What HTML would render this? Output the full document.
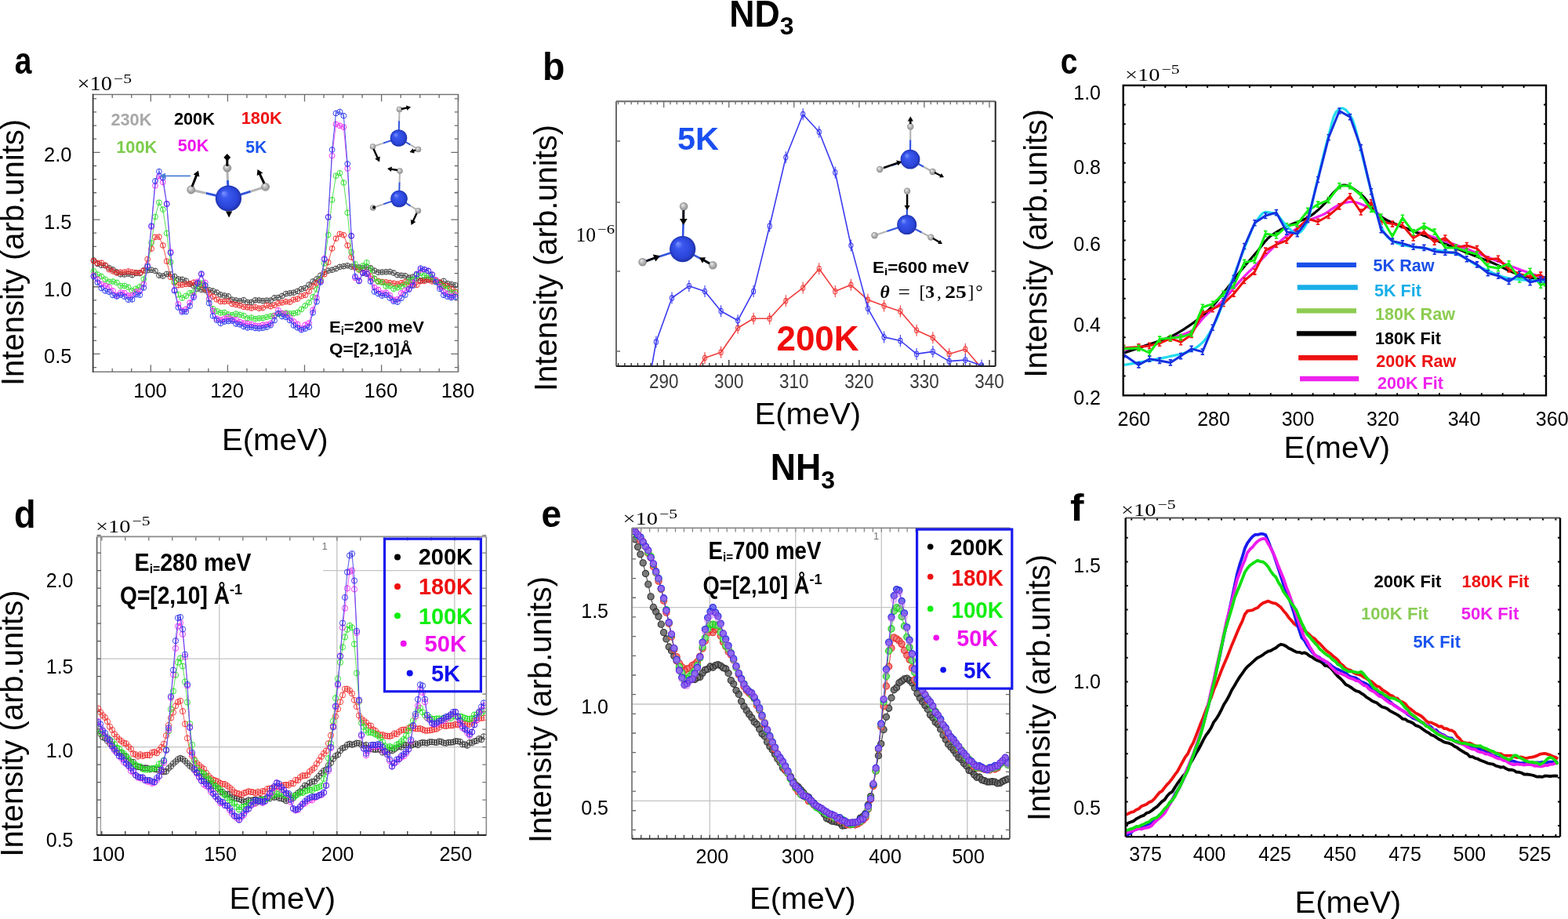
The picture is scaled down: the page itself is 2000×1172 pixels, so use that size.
<!DOCTYPE html>
<html><head><meta charset="utf-8"><title>ND3 / NH3 spectra</title>
<style>html,body{margin:0;padding:0;background:#fff;overflow:hidden;}svg{display:block;}</style></head>
<body><svg width="2000" height="1172" viewBox="0 0 2000 1172">
<rect width="2000" height="1172" fill="#fff"/>
<defs>
<radialGradient id="gN" cx="0.5" cy="0.5" r="0.5" fx="0.3" fy="0.28"><stop offset="0" stop-color="#7f98ff"/><stop offset="0.3" stop-color="#3a58ee"/><stop offset="0.8" stop-color="#2a44d8"/><stop offset="1" stop-color="#1d30a6"/></radialGradient>
<radialGradient id="gH" cx="0.5" cy="0.5" r="0.5" fx="0.35" fy="0.3"><stop offset="0" stop-color="#f0f0f0"/><stop offset="0.5" stop-color="#b8b8b8"/><stop offset="1" stop-color="#8a8a8a"/></radialGradient>
</defs><text x="930.3" y="33.6" font-family='"Liberation Sans", Arial, sans-serif' font-size="47.5" font-weight="bold" fill="#000"><tspan textLength="64.5" lengthAdjust="spacingAndGlyphs">ND</tspan><tspan font-size="32" dy="10.2">3</tspan></text>
<text x="982.8" y="611.8" font-family='"Liberation Sans", Arial, sans-serif' font-size="47.5" font-weight="bold" fill="#000"><tspan textLength="64.5" lengthAdjust="spacingAndGlyphs">NH</tspan><tspan font-size="32" dy="11">3</tspan></text>
<path d="M143.25,474.2v-4.5M167.78,474.2v-4.5M216.83,474.2v-4.5M241.35,474.2v-4.5M265.88,474.2v-4.5M314.93,474.2v-4.5M339.45,474.2v-4.5M363.98,474.2v-4.5M413.03,474.2v-4.5M437.55,474.2v-4.5M462.08,474.2v-4.5M511.12,474.2v-4.5M535.65,474.2v-4.5M560.17,474.2v-4.5" stroke="#6b6b6b" stroke-width="1.3" fill="none"/>
<path d="M192.3,474.2v-9M290.4,474.2v-9M388.5,474.2v-9M486.6,474.2v-9M584.7,474.2v-9" stroke="#6b6b6b" stroke-width="1.3" fill="none"/>
<path d="M143.25,120.5v4.5M167.78,120.5v4.5M216.83,120.5v4.5M241.35,120.5v4.5M265.88,120.5v4.5M314.93,120.5v4.5M339.45,120.5v4.5M363.98,120.5v4.5M413.03,120.5v4.5M437.55,120.5v4.5M462.08,120.5v4.5M511.12,120.5v4.5M535.65,120.5v4.5M560.17,120.5v4.5" stroke="#6b6b6b" stroke-width="1.3" fill="none"/>
<path d="M192.3,120.5v9M290.4,120.5v9M388.5,120.5v9M486.6,120.5v9M584.7,120.5v9" stroke="#6b6b6b" stroke-width="1.3" fill="none"/>
<path d="M118.6,468.59h4.5M118.6,434.31h4.5M118.6,417.17h4.5M118.6,400.03h4.5M118.6,382.89h4.5M118.6,348.61h4.5M118.6,331.47h4.5M118.6,314.33h4.5M118.6,297.19h4.5M118.6,262.91h4.5M118.6,245.77h4.5M118.6,228.63h4.5M118.6,211.49h4.5M118.6,177.21h4.5M118.6,160.07h4.5M118.6,142.93h4.5M118.6,125.79h4.5" stroke="#6b6b6b" stroke-width="1.3" fill="none"/>
<path d="M118.6,451.45h9M118.6,365.75h9M118.6,280.05h9M118.6,194.35h9" stroke="#6b6b6b" stroke-width="1.3" fill="none"/>
<path d="M584.3,468.59h-4.5M584.3,434.31h-4.5M584.3,417.17h-4.5M584.3,400.03h-4.5M584.3,382.89h-4.5M584.3,348.61h-4.5M584.3,331.47h-4.5M584.3,314.33h-4.5M584.3,297.19h-4.5M584.3,262.91h-4.5M584.3,245.77h-4.5M584.3,228.63h-4.5M584.3,211.49h-4.5M584.3,177.21h-4.5M584.3,160.07h-4.5M584.3,142.93h-4.5M584.3,125.79h-4.5" stroke="#6b6b6b" stroke-width="1.3" fill="none"/>
<path d="M584.3,451.45h-9M584.3,365.75h-9M584.3,280.05h-9M584.3,194.35h-9" stroke="#6b6b6b" stroke-width="1.3" fill="none"/>
<rect x="118.6" y="120.5" width="465.7" height="353.7" stroke="#707070" stroke-width="1.4" fill="none"/>
<line x1="118.6" y1="119.8" x2="118.6" y2="474.9" stroke="#383838" stroke-width="1.6"/>
<text x="191.5" y="507" font-size="25.5" font-weight="normal" fill="#000" text-anchor="middle" font-family='"Liberation Sans", Arial, sans-serif'>100</text>
<text x="289.6" y="507" font-size="25.5" font-weight="normal" fill="#000" text-anchor="middle" font-family='"Liberation Sans", Arial, sans-serif'>120</text>
<text x="387.7" y="507" font-size="25.5" font-weight="normal" fill="#000" text-anchor="middle" font-family='"Liberation Sans", Arial, sans-serif'>140</text>
<text x="485.8" y="507" font-size="25.5" font-weight="normal" fill="#000" text-anchor="middle" font-family='"Liberation Sans", Arial, sans-serif'>160</text>
<text x="583.9" y="507" font-size="25.5" font-weight="normal" fill="#000" text-anchor="middle" font-family='"Liberation Sans", Arial, sans-serif'>180</text>
<text x="91.5" y="463.45" font-size="25.5" font-weight="normal" fill="#000" text-anchor="end" font-family='"Liberation Sans", Arial, sans-serif'>0.5</text>
<text x="91.5" y="377.75" font-size="25.5" font-weight="normal" fill="#000" text-anchor="end" font-family='"Liberation Sans", Arial, sans-serif'>1.0</text>
<text x="91.5" y="292.05" font-size="25.5" font-weight="normal" fill="#000" text-anchor="end" font-family='"Liberation Sans", Arial, sans-serif'>1.5</text>
<text x="91.5" y="206.35" font-size="25.5" font-weight="normal" fill="#000" text-anchor="end" font-family='"Liberation Sans", Arial, sans-serif'>2.0</text>
<text x="98.5" y="115" font-family='"Liberation Serif", "Times New Roman", serif' font-size="25" fill="#000" textLength="44.5" lengthAdjust="spacingAndGlyphs">×10</text>
<text x="145" y="106.2" font-family='"Liberation Serif", "Times New Roman", serif' font-size="17.5" fill="#000" textLength="23" lengthAdjust="spacingAndGlyphs">−5</text>
<text transform="translate(18.67,94) scale(0.83,1.04)" x="0" y="0" font-family='"Liberation Sans", Arial, sans-serif' font-size="47" font-weight="bold" fill="#000">a</text>
<text x="283" y="573.8" font-size="38.3" font-weight="normal" fill="#000" text-anchor="start" font-family='"Liberation Sans", Arial, sans-serif' textLength="135.7" lengthAdjust="spacingAndGlyphs">E(meV)</text>
<text x="0" y="0" transform="translate(29.5,322) rotate(-90)" text-anchor="middle" font-family='"Liberation Sans", Arial, sans-serif' font-size="40" fill="#000">Intensity (arb.units)</text>
<g>
<polyline points="119.5,332.04 124.41,336.41 129.31,338.23 134.22,338.69 139.12,341.59 144.03,343.89 148.93,346.97 153.84,349.85 158.74,350.07 163.65,349.08 168.55,350.7 173.46,348.45 178.36,348.54 183.27,344.81 188.17,344.83 193.08,344.32 197.98,345.44 202.89,351.15 207.79,352.02 212.7,349.53 217.6,349.81 222.51,352.56 227.41,355.98 232.32,356.35 237.22,358.1 242.13,362.29 247.03,364.56 251.94,368.2 256.84,369.43 261.75,370.14 266.65,369.84 271.56,370.99 276.46,372.99 281.37,375.79 286.27,377 291.18,377.86 296.08,382.2 300.99,383.02 305.89,383.93 310.8,382.71 315.7,385.53 320.61,385.34 325.51,382.81 330.42,382.97 335.32,383.71 340.23,383.17 345.13,383.12 350.04,379.86 354.94,379.55 359.85,377.43 364.75,374.61 369.66,373.88 374.56,373.18 379.47,371.41 384.37,368.66 389.28,367.28 394.18,363.14 399.09,358.95 403.99,355.86 408.9,351.18 413.8,346.98 418.71,345.16 423.61,344.18 428.52,342.62 433.42,340.38 438.33,339.58 443.23,338.79 448.14,340.1 453.04,340.53 457.95,341.05 462.85,341.83 467.76,340.82 472.66,341.8 477.57,345.14 482.47,347.26 487.38,347.02 492.28,346.8 497.19,346.5 502.09,347.98 507,350.7 511.9,351.26 516.81,351.75 521.71,354.01 526.62,353.22 531.52,355.35 536.43,357.75 541.33,356.94 546.24,356.95 551.14,356.73 556.05,358.43 560.95,360.58 565.86,358.37 570.76,361.69 575.67,362.63 580.57,363.66" fill="none" stroke="#555" stroke-width="1" stroke-linejoin="round"/>
<path d="M116.1,332.04a3.4,3.4 0 1,0 6.8,0a3.4,3.4 0 1,0 -6.8,0M119.5,328.84v6.4M121,336.41a3.4,3.4 0 1,0 6.8,0a3.4,3.4 0 1,0 -6.8,0M124.41,333.21v6.4M125.91,338.23a3.4,3.4 0 1,0 6.8,0a3.4,3.4 0 1,0 -6.8,0M129.31,335.03v6.4M130.81,338.69a3.4,3.4 0 1,0 6.8,0a3.4,3.4 0 1,0 -6.8,0M134.22,335.49v6.4M135.72,341.59a3.4,3.4 0 1,0 6.8,0a3.4,3.4 0 1,0 -6.8,0M139.12,338.39v6.4M140.62,343.89a3.4,3.4 0 1,0 6.8,0a3.4,3.4 0 1,0 -6.8,0M144.03,340.69v6.4M145.53,346.97a3.4,3.4 0 1,0 6.8,0a3.4,3.4 0 1,0 -6.8,0M148.93,343.77v6.4M150.44,349.85a3.4,3.4 0 1,0 6.8,0a3.4,3.4 0 1,0 -6.8,0M153.84,346.65v6.4M155.34,350.07a3.4,3.4 0 1,0 6.8,0a3.4,3.4 0 1,0 -6.8,0M158.74,346.87v6.4M160.25,349.08a3.4,3.4 0 1,0 6.8,0a3.4,3.4 0 1,0 -6.8,0M163.65,345.88v6.4M165.15,350.7a3.4,3.4 0 1,0 6.8,0a3.4,3.4 0 1,0 -6.8,0M168.55,347.5v6.4M170.06,348.45a3.4,3.4 0 1,0 6.8,0a3.4,3.4 0 1,0 -6.8,0M173.46,345.25v6.4M174.96,348.54a3.4,3.4 0 1,0 6.8,0a3.4,3.4 0 1,0 -6.8,0M178.36,345.34v6.4M179.87,344.81a3.4,3.4 0 1,0 6.8,0a3.4,3.4 0 1,0 -6.8,0M183.27,341.61v6.4M184.77,344.83a3.4,3.4 0 1,0 6.8,0a3.4,3.4 0 1,0 -6.8,0M188.17,341.63v6.4M189.68,344.32a3.4,3.4 0 1,0 6.8,0a3.4,3.4 0 1,0 -6.8,0M193.08,341.12v6.4M194.58,345.44a3.4,3.4 0 1,0 6.8,0a3.4,3.4 0 1,0 -6.8,0M197.98,342.24v6.4M199.49,351.15a3.4,3.4 0 1,0 6.8,0a3.4,3.4 0 1,0 -6.8,0M202.89,347.95v6.4M204.39,352.02a3.4,3.4 0 1,0 6.8,0a3.4,3.4 0 1,0 -6.8,0M207.79,348.82v6.4M209.3,349.53a3.4,3.4 0 1,0 6.8,0a3.4,3.4 0 1,0 -6.8,0M212.7,346.33v6.4M214.2,349.81a3.4,3.4 0 1,0 6.8,0a3.4,3.4 0 1,0 -6.8,0M217.6,346.61v6.4M219.11,352.56a3.4,3.4 0 1,0 6.8,0a3.4,3.4 0 1,0 -6.8,0M222.51,349.36v6.4M224.01,355.98a3.4,3.4 0 1,0 6.8,0a3.4,3.4 0 1,0 -6.8,0M227.41,352.78v6.4M228.92,356.35a3.4,3.4 0 1,0 6.8,0a3.4,3.4 0 1,0 -6.8,0M232.32,353.15v6.4M233.82,358.1a3.4,3.4 0 1,0 6.8,0a3.4,3.4 0 1,0 -6.8,0M237.22,354.9v6.4M238.73,362.29a3.4,3.4 0 1,0 6.8,0a3.4,3.4 0 1,0 -6.8,0M242.13,359.09v6.4M243.63,364.56a3.4,3.4 0 1,0 6.8,0a3.4,3.4 0 1,0 -6.8,0M247.03,361.36v6.4M248.54,368.2a3.4,3.4 0 1,0 6.8,0a3.4,3.4 0 1,0 -6.8,0M251.94,365v6.4M253.44,369.43a3.4,3.4 0 1,0 6.8,0a3.4,3.4 0 1,0 -6.8,0M256.84,366.23v6.4M258.35,370.14a3.4,3.4 0 1,0 6.8,0a3.4,3.4 0 1,0 -6.8,0M261.75,366.94v6.4M263.25,369.84a3.4,3.4 0 1,0 6.8,0a3.4,3.4 0 1,0 -6.8,0M266.65,366.64v6.4M268.16,370.99a3.4,3.4 0 1,0 6.8,0a3.4,3.4 0 1,0 -6.8,0M271.56,367.79v6.4M273.06,372.99a3.4,3.4 0 1,0 6.8,0a3.4,3.4 0 1,0 -6.8,0M276.46,369.79v6.4M277.97,375.79a3.4,3.4 0 1,0 6.8,0a3.4,3.4 0 1,0 -6.8,0M281.37,372.59v6.4M282.87,377a3.4,3.4 0 1,0 6.8,0a3.4,3.4 0 1,0 -6.8,0M286.27,373.8v6.4M287.78,377.86a3.4,3.4 0 1,0 6.8,0a3.4,3.4 0 1,0 -6.8,0M291.18,374.66v6.4M292.68,382.2a3.4,3.4 0 1,0 6.8,0a3.4,3.4 0 1,0 -6.8,0M296.08,379v6.4M297.59,383.02a3.4,3.4 0 1,0 6.8,0a3.4,3.4 0 1,0 -6.8,0M300.99,379.82v6.4M302.49,383.93a3.4,3.4 0 1,0 6.8,0a3.4,3.4 0 1,0 -6.8,0M305.89,380.73v6.4M307.4,382.71a3.4,3.4 0 1,0 6.8,0a3.4,3.4 0 1,0 -6.8,0M310.8,379.51v6.4M312.3,385.53a3.4,3.4 0 1,0 6.8,0a3.4,3.4 0 1,0 -6.8,0M315.7,382.33v6.4M317.21,385.34a3.4,3.4 0 1,0 6.8,0a3.4,3.4 0 1,0 -6.8,0M320.61,382.14v6.4M322.11,382.81a3.4,3.4 0 1,0 6.8,0a3.4,3.4 0 1,0 -6.8,0M325.51,379.61v6.4M327.02,382.97a3.4,3.4 0 1,0 6.8,0a3.4,3.4 0 1,0 -6.8,0M330.42,379.77v6.4M331.92,383.71a3.4,3.4 0 1,0 6.8,0a3.4,3.4 0 1,0 -6.8,0M335.32,380.51v6.4M336.83,383.17a3.4,3.4 0 1,0 6.8,0a3.4,3.4 0 1,0 -6.8,0M340.23,379.97v6.4M341.73,383.12a3.4,3.4 0 1,0 6.8,0a3.4,3.4 0 1,0 -6.8,0M345.13,379.92v6.4M346.64,379.86a3.4,3.4 0 1,0 6.8,0a3.4,3.4 0 1,0 -6.8,0M350.04,376.66v6.4M351.54,379.55a3.4,3.4 0 1,0 6.8,0a3.4,3.4 0 1,0 -6.8,0M354.94,376.35v6.4M356.45,377.43a3.4,3.4 0 1,0 6.8,0a3.4,3.4 0 1,0 -6.8,0M359.85,374.23v6.4M361.35,374.61a3.4,3.4 0 1,0 6.8,0a3.4,3.4 0 1,0 -6.8,0M364.75,371.41v6.4M366.26,373.88a3.4,3.4 0 1,0 6.8,0a3.4,3.4 0 1,0 -6.8,0M369.66,370.68v6.4M371.16,373.18a3.4,3.4 0 1,0 6.8,0a3.4,3.4 0 1,0 -6.8,0M374.56,369.98v6.4M376.07,371.41a3.4,3.4 0 1,0 6.8,0a3.4,3.4 0 1,0 -6.8,0M379.47,368.21v6.4M380.97,368.66a3.4,3.4 0 1,0 6.8,0a3.4,3.4 0 1,0 -6.8,0M384.37,365.46v6.4M385.88,367.28a3.4,3.4 0 1,0 6.8,0a3.4,3.4 0 1,0 -6.8,0M389.28,364.08v6.4M390.78,363.14a3.4,3.4 0 1,0 6.8,0a3.4,3.4 0 1,0 -6.8,0M394.18,359.94v6.4M395.69,358.95a3.4,3.4 0 1,0 6.8,0a3.4,3.4 0 1,0 -6.8,0M399.09,355.75v6.4M400.59,355.86a3.4,3.4 0 1,0 6.8,0a3.4,3.4 0 1,0 -6.8,0M403.99,352.66v6.4M405.5,351.18a3.4,3.4 0 1,0 6.8,0a3.4,3.4 0 1,0 -6.8,0M408.9,347.98v6.4M410.4,346.98a3.4,3.4 0 1,0 6.8,0a3.4,3.4 0 1,0 -6.8,0M413.8,343.78v6.4M415.31,345.16a3.4,3.4 0 1,0 6.8,0a3.4,3.4 0 1,0 -6.8,0M418.71,341.96v6.4M420.21,344.18a3.4,3.4 0 1,0 6.8,0a3.4,3.4 0 1,0 -6.8,0M423.61,340.98v6.4M425.12,342.62a3.4,3.4 0 1,0 6.8,0a3.4,3.4 0 1,0 -6.8,0M428.52,339.42v6.4M430.02,340.38a3.4,3.4 0 1,0 6.8,0a3.4,3.4 0 1,0 -6.8,0M433.42,337.18v6.4M434.93,339.58a3.4,3.4 0 1,0 6.8,0a3.4,3.4 0 1,0 -6.8,0M438.33,336.38v6.4M439.83,338.79a3.4,3.4 0 1,0 6.8,0a3.4,3.4 0 1,0 -6.8,0M443.23,335.59v6.4M444.74,340.1a3.4,3.4 0 1,0 6.8,0a3.4,3.4 0 1,0 -6.8,0M448.14,336.9v6.4M449.64,340.53a3.4,3.4 0 1,0 6.8,0a3.4,3.4 0 1,0 -6.8,0M453.04,337.33v6.4M454.55,341.05a3.4,3.4 0 1,0 6.8,0a3.4,3.4 0 1,0 -6.8,0M457.95,337.85v6.4M459.45,341.83a3.4,3.4 0 1,0 6.8,0a3.4,3.4 0 1,0 -6.8,0M462.85,338.63v6.4M464.36,340.82a3.4,3.4 0 1,0 6.8,0a3.4,3.4 0 1,0 -6.8,0M467.76,337.62v6.4M469.26,341.8a3.4,3.4 0 1,0 6.8,0a3.4,3.4 0 1,0 -6.8,0M472.66,338.6v6.4M474.17,345.14a3.4,3.4 0 1,0 6.8,0a3.4,3.4 0 1,0 -6.8,0M477.57,341.94v6.4M479.07,347.26a3.4,3.4 0 1,0 6.8,0a3.4,3.4 0 1,0 -6.8,0M482.47,344.06v6.4M483.98,347.02a3.4,3.4 0 1,0 6.8,0a3.4,3.4 0 1,0 -6.8,0M487.38,343.82v6.4M488.88,346.8a3.4,3.4 0 1,0 6.8,0a3.4,3.4 0 1,0 -6.8,0M492.28,343.6v6.4M493.79,346.5a3.4,3.4 0 1,0 6.8,0a3.4,3.4 0 1,0 -6.8,0M497.19,343.3v6.4M498.69,347.98a3.4,3.4 0 1,0 6.8,0a3.4,3.4 0 1,0 -6.8,0M502.09,344.78v6.4M503.6,350.7a3.4,3.4 0 1,0 6.8,0a3.4,3.4 0 1,0 -6.8,0M507,347.5v6.4M508.5,351.26a3.4,3.4 0 1,0 6.8,0a3.4,3.4 0 1,0 -6.8,0M511.9,348.06v6.4M513.41,351.75a3.4,3.4 0 1,0 6.8,0a3.4,3.4 0 1,0 -6.8,0M516.81,348.55v6.4M518.31,354.01a3.4,3.4 0 1,0 6.8,0a3.4,3.4 0 1,0 -6.8,0M521.71,350.81v6.4M523.22,353.22a3.4,3.4 0 1,0 6.8,0a3.4,3.4 0 1,0 -6.8,0M526.62,350.02v6.4M528.12,355.35a3.4,3.4 0 1,0 6.8,0a3.4,3.4 0 1,0 -6.8,0M531.52,352.15v6.4M533.03,357.75a3.4,3.4 0 1,0 6.8,0a3.4,3.4 0 1,0 -6.8,0M536.43,354.55v6.4M537.93,356.94a3.4,3.4 0 1,0 6.8,0a3.4,3.4 0 1,0 -6.8,0M541.33,353.74v6.4M542.84,356.95a3.4,3.4 0 1,0 6.8,0a3.4,3.4 0 1,0 -6.8,0M546.24,353.75v6.4M547.74,356.73a3.4,3.4 0 1,0 6.8,0a3.4,3.4 0 1,0 -6.8,0M551.14,353.53v6.4M552.65,358.43a3.4,3.4 0 1,0 6.8,0a3.4,3.4 0 1,0 -6.8,0M556.05,355.23v6.4M557.55,360.58a3.4,3.4 0 1,0 6.8,0a3.4,3.4 0 1,0 -6.8,0M560.95,357.38v6.4M562.46,358.37a3.4,3.4 0 1,0 6.8,0a3.4,3.4 0 1,0 -6.8,0M565.86,355.17v6.4M567.36,361.69a3.4,3.4 0 1,0 6.8,0a3.4,3.4 0 1,0 -6.8,0M570.76,358.49v6.4M572.27,362.63a3.4,3.4 0 1,0 6.8,0a3.4,3.4 0 1,0 -6.8,0M575.67,359.43v6.4M577.17,363.66a3.4,3.4 0 1,0 6.8,0a3.4,3.4 0 1,0 -6.8,0M580.57,360.46v6.4" fill="none" stroke="#333" stroke-width="0.9"/>
<polyline points="119.5,332.73 124.41,335.4 129.31,335.24 134.22,338.25 139.12,343.63 144.03,345.9 148.93,348.12 153.84,347.23 158.74,347.12 163.65,346.06 168.55,347.05 173.46,347.67 178.36,347.75 183.27,345.18 188.17,330.49 193.08,317.1 197.98,302.36 202.89,302.1 207.79,312.94 212.7,333.24 217.6,353.35 222.51,360.33 227.41,363.69 232.32,363.22 237.22,362.41 242.13,362.1 247.03,360.2 251.94,361.32 256.84,363 261.75,368.42 266.65,374.37 271.56,378.19 276.46,381.87 281.37,384.52 286.27,384.57 291.18,384.08 296.08,387.57 300.99,388.51 305.89,389.57 310.8,391.37 315.7,391.96 320.61,393 325.51,391.75 330.42,393.25 335.32,392.68 340.23,389.61 345.13,390.77 350.04,389.18 354.94,386.9 359.85,385.87 364.75,384.77 369.66,385.19 374.56,382.15 379.47,381.18 384.37,377.61 389.28,376.34 394.18,371.45 399.09,365.11 403.99,360.92 408.9,357.86 413.8,349.77 418.71,334.51 423.61,316.92 428.52,304.2 433.42,298.36 438.33,299.75 443.23,312.96 448.14,328.08 453.04,341.31 457.95,344.05 462.85,347.95 467.76,349.26 472.66,352.04 477.57,355.51 482.47,358.48 487.38,359.5 492.28,359.84 497.19,360.64 502.09,361.23 507,362.19 511.9,360.81 516.81,359.52 521.71,362.71 526.62,363.22 531.52,363.39 536.43,358.62 541.33,358.35 546.24,356.57 551.14,358.89 556.05,358.09 560.95,360 565.86,364.53 570.76,364.52 575.67,368.35 580.57,371.95" fill="none" stroke="#f05050" stroke-width="1" stroke-linejoin="round"/>
<path d="M116.1,332.73a3.4,3.4 0 1,0 6.8,0a3.4,3.4 0 1,0 -6.8,0M119.5,329.53v6.4M121,335.4a3.4,3.4 0 1,0 6.8,0a3.4,3.4 0 1,0 -6.8,0M124.41,332.2v6.4M125.91,335.24a3.4,3.4 0 1,0 6.8,0a3.4,3.4 0 1,0 -6.8,0M129.31,332.04v6.4M130.81,338.25a3.4,3.4 0 1,0 6.8,0a3.4,3.4 0 1,0 -6.8,0M134.22,335.05v6.4M135.72,343.63a3.4,3.4 0 1,0 6.8,0a3.4,3.4 0 1,0 -6.8,0M139.12,340.43v6.4M140.62,345.9a3.4,3.4 0 1,0 6.8,0a3.4,3.4 0 1,0 -6.8,0M144.03,342.7v6.4M145.53,348.12a3.4,3.4 0 1,0 6.8,0a3.4,3.4 0 1,0 -6.8,0M148.93,344.92v6.4M150.44,347.23a3.4,3.4 0 1,0 6.8,0a3.4,3.4 0 1,0 -6.8,0M153.84,344.03v6.4M155.34,347.12a3.4,3.4 0 1,0 6.8,0a3.4,3.4 0 1,0 -6.8,0M158.74,343.92v6.4M160.25,346.06a3.4,3.4 0 1,0 6.8,0a3.4,3.4 0 1,0 -6.8,0M163.65,342.86v6.4M165.15,347.05a3.4,3.4 0 1,0 6.8,0a3.4,3.4 0 1,0 -6.8,0M168.55,343.85v6.4M170.06,347.67a3.4,3.4 0 1,0 6.8,0a3.4,3.4 0 1,0 -6.8,0M173.46,344.47v6.4M174.96,347.75a3.4,3.4 0 1,0 6.8,0a3.4,3.4 0 1,0 -6.8,0M178.36,344.55v6.4M179.87,345.18a3.4,3.4 0 1,0 6.8,0a3.4,3.4 0 1,0 -6.8,0M183.27,341.98v6.4M184.77,330.49a3.4,3.4 0 1,0 6.8,0a3.4,3.4 0 1,0 -6.8,0M188.17,327.29v6.4M189.68,317.1a3.4,3.4 0 1,0 6.8,0a3.4,3.4 0 1,0 -6.8,0M193.08,313.9v6.4M194.58,302.36a3.4,3.4 0 1,0 6.8,0a3.4,3.4 0 1,0 -6.8,0M197.98,299.16v6.4M199.49,302.1a3.4,3.4 0 1,0 6.8,0a3.4,3.4 0 1,0 -6.8,0M202.89,298.9v6.4M204.39,312.94a3.4,3.4 0 1,0 6.8,0a3.4,3.4 0 1,0 -6.8,0M207.79,309.74v6.4M209.3,333.24a3.4,3.4 0 1,0 6.8,0a3.4,3.4 0 1,0 -6.8,0M212.7,330.04v6.4M214.2,353.35a3.4,3.4 0 1,0 6.8,0a3.4,3.4 0 1,0 -6.8,0M217.6,350.15v6.4M219.11,360.33a3.4,3.4 0 1,0 6.8,0a3.4,3.4 0 1,0 -6.8,0M222.51,357.13v6.4M224.01,363.69a3.4,3.4 0 1,0 6.8,0a3.4,3.4 0 1,0 -6.8,0M227.41,360.49v6.4M228.92,363.22a3.4,3.4 0 1,0 6.8,0a3.4,3.4 0 1,0 -6.8,0M232.32,360.02v6.4M233.82,362.41a3.4,3.4 0 1,0 6.8,0a3.4,3.4 0 1,0 -6.8,0M237.22,359.21v6.4M238.73,362.1a3.4,3.4 0 1,0 6.8,0a3.4,3.4 0 1,0 -6.8,0M242.13,358.9v6.4M243.63,360.2a3.4,3.4 0 1,0 6.8,0a3.4,3.4 0 1,0 -6.8,0M247.03,357v6.4M248.54,361.32a3.4,3.4 0 1,0 6.8,0a3.4,3.4 0 1,0 -6.8,0M251.94,358.12v6.4M253.44,363a3.4,3.4 0 1,0 6.8,0a3.4,3.4 0 1,0 -6.8,0M256.84,359.8v6.4M258.35,368.42a3.4,3.4 0 1,0 6.8,0a3.4,3.4 0 1,0 -6.8,0M261.75,365.22v6.4M263.25,374.37a3.4,3.4 0 1,0 6.8,0a3.4,3.4 0 1,0 -6.8,0M266.65,371.17v6.4M268.16,378.19a3.4,3.4 0 1,0 6.8,0a3.4,3.4 0 1,0 -6.8,0M271.56,374.99v6.4M273.06,381.87a3.4,3.4 0 1,0 6.8,0a3.4,3.4 0 1,0 -6.8,0M276.46,378.67v6.4M277.97,384.52a3.4,3.4 0 1,0 6.8,0a3.4,3.4 0 1,0 -6.8,0M281.37,381.32v6.4M282.87,384.57a3.4,3.4 0 1,0 6.8,0a3.4,3.4 0 1,0 -6.8,0M286.27,381.37v6.4M287.78,384.08a3.4,3.4 0 1,0 6.8,0a3.4,3.4 0 1,0 -6.8,0M291.18,380.88v6.4M292.68,387.57a3.4,3.4 0 1,0 6.8,0a3.4,3.4 0 1,0 -6.8,0M296.08,384.37v6.4M297.59,388.51a3.4,3.4 0 1,0 6.8,0a3.4,3.4 0 1,0 -6.8,0M300.99,385.31v6.4M302.49,389.57a3.4,3.4 0 1,0 6.8,0a3.4,3.4 0 1,0 -6.8,0M305.89,386.37v6.4M307.4,391.37a3.4,3.4 0 1,0 6.8,0a3.4,3.4 0 1,0 -6.8,0M310.8,388.17v6.4M312.3,391.96a3.4,3.4 0 1,0 6.8,0a3.4,3.4 0 1,0 -6.8,0M315.7,388.76v6.4M317.21,393a3.4,3.4 0 1,0 6.8,0a3.4,3.4 0 1,0 -6.8,0M320.61,389.8v6.4M322.11,391.75a3.4,3.4 0 1,0 6.8,0a3.4,3.4 0 1,0 -6.8,0M325.51,388.55v6.4M327.02,393.25a3.4,3.4 0 1,0 6.8,0a3.4,3.4 0 1,0 -6.8,0M330.42,390.05v6.4M331.92,392.68a3.4,3.4 0 1,0 6.8,0a3.4,3.4 0 1,0 -6.8,0M335.32,389.48v6.4M336.83,389.61a3.4,3.4 0 1,0 6.8,0a3.4,3.4 0 1,0 -6.8,0M340.23,386.41v6.4M341.73,390.77a3.4,3.4 0 1,0 6.8,0a3.4,3.4 0 1,0 -6.8,0M345.13,387.57v6.4M346.64,389.18a3.4,3.4 0 1,0 6.8,0a3.4,3.4 0 1,0 -6.8,0M350.04,385.98v6.4M351.54,386.9a3.4,3.4 0 1,0 6.8,0a3.4,3.4 0 1,0 -6.8,0M354.94,383.7v6.4M356.45,385.87a3.4,3.4 0 1,0 6.8,0a3.4,3.4 0 1,0 -6.8,0M359.85,382.67v6.4M361.35,384.77a3.4,3.4 0 1,0 6.8,0a3.4,3.4 0 1,0 -6.8,0M364.75,381.57v6.4M366.26,385.19a3.4,3.4 0 1,0 6.8,0a3.4,3.4 0 1,0 -6.8,0M369.66,381.99v6.4M371.16,382.15a3.4,3.4 0 1,0 6.8,0a3.4,3.4 0 1,0 -6.8,0M374.56,378.95v6.4M376.07,381.18a3.4,3.4 0 1,0 6.8,0a3.4,3.4 0 1,0 -6.8,0M379.47,377.98v6.4M380.97,377.61a3.4,3.4 0 1,0 6.8,0a3.4,3.4 0 1,0 -6.8,0M384.37,374.41v6.4M385.88,376.34a3.4,3.4 0 1,0 6.8,0a3.4,3.4 0 1,0 -6.8,0M389.28,373.14v6.4M390.78,371.45a3.4,3.4 0 1,0 6.8,0a3.4,3.4 0 1,0 -6.8,0M394.18,368.25v6.4M395.69,365.11a3.4,3.4 0 1,0 6.8,0a3.4,3.4 0 1,0 -6.8,0M399.09,361.91v6.4M400.59,360.92a3.4,3.4 0 1,0 6.8,0a3.4,3.4 0 1,0 -6.8,0M403.99,357.72v6.4M405.5,357.86a3.4,3.4 0 1,0 6.8,0a3.4,3.4 0 1,0 -6.8,0M408.9,354.66v6.4M410.4,349.77a3.4,3.4 0 1,0 6.8,0a3.4,3.4 0 1,0 -6.8,0M413.8,346.57v6.4M415.31,334.51a3.4,3.4 0 1,0 6.8,0a3.4,3.4 0 1,0 -6.8,0M418.71,331.31v6.4M420.21,316.92a3.4,3.4 0 1,0 6.8,0a3.4,3.4 0 1,0 -6.8,0M423.61,313.72v6.4M425.12,304.2a3.4,3.4 0 1,0 6.8,0a3.4,3.4 0 1,0 -6.8,0M428.52,301v6.4M430.02,298.36a3.4,3.4 0 1,0 6.8,0a3.4,3.4 0 1,0 -6.8,0M433.42,295.16v6.4M434.93,299.75a3.4,3.4 0 1,0 6.8,0a3.4,3.4 0 1,0 -6.8,0M438.33,296.55v6.4M439.83,312.96a3.4,3.4 0 1,0 6.8,0a3.4,3.4 0 1,0 -6.8,0M443.23,309.76v6.4M444.74,328.08a3.4,3.4 0 1,0 6.8,0a3.4,3.4 0 1,0 -6.8,0M448.14,324.88v6.4M449.64,341.31a3.4,3.4 0 1,0 6.8,0a3.4,3.4 0 1,0 -6.8,0M453.04,338.11v6.4M454.55,344.05a3.4,3.4 0 1,0 6.8,0a3.4,3.4 0 1,0 -6.8,0M457.95,340.85v6.4M459.45,347.95a3.4,3.4 0 1,0 6.8,0a3.4,3.4 0 1,0 -6.8,0M462.85,344.75v6.4M464.36,349.26a3.4,3.4 0 1,0 6.8,0a3.4,3.4 0 1,0 -6.8,0M467.76,346.06v6.4M469.26,352.04a3.4,3.4 0 1,0 6.8,0a3.4,3.4 0 1,0 -6.8,0M472.66,348.84v6.4M474.17,355.51a3.4,3.4 0 1,0 6.8,0a3.4,3.4 0 1,0 -6.8,0M477.57,352.31v6.4M479.07,358.48a3.4,3.4 0 1,0 6.8,0a3.4,3.4 0 1,0 -6.8,0M482.47,355.28v6.4M483.98,359.5a3.4,3.4 0 1,0 6.8,0a3.4,3.4 0 1,0 -6.8,0M487.38,356.3v6.4M488.88,359.84a3.4,3.4 0 1,0 6.8,0a3.4,3.4 0 1,0 -6.8,0M492.28,356.64v6.4M493.79,360.64a3.4,3.4 0 1,0 6.8,0a3.4,3.4 0 1,0 -6.8,0M497.19,357.44v6.4M498.69,361.23a3.4,3.4 0 1,0 6.8,0a3.4,3.4 0 1,0 -6.8,0M502.09,358.03v6.4M503.6,362.19a3.4,3.4 0 1,0 6.8,0a3.4,3.4 0 1,0 -6.8,0M507,358.99v6.4M508.5,360.81a3.4,3.4 0 1,0 6.8,0a3.4,3.4 0 1,0 -6.8,0M511.9,357.61v6.4M513.41,359.52a3.4,3.4 0 1,0 6.8,0a3.4,3.4 0 1,0 -6.8,0M516.81,356.32v6.4M518.31,362.71a3.4,3.4 0 1,0 6.8,0a3.4,3.4 0 1,0 -6.8,0M521.71,359.51v6.4M523.22,363.22a3.4,3.4 0 1,0 6.8,0a3.4,3.4 0 1,0 -6.8,0M526.62,360.02v6.4M528.12,363.39a3.4,3.4 0 1,0 6.8,0a3.4,3.4 0 1,0 -6.8,0M531.52,360.19v6.4M533.03,358.62a3.4,3.4 0 1,0 6.8,0a3.4,3.4 0 1,0 -6.8,0M536.43,355.42v6.4M537.93,358.35a3.4,3.4 0 1,0 6.8,0a3.4,3.4 0 1,0 -6.8,0M541.33,355.15v6.4M542.84,356.57a3.4,3.4 0 1,0 6.8,0a3.4,3.4 0 1,0 -6.8,0M546.24,353.37v6.4M547.74,358.89a3.4,3.4 0 1,0 6.8,0a3.4,3.4 0 1,0 -6.8,0M551.14,355.69v6.4M552.65,358.09a3.4,3.4 0 1,0 6.8,0a3.4,3.4 0 1,0 -6.8,0M556.05,354.89v6.4M557.55,360a3.4,3.4 0 1,0 6.8,0a3.4,3.4 0 1,0 -6.8,0M560.95,356.8v6.4M562.46,364.53a3.4,3.4 0 1,0 6.8,0a3.4,3.4 0 1,0 -6.8,0M565.86,361.33v6.4M567.36,364.52a3.4,3.4 0 1,0 6.8,0a3.4,3.4 0 1,0 -6.8,0M570.76,361.32v6.4M572.27,368.35a3.4,3.4 0 1,0 6.8,0a3.4,3.4 0 1,0 -6.8,0M575.67,365.15v6.4M577.17,371.95a3.4,3.4 0 1,0 6.8,0a3.4,3.4 0 1,0 -6.8,0M580.57,368.75v6.4" fill="none" stroke="#ee2020" stroke-width="0.9"/>
<polyline points="119.5,345.88 124.41,349.95 129.31,352.49 134.22,356.33 139.12,359.3 144.03,359.03 148.93,360.39 153.84,364.55 158.74,364.49 163.65,366.28 168.55,370.58 173.46,368.2 178.36,365.66 183.27,356.06 188.17,339.1 193.08,309.57 197.98,276.48 202.89,258.27 207.79,267.09 212.7,297.48 217.6,334.19 222.51,359.08 227.41,375.74 232.32,380.11 237.22,377.3 242.13,373.69 247.03,372.71 251.94,365.13 256.84,360.96 261.75,364.28 266.65,381.85 271.56,393.82 276.46,396.74 281.37,398.86 286.27,398.55 291.18,400.94 296.08,401.71 300.99,400.2 305.89,401.31 310.8,402.55 315.7,405.87 320.61,405.08 325.51,406.59 330.42,405.88 335.32,405.63 340.23,404.33 345.13,403.14 350.04,402.25 354.94,400.6 359.85,399.98 364.75,399.08 369.66,399.87 374.56,399.64 379.47,398.46 384.37,394.48 389.28,389.9 394.18,385.77 399.09,378.72 403.99,368.93 408.9,356.43 413.8,335.92 418.71,299.46 423.61,254.89 428.52,224.21 433.42,220.78 438.33,233.02 443.23,271.27 448.14,321.47 453.04,336.82 457.95,343.5 462.85,338.98 467.76,334.88 472.66,343.91 477.57,355.19 482.47,359.29 487.38,360.1 492.28,365.03 497.19,364.68 502.09,368.3 507,366.82 511.9,365.62 516.81,362.98 521.71,358.32 526.62,356.63 531.52,351.17 536.43,348.48 541.33,351.77 546.24,351.57 551.14,353.71 556.05,358.3 560.95,363.05 565.86,365.69 570.76,368.24 575.67,372.96 580.57,373.26" fill="none" stroke="#55dd55" stroke-width="1" stroke-linejoin="round"/>
<path d="M116.1,345.88a3.4,3.4 0 1,0 6.8,0a3.4,3.4 0 1,0 -6.8,0M119.5,342.68v6.4M121,349.95a3.4,3.4 0 1,0 6.8,0a3.4,3.4 0 1,0 -6.8,0M124.41,346.75v6.4M125.91,352.49a3.4,3.4 0 1,0 6.8,0a3.4,3.4 0 1,0 -6.8,0M129.31,349.29v6.4M130.81,356.33a3.4,3.4 0 1,0 6.8,0a3.4,3.4 0 1,0 -6.8,0M134.22,353.13v6.4M135.72,359.3a3.4,3.4 0 1,0 6.8,0a3.4,3.4 0 1,0 -6.8,0M139.12,356.1v6.4M140.62,359.03a3.4,3.4 0 1,0 6.8,0a3.4,3.4 0 1,0 -6.8,0M144.03,355.83v6.4M145.53,360.39a3.4,3.4 0 1,0 6.8,0a3.4,3.4 0 1,0 -6.8,0M148.93,357.19v6.4M150.44,364.55a3.4,3.4 0 1,0 6.8,0a3.4,3.4 0 1,0 -6.8,0M153.84,361.35v6.4M155.34,364.49a3.4,3.4 0 1,0 6.8,0a3.4,3.4 0 1,0 -6.8,0M158.74,361.29v6.4M160.25,366.28a3.4,3.4 0 1,0 6.8,0a3.4,3.4 0 1,0 -6.8,0M163.65,363.08v6.4M165.15,370.58a3.4,3.4 0 1,0 6.8,0a3.4,3.4 0 1,0 -6.8,0M168.55,367.38v6.4M170.06,368.2a3.4,3.4 0 1,0 6.8,0a3.4,3.4 0 1,0 -6.8,0M173.46,365v6.4M174.96,365.66a3.4,3.4 0 1,0 6.8,0a3.4,3.4 0 1,0 -6.8,0M178.36,362.46v6.4M179.87,356.06a3.4,3.4 0 1,0 6.8,0a3.4,3.4 0 1,0 -6.8,0M183.27,352.86v6.4M184.77,339.1a3.4,3.4 0 1,0 6.8,0a3.4,3.4 0 1,0 -6.8,0M188.17,335.9v6.4M189.68,309.57a3.4,3.4 0 1,0 6.8,0a3.4,3.4 0 1,0 -6.8,0M193.08,306.37v6.4M194.58,276.48a3.4,3.4 0 1,0 6.8,0a3.4,3.4 0 1,0 -6.8,0M197.98,273.28v6.4M199.49,258.27a3.4,3.4 0 1,0 6.8,0a3.4,3.4 0 1,0 -6.8,0M202.89,255.07v6.4M204.39,267.09a3.4,3.4 0 1,0 6.8,0a3.4,3.4 0 1,0 -6.8,0M207.79,263.89v6.4M209.3,297.48a3.4,3.4 0 1,0 6.8,0a3.4,3.4 0 1,0 -6.8,0M212.7,294.28v6.4M214.2,334.19a3.4,3.4 0 1,0 6.8,0a3.4,3.4 0 1,0 -6.8,0M217.6,330.99v6.4M219.11,359.08a3.4,3.4 0 1,0 6.8,0a3.4,3.4 0 1,0 -6.8,0M222.51,355.88v6.4M224.01,375.74a3.4,3.4 0 1,0 6.8,0a3.4,3.4 0 1,0 -6.8,0M227.41,372.54v6.4M228.92,380.11a3.4,3.4 0 1,0 6.8,0a3.4,3.4 0 1,0 -6.8,0M232.32,376.91v6.4M233.82,377.3a3.4,3.4 0 1,0 6.8,0a3.4,3.4 0 1,0 -6.8,0M237.22,374.1v6.4M238.73,373.69a3.4,3.4 0 1,0 6.8,0a3.4,3.4 0 1,0 -6.8,0M242.13,370.49v6.4M243.63,372.71a3.4,3.4 0 1,0 6.8,0a3.4,3.4 0 1,0 -6.8,0M247.03,369.51v6.4M248.54,365.13a3.4,3.4 0 1,0 6.8,0a3.4,3.4 0 1,0 -6.8,0M251.94,361.93v6.4M253.44,360.96a3.4,3.4 0 1,0 6.8,0a3.4,3.4 0 1,0 -6.8,0M256.84,357.76v6.4M258.35,364.28a3.4,3.4 0 1,0 6.8,0a3.4,3.4 0 1,0 -6.8,0M261.75,361.08v6.4M263.25,381.85a3.4,3.4 0 1,0 6.8,0a3.4,3.4 0 1,0 -6.8,0M266.65,378.65v6.4M268.16,393.82a3.4,3.4 0 1,0 6.8,0a3.4,3.4 0 1,0 -6.8,0M271.56,390.62v6.4M273.06,396.74a3.4,3.4 0 1,0 6.8,0a3.4,3.4 0 1,0 -6.8,0M276.46,393.54v6.4M277.97,398.86a3.4,3.4 0 1,0 6.8,0a3.4,3.4 0 1,0 -6.8,0M281.37,395.66v6.4M282.87,398.55a3.4,3.4 0 1,0 6.8,0a3.4,3.4 0 1,0 -6.8,0M286.27,395.35v6.4M287.78,400.94a3.4,3.4 0 1,0 6.8,0a3.4,3.4 0 1,0 -6.8,0M291.18,397.74v6.4M292.68,401.71a3.4,3.4 0 1,0 6.8,0a3.4,3.4 0 1,0 -6.8,0M296.08,398.51v6.4M297.59,400.2a3.4,3.4 0 1,0 6.8,0a3.4,3.4 0 1,0 -6.8,0M300.99,397v6.4M302.49,401.31a3.4,3.4 0 1,0 6.8,0a3.4,3.4 0 1,0 -6.8,0M305.89,398.11v6.4M307.4,402.55a3.4,3.4 0 1,0 6.8,0a3.4,3.4 0 1,0 -6.8,0M310.8,399.35v6.4M312.3,405.87a3.4,3.4 0 1,0 6.8,0a3.4,3.4 0 1,0 -6.8,0M315.7,402.67v6.4M317.21,405.08a3.4,3.4 0 1,0 6.8,0a3.4,3.4 0 1,0 -6.8,0M320.61,401.88v6.4M322.11,406.59a3.4,3.4 0 1,0 6.8,0a3.4,3.4 0 1,0 -6.8,0M325.51,403.39v6.4M327.02,405.88a3.4,3.4 0 1,0 6.8,0a3.4,3.4 0 1,0 -6.8,0M330.42,402.68v6.4M331.92,405.63a3.4,3.4 0 1,0 6.8,0a3.4,3.4 0 1,0 -6.8,0M335.32,402.43v6.4M336.83,404.33a3.4,3.4 0 1,0 6.8,0a3.4,3.4 0 1,0 -6.8,0M340.23,401.13v6.4M341.73,403.14a3.4,3.4 0 1,0 6.8,0a3.4,3.4 0 1,0 -6.8,0M345.13,399.94v6.4M346.64,402.25a3.4,3.4 0 1,0 6.8,0a3.4,3.4 0 1,0 -6.8,0M350.04,399.05v6.4M351.54,400.6a3.4,3.4 0 1,0 6.8,0a3.4,3.4 0 1,0 -6.8,0M354.94,397.4v6.4M356.45,399.98a3.4,3.4 0 1,0 6.8,0a3.4,3.4 0 1,0 -6.8,0M359.85,396.78v6.4M361.35,399.08a3.4,3.4 0 1,0 6.8,0a3.4,3.4 0 1,0 -6.8,0M364.75,395.88v6.4M366.26,399.87a3.4,3.4 0 1,0 6.8,0a3.4,3.4 0 1,0 -6.8,0M369.66,396.67v6.4M371.16,399.64a3.4,3.4 0 1,0 6.8,0a3.4,3.4 0 1,0 -6.8,0M374.56,396.44v6.4M376.07,398.46a3.4,3.4 0 1,0 6.8,0a3.4,3.4 0 1,0 -6.8,0M379.47,395.26v6.4M380.97,394.48a3.4,3.4 0 1,0 6.8,0a3.4,3.4 0 1,0 -6.8,0M384.37,391.28v6.4M385.88,389.9a3.4,3.4 0 1,0 6.8,0a3.4,3.4 0 1,0 -6.8,0M389.28,386.7v6.4M390.78,385.77a3.4,3.4 0 1,0 6.8,0a3.4,3.4 0 1,0 -6.8,0M394.18,382.57v6.4M395.69,378.72a3.4,3.4 0 1,0 6.8,0a3.4,3.4 0 1,0 -6.8,0M399.09,375.52v6.4M400.59,368.93a3.4,3.4 0 1,0 6.8,0a3.4,3.4 0 1,0 -6.8,0M403.99,365.73v6.4M405.5,356.43a3.4,3.4 0 1,0 6.8,0a3.4,3.4 0 1,0 -6.8,0M408.9,353.23v6.4M410.4,335.92a3.4,3.4 0 1,0 6.8,0a3.4,3.4 0 1,0 -6.8,0M413.8,332.72v6.4M415.31,299.46a3.4,3.4 0 1,0 6.8,0a3.4,3.4 0 1,0 -6.8,0M418.71,296.26v6.4M420.21,254.89a3.4,3.4 0 1,0 6.8,0a3.4,3.4 0 1,0 -6.8,0M423.61,251.69v6.4M425.12,224.21a3.4,3.4 0 1,0 6.8,0a3.4,3.4 0 1,0 -6.8,0M428.52,221.01v6.4M430.02,220.78a3.4,3.4 0 1,0 6.8,0a3.4,3.4 0 1,0 -6.8,0M433.42,217.58v6.4M434.93,233.02a3.4,3.4 0 1,0 6.8,0a3.4,3.4 0 1,0 -6.8,0M438.33,229.82v6.4M439.83,271.27a3.4,3.4 0 1,0 6.8,0a3.4,3.4 0 1,0 -6.8,0M443.23,268.07v6.4M444.74,321.47a3.4,3.4 0 1,0 6.8,0a3.4,3.4 0 1,0 -6.8,0M448.14,318.27v6.4M449.64,336.82a3.4,3.4 0 1,0 6.8,0a3.4,3.4 0 1,0 -6.8,0M453.04,333.62v6.4M454.55,343.5a3.4,3.4 0 1,0 6.8,0a3.4,3.4 0 1,0 -6.8,0M457.95,340.3v6.4M459.45,338.98a3.4,3.4 0 1,0 6.8,0a3.4,3.4 0 1,0 -6.8,0M462.85,335.78v6.4M464.36,334.88a3.4,3.4 0 1,0 6.8,0a3.4,3.4 0 1,0 -6.8,0M467.76,331.68v6.4M469.26,343.91a3.4,3.4 0 1,0 6.8,0a3.4,3.4 0 1,0 -6.8,0M472.66,340.71v6.4M474.17,355.19a3.4,3.4 0 1,0 6.8,0a3.4,3.4 0 1,0 -6.8,0M477.57,351.99v6.4M479.07,359.29a3.4,3.4 0 1,0 6.8,0a3.4,3.4 0 1,0 -6.8,0M482.47,356.09v6.4M483.98,360.1a3.4,3.4 0 1,0 6.8,0a3.4,3.4 0 1,0 -6.8,0M487.38,356.9v6.4M488.88,365.03a3.4,3.4 0 1,0 6.8,0a3.4,3.4 0 1,0 -6.8,0M492.28,361.83v6.4M493.79,364.68a3.4,3.4 0 1,0 6.8,0a3.4,3.4 0 1,0 -6.8,0M497.19,361.48v6.4M498.69,368.3a3.4,3.4 0 1,0 6.8,0a3.4,3.4 0 1,0 -6.8,0M502.09,365.1v6.4M503.6,366.82a3.4,3.4 0 1,0 6.8,0a3.4,3.4 0 1,0 -6.8,0M507,363.62v6.4M508.5,365.62a3.4,3.4 0 1,0 6.8,0a3.4,3.4 0 1,0 -6.8,0M511.9,362.42v6.4M513.41,362.98a3.4,3.4 0 1,0 6.8,0a3.4,3.4 0 1,0 -6.8,0M516.81,359.78v6.4M518.31,358.32a3.4,3.4 0 1,0 6.8,0a3.4,3.4 0 1,0 -6.8,0M521.71,355.12v6.4M523.22,356.63a3.4,3.4 0 1,0 6.8,0a3.4,3.4 0 1,0 -6.8,0M526.62,353.43v6.4M528.12,351.17a3.4,3.4 0 1,0 6.8,0a3.4,3.4 0 1,0 -6.8,0M531.52,347.97v6.4M533.03,348.48a3.4,3.4 0 1,0 6.8,0a3.4,3.4 0 1,0 -6.8,0M536.43,345.28v6.4M537.93,351.77a3.4,3.4 0 1,0 6.8,0a3.4,3.4 0 1,0 -6.8,0M541.33,348.57v6.4M542.84,351.57a3.4,3.4 0 1,0 6.8,0a3.4,3.4 0 1,0 -6.8,0M546.24,348.37v6.4M547.74,353.71a3.4,3.4 0 1,0 6.8,0a3.4,3.4 0 1,0 -6.8,0M551.14,350.51v6.4M552.65,358.3a3.4,3.4 0 1,0 6.8,0a3.4,3.4 0 1,0 -6.8,0M556.05,355.1v6.4M557.55,363.05a3.4,3.4 0 1,0 6.8,0a3.4,3.4 0 1,0 -6.8,0M560.95,359.85v6.4M562.46,365.69a3.4,3.4 0 1,0 6.8,0a3.4,3.4 0 1,0 -6.8,0M565.86,362.49v6.4M567.36,368.24a3.4,3.4 0 1,0 6.8,0a3.4,3.4 0 1,0 -6.8,0M570.76,365.04v6.4M572.27,372.96a3.4,3.4 0 1,0 6.8,0a3.4,3.4 0 1,0 -6.8,0M575.67,369.76v6.4M577.17,373.26a3.4,3.4 0 1,0 6.8,0a3.4,3.4 0 1,0 -6.8,0M580.57,370.06v6.4" fill="none" stroke="#22dd22" stroke-width="0.9"/>
<polyline points="119.5,351.21 124.41,356.21 129.31,362.57 134.22,364.43 139.12,366.07 144.03,370.83 148.93,376.85 153.84,373.03 158.74,373.72 163.65,376.94 168.55,376.77 173.46,372.26 178.36,371.25 183.27,362.51 188.17,338.03 193.08,289.14 197.98,236.79 202.89,224.59 207.79,232.32 212.7,259.72 217.6,321 222.51,369.58 227.41,387.84 232.32,396.11 237.22,394.4 242.13,386.08 247.03,377.1 251.94,359.21 256.84,349.98 261.75,360.41 266.65,380.95 271.56,396.41 276.46,406.37 281.37,408.01 286.27,406.24 291.18,404.45 296.08,407.42 300.99,407.83 305.89,410.48 310.8,412.08 315.7,412.71 320.61,413.59 325.51,415.23 330.42,415.75 335.32,414.31 340.23,413.98 345.13,412.43 350.04,402.83 354.94,395.76 359.85,399.46 364.75,400.2 369.66,405.23 374.56,409.89 379.47,413.48 384.37,418.87 389.28,414.25 394.18,412.11 399.09,395.33 403.99,379.72 408.9,358.96 413.8,329.62 418.71,276.74 423.61,198.62 428.52,158.36 433.42,160.3 438.33,162.1 443.23,214.97 448.14,301.16 453.04,354.52 457.95,357.5 462.85,348.28 467.76,347.92 472.66,355.01 477.57,366.56 482.47,369.61 487.38,374.18 492.28,373.2 497.19,376.62 502.09,382.27 507,381.78 511.9,373.86 516.81,370.27 521.71,368.16 526.62,360.51 531.52,349.44 536.43,344.09 541.33,343.69 546.24,345.23 551.14,350.07 556.05,356.81 560.95,365.61 565.86,371.78 570.76,374.41 575.67,378.11 580.57,375.47" fill="none" stroke="#ee55ee" stroke-width="1" stroke-linejoin="round"/>
<path d="M116.1,351.21a3.4,3.4 0 1,0 6.8,0a3.4,3.4 0 1,0 -6.8,0M119.5,348.01v6.4M121,356.21a3.4,3.4 0 1,0 6.8,0a3.4,3.4 0 1,0 -6.8,0M124.41,353.01v6.4M125.91,362.57a3.4,3.4 0 1,0 6.8,0a3.4,3.4 0 1,0 -6.8,0M129.31,359.37v6.4M130.81,364.43a3.4,3.4 0 1,0 6.8,0a3.4,3.4 0 1,0 -6.8,0M134.22,361.23v6.4M135.72,366.07a3.4,3.4 0 1,0 6.8,0a3.4,3.4 0 1,0 -6.8,0M139.12,362.87v6.4M140.62,370.83a3.4,3.4 0 1,0 6.8,0a3.4,3.4 0 1,0 -6.8,0M144.03,367.63v6.4M145.53,376.85a3.4,3.4 0 1,0 6.8,0a3.4,3.4 0 1,0 -6.8,0M148.93,373.65v6.4M150.44,373.03a3.4,3.4 0 1,0 6.8,0a3.4,3.4 0 1,0 -6.8,0M153.84,369.83v6.4M155.34,373.72a3.4,3.4 0 1,0 6.8,0a3.4,3.4 0 1,0 -6.8,0M158.74,370.52v6.4M160.25,376.94a3.4,3.4 0 1,0 6.8,0a3.4,3.4 0 1,0 -6.8,0M163.65,373.74v6.4M165.15,376.77a3.4,3.4 0 1,0 6.8,0a3.4,3.4 0 1,0 -6.8,0M168.55,373.57v6.4M170.06,372.26a3.4,3.4 0 1,0 6.8,0a3.4,3.4 0 1,0 -6.8,0M173.46,369.06v6.4M174.96,371.25a3.4,3.4 0 1,0 6.8,0a3.4,3.4 0 1,0 -6.8,0M178.36,368.05v6.4M179.87,362.51a3.4,3.4 0 1,0 6.8,0a3.4,3.4 0 1,0 -6.8,0M183.27,359.31v6.4M184.77,338.03a3.4,3.4 0 1,0 6.8,0a3.4,3.4 0 1,0 -6.8,0M188.17,334.83v6.4M189.68,289.14a3.4,3.4 0 1,0 6.8,0a3.4,3.4 0 1,0 -6.8,0M193.08,285.94v6.4M194.58,236.79a3.4,3.4 0 1,0 6.8,0a3.4,3.4 0 1,0 -6.8,0M197.98,233.59v6.4M199.49,224.59a3.4,3.4 0 1,0 6.8,0a3.4,3.4 0 1,0 -6.8,0M202.89,221.39v6.4M204.39,232.32a3.4,3.4 0 1,0 6.8,0a3.4,3.4 0 1,0 -6.8,0M207.79,229.12v6.4M209.3,259.72a3.4,3.4 0 1,0 6.8,0a3.4,3.4 0 1,0 -6.8,0M212.7,256.52v6.4M214.2,321a3.4,3.4 0 1,0 6.8,0a3.4,3.4 0 1,0 -6.8,0M217.6,317.8v6.4M219.11,369.58a3.4,3.4 0 1,0 6.8,0a3.4,3.4 0 1,0 -6.8,0M222.51,366.38v6.4M224.01,387.84a3.4,3.4 0 1,0 6.8,0a3.4,3.4 0 1,0 -6.8,0M227.41,384.64v6.4M228.92,396.11a3.4,3.4 0 1,0 6.8,0a3.4,3.4 0 1,0 -6.8,0M232.32,392.91v6.4M233.82,394.4a3.4,3.4 0 1,0 6.8,0a3.4,3.4 0 1,0 -6.8,0M237.22,391.2v6.4M238.73,386.08a3.4,3.4 0 1,0 6.8,0a3.4,3.4 0 1,0 -6.8,0M242.13,382.88v6.4M243.63,377.1a3.4,3.4 0 1,0 6.8,0a3.4,3.4 0 1,0 -6.8,0M247.03,373.9v6.4M248.54,359.21a3.4,3.4 0 1,0 6.8,0a3.4,3.4 0 1,0 -6.8,0M251.94,356.01v6.4M253.44,349.98a3.4,3.4 0 1,0 6.8,0a3.4,3.4 0 1,0 -6.8,0M256.84,346.78v6.4M258.35,360.41a3.4,3.4 0 1,0 6.8,0a3.4,3.4 0 1,0 -6.8,0M261.75,357.21v6.4M263.25,380.95a3.4,3.4 0 1,0 6.8,0a3.4,3.4 0 1,0 -6.8,0M266.65,377.75v6.4M268.16,396.41a3.4,3.4 0 1,0 6.8,0a3.4,3.4 0 1,0 -6.8,0M271.56,393.21v6.4M273.06,406.37a3.4,3.4 0 1,0 6.8,0a3.4,3.4 0 1,0 -6.8,0M276.46,403.17v6.4M277.97,408.01a3.4,3.4 0 1,0 6.8,0a3.4,3.4 0 1,0 -6.8,0M281.37,404.81v6.4M282.87,406.24a3.4,3.4 0 1,0 6.8,0a3.4,3.4 0 1,0 -6.8,0M286.27,403.04v6.4M287.78,404.45a3.4,3.4 0 1,0 6.8,0a3.4,3.4 0 1,0 -6.8,0M291.18,401.25v6.4M292.68,407.42a3.4,3.4 0 1,0 6.8,0a3.4,3.4 0 1,0 -6.8,0M296.08,404.22v6.4M297.59,407.83a3.4,3.4 0 1,0 6.8,0a3.4,3.4 0 1,0 -6.8,0M300.99,404.63v6.4M302.49,410.48a3.4,3.4 0 1,0 6.8,0a3.4,3.4 0 1,0 -6.8,0M305.89,407.28v6.4M307.4,412.08a3.4,3.4 0 1,0 6.8,0a3.4,3.4 0 1,0 -6.8,0M310.8,408.88v6.4M312.3,412.71a3.4,3.4 0 1,0 6.8,0a3.4,3.4 0 1,0 -6.8,0M315.7,409.51v6.4M317.21,413.59a3.4,3.4 0 1,0 6.8,0a3.4,3.4 0 1,0 -6.8,0M320.61,410.39v6.4M322.11,415.23a3.4,3.4 0 1,0 6.8,0a3.4,3.4 0 1,0 -6.8,0M325.51,412.03v6.4M327.02,415.75a3.4,3.4 0 1,0 6.8,0a3.4,3.4 0 1,0 -6.8,0M330.42,412.55v6.4M331.92,414.31a3.4,3.4 0 1,0 6.8,0a3.4,3.4 0 1,0 -6.8,0M335.32,411.11v6.4M336.83,413.98a3.4,3.4 0 1,0 6.8,0a3.4,3.4 0 1,0 -6.8,0M340.23,410.78v6.4M341.73,412.43a3.4,3.4 0 1,0 6.8,0a3.4,3.4 0 1,0 -6.8,0M345.13,409.23v6.4M346.64,402.83a3.4,3.4 0 1,0 6.8,0a3.4,3.4 0 1,0 -6.8,0M350.04,399.63v6.4M351.54,395.76a3.4,3.4 0 1,0 6.8,0a3.4,3.4 0 1,0 -6.8,0M354.94,392.56v6.4M356.45,399.46a3.4,3.4 0 1,0 6.8,0a3.4,3.4 0 1,0 -6.8,0M359.85,396.26v6.4M361.35,400.2a3.4,3.4 0 1,0 6.8,0a3.4,3.4 0 1,0 -6.8,0M364.75,397v6.4M366.26,405.23a3.4,3.4 0 1,0 6.8,0a3.4,3.4 0 1,0 -6.8,0M369.66,402.03v6.4M371.16,409.89a3.4,3.4 0 1,0 6.8,0a3.4,3.4 0 1,0 -6.8,0M374.56,406.69v6.4M376.07,413.48a3.4,3.4 0 1,0 6.8,0a3.4,3.4 0 1,0 -6.8,0M379.47,410.28v6.4M380.97,418.87a3.4,3.4 0 1,0 6.8,0a3.4,3.4 0 1,0 -6.8,0M384.37,415.67v6.4M385.88,414.25a3.4,3.4 0 1,0 6.8,0a3.4,3.4 0 1,0 -6.8,0M389.28,411.05v6.4M390.78,412.11a3.4,3.4 0 1,0 6.8,0a3.4,3.4 0 1,0 -6.8,0M394.18,408.91v6.4M395.69,395.33a3.4,3.4 0 1,0 6.8,0a3.4,3.4 0 1,0 -6.8,0M399.09,392.13v6.4M400.59,379.72a3.4,3.4 0 1,0 6.8,0a3.4,3.4 0 1,0 -6.8,0M403.99,376.52v6.4M405.5,358.96a3.4,3.4 0 1,0 6.8,0a3.4,3.4 0 1,0 -6.8,0M408.9,355.76v6.4M410.4,329.62a3.4,3.4 0 1,0 6.8,0a3.4,3.4 0 1,0 -6.8,0M413.8,326.42v6.4M415.31,276.74a3.4,3.4 0 1,0 6.8,0a3.4,3.4 0 1,0 -6.8,0M418.71,273.54v6.4M420.21,198.62a3.4,3.4 0 1,0 6.8,0a3.4,3.4 0 1,0 -6.8,0M423.61,195.42v6.4M425.12,158.36a3.4,3.4 0 1,0 6.8,0a3.4,3.4 0 1,0 -6.8,0M428.52,155.16v6.4M430.02,160.3a3.4,3.4 0 1,0 6.8,0a3.4,3.4 0 1,0 -6.8,0M433.42,157.1v6.4M434.93,162.1a3.4,3.4 0 1,0 6.8,0a3.4,3.4 0 1,0 -6.8,0M438.33,158.9v6.4M439.83,214.97a3.4,3.4 0 1,0 6.8,0a3.4,3.4 0 1,0 -6.8,0M443.23,211.77v6.4M444.74,301.16a3.4,3.4 0 1,0 6.8,0a3.4,3.4 0 1,0 -6.8,0M448.14,297.96v6.4M449.64,354.52a3.4,3.4 0 1,0 6.8,0a3.4,3.4 0 1,0 -6.8,0M453.04,351.32v6.4M454.55,357.5a3.4,3.4 0 1,0 6.8,0a3.4,3.4 0 1,0 -6.8,0M457.95,354.3v6.4M459.45,348.28a3.4,3.4 0 1,0 6.8,0a3.4,3.4 0 1,0 -6.8,0M462.85,345.08v6.4M464.36,347.92a3.4,3.4 0 1,0 6.8,0a3.4,3.4 0 1,0 -6.8,0M467.76,344.72v6.4M469.26,355.01a3.4,3.4 0 1,0 6.8,0a3.4,3.4 0 1,0 -6.8,0M472.66,351.81v6.4M474.17,366.56a3.4,3.4 0 1,0 6.8,0a3.4,3.4 0 1,0 -6.8,0M477.57,363.36v6.4M479.07,369.61a3.4,3.4 0 1,0 6.8,0a3.4,3.4 0 1,0 -6.8,0M482.47,366.41v6.4M483.98,374.18a3.4,3.4 0 1,0 6.8,0a3.4,3.4 0 1,0 -6.8,0M487.38,370.98v6.4M488.88,373.2a3.4,3.4 0 1,0 6.8,0a3.4,3.4 0 1,0 -6.8,0M492.28,370v6.4M493.79,376.62a3.4,3.4 0 1,0 6.8,0a3.4,3.4 0 1,0 -6.8,0M497.19,373.42v6.4M498.69,382.27a3.4,3.4 0 1,0 6.8,0a3.4,3.4 0 1,0 -6.8,0M502.09,379.07v6.4M503.6,381.78a3.4,3.4 0 1,0 6.8,0a3.4,3.4 0 1,0 -6.8,0M507,378.58v6.4M508.5,373.86a3.4,3.4 0 1,0 6.8,0a3.4,3.4 0 1,0 -6.8,0M511.9,370.66v6.4M513.41,370.27a3.4,3.4 0 1,0 6.8,0a3.4,3.4 0 1,0 -6.8,0M516.81,367.07v6.4M518.31,368.16a3.4,3.4 0 1,0 6.8,0a3.4,3.4 0 1,0 -6.8,0M521.71,364.96v6.4M523.22,360.51a3.4,3.4 0 1,0 6.8,0a3.4,3.4 0 1,0 -6.8,0M526.62,357.31v6.4M528.12,349.44a3.4,3.4 0 1,0 6.8,0a3.4,3.4 0 1,0 -6.8,0M531.52,346.24v6.4M533.03,344.09a3.4,3.4 0 1,0 6.8,0a3.4,3.4 0 1,0 -6.8,0M536.43,340.89v6.4M537.93,343.69a3.4,3.4 0 1,0 6.8,0a3.4,3.4 0 1,0 -6.8,0M541.33,340.49v6.4M542.84,345.23a3.4,3.4 0 1,0 6.8,0a3.4,3.4 0 1,0 -6.8,0M546.24,342.03v6.4M547.74,350.07a3.4,3.4 0 1,0 6.8,0a3.4,3.4 0 1,0 -6.8,0M551.14,346.87v6.4M552.65,356.81a3.4,3.4 0 1,0 6.8,0a3.4,3.4 0 1,0 -6.8,0M556.05,353.61v6.4M557.55,365.61a3.4,3.4 0 1,0 6.8,0a3.4,3.4 0 1,0 -6.8,0M560.95,362.41v6.4M562.46,371.78a3.4,3.4 0 1,0 6.8,0a3.4,3.4 0 1,0 -6.8,0M565.86,368.58v6.4M567.36,374.41a3.4,3.4 0 1,0 6.8,0a3.4,3.4 0 1,0 -6.8,0M570.76,371.21v6.4M572.27,378.11a3.4,3.4 0 1,0 6.8,0a3.4,3.4 0 1,0 -6.8,0M575.67,374.91v6.4M577.17,375.47a3.4,3.4 0 1,0 6.8,0a3.4,3.4 0 1,0 -6.8,0M580.57,372.27v6.4" fill="none" stroke="#ee22ee" stroke-width="0.9"/>
<polyline points="119.5,352.62 124.41,360.17 129.31,367.5 134.22,370.95 139.12,372.23 144.03,376.49 148.93,378.01 153.84,375.95 158.74,378.29 163.65,382.31 168.55,381.93 173.46,375.74 178.36,376.2 183.27,366.96 188.17,340.28 193.08,288.01 197.98,230.96 202.89,218.7 207.79,226.65 212.7,260.25 217.6,322.46 222.51,370.72 227.41,392.05 232.32,397.82 237.22,397.56 242.13,390.21 247.03,379.17 251.94,361.08 256.84,349.03 261.75,363.89 266.65,386.58 271.56,402.92 276.46,408.31 281.37,412.31 286.27,410.21 291.18,409.66 296.08,409.16 300.99,413.01 305.89,413.87 310.8,416.46 315.7,417.95 320.61,417.22 325.51,418.47 330.42,418.91 335.32,418.26 340.23,417.21 345.13,414.8 350.04,408.62 354.94,399.63 359.85,403.63 364.75,404.39 369.66,408.51 374.56,415 379.47,417.93 384.37,420.69 389.28,419.16 394.18,417.04 399.09,398.86 403.99,384.81 408.9,359.9 413.8,330.88 418.71,277.05 423.61,190.89 428.52,144.44 433.42,142.58 438.33,147.63 443.23,209.03 448.14,300.58 453.04,352.65 457.95,358.59 462.85,348.15 467.76,349.28 472.66,358.91 477.57,371.99 482.47,374.57 487.38,377.08 492.28,376.01 497.19,380.05 502.09,384.26 507,385.1 511.9,380.35 516.81,376.1 521.71,369.19 526.62,364.17 531.52,349.73 536.43,342.16 541.33,343.65 546.24,345.55 551.14,350.22 556.05,359.83 560.95,368.38 565.86,376.35 570.76,378.21 575.67,379.6 580.57,378.66" fill="none" stroke="#4050f0" stroke-width="1" stroke-linejoin="round"/>
<path d="M116.1,352.62a3.4,3.4 0 1,0 6.8,0a3.4,3.4 0 1,0 -6.8,0M119.5,349.42v6.4M121,360.17a3.4,3.4 0 1,0 6.8,0a3.4,3.4 0 1,0 -6.8,0M124.41,356.97v6.4M125.91,367.5a3.4,3.4 0 1,0 6.8,0a3.4,3.4 0 1,0 -6.8,0M129.31,364.3v6.4M130.81,370.95a3.4,3.4 0 1,0 6.8,0a3.4,3.4 0 1,0 -6.8,0M134.22,367.75v6.4M135.72,372.23a3.4,3.4 0 1,0 6.8,0a3.4,3.4 0 1,0 -6.8,0M139.12,369.03v6.4M140.62,376.49a3.4,3.4 0 1,0 6.8,0a3.4,3.4 0 1,0 -6.8,0M144.03,373.29v6.4M145.53,378.01a3.4,3.4 0 1,0 6.8,0a3.4,3.4 0 1,0 -6.8,0M148.93,374.81v6.4M150.44,375.95a3.4,3.4 0 1,0 6.8,0a3.4,3.4 0 1,0 -6.8,0M153.84,372.75v6.4M155.34,378.29a3.4,3.4 0 1,0 6.8,0a3.4,3.4 0 1,0 -6.8,0M158.74,375.09v6.4M160.25,382.31a3.4,3.4 0 1,0 6.8,0a3.4,3.4 0 1,0 -6.8,0M163.65,379.11v6.4M165.15,381.93a3.4,3.4 0 1,0 6.8,0a3.4,3.4 0 1,0 -6.8,0M168.55,378.73v6.4M170.06,375.74a3.4,3.4 0 1,0 6.8,0a3.4,3.4 0 1,0 -6.8,0M173.46,372.54v6.4M174.96,376.2a3.4,3.4 0 1,0 6.8,0a3.4,3.4 0 1,0 -6.8,0M178.36,373v6.4M179.87,366.96a3.4,3.4 0 1,0 6.8,0a3.4,3.4 0 1,0 -6.8,0M183.27,363.76v6.4M184.77,340.28a3.4,3.4 0 1,0 6.8,0a3.4,3.4 0 1,0 -6.8,0M188.17,337.08v6.4M189.68,288.01a3.4,3.4 0 1,0 6.8,0a3.4,3.4 0 1,0 -6.8,0M193.08,284.81v6.4M194.58,230.96a3.4,3.4 0 1,0 6.8,0a3.4,3.4 0 1,0 -6.8,0M197.98,227.76v6.4M199.49,218.7a3.4,3.4 0 1,0 6.8,0a3.4,3.4 0 1,0 -6.8,0M202.89,215.5v6.4M204.39,226.65a3.4,3.4 0 1,0 6.8,0a3.4,3.4 0 1,0 -6.8,0M207.79,223.45v6.4M209.3,260.25a3.4,3.4 0 1,0 6.8,0a3.4,3.4 0 1,0 -6.8,0M212.7,257.05v6.4M214.2,322.46a3.4,3.4 0 1,0 6.8,0a3.4,3.4 0 1,0 -6.8,0M217.6,319.26v6.4M219.11,370.72a3.4,3.4 0 1,0 6.8,0a3.4,3.4 0 1,0 -6.8,0M222.51,367.52v6.4M224.01,392.05a3.4,3.4 0 1,0 6.8,0a3.4,3.4 0 1,0 -6.8,0M227.41,388.85v6.4M228.92,397.82a3.4,3.4 0 1,0 6.8,0a3.4,3.4 0 1,0 -6.8,0M232.32,394.62v6.4M233.82,397.56a3.4,3.4 0 1,0 6.8,0a3.4,3.4 0 1,0 -6.8,0M237.22,394.36v6.4M238.73,390.21a3.4,3.4 0 1,0 6.8,0a3.4,3.4 0 1,0 -6.8,0M242.13,387.01v6.4M243.63,379.17a3.4,3.4 0 1,0 6.8,0a3.4,3.4 0 1,0 -6.8,0M247.03,375.97v6.4M248.54,361.08a3.4,3.4 0 1,0 6.8,0a3.4,3.4 0 1,0 -6.8,0M251.94,357.88v6.4M253.44,349.03a3.4,3.4 0 1,0 6.8,0a3.4,3.4 0 1,0 -6.8,0M256.84,345.83v6.4M258.35,363.89a3.4,3.4 0 1,0 6.8,0a3.4,3.4 0 1,0 -6.8,0M261.75,360.69v6.4M263.25,386.58a3.4,3.4 0 1,0 6.8,0a3.4,3.4 0 1,0 -6.8,0M266.65,383.38v6.4M268.16,402.92a3.4,3.4 0 1,0 6.8,0a3.4,3.4 0 1,0 -6.8,0M271.56,399.72v6.4M273.06,408.31a3.4,3.4 0 1,0 6.8,0a3.4,3.4 0 1,0 -6.8,0M276.46,405.11v6.4M277.97,412.31a3.4,3.4 0 1,0 6.8,0a3.4,3.4 0 1,0 -6.8,0M281.37,409.11v6.4M282.87,410.21a3.4,3.4 0 1,0 6.8,0a3.4,3.4 0 1,0 -6.8,0M286.27,407.01v6.4M287.78,409.66a3.4,3.4 0 1,0 6.8,0a3.4,3.4 0 1,0 -6.8,0M291.18,406.46v6.4M292.68,409.16a3.4,3.4 0 1,0 6.8,0a3.4,3.4 0 1,0 -6.8,0M296.08,405.96v6.4M297.59,413.01a3.4,3.4 0 1,0 6.8,0a3.4,3.4 0 1,0 -6.8,0M300.99,409.81v6.4M302.49,413.87a3.4,3.4 0 1,0 6.8,0a3.4,3.4 0 1,0 -6.8,0M305.89,410.67v6.4M307.4,416.46a3.4,3.4 0 1,0 6.8,0a3.4,3.4 0 1,0 -6.8,0M310.8,413.26v6.4M312.3,417.95a3.4,3.4 0 1,0 6.8,0a3.4,3.4 0 1,0 -6.8,0M315.7,414.75v6.4M317.21,417.22a3.4,3.4 0 1,0 6.8,0a3.4,3.4 0 1,0 -6.8,0M320.61,414.02v6.4M322.11,418.47a3.4,3.4 0 1,0 6.8,0a3.4,3.4 0 1,0 -6.8,0M325.51,415.27v6.4M327.02,418.91a3.4,3.4 0 1,0 6.8,0a3.4,3.4 0 1,0 -6.8,0M330.42,415.71v6.4M331.92,418.26a3.4,3.4 0 1,0 6.8,0a3.4,3.4 0 1,0 -6.8,0M335.32,415.06v6.4M336.83,417.21a3.4,3.4 0 1,0 6.8,0a3.4,3.4 0 1,0 -6.8,0M340.23,414.01v6.4M341.73,414.8a3.4,3.4 0 1,0 6.8,0a3.4,3.4 0 1,0 -6.8,0M345.13,411.6v6.4M346.64,408.62a3.4,3.4 0 1,0 6.8,0a3.4,3.4 0 1,0 -6.8,0M350.04,405.42v6.4M351.54,399.63a3.4,3.4 0 1,0 6.8,0a3.4,3.4 0 1,0 -6.8,0M354.94,396.43v6.4M356.45,403.63a3.4,3.4 0 1,0 6.8,0a3.4,3.4 0 1,0 -6.8,0M359.85,400.43v6.4M361.35,404.39a3.4,3.4 0 1,0 6.8,0a3.4,3.4 0 1,0 -6.8,0M364.75,401.19v6.4M366.26,408.51a3.4,3.4 0 1,0 6.8,0a3.4,3.4 0 1,0 -6.8,0M369.66,405.31v6.4M371.16,415a3.4,3.4 0 1,0 6.8,0a3.4,3.4 0 1,0 -6.8,0M374.56,411.8v6.4M376.07,417.93a3.4,3.4 0 1,0 6.8,0a3.4,3.4 0 1,0 -6.8,0M379.47,414.73v6.4M380.97,420.69a3.4,3.4 0 1,0 6.8,0a3.4,3.4 0 1,0 -6.8,0M384.37,417.49v6.4M385.88,419.16a3.4,3.4 0 1,0 6.8,0a3.4,3.4 0 1,0 -6.8,0M389.28,415.96v6.4M390.78,417.04a3.4,3.4 0 1,0 6.8,0a3.4,3.4 0 1,0 -6.8,0M394.18,413.84v6.4M395.69,398.86a3.4,3.4 0 1,0 6.8,0a3.4,3.4 0 1,0 -6.8,0M399.09,395.66v6.4M400.59,384.81a3.4,3.4 0 1,0 6.8,0a3.4,3.4 0 1,0 -6.8,0M403.99,381.61v6.4M405.5,359.9a3.4,3.4 0 1,0 6.8,0a3.4,3.4 0 1,0 -6.8,0M408.9,356.7v6.4M410.4,330.88a3.4,3.4 0 1,0 6.8,0a3.4,3.4 0 1,0 -6.8,0M413.8,327.68v6.4M415.31,277.05a3.4,3.4 0 1,0 6.8,0a3.4,3.4 0 1,0 -6.8,0M418.71,273.85v6.4M420.21,190.89a3.4,3.4 0 1,0 6.8,0a3.4,3.4 0 1,0 -6.8,0M423.61,187.69v6.4M425.12,144.44a3.4,3.4 0 1,0 6.8,0a3.4,3.4 0 1,0 -6.8,0M428.52,141.24v6.4M430.02,142.58a3.4,3.4 0 1,0 6.8,0a3.4,3.4 0 1,0 -6.8,0M433.42,139.38v6.4M434.93,147.63a3.4,3.4 0 1,0 6.8,0a3.4,3.4 0 1,0 -6.8,0M438.33,144.43v6.4M439.83,209.03a3.4,3.4 0 1,0 6.8,0a3.4,3.4 0 1,0 -6.8,0M443.23,205.83v6.4M444.74,300.58a3.4,3.4 0 1,0 6.8,0a3.4,3.4 0 1,0 -6.8,0M448.14,297.38v6.4M449.64,352.65a3.4,3.4 0 1,0 6.8,0a3.4,3.4 0 1,0 -6.8,0M453.04,349.45v6.4M454.55,358.59a3.4,3.4 0 1,0 6.8,0a3.4,3.4 0 1,0 -6.8,0M457.95,355.39v6.4M459.45,348.15a3.4,3.4 0 1,0 6.8,0a3.4,3.4 0 1,0 -6.8,0M462.85,344.95v6.4M464.36,349.28a3.4,3.4 0 1,0 6.8,0a3.4,3.4 0 1,0 -6.8,0M467.76,346.08v6.4M469.26,358.91a3.4,3.4 0 1,0 6.8,0a3.4,3.4 0 1,0 -6.8,0M472.66,355.71v6.4M474.17,371.99a3.4,3.4 0 1,0 6.8,0a3.4,3.4 0 1,0 -6.8,0M477.57,368.79v6.4M479.07,374.57a3.4,3.4 0 1,0 6.8,0a3.4,3.4 0 1,0 -6.8,0M482.47,371.37v6.4M483.98,377.08a3.4,3.4 0 1,0 6.8,0a3.4,3.4 0 1,0 -6.8,0M487.38,373.88v6.4M488.88,376.01a3.4,3.4 0 1,0 6.8,0a3.4,3.4 0 1,0 -6.8,0M492.28,372.81v6.4M493.79,380.05a3.4,3.4 0 1,0 6.8,0a3.4,3.4 0 1,0 -6.8,0M497.19,376.85v6.4M498.69,384.26a3.4,3.4 0 1,0 6.8,0a3.4,3.4 0 1,0 -6.8,0M502.09,381.06v6.4M503.6,385.1a3.4,3.4 0 1,0 6.8,0a3.4,3.4 0 1,0 -6.8,0M507,381.9v6.4M508.5,380.35a3.4,3.4 0 1,0 6.8,0a3.4,3.4 0 1,0 -6.8,0M511.9,377.15v6.4M513.41,376.1a3.4,3.4 0 1,0 6.8,0a3.4,3.4 0 1,0 -6.8,0M516.81,372.9v6.4M518.31,369.19a3.4,3.4 0 1,0 6.8,0a3.4,3.4 0 1,0 -6.8,0M521.71,365.99v6.4M523.22,364.17a3.4,3.4 0 1,0 6.8,0a3.4,3.4 0 1,0 -6.8,0M526.62,360.97v6.4M528.12,349.73a3.4,3.4 0 1,0 6.8,0a3.4,3.4 0 1,0 -6.8,0M531.52,346.53v6.4M533.03,342.16a3.4,3.4 0 1,0 6.8,0a3.4,3.4 0 1,0 -6.8,0M536.43,338.96v6.4M537.93,343.65a3.4,3.4 0 1,0 6.8,0a3.4,3.4 0 1,0 -6.8,0M541.33,340.45v6.4M542.84,345.55a3.4,3.4 0 1,0 6.8,0a3.4,3.4 0 1,0 -6.8,0M546.24,342.35v6.4M547.74,350.22a3.4,3.4 0 1,0 6.8,0a3.4,3.4 0 1,0 -6.8,0M551.14,347.02v6.4M552.65,359.83a3.4,3.4 0 1,0 6.8,0a3.4,3.4 0 1,0 -6.8,0M556.05,356.63v6.4M557.55,368.38a3.4,3.4 0 1,0 6.8,0a3.4,3.4 0 1,0 -6.8,0M560.95,365.18v6.4M562.46,376.35a3.4,3.4 0 1,0 6.8,0a3.4,3.4 0 1,0 -6.8,0M565.86,373.15v6.4M567.36,378.21a3.4,3.4 0 1,0 6.8,0a3.4,3.4 0 1,0 -6.8,0M570.76,375.01v6.4M572.27,379.6a3.4,3.4 0 1,0 6.8,0a3.4,3.4 0 1,0 -6.8,0M575.67,376.4v6.4M577.17,378.66a3.4,3.4 0 1,0 6.8,0a3.4,3.4 0 1,0 -6.8,0M580.57,375.46v6.4" fill="none" stroke="#2030ee" stroke-width="0.9"/>
</g>
<text x="141.4" y="160.3" font-size="21.5" font-weight="bold" fill="#a8a8a8" text-anchor="start" font-family='"Liberation Sans", Arial, sans-serif' textLength="52" lengthAdjust="spacingAndGlyphs">230K</text>
<text x="221.9" y="158.9" font-size="21.5" font-weight="bold" fill="#000" text-anchor="start" font-family='"Liberation Sans", Arial, sans-serif' textLength="52" lengthAdjust="spacingAndGlyphs">200K</text>
<text x="307.7" y="158.3" font-size="21.5" font-weight="bold" fill="#ee1111" text-anchor="start" font-family='"Liberation Sans", Arial, sans-serif' textLength="52" lengthAdjust="spacingAndGlyphs">180K</text>
<text x="148.2" y="194.8" font-size="21.5" font-weight="bold" fill="#7ccc4c" text-anchor="start" font-family='"Liberation Sans", Arial, sans-serif' textLength="52" lengthAdjust="spacingAndGlyphs">100K</text>
<text x="226.8" y="193.1" font-size="21.5" font-weight="bold" fill="#ee11ee" text-anchor="start" font-family='"Liberation Sans", Arial, sans-serif' textLength="39.5" lengthAdjust="spacingAndGlyphs">50K</text>
<text x="313.2" y="194.8" font-size="21.5" font-weight="bold" fill="#1a55ee" text-anchor="start" font-family='"Liberation Sans", Arial, sans-serif' textLength="27" lengthAdjust="spacingAndGlyphs">5K</text>
<text x="420" y="423.6" font-family='"Liberation Sans", Arial, sans-serif' font-size="20.5" font-weight="bold" fill="#000" textLength="121" lengthAdjust="spacingAndGlyphs">E<tspan font-size="14" dy="3">i</tspan><tspan dy="-3">=200 meV</tspan></text>
<text x="420" y="452.2" font-size="20.5" font-weight="bold" fill="#000" text-anchor="start" font-family='"Liberation Sans", Arial, sans-serif' textLength="106" lengthAdjust="spacingAndGlyphs">Q=[2,10]Å</text>
<line x1="243" y1="224.4" x2="209" y2="224.4" stroke="#4a7fd4" stroke-width="1.6"/>
<polygon points="203,224.4 211,220.5 211,228.3" fill="#4a7fd4"/>
<line x1="291.4" y1="253" x2="290.44" y2="229.72" stroke="#3355dd" stroke-width="3"/>
<line x1="290.44" y1="229.72" x2="289.8" y2="214.2" stroke="#b4b4b4" stroke-width="3"/>
<line x1="291.4" y1="253" x2="262.78" y2="246.4" stroke="#3355dd" stroke-width="3"/>
<line x1="262.78" y1="246.4" x2="243.7" y2="242" stroke="#b4b4b4" stroke-width="3"/>
<line x1="291.4" y1="253" x2="319.72" y2="244.18" stroke="#3355dd" stroke-width="3"/>
<line x1="319.72" y1="244.18" x2="338.6" y2="238.3" stroke="#b4b4b4" stroke-width="3"/>
<circle cx="289.8" cy="214.2" r="5.4" fill="url(#gH)"/>
<circle cx="243.7" cy="242" r="5.4" fill="url(#gH)"/>
<circle cx="338.6" cy="238.3" r="5.4" fill="url(#gH)"/>
<circle cx="291.4" cy="253" r="16.6" fill="url(#gN)"/>
<line x1="289.8" y1="212" x2="289.8" y2="202" stroke="#000" stroke-width="3"/>
<polygon points="289.8,196 294.2,200.8 289.8,205.6 285.4,200.8" fill="#000"/>
<line x1="245" y1="238" x2="250.82" y2="223.09" stroke="#000" stroke-width="3"/>
<polygon points="253,217.5 254.37,225.55 246.54,222.49" fill="#000"/>
<line x1="337" y1="234" x2="331.06" y2="221.43" stroke="#000" stroke-width="3"/>
<polygon points="328.5,216 335.29,220.54 327.69,224.12" fill="#000"/>
<polygon points="288,269.5 296.2,269.5 292.1,277.6" fill="#000"/>
<line x1="508.5" y1="176" x2="509.1" y2="154.1" stroke="#3355dd" stroke-width="2"/>
<line x1="509.1" y1="154.1" x2="509.5" y2="139.5" stroke="#b4b4b4" stroke-width="2"/>
<line x1="508.5" y1="176" x2="488.7" y2="182.6" stroke="#3355dd" stroke-width="2"/>
<line x1="488.7" y1="182.6" x2="475.5" y2="187" stroke="#b4b4b4" stroke-width="2"/>
<line x1="508.5" y1="176" x2="523.5" y2="184.7" stroke="#3355dd" stroke-width="2"/>
<line x1="523.5" y1="184.7" x2="533.5" y2="190.5" stroke="#b4b4b4" stroke-width="2"/>
<circle cx="509.5" cy="139.5" r="3.8" fill="url(#gH)"/>
<circle cx="475.5" cy="187" r="3.8" fill="url(#gH)"/>
<circle cx="533.5" cy="190.5" r="3.8" fill="url(#gH)"/>
<circle cx="508.5" cy="176" r="10.8" fill="url(#gN)"/>
<line x1="512" y1="139" x2="519.59" y2="137.42" stroke="#000" stroke-width="2.4"/>
<polygon points="524,136.5 519.29,140.85 517.94,134.39" fill="#000"/>
<line x1="530" y1="191.5" x2="526.77" y2="192.58" stroke="#000" stroke-width="2.4"/>
<polygon points="522.5,194 526.67,189.13 528.76,195.39" fill="#000"/>
<line x1="476.5" y1="190" x2="481.93" y2="201.95" stroke="#000" stroke-width="2.4"/>
<polygon points="484,206.5 478.24,202.53 484.79,199.55" fill="#000"/>
<line x1="509" y1="253.5" x2="509.6" y2="232.2" stroke="#3355dd" stroke-width="2"/>
<line x1="509.6" y1="232.2" x2="510" y2="218" stroke="#b4b4b4" stroke-width="2"/>
<line x1="509" y1="253.5" x2="489.08" y2="260.4" stroke="#3355dd" stroke-width="2"/>
<line x1="489.08" y1="260.4" x2="475.8" y2="265" stroke="#b4b4b4" stroke-width="2"/>
<line x1="509" y1="253.5" x2="523.64" y2="262.62" stroke="#3355dd" stroke-width="2"/>
<line x1="523.64" y1="262.62" x2="533.4" y2="268.7" stroke="#b4b4b4" stroke-width="2"/>
<circle cx="510" cy="218" r="3.8" fill="url(#gH)"/>
<circle cx="475.8" cy="265" r="3.8" fill="url(#gH)"/>
<circle cx="533.4" cy="268.7" r="3.8" fill="url(#gH)"/>
<circle cx="509" cy="253.5" r="10.8" fill="url(#gN)"/>
<line x1="507" y1="217" x2="498.45" y2="215.68" stroke="#000" stroke-width="2.4"/>
<polygon points="494,215 499.94,212.57 498.93,219.1" fill="#000"/>
<circle cx="477" cy="264.5" r="2" fill="#000"/>
<line x1="531.5" y1="272" x2="526.61" y2="282.47" stroke="#000" stroke-width="2.4"/>
<polygon points="524.5,287 523.78,280.04 530.3,283.09" fill="#000"/>
<path d="M788.56,467.1v-4M796.86,467.1v-4M805.17,467.1v-4M813.48,467.1v-4M821.78,467.1v-4M830.09,467.1v-4M838.39,467.1v-4M855.01,467.1v-4M863.31,467.1v-4M871.62,467.1v-4M879.92,467.1v-4M888.23,467.1v-4M896.54,467.1v-4M904.84,467.1v-4M913.15,467.1v-4M921.45,467.1v-4M938.07,467.1v-4M946.37,467.1v-4M954.68,467.1v-4M962.98,467.1v-4M971.29,467.1v-4M979.6,467.1v-4M987.9,467.1v-4M996.21,467.1v-4M1004.51,467.1v-4M1021.13,467.1v-4M1029.43,467.1v-4M1037.74,467.1v-4M1046.04,467.1v-4M1054.35,467.1v-4M1062.66,467.1v-4M1070.96,467.1v-4M1079.27,467.1v-4M1087.57,467.1v-4M1104.19,467.1v-4M1112.49,467.1v-4M1120.8,467.1v-4M1129.1,467.1v-4M1137.41,467.1v-4M1145.72,467.1v-4M1154.02,467.1v-4M1162.33,467.1v-4M1170.63,467.1v-4M1187.25,467.1v-4M1195.55,467.1v-4M1203.86,467.1v-4M1212.16,467.1v-4M1220.47,467.1v-4M1228.78,467.1v-4M1237.08,467.1v-4M1245.39,467.1v-4M1253.69,467.1v-4" stroke="#222" stroke-width="1.3" fill="none"/>
<path d="M846.7,467.1v-8M929.76,467.1v-8M1012.82,467.1v-8M1095.88,467.1v-8M1178.94,467.1v-8M1262,467.1v-8" stroke="#222" stroke-width="1.3" fill="none"/>
<path d="M788.56,129.3v4M796.86,129.3v4M805.17,129.3v4M813.48,129.3v4M821.78,129.3v4M830.09,129.3v4M838.39,129.3v4M855.01,129.3v4M863.31,129.3v4M871.62,129.3v4M879.92,129.3v4M888.23,129.3v4M896.54,129.3v4M904.84,129.3v4M913.15,129.3v4M921.45,129.3v4M938.07,129.3v4M946.37,129.3v4M954.68,129.3v4M962.98,129.3v4M971.29,129.3v4M979.6,129.3v4M987.9,129.3v4M996.21,129.3v4M1004.51,129.3v4M1021.13,129.3v4M1029.43,129.3v4M1037.74,129.3v4M1046.04,129.3v4M1054.35,129.3v4M1062.66,129.3v4M1070.96,129.3v4M1079.27,129.3v4M1087.57,129.3v4M1104.19,129.3v4M1112.49,129.3v4M1120.8,129.3v4M1129.1,129.3v4M1137.41,129.3v4M1145.72,129.3v4M1154.02,129.3v4M1162.33,129.3v4M1170.63,129.3v4M1187.25,129.3v4M1195.55,129.3v4M1203.86,129.3v4M1212.16,129.3v4M1220.47,129.3v4M1228.78,129.3v4M1237.08,129.3v4M1245.39,129.3v4M1253.69,129.3v4" stroke="#6a6a6a" stroke-width="1.3" fill="none"/>
<path d="M846.7,129.3v8M929.76,129.3v8M1012.82,129.3v8M1095.88,129.3v8M1178.94,129.3v8M1262,129.3v8" stroke="#6a6a6a" stroke-width="1.3" fill="none"/>
<path d="M786,180h5M786,258h5M786,346h5M786,448h5" stroke="#6a6a6a" stroke-width="1.3" fill="none"/>
<path d="M1269.7,180h-5M1269.7,258h-5M1269.7,346h-5M1269.7,448h-5" stroke="#222" stroke-width="1.3" fill="none"/>
<line x1="786" y1="129.3" x2="1269.7" y2="129.3" stroke="#6a6a6a" stroke-width="2"/>
<line x1="786" y1="129.3" x2="786" y2="467.1" stroke="#6a6a6a" stroke-width="2"/>
<line x1="786" y1="467.1" x2="1269.7" y2="467.1" stroke="#222" stroke-width="2"/>
<line x1="1269.7" y1="129.3" x2="1269.7" y2="467.1" stroke="#222" stroke-width="2"/>
<text x="846.7" y="494.5" font-size="25" font-weight="normal" fill="#3c3c3c" text-anchor="middle" font-family='"Liberation Sans", Arial, sans-serif' textLength="37.5" lengthAdjust="spacingAndGlyphs">290</text>
<text x="929.76" y="494.5" font-size="25" font-weight="normal" fill="#3c3c3c" text-anchor="middle" font-family='"Liberation Sans", Arial, sans-serif' textLength="37.5" lengthAdjust="spacingAndGlyphs">300</text>
<text x="1012.82" y="494.5" font-size="25" font-weight="normal" fill="#3c3c3c" text-anchor="middle" font-family='"Liberation Sans", Arial, sans-serif' textLength="37.5" lengthAdjust="spacingAndGlyphs">310</text>
<text x="1095.88" y="494.5" font-size="25" font-weight="normal" fill="#3c3c3c" text-anchor="middle" font-family='"Liberation Sans", Arial, sans-serif' textLength="37.5" lengthAdjust="spacingAndGlyphs">320</text>
<text x="1178.94" y="494.5" font-size="25" font-weight="normal" fill="#3c3c3c" text-anchor="middle" font-family='"Liberation Sans", Arial, sans-serif' textLength="37.5" lengthAdjust="spacingAndGlyphs">330</text>
<text x="1262" y="494.5" font-size="25" font-weight="normal" fill="#3c3c3c" text-anchor="middle" font-family='"Liberation Sans", Arial, sans-serif' textLength="37.5" lengthAdjust="spacingAndGlyphs">340</text>
<text x="734.5" y="307.5" font-family='"Liberation Serif", "Times New Roman", serif' font-size="24.5" fill="#000" textLength="25.5" lengthAdjust="spacingAndGlyphs">10</text>
<text x="762" y="298.3" font-family='"Liberation Serif", "Times New Roman", serif' font-size="16" fill="#000" textLength="22" lengthAdjust="spacingAndGlyphs">−6</text>
<text transform="translate(692,102) scale(0.99,1.06)" x="0" y="0" font-family='"Liberation Sans", Arial, sans-serif' font-size="47" font-weight="bold" fill="#000">b</text>
<text x="962.5" y="540.5" font-size="38" font-weight="normal" fill="#000" text-anchor="start" font-family='"Liberation Sans", Arial, sans-serif' textLength="135.7" lengthAdjust="spacingAndGlyphs">E(meV)</text>
<text x="0" y="0" transform="translate(710.3,329) rotate(-90)" text-anchor="middle" font-family='"Liberation Sans", Arial, sans-serif' font-size="40" fill="#000">Intensity (arb.units)</text>
<clipPath id="cb"><rect x="787" y="130" width="482" height="336"/></clipPath>
<g clip-path="url(#cb)">
<polyline points="892.8,466 899,456.5 919.6,449.3 941.1,418.3 961.1,406.3 981.7,406.3 1002.3,383.8 1024.2,367.1 1044.8,342.7 1065.3,371.4 1085.4,363.3 1106.9,382.3 1127.6,390 1148.4,396.9 1169.1,421.2 1189.9,430.7 1210.6,451.4 1231.3,445.3 1249.8,466.8 1270,470" fill="none" stroke="#f03c3c" stroke-width="1.6" stroke-linejoin="round"/>
<path d="M896.45,456.5a2.55,3.4 0 1,0 5.1,0a2.55,3.4 0 1,0 -5.1,0M899,449v15M917.05,449.3a2.55,3.4 0 1,0 5.1,0a2.55,3.4 0 1,0 -5.1,0M919.6,441.8v15M938.55,418.3a2.55,3.4 0 1,0 5.1,0a2.55,3.4 0 1,0 -5.1,0M941.1,410.8v15M958.55,406.3a2.55,3.4 0 1,0 5.1,0a2.55,3.4 0 1,0 -5.1,0M961.1,398.8v15M979.15,406.3a2.55,3.4 0 1,0 5.1,0a2.55,3.4 0 1,0 -5.1,0M981.7,398.8v15M999.75,383.8a2.55,3.4 0 1,0 5.1,0a2.55,3.4 0 1,0 -5.1,0M1002.3,376.3v15M1021.65,367.1a2.55,3.4 0 1,0 5.1,0a2.55,3.4 0 1,0 -5.1,0M1024.2,359.6v15M1042.25,342.7a2.55,3.4 0 1,0 5.1,0a2.55,3.4 0 1,0 -5.1,0M1044.8,335.2v15M1062.75,371.4a2.55,3.4 0 1,0 5.1,0a2.55,3.4 0 1,0 -5.1,0M1065.3,363.9v15M1082.85,363.3a2.55,3.4 0 1,0 5.1,0a2.55,3.4 0 1,0 -5.1,0M1085.4,355.8v15M1104.35,382.3a2.55,3.4 0 1,0 5.1,0a2.55,3.4 0 1,0 -5.1,0M1106.9,374.8v15M1125.05,390a2.55,3.4 0 1,0 5.1,0a2.55,3.4 0 1,0 -5.1,0M1127.6,382.5v15M1145.85,396.9a2.55,3.4 0 1,0 5.1,0a2.55,3.4 0 1,0 -5.1,0M1148.4,389.4v15M1166.55,421.2a2.55,3.4 0 1,0 5.1,0a2.55,3.4 0 1,0 -5.1,0M1169.1,413.7v15M1187.35,430.7a2.55,3.4 0 1,0 5.1,0a2.55,3.4 0 1,0 -5.1,0M1189.9,423.2v15M1208.05,451.4a2.55,3.4 0 1,0 5.1,0a2.55,3.4 0 1,0 -5.1,0M1210.6,443.9v15M1228.75,445.3a2.55,3.4 0 1,0 5.1,0a2.55,3.4 0 1,0 -5.1,0M1231.3,437.8v15" fill="none" stroke="#f03c3c" stroke-width="1.1"/>
<polyline points="831.1,468.5 836.9,436 857,380 878.9,364.7 899,371.4 919.6,396.7 941.1,408.7 961.1,371.4 981.7,288.2 1002.3,200.8 1024.2,145.8 1044.8,168.3 1065.3,219.9 1085.4,313.1 1107,393.4 1127.6,429.9 1148.4,434.5 1169.1,451.4 1189.9,448.4 1210.6,460.6 1231.3,459.1 1252,466 1262,470" fill="none" stroke="#3a3af0" stroke-width="1.6" stroke-linejoin="round"/>
<path d="M834.35,436a2.55,3.4 0 1,0 5.1,0a2.55,3.4 0 1,0 -5.1,0M836.9,428.5v15M854.45,380a2.55,3.4 0 1,0 5.1,0a2.55,3.4 0 1,0 -5.1,0M857,372.5v15M876.35,364.7a2.55,3.4 0 1,0 5.1,0a2.55,3.4 0 1,0 -5.1,0M878.9,357.2v15M896.45,371.4a2.55,3.4 0 1,0 5.1,0a2.55,3.4 0 1,0 -5.1,0M899,363.9v15M917.05,396.7a2.55,3.4 0 1,0 5.1,0a2.55,3.4 0 1,0 -5.1,0M919.6,389.2v15M938.55,408.7a2.55,3.4 0 1,0 5.1,0a2.55,3.4 0 1,0 -5.1,0M941.1,401.2v15M958.55,371.4a2.55,3.4 0 1,0 5.1,0a2.55,3.4 0 1,0 -5.1,0M961.1,363.9v15M979.15,288.2a2.55,3.4 0 1,0 5.1,0a2.55,3.4 0 1,0 -5.1,0M981.7,280.7v15M999.75,200.8a2.55,3.4 0 1,0 5.1,0a2.55,3.4 0 1,0 -5.1,0M1002.3,193.3v15M1021.65,145.8a2.55,3.4 0 1,0 5.1,0a2.55,3.4 0 1,0 -5.1,0M1024.2,138.3v15M1042.25,168.3a2.55,3.4 0 1,0 5.1,0a2.55,3.4 0 1,0 -5.1,0M1044.8,160.8v15M1062.75,219.9a2.55,3.4 0 1,0 5.1,0a2.55,3.4 0 1,0 -5.1,0M1065.3,212.4v15M1082.85,313.1a2.55,3.4 0 1,0 5.1,0a2.55,3.4 0 1,0 -5.1,0M1085.4,305.6v15M1104.45,393.4a2.55,3.4 0 1,0 5.1,0a2.55,3.4 0 1,0 -5.1,0M1107,385.9v15M1125.05,429.9a2.55,3.4 0 1,0 5.1,0a2.55,3.4 0 1,0 -5.1,0M1127.6,422.4v15M1145.85,434.5a2.55,3.4 0 1,0 5.1,0a2.55,3.4 0 1,0 -5.1,0M1148.4,427v15M1166.55,451.4a2.55,3.4 0 1,0 5.1,0a2.55,3.4 0 1,0 -5.1,0M1169.1,443.9v15M1187.35,448.4a2.55,3.4 0 1,0 5.1,0a2.55,3.4 0 1,0 -5.1,0M1189.9,440.9v15M1208.05,460.6a2.55,3.4 0 1,0 5.1,0a2.55,3.4 0 1,0 -5.1,0M1210.6,453.1v15M1228.75,459.1a2.55,3.4 0 1,0 5.1,0a2.55,3.4 0 1,0 -5.1,0M1231.3,451.6v15M1249.45,466a2.55,3.4 0 1,0 5.1,0a2.55,3.4 0 1,0 -5.1,0M1252,458.5v15" fill="none" stroke="#3a3af0" stroke-width="1.1"/>
</g>
<text x="864" y="191.2" font-size="41.5" font-weight="bold" fill="#1a4ff0" text-anchor="start" font-family='"Liberation Sans", Arial, sans-serif' textLength="53" lengthAdjust="spacingAndGlyphs">5K</text>
<text x="990.5" y="446.5" font-size="44.5" font-weight="bold" fill="#f00c0c" text-anchor="start" font-family='"Liberation Sans", Arial, sans-serif' textLength="105" lengthAdjust="spacingAndGlyphs">200K</text>
<text x="1113" y="348" font-family='"Liberation Sans", Arial, sans-serif' font-size="19.5" font-weight="bold" fill="#000" textLength="123" lengthAdjust="spacingAndGlyphs">E<tspan font-size="13.5" dy="3">i</tspan><tspan dy="-3">=600 meV</tspan></text>
<text y="380" font-family='"Liberation Serif", "Times New Roman", serif' font-size="23.5" fill="#000"><tspan x="1122.6" font-weight="bold" font-style="italic">θ</tspan><tspan x="1145.6" textLength="15.5" lengthAdjust="spacingAndGlyphs">=</tspan><tspan x="1172.6">[</tspan><tspan x="1180.2" font-weight="bold">3</tspan><tspan x="1195">,</tspan><tspan x="1205.2" font-weight="bold" textLength="27.5" lengthAdjust="spacingAndGlyphs">25</tspan><tspan x="1234.6">]</tspan><tspan x="1244.2">°</tspan></text>
<line x1="870.7" y1="317.6" x2="872.1" y2="263.3" stroke="#3355dd" stroke-width="2.6"/>
<line x1="870.7" y1="317.6" x2="819.6" y2="334.3" stroke="#3355dd" stroke-width="2.6"/>
<line x1="870.7" y1="317.6" x2="909.2" y2="338.2" stroke="#3355dd" stroke-width="2.6"/>
<circle cx="872.1" cy="263.3" r="5.3" fill="url(#gH)"/>
<circle cx="819.6" cy="334.3" r="5.3" fill="url(#gH)"/>
<circle cx="909.2" cy="338.2" r="5.3" fill="url(#gH)"/>
<circle cx="870.7" cy="317.6" r="16.6" fill="url(#gN)"/>
<line x1="871.8" y1="268" x2="871.8" y2="280" stroke="#000" stroke-width="2.8"/>
<polygon points="871.8,287 867,279 876.6,279" fill="#000"/>
<line x1="824.5" y1="333" x2="835.48" y2="328.74" stroke="#000" stroke-width="2.8"/>
<polygon points="842,326.2 836.28,333.57 832.8,324.62" fill="#000"/>
<line x1="905" y1="336" x2="897.2" y2="331.5" stroke="#000" stroke-width="2.6"/>
<polygon points="892,328.5 900.16,328.36 895.96,335.64" fill="#000"/>
<line x1="1161" y1="203.2" x2="1161.18" y2="178.18" stroke="#3355dd" stroke-width="2.2"/>
<line x1="1161.18" y1="178.18" x2="1161.3" y2="161.5" stroke="#b4b4b4" stroke-width="2.2"/>
<line x1="1161" y1="203.2" x2="1137.72" y2="210.88" stroke="#3355dd" stroke-width="2.2"/>
<line x1="1137.72" y1="210.88" x2="1122.2" y2="216" stroke="#b4b4b4" stroke-width="2.2"/>
<line x1="1161" y1="203.2" x2="1178.16" y2="212.68" stroke="#3355dd" stroke-width="2.2"/>
<line x1="1178.16" y1="212.68" x2="1189.6" y2="219" stroke="#b4b4b4" stroke-width="2.2"/>
<circle cx="1161.3" cy="161.5" r="4.2" fill="url(#gH)"/>
<circle cx="1122.2" cy="216" r="4.2" fill="url(#gH)"/>
<circle cx="1189.6" cy="219" r="4.2" fill="url(#gH)"/>
<circle cx="1161" cy="203.2" r="12.4" fill="url(#gN)"/>
<line x1="1161.3" y1="158" x2="1161.3" y2="153.5" stroke="#000" stroke-width="2.6"/>
<polygon points="1161.3,148.5 1164.9,154.5 1157.7,154.5" fill="#000"/>
<line x1="1127" y1="214" x2="1145.28" y2="207.64" stroke="#000" stroke-width="2.4"/>
<polygon points="1150,206 1145.52,211.37 1143.15,204.57" fill="#000"/>
<line x1="1192" y1="220" x2="1200.42" y2="224.21" stroke="#000" stroke-width="2.4"/>
<polygon points="1204,226 1198.19,226.45 1200.87,221.08" fill="#000"/>
<line x1="1156.7" y1="286.6" x2="1156.95" y2="260.06" stroke="#3355dd" stroke-width="2.2"/>
<line x1="1156.95" y1="260.06" x2="1157.1" y2="243.8" stroke="#b4b4b4" stroke-width="2.2"/>
<line x1="1156.7" y1="286.6" x2="1131.16" y2="295.03" stroke="#3355dd" stroke-width="2.2"/>
<line x1="1131.16" y1="295.03" x2="1115.5" y2="300.2" stroke="#b4b4b4" stroke-width="2.2"/>
<line x1="1156.7" y1="286.6" x2="1175.67" y2="296.52" stroke="#3355dd" stroke-width="2.2"/>
<line x1="1175.67" y1="296.52" x2="1187.3" y2="302.6" stroke="#b4b4b4" stroke-width="2.2"/>
<circle cx="1157.1" cy="243.8" r="4.2" fill="url(#gH)"/>
<circle cx="1115.5" cy="300.2" r="4.2" fill="url(#gH)"/>
<circle cx="1187.3" cy="302.6" r="4.2" fill="url(#gH)"/>
<circle cx="1156.7" cy="286.6" r="12.5" fill="url(#gN)"/>
<line x1="1157.1" y1="248" x2="1157.1" y2="263" stroke="#000" stroke-width="2.4"/>
<polygon points="1157.1,268 1153.5,262 1160.7,262" fill="#000"/>
<line x1="1190" y1="304" x2="1198.54" y2="308.98" stroke="#000" stroke-width="2.4"/>
<polygon points="1202,311 1196.17,311.07 1199.19,305.89" fill="#000"/>
<path d="M1459.4,504.3v-3M1486.3,504.3v-3M1513.2,504.3v-3M1540.1,504.3v-3M1567,504.3v-3M1593.9,504.3v-3M1620.8,504.3v-3M1647.7,504.3v-3M1674.6,504.3v-3M1701.5,504.3v-3M1728.4,504.3v-3M1755.3,504.3v-3M1782.2,504.3v-3M1809.1,504.3v-3M1836,504.3v-3M1862.9,504.3v-3M1889.8,504.3v-3M1916.7,504.3v-3M1943.6,504.3v-3" stroke="#000" stroke-width="2" fill="none"/>
<path d="M1459.4,108.9v3M1486.3,108.9v3M1513.2,108.9v3M1540.1,108.9v3M1567,108.9v3M1593.9,108.9v3M1620.8,108.9v3M1647.7,108.9v3M1674.6,108.9v3M1701.5,108.9v3M1728.4,108.9v3M1755.3,108.9v3M1782.2,108.9v3M1809.1,108.9v3M1836,108.9v3M1862.9,108.9v3M1889.8,108.9v3M1916.7,108.9v3M1943.6,108.9v3" stroke="#000" stroke-width="2" fill="none"/>
<path d="M1432.7,479.59h3M1432.7,454.88h3M1432.7,430.16h3M1432.7,405.45h3M1432.7,380.74h3M1432.7,356.02h3M1432.7,331.31h3M1432.7,306.6h3M1432.7,281.89h3M1432.7,257.18h3M1432.7,232.46h3M1432.7,207.75h3M1432.7,183.04h3M1432.7,158.33h3M1432.7,133.61h3" stroke="#000" stroke-width="2" fill="none"/>
<path d="M1972,479.59h-3M1972,454.88h-3M1972,430.16h-3M1972,405.45h-3M1972,380.74h-3M1972,356.02h-3M1972,331.31h-3M1972,306.6h-3M1972,281.89h-3M1972,257.18h-3M1972,232.46h-3M1972,207.75h-3M1972,183.04h-3M1972,158.33h-3M1972,133.61h-3" stroke="#000" stroke-width="2" fill="none"/>
<rect x="1432.7" y="108.9" width="539.3" height="395.4" stroke="#000" stroke-width="2.4" fill="none"/>
<text x="1446.4" y="543.4" font-size="25" font-weight="normal" fill="#000" text-anchor="middle" font-family='"Liberation Sans", Arial, sans-serif'>260</text>
<text x="1548" y="543.4" font-size="25" font-weight="normal" fill="#000" text-anchor="middle" font-family='"Liberation Sans", Arial, sans-serif'>280</text>
<text x="1655.5" y="543.4" font-size="25" font-weight="normal" fill="#000" text-anchor="middle" font-family='"Liberation Sans", Arial, sans-serif'>300</text>
<text x="1763.8" y="543.4" font-size="25" font-weight="normal" fill="#000" text-anchor="middle" font-family='"Liberation Sans", Arial, sans-serif'>320</text>
<text x="1867.5" y="543.4" font-size="25" font-weight="normal" fill="#000" text-anchor="middle" font-family='"Liberation Sans", Arial, sans-serif'>340</text>
<text x="1979.7" y="543.4" font-size="25" font-weight="normal" fill="#000" text-anchor="middle" font-family='"Liberation Sans", Arial, sans-serif'>360</text>
<text x="1404" y="127.1" font-size="25" font-weight="normal" fill="#000" text-anchor="end" font-family='"Liberation Sans", Arial, sans-serif'>1.0</text>
<text x="1404" y="221.9" font-size="25" font-weight="normal" fill="#000" text-anchor="end" font-family='"Liberation Sans", Arial, sans-serif'>0.8</text>
<text x="1404" y="319.6" font-size="25" font-weight="normal" fill="#000" text-anchor="end" font-family='"Liberation Sans", Arial, sans-serif'>0.6</text>
<text x="1404" y="422.6" font-size="25" font-weight="normal" fill="#000" text-anchor="end" font-family='"Liberation Sans", Arial, sans-serif'>0.4</text>
<text x="1404" y="516.1" font-size="25" font-weight="normal" fill="#000" text-anchor="end" font-family='"Liberation Sans", Arial, sans-serif'>0.2</text>
<text x="1435" y="103" font-family='"Liberation Serif", "Times New Roman", serif' font-size="24" fill="#000" textLength="44.5" lengthAdjust="spacingAndGlyphs">×10</text>
<text x="1481.5" y="94.2" font-family='"Liberation Serif", "Times New Roman", serif' font-size="16.8" fill="#000" textLength="23" lengthAdjust="spacingAndGlyphs">−5</text>
<text transform="translate(1352.75,94) scale(0.83,1)" x="0" y="0" font-family='"Liberation Sans", Arial, sans-serif' font-size="47" font-weight="bold" fill="#000">c</text>
<text x="1637.5" y="584" font-size="38" font-weight="normal" fill="#000" text-anchor="start" font-family='"Liberation Sans", Arial, sans-serif' textLength="135.7" lengthAdjust="spacingAndGlyphs">E(meV)</text>
<text x="0" y="0" transform="translate(1335.2,310.3) rotate(-90)" text-anchor="middle" font-family='"Liberation Sans", Arial, sans-serif' font-size="40.3" fill="#000">Intensity (arb.units)</text>
<clipPath id="cc"><rect x="1434" y="110" width="537" height="393"/></clipPath>
<g clip-path="url(#cc)">
<polyline points="1434,448.5 1437,447.65 1440,446.8 1443,445.96 1446,445.11 1449,444.26 1452,443.41 1455,442.55 1458,441.69 1461,440.81 1464,439.93 1467,439.05 1470,438.16 1473,437.26 1476,436.36 1479,435.45 1482,434.53 1485,433.61 1488,432.67 1491,431.73 1494,430.81 1497,429.96 1500,429.15 1503,428.34 1506,427.49 1509,426.56 1512,425.51 1515,424.31 1518,422.91 1521,421.1 1524,418.37 1527,414.98 1530,411.25 1533,407.49 1536,404.03 1539,401.09 1542,398.44 1545,395.93 1548,393.49 1551,391.05 1554,388.55 1557,385.89 1560,383.01 1563,379.89 1566,376.56 1569,373.11 1572,369.57 1575,366.02 1578,362.51 1581,359.11 1584,355.87 1587,352.76 1590,349.72 1593,346.73 1596,343.78 1599,340.85 1602,337.92 1605,334.98 1608,332 1611,328.96 1614,325.86 1617,322.75 1620,319.68 1623,316.7 1626,313.86 1629,311.15 1632,308.53 1635,305.98 1638,303.51 1641,301.11 1644,298.78 1647,296.51 1650,294.24 1653,292 1656,289.8 1659,287.68 1662,285.66 1665,283.76 1668,282.01 1671,280.44 1674,279.08 1677,277.87 1680,276.73 1683,275.59 1686,274.37 1689,272.99 1692,271.35 1695,269.24 1698,267.02 1701,265.1 1704,263.27 1707,261.56 1710,260.16 1713,259.24 1716,258.48 1719,257.86 1722,257.48 1725,257.43 1728,257.78 1731,258.47 1734,259.45 1737,260.64 1740,261.98 1743,263.4 1746,264.85 1749,266.3 1752,268.1 1755,270.24 1758,272.6 1761,275.04 1764,277.43 1767,279.66 1770,281.59 1773,283.13 1776,284.5 1779,285.77 1782,286.96 1785,288.08 1788,289.14 1791,290.16 1794,291.15 1797,292.12 1800,293.09 1803,294.07 1806,295.08 1809,296.12 1812,297.15 1815,298.16 1818,299.16 1821,300.14 1824,301.13 1827,302.11 1830,303.09 1833,304.08 1836,305.07 1839,306.09 1842,307.11 1845,308.16 1848,309.22 1851,310.28 1854,311.36 1857,312.44 1860,313.53 1863,314.63 1866,315.73 1869,316.85 1872,317.97 1875,319.1 1878,320.24 1881,321.39 1884,322.56 1887,323.75 1890,324.96 1893,326.18 1896,327.4 1899,328.62 1902,329.84 1905,331.06 1908,332.26 1911,333.45 1914,334.62 1917,335.76 1920,336.9 1923,338.03 1926,339.14 1929,340.25 1932,341.36 1935,342.45 1938,343.54 1941,344.63 1944,345.72 1947,346.8 1950,347.88 1953,348.95 1956,350.02 1959,351.08 1962,352.14 1965,353.19 1968,354.24 1971,355.3" fill="none" stroke="#ee22ee" stroke-width="3.2" stroke-linejoin="round"/>
<polyline points="1434,450.1 1437,449.07 1440,448.04 1443,447.01 1446,445.98 1449,444.94 1452,443.91 1455,442.88 1458,441.84 1461,440.8 1464,439.78 1467,438.79 1470,437.83 1473,436.86 1476,435.88 1479,434.88 1482,433.83 1485,432.72 1488,431.54 1491,430.28 1494,428.9 1497,427.42 1500,425.84 1503,424.17 1506,422.4 1509,420.55 1512,418.63 1515,416.64 1518,414.59 1521,412.48 1524,410.32 1527,408.03 1530,405.63 1533,403.11 1536,400.48 1539,397.74 1542,394.89 1545,391.93 1548,388.83 1551,385.46 1554,381.85 1557,378.1 1560,374.3 1563,370.55 1566,366.73 1569,362.83 1572,358.88 1575,354.94 1578,351.03 1581,347.2 1584,343.49 1587,339.9 1590,336.39 1593,332.93 1596,329.5 1599,326.06 1602,322.6 1605,318.95 1608,315.11 1611,311.26 1614,307.59 1617,304.28 1620,301.52 1623,299.27 1626,297.26 1629,295.42 1632,293.73 1635,292.16 1638,290.66 1641,289.2 1644,287.74 1647,286.31 1650,285.02 1653,283.83 1656,282.68 1659,281.53 1662,280.3 1665,278.96 1668,277.44 1671,275.69 1674,273.66 1677,271.36 1680,268.84 1683,266.12 1686,263.22 1689,260.18 1692,256.95 1695,252.93 1698,248.84 1701,245.62 1704,242.56 1707,239.66 1710,237.35 1713,236.05 1716,236.02 1719,236.76 1722,238.07 1725,239.82 1728,241.89 1731,244.13 1734,246.44 1737,248.77 1740,251.75 1743,255.36 1746,259.34 1749,263.44 1752,267.41 1755,271.01 1758,273.99 1761,276.17 1764,278.04 1767,279.74 1770,281.3 1773,282.73 1776,284.07 1779,285.33 1782,286.54 1785,287.72 1788,288.9 1791,290.09 1794,291.32 1797,292.6 1800,293.87 1803,295.11 1806,296.34 1809,297.55 1812,298.74 1815,299.93 1818,301.11 1821,302.29 1824,303.47 1827,304.65 1830,305.84 1833,307.04 1836,308.24 1839,309.44 1842,310.64 1845,311.84 1848,313.04 1851,314.24 1854,315.43 1857,316.63 1860,317.83 1863,319.02 1866,320.22 1869,321.42 1872,322.6 1875,323.79 1878,324.96 1881,326.14 1884,327.32 1887,328.5 1890,329.69 1893,330.88 1896,332.09 1899,333.31 1902,334.54 1905,335.81 1908,337.15 1911,338.54 1914,339.98 1917,341.43 1920,342.88 1923,344.3 1926,345.68 1929,346.99 1932,348.22 1935,349.34 1938,350.33 1941,351.19 1944,351.98 1947,352.71 1950,353.39 1953,354.03 1956,354.65 1959,355.24 1962,355.84 1965,356.44 1968,357.05 1971,357.7" fill="none" stroke="#000" stroke-width="3.2" stroke-linejoin="round"/>
<polyline points="1433.1,443.9 1452.4,442.4 1466.2,440.9 1479.1,437.8 1492.9,431.6 1506.1,436.2 1519.7,427 1533.8,399.4 1546.7,394.2 1560.5,387.1 1573.7,374.8 1587.2,358 1600.4,346.6 1614.2,319.6 1628,311.9 1641.2,306.7 1654.7,291.9 1668,279 1681.1,282.7 1694.7,275 1708.4,263.4 1722,250.2 1735.8,270.5 1749,258.1 1761.6,282.5 1776,285.6 1788.9,287.2 1802.7,303.5 1816.4,295.6 1829.7,308.7 1843.4,303.5 1857,315.9 1870.8,313 1884,317.1 1897.8,330.7 1911,329.8 1924.6,343.4 1938.2,349.4 1951.6,352.9 1965.2,350.6 1971,356.5" fill="none" stroke="#ee1111" stroke-width="3" stroke-linejoin="round"/>
<path d="M1433.1,440.4v7M1430.9,440.4h4.4M1430.9,447.4h4.4M1452.4,438.9v7M1450.2,438.9h4.4M1450.2,445.9h4.4M1466.2,437.4v7M1464,437.4h4.4M1464,444.4h4.4M1479.1,434.3v7M1476.9,434.3h4.4M1476.9,441.3h4.4M1492.9,428.1v7M1490.7,428.1h4.4M1490.7,435.1h4.4M1506.1,432.7v7M1503.9,432.7h4.4M1503.9,439.7h4.4M1519.7,423.5v7M1517.5,423.5h4.4M1517.5,430.5h4.4M1533.8,395.9v7M1531.6,395.9h4.4M1531.6,402.9h4.4M1546.7,390.7v7M1544.5,390.7h4.4M1544.5,397.7h4.4M1560.5,383.6v7M1558.3,383.6h4.4M1558.3,390.6h4.4M1573.7,371.3v7M1571.5,371.3h4.4M1571.5,378.3h4.4M1587.2,354.5v7M1585,354.5h4.4M1585,361.5h4.4M1600.4,343.1v7M1598.2,343.1h4.4M1598.2,350.1h4.4M1614.2,316.1v7M1612,316.1h4.4M1612,323.1h4.4M1628,308.4v7M1625.8,308.4h4.4M1625.8,315.4h4.4M1641.2,303.2v7M1639,303.2h4.4M1639,310.2h4.4M1654.7,288.4v7M1652.5,288.4h4.4M1652.5,295.4h4.4M1668,275.5v7M1665.8,275.5h4.4M1665.8,282.5h4.4M1681.1,279.2v7M1678.9,279.2h4.4M1678.9,286.2h4.4M1694.7,271.5v7M1692.5,271.5h4.4M1692.5,278.5h4.4M1708.4,259.9v7M1706.2,259.9h4.4M1706.2,266.9h4.4M1722,246.7v7M1719.8,246.7h4.4M1719.8,253.7h4.4M1735.8,267v7M1733.6,267h4.4M1733.6,274h4.4M1749,254.6v7M1746.8,254.6h4.4M1746.8,261.6h4.4M1761.6,279v7M1759.4,279h4.4M1759.4,286h4.4M1776,282.1v7M1773.8,282.1h4.4M1773.8,289.1h4.4M1788.9,283.7v7M1786.7,283.7h4.4M1786.7,290.7h4.4M1802.7,300v7M1800.5,300h4.4M1800.5,307h4.4M1816.4,292.1v7M1814.2,292.1h4.4M1814.2,299.1h4.4M1829.7,305.2v7M1827.5,305.2h4.4M1827.5,312.2h4.4M1843.4,300v7M1841.2,300h4.4M1841.2,307h4.4M1857,312.4v7M1854.8,312.4h4.4M1854.8,319.4h4.4M1870.8,309.5v7M1868.6,309.5h4.4M1868.6,316.5h4.4M1884,313.6v7M1881.8,313.6h4.4M1881.8,320.6h4.4M1897.8,327.2v7M1895.6,327.2h4.4M1895.6,334.2h4.4M1911,326.3v7M1908.8,326.3h4.4M1908.8,333.3h4.4M1924.6,339.9v7M1922.4,339.9h4.4M1922.4,346.9h4.4M1938.2,345.9v7M1936,345.9h4.4M1936,352.9h4.4M1951.6,349.4v7M1949.4,349.4h4.4M1949.4,356.4h4.4M1965.2,347.1v7M1963,347.1h4.4M1963,354.1h4.4M1971,353v7M1968.8,353h4.4M1968.8,360h4.4" fill="none" stroke="#ee1111" stroke-width="1.6"/>
<polyline points="1433.1,444.8 1452.4,443.9 1466.2,450 1479.1,432.6 1492.9,431 1506.1,430.1 1519.7,425.5 1533.8,391.7 1546.7,387.7 1560.5,374.8 1573.7,364.1 1587.2,334.9 1600.4,331.9 1614.2,298.1 1628,300.5 1641.2,288.3 1654.7,285.8 1668,268.9 1681.1,260.6 1694.7,255.1 1708.4,237.1 1722,237.1 1735.8,249 1749,266.9 1761.6,276.5 1776,301.6 1788.9,277.7 1802.7,296.3 1816.4,288.4 1829.7,295.6 1843.4,315.9 1857,315.9 1870.8,320.7 1884,324.3 1897.8,339.8 1911,342.2 1924.6,336.2 1938.2,356.5 1951.6,345.8 1965.2,363.7 1971,361.3" fill="none" stroke="#11ee11" stroke-width="3" stroke-linejoin="round"/>
<path d="M1433.1,441.3v7M1430.9,441.3h4.4M1430.9,448.3h4.4M1452.4,440.4v7M1450.2,440.4h4.4M1450.2,447.4h4.4M1466.2,446.5v7M1464,446.5h4.4M1464,453.5h4.4M1479.1,429.1v7M1476.9,429.1h4.4M1476.9,436.1h4.4M1492.9,427.5v7M1490.7,427.5h4.4M1490.7,434.5h4.4M1506.1,426.6v7M1503.9,426.6h4.4M1503.9,433.6h4.4M1519.7,422v7M1517.5,422h4.4M1517.5,429h4.4M1533.8,388.2v7M1531.6,388.2h4.4M1531.6,395.2h4.4M1546.7,384.2v7M1544.5,384.2h4.4M1544.5,391.2h4.4M1560.5,371.3v7M1558.3,371.3h4.4M1558.3,378.3h4.4M1573.7,360.6v7M1571.5,360.6h4.4M1571.5,367.6h4.4M1587.2,331.4v7M1585,331.4h4.4M1585,338.4h4.4M1600.4,328.4v7M1598.2,328.4h4.4M1598.2,335.4h4.4M1614.2,294.6v7M1612,294.6h4.4M1612,301.6h4.4M1628,297v7M1625.8,297h4.4M1625.8,304h4.4M1641.2,284.8v7M1639,284.8h4.4M1639,291.8h4.4M1654.7,282.3v7M1652.5,282.3h4.4M1652.5,289.3h4.4M1668,265.4v7M1665.8,265.4h4.4M1665.8,272.4h4.4M1681.1,257.1v7M1678.9,257.1h4.4M1678.9,264.1h4.4M1694.7,251.6v7M1692.5,251.6h4.4M1692.5,258.6h4.4M1708.4,233.6v7M1706.2,233.6h4.4M1706.2,240.6h4.4M1722,233.6v7M1719.8,233.6h4.4M1719.8,240.6h4.4M1735.8,245.5v7M1733.6,245.5h4.4M1733.6,252.5h4.4M1749,263.4v7M1746.8,263.4h4.4M1746.8,270.4h4.4M1761.6,273v7M1759.4,273h4.4M1759.4,280h4.4M1776,298.1v7M1773.8,298.1h4.4M1773.8,305.1h4.4M1788.9,274.2v7M1786.7,274.2h4.4M1786.7,281.2h4.4M1802.7,292.8v7M1800.5,292.8h4.4M1800.5,299.8h4.4M1816.4,284.9v7M1814.2,284.9h4.4M1814.2,291.9h4.4M1829.7,292.1v7M1827.5,292.1h4.4M1827.5,299.1h4.4M1843.4,312.4v7M1841.2,312.4h4.4M1841.2,319.4h4.4M1857,312.4v7M1854.8,312.4h4.4M1854.8,319.4h4.4M1870.8,317.2v7M1868.6,317.2h4.4M1868.6,324.2h4.4M1884,320.8v7M1881.8,320.8h4.4M1881.8,327.8h4.4M1897.8,336.3v7M1895.6,336.3h4.4M1895.6,343.3h4.4M1911,338.7v7M1908.8,338.7h4.4M1908.8,345.7h4.4M1924.6,332.7v7M1922.4,332.7h4.4M1922.4,339.7h4.4M1938.2,353v7M1936,353h4.4M1936,360h4.4M1951.6,342.3v7M1949.4,342.3h4.4M1949.4,349.3h4.4M1965.2,360.2v7M1963,360.2h4.4M1963,367.2h4.4M1971,357.8v7M1968.8,357.8h4.4M1968.8,364.8h4.4" fill="none" stroke="#11ee11" stroke-width="1.6"/>
<polyline points="1434,465.4 1437,464.89 1440,464.38 1443,463.87 1446,463.37 1449,462.86 1452,462.35 1455,461.82 1458,461.29 1461,460.74 1464,460.19 1467,459.63 1470,459.07 1473,458.49 1476,457.91 1479,457.31 1482,456.71 1485,456.09 1488,455.45 1491,454.79 1494,454.13 1497,453.51 1500,452.88 1503,452.22 1506,451.52 1509,450.74 1512,449.87 1515,448.87 1518,447.69 1521,446.22 1524,444.47 1527,442.43 1530,440.11 1533,437.51 1536,434.52 1539,430.64 1542,425.97 1545,420.7 1548,415.02 1551,409.01 1554,401.93 1557,394.12 1560,386.14 1563,378.51 1566,371.06 1569,363.61 1572,356.11 1575,348.51 1578,340.69 1581,332.74 1584,324.81 1587,317.07 1590,309.68 1593,302.14 1596,294.63 1599,287.9 1602,282.7 1605,278.46 1608,274.54 1611,271.63 1614,270.41 1617,270.54 1620,270.98 1623,271.63 1626,272.45 1629,273.97 1632,276.92 1635,280.68 1638,284.61 1641,288.06 1644,290.88 1647,293.89 1650,296.48 1653,297.97 1656,297.71 1659,295.68 1662,292.3 1665,288 1668,282.31 1671,271.76 1674,258.14 1677,243.98 1680,231.45 1683,219.07 1686,206.59 1689,194.33 1692,182.63 1695,171.61 1698,159.82 1701,149.28 1704,143 1707,140.14 1710,138.28 1713,138.04 1716,139.71 1719,142.86 1722,147 1725,151.97 1728,160.65 1731,172.21 1734,184.64 1737,196.26 1740,208.15 1743,220.4 1746,232.5 1749,244.18 1752,256.48 1755,268.61 1758,279.34 1761,287.41 1764,293.45 1767,298.54 1770,302.42 1773,304.98 1776,307.02 1779,308.73 1782,310.16 1785,311.3 1788,312.2 1791,312.91 1794,313.51 1797,314.04 1800,314.5 1803,314.92 1806,315.3 1809,315.67 1812,316.05 1815,316.44 1818,316.87 1821,317.34 1824,317.79 1827,318.22 1830,318.63 1833,319.05 1836,319.47 1839,319.92 1842,320.39 1845,320.9 1848,321.46 1851,322.08 1854,322.78 1857,323.59 1860,324.67 1863,326.02 1866,327.57 1869,329.28 1872,331.1 1875,332.99 1878,334.89 1881,336.76 1884,338.55 1887,340.22 1890,341.71 1893,343.03 1896,344.37 1899,345.72 1902,347.07 1905,348.38 1908,349.65 1911,350.85 1914,351.97 1917,352.98 1920,353.86 1923,354.59 1926,355.15 1929,355.56 1932,355.92 1935,356.25 1938,356.54 1941,356.8 1944,357.04 1947,357.26 1950,357.47 1953,357.67 1956,357.86 1959,358.05 1962,358.24 1965,358.45 1968,358.66 1971,358.9" fill="none" stroke="#22ddee" stroke-width="3.2" stroke-linejoin="round"/>
<polyline points="1433.1,452.2 1452.4,465.4 1466.2,457.7 1479.1,459.9 1492.9,462.4 1506.1,454.1 1519.7,444.9 1533.8,448.6 1546.7,417.8 1560.5,384.1 1573.7,354.9 1587.2,314 1600.4,284.3 1614.2,275 1628,271.1 1641.2,295.6 1654.7,298.1 1668,280.3 1681.1,229 1694.7,175.3 1708.4,141.5 1722,149.1 1735.8,188.1 1749,244.2 1761.6,293.2 1776,307.6 1788.9,310.4 1802.7,314.7 1816.4,315.9 1829.7,320.7 1843.4,321.9 1857,321.9 1870.8,330.2 1884,337.4 1897.8,348.2 1911,351.8 1924.6,358.9 1938.2,349.8 1951.6,360.1 1965.2,356.5 1971,356.5" fill="none" stroke="#1530e0" stroke-width="3" stroke-linejoin="round"/>
<path d="M1433.1,448.7v7M1430.9,448.7h4.4M1430.9,455.7h4.4M1452.4,461.9v7M1450.2,461.9h4.4M1450.2,468.9h4.4M1466.2,454.2v7M1464,454.2h4.4M1464,461.2h4.4M1479.1,456.4v7M1476.9,456.4h4.4M1476.9,463.4h4.4M1492.9,458.9v7M1490.7,458.9h4.4M1490.7,465.9h4.4M1506.1,450.6v7M1503.9,450.6h4.4M1503.9,457.6h4.4M1519.7,441.4v7M1517.5,441.4h4.4M1517.5,448.4h4.4M1533.8,445.1v7M1531.6,445.1h4.4M1531.6,452.1h4.4M1546.7,414.3v7M1544.5,414.3h4.4M1544.5,421.3h4.4M1560.5,380.6v7M1558.3,380.6h4.4M1558.3,387.6h4.4M1573.7,351.4v7M1571.5,351.4h4.4M1571.5,358.4h4.4M1587.2,310.5v7M1585,310.5h4.4M1585,317.5h4.4M1600.4,280.8v7M1598.2,280.8h4.4M1598.2,287.8h4.4M1614.2,271.5v7M1612,271.5h4.4M1612,278.5h4.4M1628,267.6v7M1625.8,267.6h4.4M1625.8,274.6h4.4M1641.2,292.1v7M1639,292.1h4.4M1639,299.1h4.4M1654.7,294.6v7M1652.5,294.6h4.4M1652.5,301.6h4.4M1668,276.8v7M1665.8,276.8h4.4M1665.8,283.8h4.4M1681.1,225.5v7M1678.9,225.5h4.4M1678.9,232.5h4.4M1694.7,171.8v7M1692.5,171.8h4.4M1692.5,178.8h4.4M1708.4,138v7M1706.2,138h4.4M1706.2,145h4.4M1722,145.6v7M1719.8,145.6h4.4M1719.8,152.6h4.4M1735.8,184.6v7M1733.6,184.6h4.4M1733.6,191.6h4.4M1749,240.7v7M1746.8,240.7h4.4M1746.8,247.7h4.4M1761.6,289.7v7M1759.4,289.7h4.4M1759.4,296.7h4.4M1776,304.1v7M1773.8,304.1h4.4M1773.8,311.1h4.4M1788.9,306.9v7M1786.7,306.9h4.4M1786.7,313.9h4.4M1802.7,311.2v7M1800.5,311.2h4.4M1800.5,318.2h4.4M1816.4,312.4v7M1814.2,312.4h4.4M1814.2,319.4h4.4M1829.7,317.2v7M1827.5,317.2h4.4M1827.5,324.2h4.4M1843.4,318.4v7M1841.2,318.4h4.4M1841.2,325.4h4.4M1857,318.4v7M1854.8,318.4h4.4M1854.8,325.4h4.4M1870.8,326.7v7M1868.6,326.7h4.4M1868.6,333.7h4.4M1884,333.9v7M1881.8,333.9h4.4M1881.8,340.9h4.4M1897.8,344.7v7M1895.6,344.7h4.4M1895.6,351.7h4.4M1911,348.3v7M1908.8,348.3h4.4M1908.8,355.3h4.4M1924.6,355.4v7M1922.4,355.4h4.4M1922.4,362.4h4.4M1938.2,346.3v7M1936,346.3h4.4M1936,353.3h4.4M1951.6,356.6v7M1949.4,356.6h4.4M1949.4,363.6h4.4M1965.2,353v7M1963,353h4.4M1963,360h4.4M1971,353v7M1968.8,353h4.4M1968.8,360h4.4" fill="none" stroke="#1530e0" stroke-width="1.6"/>
</g>
<line x1="1653.9" y1="337.9" x2="1730" y2="337.9" stroke="#1a4fe8" stroke-width="6.4"/>
<text x="1751.6" y="345.7" font-size="21.6" font-weight="bold" fill="#1a4fe8" text-anchor="start" font-family='"Liberation Sans", Arial, sans-serif'>5K Raw</text>
<line x1="1654.8" y1="366.5" x2="1731.8" y2="366.5" stroke="#18aee8" stroke-width="6.4"/>
<text x="1753" y="378" font-size="21.6" font-weight="bold" fill="#18aee8" text-anchor="start" font-family='"Liberation Sans", Arial, sans-serif'>5K Fit</text>
<line x1="1653.9" y1="396.4" x2="1730" y2="396.4" stroke="#8ccc50" stroke-width="6.4"/>
<text x="1754" y="407.9" font-size="21.6" font-weight="bold" fill="#8ccc50" text-anchor="start" font-family='"Liberation Sans", Arial, sans-serif'>180K Raw</text>
<line x1="1653.9" y1="425.4" x2="1730" y2="425.4" stroke="#000" stroke-width="6.4"/>
<text x="1754" y="438.8" font-size="21.6" font-weight="bold" fill="#000" text-anchor="start" font-family='"Liberation Sans", Arial, sans-serif'>180K Fit</text>
<line x1="1656.2" y1="456.3" x2="1731.8" y2="456.3" stroke="#ee1111" stroke-width="6.4"/>
<text x="1755.3" y="467.8" font-size="21.6" font-weight="bold" fill="#ee1111" text-anchor="start" font-family='"Liberation Sans", Arial, sans-serif'>200K Raw</text>
<line x1="1658" y1="483" x2="1733.2" y2="483" stroke="#ee22ee" stroke-width="6.4"/>
<text x="1757" y="495.5" font-size="21.6" font-weight="bold" fill="#ee22ee" text-anchor="start" font-family='"Liberation Sans", Arial, sans-serif'>200K Fit</text>
<line x1="279.8" y1="771" x2="279.8" y2="1065" stroke="#c4c4c4" stroke-width="1.3"/>
<line x1="429.8" y1="684.4" x2="429.8" y2="1065" stroke="#c4c4c4" stroke-width="1.3"/>
<line x1="579.8" y1="684.4" x2="579.8" y2="1065" stroke="#c4c4c4" stroke-width="1.3"/>
<line x1="128.4" y1="684.4" x2="128.4" y2="1065" stroke="#9a9a9a" stroke-width="1.3"/>
<line x1="123.6" y1="952.6" x2="620.3" y2="952.6" stroke="#c4c4c4" stroke-width="1.3"/>
<line x1="123.6" y1="840.1" x2="620.3" y2="840.1" stroke="#c4c4c4" stroke-width="1.3"/>
<line x1="412" y1="727.6" x2="620.3" y2="727.6" stroke="#c4c4c4" stroke-width="1.3"/>
<path d="M129.8,1065v-5M159.8,1065v-5M189.8,1065v-5M219.8,1065v-5M249.8,1065v-5M279.8,1065v-5M309.8,1065v-5M339.8,1065v-5M369.8,1065v-5M399.8,1065v-5M429.8,1065v-5M459.8,1065v-5M489.8,1065v-5M519.8,1065v-5M549.8,1065v-5M579.8,1065v-5M609.8,1065v-5" stroke="#333" stroke-width="1.3" fill="none"/>
<path d="M129.8,684.4v5M159.8,684.4v5M189.8,684.4v5M219.8,684.4v5M249.8,684.4v5M279.8,684.4v5M309.8,684.4v5M339.8,684.4v5M369.8,684.4v5M399.8,684.4v5M429.8,684.4v5M459.8,684.4v5M489.8,684.4v5M519.8,684.4v5M549.8,684.4v5M579.8,684.4v5M609.8,684.4v5" stroke="#777" stroke-width="1.3" fill="none"/>
<path d="M123.6,1042.6h5M123.6,1020.1h5M123.6,997.6h5M123.6,975.1h5M123.6,952.6h5M123.6,930.1h5M123.6,907.6h5M123.6,885.1h5M123.6,862.6h5M123.6,840.1h5M123.6,817.6h5M123.6,795.1h5M123.6,772.6h5M123.6,750.1h5M123.6,727.6h5M123.6,705.1h5M123.6,682.6h5" stroke="#555" stroke-width="1.3" fill="none"/>
<path d="M620.3,1042.6h-5M620.3,1020.1h-5M620.3,997.6h-5M620.3,975.1h-5M620.3,952.6h-5M620.3,930.1h-5M620.3,907.6h-5M620.3,885.1h-5M620.3,862.6h-5M620.3,840.1h-5M620.3,817.6h-5M620.3,795.1h-5M620.3,772.6h-5M620.3,750.1h-5M620.3,727.6h-5M620.3,705.1h-5M620.3,682.6h-5" stroke="#777" stroke-width="1.3" fill="none"/>
<line x1="123.6" y1="684.4" x2="620.3" y2="684.4" stroke="#8a8a8a" stroke-width="1.6"/>
<line x1="123.6" y1="684.4" x2="123.6" y2="1065" stroke="#6a6a6a" stroke-width="1.8"/>
<line x1="620.3" y1="684.4" x2="620.3" y2="1065" stroke="#8a8a8a" stroke-width="1.6"/>
<line x1="123.6" y1="1065" x2="620.3" y2="1065" stroke="#222" stroke-width="2"/>
<text x="138.2" y="1098.4" font-size="25" font-weight="normal" fill="#000" text-anchor="middle" font-family='"Liberation Sans", Arial, sans-serif'>100</text>
<text x="281" y="1098.4" font-size="25" font-weight="normal" fill="#000" text-anchor="middle" font-family='"Liberation Sans", Arial, sans-serif'>150</text>
<text x="430.6" y="1098.4" font-size="25" font-weight="normal" fill="#000" text-anchor="middle" font-family='"Liberation Sans", Arial, sans-serif'>200</text>
<text x="581.3" y="1098.4" font-size="25" font-weight="normal" fill="#000" text-anchor="middle" font-family='"Liberation Sans", Arial, sans-serif'>250</text>
<text x="93.5" y="748.6" font-size="25" font-weight="normal" fill="#000" text-anchor="end" font-family='"Liberation Sans", Arial, sans-serif'>2.0</text>
<text x="93.5" y="859.4" font-size="25" font-weight="normal" fill="#000" text-anchor="end" font-family='"Liberation Sans", Arial, sans-serif'>1.5</text>
<text x="93.5" y="965.6" font-size="25" font-weight="normal" fill="#000" text-anchor="end" font-family='"Liberation Sans", Arial, sans-serif'>1.0</text>
<text x="93.5" y="1080.1" font-size="25" font-weight="normal" fill="#000" text-anchor="end" font-family='"Liberation Sans", Arial, sans-serif'>0.5</text>
<text x="122" y="678.5" font-family='"Liberation Serif", "Times New Roman", serif' font-size="24" fill="#000" textLength="44.5" lengthAdjust="spacingAndGlyphs">×10</text>
<text x="168.5" y="669.7" font-family='"Liberation Serif", "Times New Roman", serif' font-size="16.8" fill="#000" textLength="23" lengthAdjust="spacingAndGlyphs">−5</text>
<text transform="translate(18.08,673) scale(0.96,1.05)" x="0" y="0" font-family='"Liberation Sans", Arial, sans-serif' font-size="47" font-weight="bold" fill="#000">d</text>
<text x="292.5" y="1159" font-size="38" font-weight="normal" fill="#000" text-anchor="start" font-family='"Liberation Sans", Arial, sans-serif' textLength="135.7" lengthAdjust="spacingAndGlyphs">E(meV)</text>
<text x="0" y="0" transform="translate(29,922.6) rotate(-90)" text-anchor="middle" font-family='"Liberation Sans", Arial, sans-serif' font-size="40" fill="#000">Intensity (arb.units)</text>
<clipPath id="cd"><rect x="124.5" y="685" width="495" height="379"/></clipPath>
<g clip-path="url(#cd)">
<polyline points="125,932.36 128,935.76 131,939.98 134,941.58 137,944.77 140,948.08 143,949.85 146,953.96 149,957.4 152,960.47 155,960.52 158,963.48 161,965.1 164,969.69 167,971.61 170,971.82 173,977.08 176,978.23 179,978.44 182,979.52 185,979.26 188,979.45 191,981.41 194,980.23 197,980.96 200,981.55 203,981.6 206,983.73 209,984.39 212,983.82 215,979.82 218,977.25 221,973.76 224,971.24 227,968.37 230,966.81 233,968.12 236,970.53 239,973.48 242,976.52 245,978.79 248,982.05 251,984.96 254,986.06 257,990.08 260,990.71 263,993.99 266,995.28 269,999.86 272,1002.26 275,1002.3 278,1005.73 281,1009.76 284,1009.84 287,1012.96 290,1012.59 293,1013.04 296,1016.32 299,1018.31 302,1018.2 305,1019.13 308,1020.2 311,1022.47 314,1022.05 317,1020.25 320,1020.91 323,1020.2 326,1019.57 329,1021.44 332,1018.97 335,1019.7 338,1018.81 341,1017.37 344,1018.49 347,1015.95 350,1016.98 353,1016.15 356,1018.03 359,1018.28 362,1019.37 365,1021.4 368,1019.81 371,1017.14 374,1017.94 377,1013.96 380,1011.19 383,1009.31 386,1005.28 389,1001.64 392,1002.69 395,998.41 398,996.76 401,996.61 404,992.75 407,989.65 410,985.93 413,982.99 416,981.31 419,975.96 422,972.85 425,967.85 428,964.17 431,962.34 434,957.36 437,954.2 440,953.16 443,949.84 446,948.62 449,949.9 452,948.93 455,947.51 458,947.71 461,949.86 464,950.9 467,949.97 470,953.87 473,955.14 476,955.74 479,956.06 482,955.65 485,956.05 488,959.62 491,957.91 494,959.54 497,956.91 500,957.52 503,955.6 506,953.43 509,951.86 512,952.91 515,950.23 518,950.15 521,950.62 524,950.96 527,949.75 530,948.42 533,950.2 536,947.65 539,946.79 542,947.33 545,947.64 548,946.16 551,946.28 554,946.65 557,947.05 560,945.4 563,945.89 566,947.45 569,947.74 572,946.7 575,946.81 578,946.47 581,945.09 584,945.36 587,945.92 590,949.39 593,949.33 596,950.78 599,946.97 602,947.44 605,945.44 608,944.74 611,942.09 614,943.28 617,939.33" fill="none" stroke="#555" stroke-width="1" stroke-linejoin="round"/>
<path d="M121.4,932.36a3.6,3.6 0 1,0 7.2,0a3.6,3.6 0 1,0 -7.2,0M125,928.86v7M124.4,935.76a3.6,3.6 0 1,0 7.2,0a3.6,3.6 0 1,0 -7.2,0M128,932.26v7M127.4,939.98a3.6,3.6 0 1,0 7.2,0a3.6,3.6 0 1,0 -7.2,0M131,936.48v7M130.4,941.58a3.6,3.6 0 1,0 7.2,0a3.6,3.6 0 1,0 -7.2,0M134,938.08v7M133.4,944.77a3.6,3.6 0 1,0 7.2,0a3.6,3.6 0 1,0 -7.2,0M137,941.27v7M136.4,948.08a3.6,3.6 0 1,0 7.2,0a3.6,3.6 0 1,0 -7.2,0M140,944.58v7M139.4,949.85a3.6,3.6 0 1,0 7.2,0a3.6,3.6 0 1,0 -7.2,0M143,946.35v7M142.4,953.96a3.6,3.6 0 1,0 7.2,0a3.6,3.6 0 1,0 -7.2,0M146,950.46v7M145.4,957.4a3.6,3.6 0 1,0 7.2,0a3.6,3.6 0 1,0 -7.2,0M149,953.9v7M148.4,960.47a3.6,3.6 0 1,0 7.2,0a3.6,3.6 0 1,0 -7.2,0M152,956.97v7M151.4,960.52a3.6,3.6 0 1,0 7.2,0a3.6,3.6 0 1,0 -7.2,0M155,957.02v7M154.4,963.48a3.6,3.6 0 1,0 7.2,0a3.6,3.6 0 1,0 -7.2,0M158,959.98v7M157.4,965.1a3.6,3.6 0 1,0 7.2,0a3.6,3.6 0 1,0 -7.2,0M161,961.6v7M160.4,969.69a3.6,3.6 0 1,0 7.2,0a3.6,3.6 0 1,0 -7.2,0M164,966.19v7M163.4,971.61a3.6,3.6 0 1,0 7.2,0a3.6,3.6 0 1,0 -7.2,0M167,968.11v7M166.4,971.82a3.6,3.6 0 1,0 7.2,0a3.6,3.6 0 1,0 -7.2,0M170,968.32v7M169.4,977.08a3.6,3.6 0 1,0 7.2,0a3.6,3.6 0 1,0 -7.2,0M173,973.58v7M172.4,978.23a3.6,3.6 0 1,0 7.2,0a3.6,3.6 0 1,0 -7.2,0M176,974.73v7M175.4,978.44a3.6,3.6 0 1,0 7.2,0a3.6,3.6 0 1,0 -7.2,0M179,974.94v7M178.4,979.52a3.6,3.6 0 1,0 7.2,0a3.6,3.6 0 1,0 -7.2,0M182,976.02v7M181.4,979.26a3.6,3.6 0 1,0 7.2,0a3.6,3.6 0 1,0 -7.2,0M185,975.76v7M184.4,979.45a3.6,3.6 0 1,0 7.2,0a3.6,3.6 0 1,0 -7.2,0M188,975.95v7M187.4,981.41a3.6,3.6 0 1,0 7.2,0a3.6,3.6 0 1,0 -7.2,0M191,977.91v7M190.4,980.23a3.6,3.6 0 1,0 7.2,0a3.6,3.6 0 1,0 -7.2,0M194,976.73v7M193.4,980.96a3.6,3.6 0 1,0 7.2,0a3.6,3.6 0 1,0 -7.2,0M197,977.46v7M196.4,981.55a3.6,3.6 0 1,0 7.2,0a3.6,3.6 0 1,0 -7.2,0M200,978.05v7M199.4,981.6a3.6,3.6 0 1,0 7.2,0a3.6,3.6 0 1,0 -7.2,0M203,978.1v7M202.4,983.73a3.6,3.6 0 1,0 7.2,0a3.6,3.6 0 1,0 -7.2,0M206,980.23v7M205.4,984.39a3.6,3.6 0 1,0 7.2,0a3.6,3.6 0 1,0 -7.2,0M209,980.89v7M208.4,983.82a3.6,3.6 0 1,0 7.2,0a3.6,3.6 0 1,0 -7.2,0M212,980.32v7M211.4,979.82a3.6,3.6 0 1,0 7.2,0a3.6,3.6 0 1,0 -7.2,0M215,976.32v7M214.4,977.25a3.6,3.6 0 1,0 7.2,0a3.6,3.6 0 1,0 -7.2,0M218,973.75v7M217.4,973.76a3.6,3.6 0 1,0 7.2,0a3.6,3.6 0 1,0 -7.2,0M221,970.26v7M220.4,971.24a3.6,3.6 0 1,0 7.2,0a3.6,3.6 0 1,0 -7.2,0M224,967.74v7M223.4,968.37a3.6,3.6 0 1,0 7.2,0a3.6,3.6 0 1,0 -7.2,0M227,964.87v7M226.4,966.81a3.6,3.6 0 1,0 7.2,0a3.6,3.6 0 1,0 -7.2,0M230,963.31v7M229.4,968.12a3.6,3.6 0 1,0 7.2,0a3.6,3.6 0 1,0 -7.2,0M233,964.62v7M232.4,970.53a3.6,3.6 0 1,0 7.2,0a3.6,3.6 0 1,0 -7.2,0M236,967.03v7M235.4,973.48a3.6,3.6 0 1,0 7.2,0a3.6,3.6 0 1,0 -7.2,0M239,969.98v7M238.4,976.52a3.6,3.6 0 1,0 7.2,0a3.6,3.6 0 1,0 -7.2,0M242,973.02v7M241.4,978.79a3.6,3.6 0 1,0 7.2,0a3.6,3.6 0 1,0 -7.2,0M245,975.29v7M244.4,982.05a3.6,3.6 0 1,0 7.2,0a3.6,3.6 0 1,0 -7.2,0M248,978.55v7M247.4,984.96a3.6,3.6 0 1,0 7.2,0a3.6,3.6 0 1,0 -7.2,0M251,981.46v7M250.4,986.06a3.6,3.6 0 1,0 7.2,0a3.6,3.6 0 1,0 -7.2,0M254,982.56v7M253.4,990.08a3.6,3.6 0 1,0 7.2,0a3.6,3.6 0 1,0 -7.2,0M257,986.58v7M256.4,990.71a3.6,3.6 0 1,0 7.2,0a3.6,3.6 0 1,0 -7.2,0M260,987.21v7M259.4,993.99a3.6,3.6 0 1,0 7.2,0a3.6,3.6 0 1,0 -7.2,0M263,990.49v7M262.4,995.28a3.6,3.6 0 1,0 7.2,0a3.6,3.6 0 1,0 -7.2,0M266,991.78v7M265.4,999.86a3.6,3.6 0 1,0 7.2,0a3.6,3.6 0 1,0 -7.2,0M269,996.36v7M268.4,1002.26a3.6,3.6 0 1,0 7.2,0a3.6,3.6 0 1,0 -7.2,0M272,998.76v7M271.4,1002.3a3.6,3.6 0 1,0 7.2,0a3.6,3.6 0 1,0 -7.2,0M275,998.8v7M274.4,1005.73a3.6,3.6 0 1,0 7.2,0a3.6,3.6 0 1,0 -7.2,0M278,1002.23v7M277.4,1009.76a3.6,3.6 0 1,0 7.2,0a3.6,3.6 0 1,0 -7.2,0M281,1006.26v7M280.4,1009.84a3.6,3.6 0 1,0 7.2,0a3.6,3.6 0 1,0 -7.2,0M284,1006.34v7M283.4,1012.96a3.6,3.6 0 1,0 7.2,0a3.6,3.6 0 1,0 -7.2,0M287,1009.46v7M286.4,1012.59a3.6,3.6 0 1,0 7.2,0a3.6,3.6 0 1,0 -7.2,0M290,1009.09v7M289.4,1013.04a3.6,3.6 0 1,0 7.2,0a3.6,3.6 0 1,0 -7.2,0M293,1009.54v7M292.4,1016.32a3.6,3.6 0 1,0 7.2,0a3.6,3.6 0 1,0 -7.2,0M296,1012.82v7M295.4,1018.31a3.6,3.6 0 1,0 7.2,0a3.6,3.6 0 1,0 -7.2,0M299,1014.81v7M298.4,1018.2a3.6,3.6 0 1,0 7.2,0a3.6,3.6 0 1,0 -7.2,0M302,1014.7v7M301.4,1019.13a3.6,3.6 0 1,0 7.2,0a3.6,3.6 0 1,0 -7.2,0M305,1015.63v7M304.4,1020.2a3.6,3.6 0 1,0 7.2,0a3.6,3.6 0 1,0 -7.2,0M308,1016.7v7M307.4,1022.47a3.6,3.6 0 1,0 7.2,0a3.6,3.6 0 1,0 -7.2,0M311,1018.97v7M310.4,1022.05a3.6,3.6 0 1,0 7.2,0a3.6,3.6 0 1,0 -7.2,0M314,1018.55v7M313.4,1020.25a3.6,3.6 0 1,0 7.2,0a3.6,3.6 0 1,0 -7.2,0M317,1016.75v7M316.4,1020.91a3.6,3.6 0 1,0 7.2,0a3.6,3.6 0 1,0 -7.2,0M320,1017.41v7M319.4,1020.2a3.6,3.6 0 1,0 7.2,0a3.6,3.6 0 1,0 -7.2,0M323,1016.7v7M322.4,1019.57a3.6,3.6 0 1,0 7.2,0a3.6,3.6 0 1,0 -7.2,0M326,1016.07v7M325.4,1021.44a3.6,3.6 0 1,0 7.2,0a3.6,3.6 0 1,0 -7.2,0M329,1017.94v7M328.4,1018.97a3.6,3.6 0 1,0 7.2,0a3.6,3.6 0 1,0 -7.2,0M332,1015.47v7M331.4,1019.7a3.6,3.6 0 1,0 7.2,0a3.6,3.6 0 1,0 -7.2,0M335,1016.2v7M334.4,1018.81a3.6,3.6 0 1,0 7.2,0a3.6,3.6 0 1,0 -7.2,0M338,1015.31v7M337.4,1017.37a3.6,3.6 0 1,0 7.2,0a3.6,3.6 0 1,0 -7.2,0M341,1013.87v7M340.4,1018.49a3.6,3.6 0 1,0 7.2,0a3.6,3.6 0 1,0 -7.2,0M344,1014.99v7M343.4,1015.95a3.6,3.6 0 1,0 7.2,0a3.6,3.6 0 1,0 -7.2,0M347,1012.45v7M346.4,1016.98a3.6,3.6 0 1,0 7.2,0a3.6,3.6 0 1,0 -7.2,0M350,1013.48v7M349.4,1016.15a3.6,3.6 0 1,0 7.2,0a3.6,3.6 0 1,0 -7.2,0M353,1012.65v7M352.4,1018.03a3.6,3.6 0 1,0 7.2,0a3.6,3.6 0 1,0 -7.2,0M356,1014.53v7M355.4,1018.28a3.6,3.6 0 1,0 7.2,0a3.6,3.6 0 1,0 -7.2,0M359,1014.78v7M358.4,1019.37a3.6,3.6 0 1,0 7.2,0a3.6,3.6 0 1,0 -7.2,0M362,1015.87v7M361.4,1021.4a3.6,3.6 0 1,0 7.2,0a3.6,3.6 0 1,0 -7.2,0M365,1017.9v7M364.4,1019.81a3.6,3.6 0 1,0 7.2,0a3.6,3.6 0 1,0 -7.2,0M368,1016.31v7M367.4,1017.14a3.6,3.6 0 1,0 7.2,0a3.6,3.6 0 1,0 -7.2,0M371,1013.64v7M370.4,1017.94a3.6,3.6 0 1,0 7.2,0a3.6,3.6 0 1,0 -7.2,0M374,1014.44v7M373.4,1013.96a3.6,3.6 0 1,0 7.2,0a3.6,3.6 0 1,0 -7.2,0M377,1010.46v7M376.4,1011.19a3.6,3.6 0 1,0 7.2,0a3.6,3.6 0 1,0 -7.2,0M380,1007.69v7M379.4,1009.31a3.6,3.6 0 1,0 7.2,0a3.6,3.6 0 1,0 -7.2,0M383,1005.81v7M382.4,1005.28a3.6,3.6 0 1,0 7.2,0a3.6,3.6 0 1,0 -7.2,0M386,1001.78v7M385.4,1001.64a3.6,3.6 0 1,0 7.2,0a3.6,3.6 0 1,0 -7.2,0M389,998.14v7M388.4,1002.69a3.6,3.6 0 1,0 7.2,0a3.6,3.6 0 1,0 -7.2,0M392,999.19v7M391.4,998.41a3.6,3.6 0 1,0 7.2,0a3.6,3.6 0 1,0 -7.2,0M395,994.91v7M394.4,996.76a3.6,3.6 0 1,0 7.2,0a3.6,3.6 0 1,0 -7.2,0M398,993.26v7M397.4,996.61a3.6,3.6 0 1,0 7.2,0a3.6,3.6 0 1,0 -7.2,0M401,993.11v7M400.4,992.75a3.6,3.6 0 1,0 7.2,0a3.6,3.6 0 1,0 -7.2,0M404,989.25v7M403.4,989.65a3.6,3.6 0 1,0 7.2,0a3.6,3.6 0 1,0 -7.2,0M407,986.15v7M406.4,985.93a3.6,3.6 0 1,0 7.2,0a3.6,3.6 0 1,0 -7.2,0M410,982.43v7M409.4,982.99a3.6,3.6 0 1,0 7.2,0a3.6,3.6 0 1,0 -7.2,0M413,979.49v7M412.4,981.31a3.6,3.6 0 1,0 7.2,0a3.6,3.6 0 1,0 -7.2,0M416,977.81v7M415.4,975.96a3.6,3.6 0 1,0 7.2,0a3.6,3.6 0 1,0 -7.2,0M419,972.46v7M418.4,972.85a3.6,3.6 0 1,0 7.2,0a3.6,3.6 0 1,0 -7.2,0M422,969.35v7M421.4,967.85a3.6,3.6 0 1,0 7.2,0a3.6,3.6 0 1,0 -7.2,0M425,964.35v7M424.4,964.17a3.6,3.6 0 1,0 7.2,0a3.6,3.6 0 1,0 -7.2,0M428,960.67v7M427.4,962.34a3.6,3.6 0 1,0 7.2,0a3.6,3.6 0 1,0 -7.2,0M431,958.84v7M430.4,957.36a3.6,3.6 0 1,0 7.2,0a3.6,3.6 0 1,0 -7.2,0M434,953.86v7M433.4,954.2a3.6,3.6 0 1,0 7.2,0a3.6,3.6 0 1,0 -7.2,0M437,950.7v7M436.4,953.16a3.6,3.6 0 1,0 7.2,0a3.6,3.6 0 1,0 -7.2,0M440,949.66v7M439.4,949.84a3.6,3.6 0 1,0 7.2,0a3.6,3.6 0 1,0 -7.2,0M443,946.34v7M442.4,948.62a3.6,3.6 0 1,0 7.2,0a3.6,3.6 0 1,0 -7.2,0M446,945.12v7M445.4,949.9a3.6,3.6 0 1,0 7.2,0a3.6,3.6 0 1,0 -7.2,0M449,946.4v7M448.4,948.93a3.6,3.6 0 1,0 7.2,0a3.6,3.6 0 1,0 -7.2,0M452,945.43v7M451.4,947.51a3.6,3.6 0 1,0 7.2,0a3.6,3.6 0 1,0 -7.2,0M455,944.01v7M454.4,947.71a3.6,3.6 0 1,0 7.2,0a3.6,3.6 0 1,0 -7.2,0M458,944.21v7M457.4,949.86a3.6,3.6 0 1,0 7.2,0a3.6,3.6 0 1,0 -7.2,0M461,946.36v7M460.4,950.9a3.6,3.6 0 1,0 7.2,0a3.6,3.6 0 1,0 -7.2,0M464,947.4v7M463.4,949.97a3.6,3.6 0 1,0 7.2,0a3.6,3.6 0 1,0 -7.2,0M467,946.47v7M466.4,953.87a3.6,3.6 0 1,0 7.2,0a3.6,3.6 0 1,0 -7.2,0M470,950.37v7M469.4,955.14a3.6,3.6 0 1,0 7.2,0a3.6,3.6 0 1,0 -7.2,0M473,951.64v7M472.4,955.74a3.6,3.6 0 1,0 7.2,0a3.6,3.6 0 1,0 -7.2,0M476,952.24v7M475.4,956.06a3.6,3.6 0 1,0 7.2,0a3.6,3.6 0 1,0 -7.2,0M479,952.56v7M478.4,955.65a3.6,3.6 0 1,0 7.2,0a3.6,3.6 0 1,0 -7.2,0M482,952.15v7M481.4,956.05a3.6,3.6 0 1,0 7.2,0a3.6,3.6 0 1,0 -7.2,0M485,952.55v7M484.4,959.62a3.6,3.6 0 1,0 7.2,0a3.6,3.6 0 1,0 -7.2,0M488,956.12v7M487.4,957.91a3.6,3.6 0 1,0 7.2,0a3.6,3.6 0 1,0 -7.2,0M491,954.41v7M490.4,959.54a3.6,3.6 0 1,0 7.2,0a3.6,3.6 0 1,0 -7.2,0M494,956.04v7M493.4,956.91a3.6,3.6 0 1,0 7.2,0a3.6,3.6 0 1,0 -7.2,0M497,953.41v7M496.4,957.52a3.6,3.6 0 1,0 7.2,0a3.6,3.6 0 1,0 -7.2,0M500,954.02v7M499.4,955.6a3.6,3.6 0 1,0 7.2,0a3.6,3.6 0 1,0 -7.2,0M503,952.1v7M502.4,953.43a3.6,3.6 0 1,0 7.2,0a3.6,3.6 0 1,0 -7.2,0M506,949.93v7M505.4,951.86a3.6,3.6 0 1,0 7.2,0a3.6,3.6 0 1,0 -7.2,0M509,948.36v7M508.4,952.91a3.6,3.6 0 1,0 7.2,0a3.6,3.6 0 1,0 -7.2,0M512,949.41v7M511.4,950.23a3.6,3.6 0 1,0 7.2,0a3.6,3.6 0 1,0 -7.2,0M515,946.73v7M514.4,950.15a3.6,3.6 0 1,0 7.2,0a3.6,3.6 0 1,0 -7.2,0M518,946.65v7M517.4,950.62a3.6,3.6 0 1,0 7.2,0a3.6,3.6 0 1,0 -7.2,0M521,947.12v7M520.4,950.96a3.6,3.6 0 1,0 7.2,0a3.6,3.6 0 1,0 -7.2,0M524,947.46v7M523.4,949.75a3.6,3.6 0 1,0 7.2,0a3.6,3.6 0 1,0 -7.2,0M527,946.25v7M526.4,948.42a3.6,3.6 0 1,0 7.2,0a3.6,3.6 0 1,0 -7.2,0M530,944.92v7M529.4,950.2a3.6,3.6 0 1,0 7.2,0a3.6,3.6 0 1,0 -7.2,0M533,946.7v7M532.4,947.65a3.6,3.6 0 1,0 7.2,0a3.6,3.6 0 1,0 -7.2,0M536,944.15v7M535.4,946.79a3.6,3.6 0 1,0 7.2,0a3.6,3.6 0 1,0 -7.2,0M539,943.29v7M538.4,947.33a3.6,3.6 0 1,0 7.2,0a3.6,3.6 0 1,0 -7.2,0M542,943.83v7M541.4,947.64a3.6,3.6 0 1,0 7.2,0a3.6,3.6 0 1,0 -7.2,0M545,944.14v7M544.4,946.16a3.6,3.6 0 1,0 7.2,0a3.6,3.6 0 1,0 -7.2,0M548,942.66v7M547.4,946.28a3.6,3.6 0 1,0 7.2,0a3.6,3.6 0 1,0 -7.2,0M551,942.78v7M550.4,946.65a3.6,3.6 0 1,0 7.2,0a3.6,3.6 0 1,0 -7.2,0M554,943.15v7M553.4,947.05a3.6,3.6 0 1,0 7.2,0a3.6,3.6 0 1,0 -7.2,0M557,943.55v7M556.4,945.4a3.6,3.6 0 1,0 7.2,0a3.6,3.6 0 1,0 -7.2,0M560,941.9v7M559.4,945.89a3.6,3.6 0 1,0 7.2,0a3.6,3.6 0 1,0 -7.2,0M563,942.39v7M562.4,947.45a3.6,3.6 0 1,0 7.2,0a3.6,3.6 0 1,0 -7.2,0M566,943.95v7M565.4,947.74a3.6,3.6 0 1,0 7.2,0a3.6,3.6 0 1,0 -7.2,0M569,944.24v7M568.4,946.7a3.6,3.6 0 1,0 7.2,0a3.6,3.6 0 1,0 -7.2,0M572,943.2v7M571.4,946.81a3.6,3.6 0 1,0 7.2,0a3.6,3.6 0 1,0 -7.2,0M575,943.31v7M574.4,946.47a3.6,3.6 0 1,0 7.2,0a3.6,3.6 0 1,0 -7.2,0M578,942.97v7M577.4,945.09a3.6,3.6 0 1,0 7.2,0a3.6,3.6 0 1,0 -7.2,0M581,941.59v7M580.4,945.36a3.6,3.6 0 1,0 7.2,0a3.6,3.6 0 1,0 -7.2,0M584,941.86v7M583.4,945.92a3.6,3.6 0 1,0 7.2,0a3.6,3.6 0 1,0 -7.2,0M587,942.42v7M586.4,949.39a3.6,3.6 0 1,0 7.2,0a3.6,3.6 0 1,0 -7.2,0M590,945.89v7M589.4,949.33a3.6,3.6 0 1,0 7.2,0a3.6,3.6 0 1,0 -7.2,0M593,945.83v7M592.4,950.78a3.6,3.6 0 1,0 7.2,0a3.6,3.6 0 1,0 -7.2,0M596,947.28v7M595.4,946.97a3.6,3.6 0 1,0 7.2,0a3.6,3.6 0 1,0 -7.2,0M599,943.47v7M598.4,947.44a3.6,3.6 0 1,0 7.2,0a3.6,3.6 0 1,0 -7.2,0M602,943.94v7M601.4,945.44a3.6,3.6 0 1,0 7.2,0a3.6,3.6 0 1,0 -7.2,0M605,941.94v7M604.4,944.74a3.6,3.6 0 1,0 7.2,0a3.6,3.6 0 1,0 -7.2,0M608,941.24v7M607.4,942.09a3.6,3.6 0 1,0 7.2,0a3.6,3.6 0 1,0 -7.2,0M611,938.59v7M610.4,943.28a3.6,3.6 0 1,0 7.2,0a3.6,3.6 0 1,0 -7.2,0M614,939.78v7M613.4,939.33a3.6,3.6 0 1,0 7.2,0a3.6,3.6 0 1,0 -7.2,0M617,935.83v7" fill="none" stroke="#333" stroke-width="0.9"/>
<polyline points="125,903.4 128,908.09 131,912.22 134,915.02 137,920.07 140,926.71 143,930.84 146,936.33 149,939.72 152,943.05 155,945.15 158,947.71 161,948.3 164,952.33 167,955.17 170,961.29 173,962.19 176,964.62 179,962.24 182,964.2 185,963.08 188,962.73 191,963.25 194,959.73 197,958.97 200,960.45 203,956.68 206,952.86 209,948.72 212,938.12 215,924.94 218,915.55 221,908.55 224,900.24 227,895.29 230,893.82 233,907.12 236,923.21 239,941.45 242,957.39 245,963.89 248,968.77 251,973.31 254,975.93 257,978.63 260,980.5 263,985.72 266,989.5 269,992.52 272,994.52 275,995.54 278,996.7 281,998.88 284,999.96 287,1000.03 290,1002.29 293,1004.57 296,1007.09 299,1010.3 302,1011.57 305,1012.31 308,1013.84 311,1011.45 314,1010.6 317,1009.13 320,1010.05 323,1010.19 326,1011.68 329,1009.8 332,1011.3 335,1008.9 338,1009.36 341,1006.04 344,1005.61 347,1005.05 350,1005.37 353,1002.89 356,1003.58 359,1002.03 362,1001.27 365,1000.89 368,1001.43 371,998.91 374,999.39 377,994.76 380,995.07 383,991.17 386,989.09 389,989.37 392,988.38 395,983.97 398,981.59 401,979.25 404,973.93 407,969.63 410,964.86 413,960.94 416,957.49 419,948.18 422,937.75 425,925.69 428,913.67 431,904.15 434,895.16 437,886.47 440,878.67 443,878.58 446,880.75 449,884.49 452,892.86 455,901.14 458,912.53 461,916.89 464,919.07 467,921.58 470,925.45 473,925.55 476,930.42 479,932.05 482,935.63 485,937.65 488,937.07 491,938.29 494,938.65 497,939.05 500,938.1 503,935.32 506,936.22 509,933.21 512,931.13 515,930.54 518,931.18 521,928.73 524,927.83 527,928.47 530,929.35 533,929.44 536,929.09 539,930.33 542,931.7 545,931.71 548,931.41 551,931.04 554,929.98 557,929.65 560,927.6 563,924.35 566,925.63 569,925.96 572,925.32 575,925.34 578,925.09 581,923.61 584,924.43 587,923.11 590,922.21 593,923.03 596,922.9 599,923.89 602,921.61 605,919.63 608,918.39 611,915.48 614,915.83 617,915.4" fill="none" stroke="#f06060" stroke-width="1" stroke-linejoin="round"/>
<path d="M121.4,903.4a3.6,3.6 0 1,0 7.2,0a3.6,3.6 0 1,0 -7.2,0M125,899.9v7M124.4,908.09a3.6,3.6 0 1,0 7.2,0a3.6,3.6 0 1,0 -7.2,0M128,904.59v7M127.4,912.22a3.6,3.6 0 1,0 7.2,0a3.6,3.6 0 1,0 -7.2,0M131,908.72v7M130.4,915.02a3.6,3.6 0 1,0 7.2,0a3.6,3.6 0 1,0 -7.2,0M134,911.52v7M133.4,920.07a3.6,3.6 0 1,0 7.2,0a3.6,3.6 0 1,0 -7.2,0M137,916.57v7M136.4,926.71a3.6,3.6 0 1,0 7.2,0a3.6,3.6 0 1,0 -7.2,0M140,923.21v7M139.4,930.84a3.6,3.6 0 1,0 7.2,0a3.6,3.6 0 1,0 -7.2,0M143,927.34v7M142.4,936.33a3.6,3.6 0 1,0 7.2,0a3.6,3.6 0 1,0 -7.2,0M146,932.83v7M145.4,939.72a3.6,3.6 0 1,0 7.2,0a3.6,3.6 0 1,0 -7.2,0M149,936.22v7M148.4,943.05a3.6,3.6 0 1,0 7.2,0a3.6,3.6 0 1,0 -7.2,0M152,939.55v7M151.4,945.15a3.6,3.6 0 1,0 7.2,0a3.6,3.6 0 1,0 -7.2,0M155,941.65v7M154.4,947.71a3.6,3.6 0 1,0 7.2,0a3.6,3.6 0 1,0 -7.2,0M158,944.21v7M157.4,948.3a3.6,3.6 0 1,0 7.2,0a3.6,3.6 0 1,0 -7.2,0M161,944.8v7M160.4,952.33a3.6,3.6 0 1,0 7.2,0a3.6,3.6 0 1,0 -7.2,0M164,948.83v7M163.4,955.17a3.6,3.6 0 1,0 7.2,0a3.6,3.6 0 1,0 -7.2,0M167,951.67v7M166.4,961.29a3.6,3.6 0 1,0 7.2,0a3.6,3.6 0 1,0 -7.2,0M170,957.79v7M169.4,962.19a3.6,3.6 0 1,0 7.2,0a3.6,3.6 0 1,0 -7.2,0M173,958.69v7M172.4,964.62a3.6,3.6 0 1,0 7.2,0a3.6,3.6 0 1,0 -7.2,0M176,961.12v7M175.4,962.24a3.6,3.6 0 1,0 7.2,0a3.6,3.6 0 1,0 -7.2,0M179,958.74v7M178.4,964.2a3.6,3.6 0 1,0 7.2,0a3.6,3.6 0 1,0 -7.2,0M182,960.7v7M181.4,963.08a3.6,3.6 0 1,0 7.2,0a3.6,3.6 0 1,0 -7.2,0M185,959.58v7M184.4,962.73a3.6,3.6 0 1,0 7.2,0a3.6,3.6 0 1,0 -7.2,0M188,959.23v7M187.4,963.25a3.6,3.6 0 1,0 7.2,0a3.6,3.6 0 1,0 -7.2,0M191,959.75v7M190.4,959.73a3.6,3.6 0 1,0 7.2,0a3.6,3.6 0 1,0 -7.2,0M194,956.23v7M193.4,958.97a3.6,3.6 0 1,0 7.2,0a3.6,3.6 0 1,0 -7.2,0M197,955.47v7M196.4,960.45a3.6,3.6 0 1,0 7.2,0a3.6,3.6 0 1,0 -7.2,0M200,956.95v7M199.4,956.68a3.6,3.6 0 1,0 7.2,0a3.6,3.6 0 1,0 -7.2,0M203,953.18v7M202.4,952.86a3.6,3.6 0 1,0 7.2,0a3.6,3.6 0 1,0 -7.2,0M206,949.36v7M205.4,948.72a3.6,3.6 0 1,0 7.2,0a3.6,3.6 0 1,0 -7.2,0M209,945.22v7M208.4,938.12a3.6,3.6 0 1,0 7.2,0a3.6,3.6 0 1,0 -7.2,0M212,934.62v7M211.4,924.94a3.6,3.6 0 1,0 7.2,0a3.6,3.6 0 1,0 -7.2,0M215,921.44v7M214.4,915.55a3.6,3.6 0 1,0 7.2,0a3.6,3.6 0 1,0 -7.2,0M218,912.05v7M217.4,908.55a3.6,3.6 0 1,0 7.2,0a3.6,3.6 0 1,0 -7.2,0M221,905.05v7M220.4,900.24a3.6,3.6 0 1,0 7.2,0a3.6,3.6 0 1,0 -7.2,0M224,896.74v7M223.4,895.29a3.6,3.6 0 1,0 7.2,0a3.6,3.6 0 1,0 -7.2,0M227,891.79v7M226.4,893.82a3.6,3.6 0 1,0 7.2,0a3.6,3.6 0 1,0 -7.2,0M230,890.32v7M229.4,907.12a3.6,3.6 0 1,0 7.2,0a3.6,3.6 0 1,0 -7.2,0M233,903.62v7M232.4,923.21a3.6,3.6 0 1,0 7.2,0a3.6,3.6 0 1,0 -7.2,0M236,919.71v7M235.4,941.45a3.6,3.6 0 1,0 7.2,0a3.6,3.6 0 1,0 -7.2,0M239,937.95v7M238.4,957.39a3.6,3.6 0 1,0 7.2,0a3.6,3.6 0 1,0 -7.2,0M242,953.89v7M241.4,963.89a3.6,3.6 0 1,0 7.2,0a3.6,3.6 0 1,0 -7.2,0M245,960.39v7M244.4,968.77a3.6,3.6 0 1,0 7.2,0a3.6,3.6 0 1,0 -7.2,0M248,965.27v7M247.4,973.31a3.6,3.6 0 1,0 7.2,0a3.6,3.6 0 1,0 -7.2,0M251,969.81v7M250.4,975.93a3.6,3.6 0 1,0 7.2,0a3.6,3.6 0 1,0 -7.2,0M254,972.43v7M253.4,978.63a3.6,3.6 0 1,0 7.2,0a3.6,3.6 0 1,0 -7.2,0M257,975.13v7M256.4,980.5a3.6,3.6 0 1,0 7.2,0a3.6,3.6 0 1,0 -7.2,0M260,977v7M259.4,985.72a3.6,3.6 0 1,0 7.2,0a3.6,3.6 0 1,0 -7.2,0M263,982.22v7M262.4,989.5a3.6,3.6 0 1,0 7.2,0a3.6,3.6 0 1,0 -7.2,0M266,986v7M265.4,992.52a3.6,3.6 0 1,0 7.2,0a3.6,3.6 0 1,0 -7.2,0M269,989.02v7M268.4,994.52a3.6,3.6 0 1,0 7.2,0a3.6,3.6 0 1,0 -7.2,0M272,991.02v7M271.4,995.54a3.6,3.6 0 1,0 7.2,0a3.6,3.6 0 1,0 -7.2,0M275,992.04v7M274.4,996.7a3.6,3.6 0 1,0 7.2,0a3.6,3.6 0 1,0 -7.2,0M278,993.2v7M277.4,998.88a3.6,3.6 0 1,0 7.2,0a3.6,3.6 0 1,0 -7.2,0M281,995.38v7M280.4,999.96a3.6,3.6 0 1,0 7.2,0a3.6,3.6 0 1,0 -7.2,0M284,996.46v7M283.4,1000.03a3.6,3.6 0 1,0 7.2,0a3.6,3.6 0 1,0 -7.2,0M287,996.53v7M286.4,1002.29a3.6,3.6 0 1,0 7.2,0a3.6,3.6 0 1,0 -7.2,0M290,998.79v7M289.4,1004.57a3.6,3.6 0 1,0 7.2,0a3.6,3.6 0 1,0 -7.2,0M293,1001.07v7M292.4,1007.09a3.6,3.6 0 1,0 7.2,0a3.6,3.6 0 1,0 -7.2,0M296,1003.59v7M295.4,1010.3a3.6,3.6 0 1,0 7.2,0a3.6,3.6 0 1,0 -7.2,0M299,1006.8v7M298.4,1011.57a3.6,3.6 0 1,0 7.2,0a3.6,3.6 0 1,0 -7.2,0M302,1008.07v7M301.4,1012.31a3.6,3.6 0 1,0 7.2,0a3.6,3.6 0 1,0 -7.2,0M305,1008.81v7M304.4,1013.84a3.6,3.6 0 1,0 7.2,0a3.6,3.6 0 1,0 -7.2,0M308,1010.34v7M307.4,1011.45a3.6,3.6 0 1,0 7.2,0a3.6,3.6 0 1,0 -7.2,0M311,1007.95v7M310.4,1010.6a3.6,3.6 0 1,0 7.2,0a3.6,3.6 0 1,0 -7.2,0M314,1007.1v7M313.4,1009.13a3.6,3.6 0 1,0 7.2,0a3.6,3.6 0 1,0 -7.2,0M317,1005.63v7M316.4,1010.05a3.6,3.6 0 1,0 7.2,0a3.6,3.6 0 1,0 -7.2,0M320,1006.55v7M319.4,1010.19a3.6,3.6 0 1,0 7.2,0a3.6,3.6 0 1,0 -7.2,0M323,1006.69v7M322.4,1011.68a3.6,3.6 0 1,0 7.2,0a3.6,3.6 0 1,0 -7.2,0M326,1008.18v7M325.4,1009.8a3.6,3.6 0 1,0 7.2,0a3.6,3.6 0 1,0 -7.2,0M329,1006.3v7M328.4,1011.3a3.6,3.6 0 1,0 7.2,0a3.6,3.6 0 1,0 -7.2,0M332,1007.8v7M331.4,1008.9a3.6,3.6 0 1,0 7.2,0a3.6,3.6 0 1,0 -7.2,0M335,1005.4v7M334.4,1009.36a3.6,3.6 0 1,0 7.2,0a3.6,3.6 0 1,0 -7.2,0M338,1005.86v7M337.4,1006.04a3.6,3.6 0 1,0 7.2,0a3.6,3.6 0 1,0 -7.2,0M341,1002.54v7M340.4,1005.61a3.6,3.6 0 1,0 7.2,0a3.6,3.6 0 1,0 -7.2,0M344,1002.11v7M343.4,1005.05a3.6,3.6 0 1,0 7.2,0a3.6,3.6 0 1,0 -7.2,0M347,1001.55v7M346.4,1005.37a3.6,3.6 0 1,0 7.2,0a3.6,3.6 0 1,0 -7.2,0M350,1001.87v7M349.4,1002.89a3.6,3.6 0 1,0 7.2,0a3.6,3.6 0 1,0 -7.2,0M353,999.39v7M352.4,1003.58a3.6,3.6 0 1,0 7.2,0a3.6,3.6 0 1,0 -7.2,0M356,1000.08v7M355.4,1002.03a3.6,3.6 0 1,0 7.2,0a3.6,3.6 0 1,0 -7.2,0M359,998.53v7M358.4,1001.27a3.6,3.6 0 1,0 7.2,0a3.6,3.6 0 1,0 -7.2,0M362,997.77v7M361.4,1000.89a3.6,3.6 0 1,0 7.2,0a3.6,3.6 0 1,0 -7.2,0M365,997.39v7M364.4,1001.43a3.6,3.6 0 1,0 7.2,0a3.6,3.6 0 1,0 -7.2,0M368,997.93v7M367.4,998.91a3.6,3.6 0 1,0 7.2,0a3.6,3.6 0 1,0 -7.2,0M371,995.41v7M370.4,999.39a3.6,3.6 0 1,0 7.2,0a3.6,3.6 0 1,0 -7.2,0M374,995.89v7M373.4,994.76a3.6,3.6 0 1,0 7.2,0a3.6,3.6 0 1,0 -7.2,0M377,991.26v7M376.4,995.07a3.6,3.6 0 1,0 7.2,0a3.6,3.6 0 1,0 -7.2,0M380,991.57v7M379.4,991.17a3.6,3.6 0 1,0 7.2,0a3.6,3.6 0 1,0 -7.2,0M383,987.67v7M382.4,989.09a3.6,3.6 0 1,0 7.2,0a3.6,3.6 0 1,0 -7.2,0M386,985.59v7M385.4,989.37a3.6,3.6 0 1,0 7.2,0a3.6,3.6 0 1,0 -7.2,0M389,985.87v7M388.4,988.38a3.6,3.6 0 1,0 7.2,0a3.6,3.6 0 1,0 -7.2,0M392,984.88v7M391.4,983.97a3.6,3.6 0 1,0 7.2,0a3.6,3.6 0 1,0 -7.2,0M395,980.47v7M394.4,981.59a3.6,3.6 0 1,0 7.2,0a3.6,3.6 0 1,0 -7.2,0M398,978.09v7M397.4,979.25a3.6,3.6 0 1,0 7.2,0a3.6,3.6 0 1,0 -7.2,0M401,975.75v7M400.4,973.93a3.6,3.6 0 1,0 7.2,0a3.6,3.6 0 1,0 -7.2,0M404,970.43v7M403.4,969.63a3.6,3.6 0 1,0 7.2,0a3.6,3.6 0 1,0 -7.2,0M407,966.13v7M406.4,964.86a3.6,3.6 0 1,0 7.2,0a3.6,3.6 0 1,0 -7.2,0M410,961.36v7M409.4,960.94a3.6,3.6 0 1,0 7.2,0a3.6,3.6 0 1,0 -7.2,0M413,957.44v7M412.4,957.49a3.6,3.6 0 1,0 7.2,0a3.6,3.6 0 1,0 -7.2,0M416,953.99v7M415.4,948.18a3.6,3.6 0 1,0 7.2,0a3.6,3.6 0 1,0 -7.2,0M419,944.68v7M418.4,937.75a3.6,3.6 0 1,0 7.2,0a3.6,3.6 0 1,0 -7.2,0M422,934.25v7M421.4,925.69a3.6,3.6 0 1,0 7.2,0a3.6,3.6 0 1,0 -7.2,0M425,922.19v7M424.4,913.67a3.6,3.6 0 1,0 7.2,0a3.6,3.6 0 1,0 -7.2,0M428,910.17v7M427.4,904.15a3.6,3.6 0 1,0 7.2,0a3.6,3.6 0 1,0 -7.2,0M431,900.65v7M430.4,895.16a3.6,3.6 0 1,0 7.2,0a3.6,3.6 0 1,0 -7.2,0M434,891.66v7M433.4,886.47a3.6,3.6 0 1,0 7.2,0a3.6,3.6 0 1,0 -7.2,0M437,882.97v7M436.4,878.67a3.6,3.6 0 1,0 7.2,0a3.6,3.6 0 1,0 -7.2,0M440,875.17v7M439.4,878.58a3.6,3.6 0 1,0 7.2,0a3.6,3.6 0 1,0 -7.2,0M443,875.08v7M442.4,880.75a3.6,3.6 0 1,0 7.2,0a3.6,3.6 0 1,0 -7.2,0M446,877.25v7M445.4,884.49a3.6,3.6 0 1,0 7.2,0a3.6,3.6 0 1,0 -7.2,0M449,880.99v7M448.4,892.86a3.6,3.6 0 1,0 7.2,0a3.6,3.6 0 1,0 -7.2,0M452,889.36v7M451.4,901.14a3.6,3.6 0 1,0 7.2,0a3.6,3.6 0 1,0 -7.2,0M455,897.64v7M454.4,912.53a3.6,3.6 0 1,0 7.2,0a3.6,3.6 0 1,0 -7.2,0M458,909.03v7M457.4,916.89a3.6,3.6 0 1,0 7.2,0a3.6,3.6 0 1,0 -7.2,0M461,913.39v7M460.4,919.07a3.6,3.6 0 1,0 7.2,0a3.6,3.6 0 1,0 -7.2,0M464,915.57v7M463.4,921.58a3.6,3.6 0 1,0 7.2,0a3.6,3.6 0 1,0 -7.2,0M467,918.08v7M466.4,925.45a3.6,3.6 0 1,0 7.2,0a3.6,3.6 0 1,0 -7.2,0M470,921.95v7M469.4,925.55a3.6,3.6 0 1,0 7.2,0a3.6,3.6 0 1,0 -7.2,0M473,922.05v7M472.4,930.42a3.6,3.6 0 1,0 7.2,0a3.6,3.6 0 1,0 -7.2,0M476,926.92v7M475.4,932.05a3.6,3.6 0 1,0 7.2,0a3.6,3.6 0 1,0 -7.2,0M479,928.55v7M478.4,935.63a3.6,3.6 0 1,0 7.2,0a3.6,3.6 0 1,0 -7.2,0M482,932.13v7M481.4,937.65a3.6,3.6 0 1,0 7.2,0a3.6,3.6 0 1,0 -7.2,0M485,934.15v7M484.4,937.07a3.6,3.6 0 1,0 7.2,0a3.6,3.6 0 1,0 -7.2,0M488,933.57v7M487.4,938.29a3.6,3.6 0 1,0 7.2,0a3.6,3.6 0 1,0 -7.2,0M491,934.79v7M490.4,938.65a3.6,3.6 0 1,0 7.2,0a3.6,3.6 0 1,0 -7.2,0M494,935.15v7M493.4,939.05a3.6,3.6 0 1,0 7.2,0a3.6,3.6 0 1,0 -7.2,0M497,935.55v7M496.4,938.1a3.6,3.6 0 1,0 7.2,0a3.6,3.6 0 1,0 -7.2,0M500,934.6v7M499.4,935.32a3.6,3.6 0 1,0 7.2,0a3.6,3.6 0 1,0 -7.2,0M503,931.82v7M502.4,936.22a3.6,3.6 0 1,0 7.2,0a3.6,3.6 0 1,0 -7.2,0M506,932.72v7M505.4,933.21a3.6,3.6 0 1,0 7.2,0a3.6,3.6 0 1,0 -7.2,0M509,929.71v7M508.4,931.13a3.6,3.6 0 1,0 7.2,0a3.6,3.6 0 1,0 -7.2,0M512,927.63v7M511.4,930.54a3.6,3.6 0 1,0 7.2,0a3.6,3.6 0 1,0 -7.2,0M515,927.04v7M514.4,931.18a3.6,3.6 0 1,0 7.2,0a3.6,3.6 0 1,0 -7.2,0M518,927.68v7M517.4,928.73a3.6,3.6 0 1,0 7.2,0a3.6,3.6 0 1,0 -7.2,0M521,925.23v7M520.4,927.83a3.6,3.6 0 1,0 7.2,0a3.6,3.6 0 1,0 -7.2,0M524,924.33v7M523.4,928.47a3.6,3.6 0 1,0 7.2,0a3.6,3.6 0 1,0 -7.2,0M527,924.97v7M526.4,929.35a3.6,3.6 0 1,0 7.2,0a3.6,3.6 0 1,0 -7.2,0M530,925.85v7M529.4,929.44a3.6,3.6 0 1,0 7.2,0a3.6,3.6 0 1,0 -7.2,0M533,925.94v7M532.4,929.09a3.6,3.6 0 1,0 7.2,0a3.6,3.6 0 1,0 -7.2,0M536,925.59v7M535.4,930.33a3.6,3.6 0 1,0 7.2,0a3.6,3.6 0 1,0 -7.2,0M539,926.83v7M538.4,931.7a3.6,3.6 0 1,0 7.2,0a3.6,3.6 0 1,0 -7.2,0M542,928.2v7M541.4,931.71a3.6,3.6 0 1,0 7.2,0a3.6,3.6 0 1,0 -7.2,0M545,928.21v7M544.4,931.41a3.6,3.6 0 1,0 7.2,0a3.6,3.6 0 1,0 -7.2,0M548,927.91v7M547.4,931.04a3.6,3.6 0 1,0 7.2,0a3.6,3.6 0 1,0 -7.2,0M551,927.54v7M550.4,929.98a3.6,3.6 0 1,0 7.2,0a3.6,3.6 0 1,0 -7.2,0M554,926.48v7M553.4,929.65a3.6,3.6 0 1,0 7.2,0a3.6,3.6 0 1,0 -7.2,0M557,926.15v7M556.4,927.6a3.6,3.6 0 1,0 7.2,0a3.6,3.6 0 1,0 -7.2,0M560,924.1v7M559.4,924.35a3.6,3.6 0 1,0 7.2,0a3.6,3.6 0 1,0 -7.2,0M563,920.85v7M562.4,925.63a3.6,3.6 0 1,0 7.2,0a3.6,3.6 0 1,0 -7.2,0M566,922.13v7M565.4,925.96a3.6,3.6 0 1,0 7.2,0a3.6,3.6 0 1,0 -7.2,0M569,922.46v7M568.4,925.32a3.6,3.6 0 1,0 7.2,0a3.6,3.6 0 1,0 -7.2,0M572,921.82v7M571.4,925.34a3.6,3.6 0 1,0 7.2,0a3.6,3.6 0 1,0 -7.2,0M575,921.84v7M574.4,925.09a3.6,3.6 0 1,0 7.2,0a3.6,3.6 0 1,0 -7.2,0M578,921.59v7M577.4,923.61a3.6,3.6 0 1,0 7.2,0a3.6,3.6 0 1,0 -7.2,0M581,920.11v7M580.4,924.43a3.6,3.6 0 1,0 7.2,0a3.6,3.6 0 1,0 -7.2,0M584,920.93v7M583.4,923.11a3.6,3.6 0 1,0 7.2,0a3.6,3.6 0 1,0 -7.2,0M587,919.61v7M586.4,922.21a3.6,3.6 0 1,0 7.2,0a3.6,3.6 0 1,0 -7.2,0M590,918.71v7M589.4,923.03a3.6,3.6 0 1,0 7.2,0a3.6,3.6 0 1,0 -7.2,0M593,919.53v7M592.4,922.9a3.6,3.6 0 1,0 7.2,0a3.6,3.6 0 1,0 -7.2,0M596,919.4v7M595.4,923.89a3.6,3.6 0 1,0 7.2,0a3.6,3.6 0 1,0 -7.2,0M599,920.39v7M598.4,921.61a3.6,3.6 0 1,0 7.2,0a3.6,3.6 0 1,0 -7.2,0M602,918.11v7M601.4,919.63a3.6,3.6 0 1,0 7.2,0a3.6,3.6 0 1,0 -7.2,0M605,916.13v7M604.4,918.39a3.6,3.6 0 1,0 7.2,0a3.6,3.6 0 1,0 -7.2,0M608,914.89v7M607.4,915.48a3.6,3.6 0 1,0 7.2,0a3.6,3.6 0 1,0 -7.2,0M611,911.98v7M610.4,915.83a3.6,3.6 0 1,0 7.2,0a3.6,3.6 0 1,0 -7.2,0M614,912.33v7M613.4,915.4a3.6,3.6 0 1,0 7.2,0a3.6,3.6 0 1,0 -7.2,0M617,911.9v7" fill="none" stroke="#ee3030" stroke-width="0.9"/>
<polyline points="125,929 128,933.2 131,936.04 134,939.41 137,940.12 140,943.1 143,945.77 146,949.02 149,953.65 152,954.72 155,959 158,960.98 161,964.25 164,967.71 167,972.04 170,974.32 173,975.38 176,977.1 179,977.57 182,980.78 185,981.47 188,981.41 191,980.88 194,980.03 197,980.09 200,978.53 203,974.18 206,973.44 209,969.65 212,955.86 215,932.53 218,904.51 221,881.4 224,860.85 227,844.75 230,839.42 233,849.6 236,869.4 239,895.59 242,922.94 245,949.82 248,969.91 251,979.46 254,983.6 257,985.26 260,986.82 263,989.35 266,993.37 269,995.51 272,999.17 275,1002.64 278,1004.97 281,1007.35 284,1011.79 287,1014.27 290,1017.57 293,1020.41 296,1023.37 299,1024.84 302,1029.09 305,1032.47 308,1029.3 311,1028.85 314,1028.04 317,1024.01 320,1023.57 323,1024.94 326,1024.29 329,1022.9 332,1020.51 335,1019.83 338,1019.8 341,1018.37 344,1016.61 347,1013.2 350,1014.41 353,1012.14 356,1012.49 359,1010.47 362,1014.12 365,1013.92 368,1015.28 371,1014.63 374,1016.82 377,1014.92 380,1013.17 383,1010.65 386,1011.06 389,1009.06 392,1008.14 395,1006.96 398,1007.87 401,1005.3 404,1004.93 407,1003.69 410,1001.98 413,993.29 416,984.84 419,967.2 422,948.36 425,919.57 428,890.29 431,865.45 434,844.68 437,825.29 440,812.43 443,802.81 446,797.77 449,800.38 452,821.48 455,858.4 458,894.91 461,922.17 464,926.96 467,931.22 470,934.12 473,933.8 476,934.8 479,936.55 482,937.98 485,940.9 488,946.17 491,951.25 494,953.46 497,951.93 500,953.29 503,953.82 506,949.67 509,948.47 512,945.47 515,942.86 518,938.14 521,931.9 524,926.41 527,918.98 530,913.11 533,905.09 536,902.83 539,908.32 542,912.25 545,915.7 548,914.82 551,916.74 554,917.17 557,916.47 560,916.33 563,916.79 566,915.56 569,917.29 572,914.3 575,915.98 578,913.45 581,913.21 584,914.07 587,913.53 590,914.43 593,915.77 596,916.62 599,917.2 602,916.07 605,911.54 608,911.61 611,908.83 614,909.55 617,906.57" fill="none" stroke="#55e055" stroke-width="1" stroke-linejoin="round"/>
<path d="M121.4,929a3.6,3.6 0 1,0 7.2,0a3.6,3.6 0 1,0 -7.2,0M125,925.5v7M124.4,933.2a3.6,3.6 0 1,0 7.2,0a3.6,3.6 0 1,0 -7.2,0M128,929.7v7M127.4,936.04a3.6,3.6 0 1,0 7.2,0a3.6,3.6 0 1,0 -7.2,0M131,932.54v7M130.4,939.41a3.6,3.6 0 1,0 7.2,0a3.6,3.6 0 1,0 -7.2,0M134,935.91v7M133.4,940.12a3.6,3.6 0 1,0 7.2,0a3.6,3.6 0 1,0 -7.2,0M137,936.62v7M136.4,943.1a3.6,3.6 0 1,0 7.2,0a3.6,3.6 0 1,0 -7.2,0M140,939.6v7M139.4,945.77a3.6,3.6 0 1,0 7.2,0a3.6,3.6 0 1,0 -7.2,0M143,942.27v7M142.4,949.02a3.6,3.6 0 1,0 7.2,0a3.6,3.6 0 1,0 -7.2,0M146,945.52v7M145.4,953.65a3.6,3.6 0 1,0 7.2,0a3.6,3.6 0 1,0 -7.2,0M149,950.15v7M148.4,954.72a3.6,3.6 0 1,0 7.2,0a3.6,3.6 0 1,0 -7.2,0M152,951.22v7M151.4,959a3.6,3.6 0 1,0 7.2,0a3.6,3.6 0 1,0 -7.2,0M155,955.5v7M154.4,960.98a3.6,3.6 0 1,0 7.2,0a3.6,3.6 0 1,0 -7.2,0M158,957.48v7M157.4,964.25a3.6,3.6 0 1,0 7.2,0a3.6,3.6 0 1,0 -7.2,0M161,960.75v7M160.4,967.71a3.6,3.6 0 1,0 7.2,0a3.6,3.6 0 1,0 -7.2,0M164,964.21v7M163.4,972.04a3.6,3.6 0 1,0 7.2,0a3.6,3.6 0 1,0 -7.2,0M167,968.54v7M166.4,974.32a3.6,3.6 0 1,0 7.2,0a3.6,3.6 0 1,0 -7.2,0M170,970.82v7M169.4,975.38a3.6,3.6 0 1,0 7.2,0a3.6,3.6 0 1,0 -7.2,0M173,971.88v7M172.4,977.1a3.6,3.6 0 1,0 7.2,0a3.6,3.6 0 1,0 -7.2,0M176,973.6v7M175.4,977.57a3.6,3.6 0 1,0 7.2,0a3.6,3.6 0 1,0 -7.2,0M179,974.07v7M178.4,980.78a3.6,3.6 0 1,0 7.2,0a3.6,3.6 0 1,0 -7.2,0M182,977.28v7M181.4,981.47a3.6,3.6 0 1,0 7.2,0a3.6,3.6 0 1,0 -7.2,0M185,977.97v7M184.4,981.41a3.6,3.6 0 1,0 7.2,0a3.6,3.6 0 1,0 -7.2,0M188,977.91v7M187.4,980.88a3.6,3.6 0 1,0 7.2,0a3.6,3.6 0 1,0 -7.2,0M191,977.38v7M190.4,980.03a3.6,3.6 0 1,0 7.2,0a3.6,3.6 0 1,0 -7.2,0M194,976.53v7M193.4,980.09a3.6,3.6 0 1,0 7.2,0a3.6,3.6 0 1,0 -7.2,0M197,976.59v7M196.4,978.53a3.6,3.6 0 1,0 7.2,0a3.6,3.6 0 1,0 -7.2,0M200,975.03v7M199.4,974.18a3.6,3.6 0 1,0 7.2,0a3.6,3.6 0 1,0 -7.2,0M203,970.68v7M202.4,973.44a3.6,3.6 0 1,0 7.2,0a3.6,3.6 0 1,0 -7.2,0M206,969.94v7M205.4,969.65a3.6,3.6 0 1,0 7.2,0a3.6,3.6 0 1,0 -7.2,0M209,966.15v7M208.4,955.86a3.6,3.6 0 1,0 7.2,0a3.6,3.6 0 1,0 -7.2,0M212,952.36v7M211.4,932.53a3.6,3.6 0 1,0 7.2,0a3.6,3.6 0 1,0 -7.2,0M215,929.03v7M214.4,904.51a3.6,3.6 0 1,0 7.2,0a3.6,3.6 0 1,0 -7.2,0M218,901.01v7M217.4,881.4a3.6,3.6 0 1,0 7.2,0a3.6,3.6 0 1,0 -7.2,0M221,877.9v7M220.4,860.85a3.6,3.6 0 1,0 7.2,0a3.6,3.6 0 1,0 -7.2,0M224,857.35v7M223.4,844.75a3.6,3.6 0 1,0 7.2,0a3.6,3.6 0 1,0 -7.2,0M227,841.25v7M226.4,839.42a3.6,3.6 0 1,0 7.2,0a3.6,3.6 0 1,0 -7.2,0M230,835.92v7M229.4,849.6a3.6,3.6 0 1,0 7.2,0a3.6,3.6 0 1,0 -7.2,0M233,846.1v7M232.4,869.4a3.6,3.6 0 1,0 7.2,0a3.6,3.6 0 1,0 -7.2,0M236,865.9v7M235.4,895.59a3.6,3.6 0 1,0 7.2,0a3.6,3.6 0 1,0 -7.2,0M239,892.09v7M238.4,922.94a3.6,3.6 0 1,0 7.2,0a3.6,3.6 0 1,0 -7.2,0M242,919.44v7M241.4,949.82a3.6,3.6 0 1,0 7.2,0a3.6,3.6 0 1,0 -7.2,0M245,946.32v7M244.4,969.91a3.6,3.6 0 1,0 7.2,0a3.6,3.6 0 1,0 -7.2,0M248,966.41v7M247.4,979.46a3.6,3.6 0 1,0 7.2,0a3.6,3.6 0 1,0 -7.2,0M251,975.96v7M250.4,983.6a3.6,3.6 0 1,0 7.2,0a3.6,3.6 0 1,0 -7.2,0M254,980.1v7M253.4,985.26a3.6,3.6 0 1,0 7.2,0a3.6,3.6 0 1,0 -7.2,0M257,981.76v7M256.4,986.82a3.6,3.6 0 1,0 7.2,0a3.6,3.6 0 1,0 -7.2,0M260,983.32v7M259.4,989.35a3.6,3.6 0 1,0 7.2,0a3.6,3.6 0 1,0 -7.2,0M263,985.85v7M262.4,993.37a3.6,3.6 0 1,0 7.2,0a3.6,3.6 0 1,0 -7.2,0M266,989.87v7M265.4,995.51a3.6,3.6 0 1,0 7.2,0a3.6,3.6 0 1,0 -7.2,0M269,992.01v7M268.4,999.17a3.6,3.6 0 1,0 7.2,0a3.6,3.6 0 1,0 -7.2,0M272,995.67v7M271.4,1002.64a3.6,3.6 0 1,0 7.2,0a3.6,3.6 0 1,0 -7.2,0M275,999.14v7M274.4,1004.97a3.6,3.6 0 1,0 7.2,0a3.6,3.6 0 1,0 -7.2,0M278,1001.47v7M277.4,1007.35a3.6,3.6 0 1,0 7.2,0a3.6,3.6 0 1,0 -7.2,0M281,1003.85v7M280.4,1011.79a3.6,3.6 0 1,0 7.2,0a3.6,3.6 0 1,0 -7.2,0M284,1008.29v7M283.4,1014.27a3.6,3.6 0 1,0 7.2,0a3.6,3.6 0 1,0 -7.2,0M287,1010.77v7M286.4,1017.57a3.6,3.6 0 1,0 7.2,0a3.6,3.6 0 1,0 -7.2,0M290,1014.07v7M289.4,1020.41a3.6,3.6 0 1,0 7.2,0a3.6,3.6 0 1,0 -7.2,0M293,1016.91v7M292.4,1023.37a3.6,3.6 0 1,0 7.2,0a3.6,3.6 0 1,0 -7.2,0M296,1019.87v7M295.4,1024.84a3.6,3.6 0 1,0 7.2,0a3.6,3.6 0 1,0 -7.2,0M299,1021.34v7M298.4,1029.09a3.6,3.6 0 1,0 7.2,0a3.6,3.6 0 1,0 -7.2,0M302,1025.59v7M301.4,1032.47a3.6,3.6 0 1,0 7.2,0a3.6,3.6 0 1,0 -7.2,0M305,1028.97v7M304.4,1029.3a3.6,3.6 0 1,0 7.2,0a3.6,3.6 0 1,0 -7.2,0M308,1025.8v7M307.4,1028.85a3.6,3.6 0 1,0 7.2,0a3.6,3.6 0 1,0 -7.2,0M311,1025.35v7M310.4,1028.04a3.6,3.6 0 1,0 7.2,0a3.6,3.6 0 1,0 -7.2,0M314,1024.54v7M313.4,1024.01a3.6,3.6 0 1,0 7.2,0a3.6,3.6 0 1,0 -7.2,0M317,1020.51v7M316.4,1023.57a3.6,3.6 0 1,0 7.2,0a3.6,3.6 0 1,0 -7.2,0M320,1020.07v7M319.4,1024.94a3.6,3.6 0 1,0 7.2,0a3.6,3.6 0 1,0 -7.2,0M323,1021.44v7M322.4,1024.29a3.6,3.6 0 1,0 7.2,0a3.6,3.6 0 1,0 -7.2,0M326,1020.79v7M325.4,1022.9a3.6,3.6 0 1,0 7.2,0a3.6,3.6 0 1,0 -7.2,0M329,1019.4v7M328.4,1020.51a3.6,3.6 0 1,0 7.2,0a3.6,3.6 0 1,0 -7.2,0M332,1017.01v7M331.4,1019.83a3.6,3.6 0 1,0 7.2,0a3.6,3.6 0 1,0 -7.2,0M335,1016.33v7M334.4,1019.8a3.6,3.6 0 1,0 7.2,0a3.6,3.6 0 1,0 -7.2,0M338,1016.3v7M337.4,1018.37a3.6,3.6 0 1,0 7.2,0a3.6,3.6 0 1,0 -7.2,0M341,1014.87v7M340.4,1016.61a3.6,3.6 0 1,0 7.2,0a3.6,3.6 0 1,0 -7.2,0M344,1013.11v7M343.4,1013.2a3.6,3.6 0 1,0 7.2,0a3.6,3.6 0 1,0 -7.2,0M347,1009.7v7M346.4,1014.41a3.6,3.6 0 1,0 7.2,0a3.6,3.6 0 1,0 -7.2,0M350,1010.91v7M349.4,1012.14a3.6,3.6 0 1,0 7.2,0a3.6,3.6 0 1,0 -7.2,0M353,1008.64v7M352.4,1012.49a3.6,3.6 0 1,0 7.2,0a3.6,3.6 0 1,0 -7.2,0M356,1008.99v7M355.4,1010.47a3.6,3.6 0 1,0 7.2,0a3.6,3.6 0 1,0 -7.2,0M359,1006.97v7M358.4,1014.12a3.6,3.6 0 1,0 7.2,0a3.6,3.6 0 1,0 -7.2,0M362,1010.62v7M361.4,1013.92a3.6,3.6 0 1,0 7.2,0a3.6,3.6 0 1,0 -7.2,0M365,1010.42v7M364.4,1015.28a3.6,3.6 0 1,0 7.2,0a3.6,3.6 0 1,0 -7.2,0M368,1011.78v7M367.4,1014.63a3.6,3.6 0 1,0 7.2,0a3.6,3.6 0 1,0 -7.2,0M371,1011.13v7M370.4,1016.82a3.6,3.6 0 1,0 7.2,0a3.6,3.6 0 1,0 -7.2,0M374,1013.32v7M373.4,1014.92a3.6,3.6 0 1,0 7.2,0a3.6,3.6 0 1,0 -7.2,0M377,1011.42v7M376.4,1013.17a3.6,3.6 0 1,0 7.2,0a3.6,3.6 0 1,0 -7.2,0M380,1009.67v7M379.4,1010.65a3.6,3.6 0 1,0 7.2,0a3.6,3.6 0 1,0 -7.2,0M383,1007.15v7M382.4,1011.06a3.6,3.6 0 1,0 7.2,0a3.6,3.6 0 1,0 -7.2,0M386,1007.56v7M385.4,1009.06a3.6,3.6 0 1,0 7.2,0a3.6,3.6 0 1,0 -7.2,0M389,1005.56v7M388.4,1008.14a3.6,3.6 0 1,0 7.2,0a3.6,3.6 0 1,0 -7.2,0M392,1004.64v7M391.4,1006.96a3.6,3.6 0 1,0 7.2,0a3.6,3.6 0 1,0 -7.2,0M395,1003.46v7M394.4,1007.87a3.6,3.6 0 1,0 7.2,0a3.6,3.6 0 1,0 -7.2,0M398,1004.37v7M397.4,1005.3a3.6,3.6 0 1,0 7.2,0a3.6,3.6 0 1,0 -7.2,0M401,1001.8v7M400.4,1004.93a3.6,3.6 0 1,0 7.2,0a3.6,3.6 0 1,0 -7.2,0M404,1001.43v7M403.4,1003.69a3.6,3.6 0 1,0 7.2,0a3.6,3.6 0 1,0 -7.2,0M407,1000.19v7M406.4,1001.98a3.6,3.6 0 1,0 7.2,0a3.6,3.6 0 1,0 -7.2,0M410,998.48v7M409.4,993.29a3.6,3.6 0 1,0 7.2,0a3.6,3.6 0 1,0 -7.2,0M413,989.79v7M412.4,984.84a3.6,3.6 0 1,0 7.2,0a3.6,3.6 0 1,0 -7.2,0M416,981.34v7M415.4,967.2a3.6,3.6 0 1,0 7.2,0a3.6,3.6 0 1,0 -7.2,0M419,963.7v7M418.4,948.36a3.6,3.6 0 1,0 7.2,0a3.6,3.6 0 1,0 -7.2,0M422,944.86v7M421.4,919.57a3.6,3.6 0 1,0 7.2,0a3.6,3.6 0 1,0 -7.2,0M425,916.07v7M424.4,890.29a3.6,3.6 0 1,0 7.2,0a3.6,3.6 0 1,0 -7.2,0M428,886.79v7M427.4,865.45a3.6,3.6 0 1,0 7.2,0a3.6,3.6 0 1,0 -7.2,0M431,861.95v7M430.4,844.68a3.6,3.6 0 1,0 7.2,0a3.6,3.6 0 1,0 -7.2,0M434,841.18v7M433.4,825.29a3.6,3.6 0 1,0 7.2,0a3.6,3.6 0 1,0 -7.2,0M437,821.79v7M436.4,812.43a3.6,3.6 0 1,0 7.2,0a3.6,3.6 0 1,0 -7.2,0M440,808.93v7M439.4,802.81a3.6,3.6 0 1,0 7.2,0a3.6,3.6 0 1,0 -7.2,0M443,799.31v7M442.4,797.77a3.6,3.6 0 1,0 7.2,0a3.6,3.6 0 1,0 -7.2,0M446,794.27v7M445.4,800.38a3.6,3.6 0 1,0 7.2,0a3.6,3.6 0 1,0 -7.2,0M449,796.88v7M448.4,821.48a3.6,3.6 0 1,0 7.2,0a3.6,3.6 0 1,0 -7.2,0M452,817.98v7M451.4,858.4a3.6,3.6 0 1,0 7.2,0a3.6,3.6 0 1,0 -7.2,0M455,854.9v7M454.4,894.91a3.6,3.6 0 1,0 7.2,0a3.6,3.6 0 1,0 -7.2,0M458,891.41v7M457.4,922.17a3.6,3.6 0 1,0 7.2,0a3.6,3.6 0 1,0 -7.2,0M461,918.67v7M460.4,926.96a3.6,3.6 0 1,0 7.2,0a3.6,3.6 0 1,0 -7.2,0M464,923.46v7M463.4,931.22a3.6,3.6 0 1,0 7.2,0a3.6,3.6 0 1,0 -7.2,0M467,927.72v7M466.4,934.12a3.6,3.6 0 1,0 7.2,0a3.6,3.6 0 1,0 -7.2,0M470,930.62v7M469.4,933.8a3.6,3.6 0 1,0 7.2,0a3.6,3.6 0 1,0 -7.2,0M473,930.3v7M472.4,934.8a3.6,3.6 0 1,0 7.2,0a3.6,3.6 0 1,0 -7.2,0M476,931.3v7M475.4,936.55a3.6,3.6 0 1,0 7.2,0a3.6,3.6 0 1,0 -7.2,0M479,933.05v7M478.4,937.98a3.6,3.6 0 1,0 7.2,0a3.6,3.6 0 1,0 -7.2,0M482,934.48v7M481.4,940.9a3.6,3.6 0 1,0 7.2,0a3.6,3.6 0 1,0 -7.2,0M485,937.4v7M484.4,946.17a3.6,3.6 0 1,0 7.2,0a3.6,3.6 0 1,0 -7.2,0M488,942.67v7M487.4,951.25a3.6,3.6 0 1,0 7.2,0a3.6,3.6 0 1,0 -7.2,0M491,947.75v7M490.4,953.46a3.6,3.6 0 1,0 7.2,0a3.6,3.6 0 1,0 -7.2,0M494,949.96v7M493.4,951.93a3.6,3.6 0 1,0 7.2,0a3.6,3.6 0 1,0 -7.2,0M497,948.43v7M496.4,953.29a3.6,3.6 0 1,0 7.2,0a3.6,3.6 0 1,0 -7.2,0M500,949.79v7M499.4,953.82a3.6,3.6 0 1,0 7.2,0a3.6,3.6 0 1,0 -7.2,0M503,950.32v7M502.4,949.67a3.6,3.6 0 1,0 7.2,0a3.6,3.6 0 1,0 -7.2,0M506,946.17v7M505.4,948.47a3.6,3.6 0 1,0 7.2,0a3.6,3.6 0 1,0 -7.2,0M509,944.97v7M508.4,945.47a3.6,3.6 0 1,0 7.2,0a3.6,3.6 0 1,0 -7.2,0M512,941.97v7M511.4,942.86a3.6,3.6 0 1,0 7.2,0a3.6,3.6 0 1,0 -7.2,0M515,939.36v7M514.4,938.14a3.6,3.6 0 1,0 7.2,0a3.6,3.6 0 1,0 -7.2,0M518,934.64v7M517.4,931.9a3.6,3.6 0 1,0 7.2,0a3.6,3.6 0 1,0 -7.2,0M521,928.4v7M520.4,926.41a3.6,3.6 0 1,0 7.2,0a3.6,3.6 0 1,0 -7.2,0M524,922.91v7M523.4,918.98a3.6,3.6 0 1,0 7.2,0a3.6,3.6 0 1,0 -7.2,0M527,915.48v7M526.4,913.11a3.6,3.6 0 1,0 7.2,0a3.6,3.6 0 1,0 -7.2,0M530,909.61v7M529.4,905.09a3.6,3.6 0 1,0 7.2,0a3.6,3.6 0 1,0 -7.2,0M533,901.59v7M532.4,902.83a3.6,3.6 0 1,0 7.2,0a3.6,3.6 0 1,0 -7.2,0M536,899.33v7M535.4,908.32a3.6,3.6 0 1,0 7.2,0a3.6,3.6 0 1,0 -7.2,0M539,904.82v7M538.4,912.25a3.6,3.6 0 1,0 7.2,0a3.6,3.6 0 1,0 -7.2,0M542,908.75v7M541.4,915.7a3.6,3.6 0 1,0 7.2,0a3.6,3.6 0 1,0 -7.2,0M545,912.2v7M544.4,914.82a3.6,3.6 0 1,0 7.2,0a3.6,3.6 0 1,0 -7.2,0M548,911.32v7M547.4,916.74a3.6,3.6 0 1,0 7.2,0a3.6,3.6 0 1,0 -7.2,0M551,913.24v7M550.4,917.17a3.6,3.6 0 1,0 7.2,0a3.6,3.6 0 1,0 -7.2,0M554,913.67v7M553.4,916.47a3.6,3.6 0 1,0 7.2,0a3.6,3.6 0 1,0 -7.2,0M557,912.97v7M556.4,916.33a3.6,3.6 0 1,0 7.2,0a3.6,3.6 0 1,0 -7.2,0M560,912.83v7M559.4,916.79a3.6,3.6 0 1,0 7.2,0a3.6,3.6 0 1,0 -7.2,0M563,913.29v7M562.4,915.56a3.6,3.6 0 1,0 7.2,0a3.6,3.6 0 1,0 -7.2,0M566,912.06v7M565.4,917.29a3.6,3.6 0 1,0 7.2,0a3.6,3.6 0 1,0 -7.2,0M569,913.79v7M568.4,914.3a3.6,3.6 0 1,0 7.2,0a3.6,3.6 0 1,0 -7.2,0M572,910.8v7M571.4,915.98a3.6,3.6 0 1,0 7.2,0a3.6,3.6 0 1,0 -7.2,0M575,912.48v7M574.4,913.45a3.6,3.6 0 1,0 7.2,0a3.6,3.6 0 1,0 -7.2,0M578,909.95v7M577.4,913.21a3.6,3.6 0 1,0 7.2,0a3.6,3.6 0 1,0 -7.2,0M581,909.71v7M580.4,914.07a3.6,3.6 0 1,0 7.2,0a3.6,3.6 0 1,0 -7.2,0M584,910.57v7M583.4,913.53a3.6,3.6 0 1,0 7.2,0a3.6,3.6 0 1,0 -7.2,0M587,910.03v7M586.4,914.43a3.6,3.6 0 1,0 7.2,0a3.6,3.6 0 1,0 -7.2,0M590,910.93v7M589.4,915.77a3.6,3.6 0 1,0 7.2,0a3.6,3.6 0 1,0 -7.2,0M593,912.27v7M592.4,916.62a3.6,3.6 0 1,0 7.2,0a3.6,3.6 0 1,0 -7.2,0M596,913.12v7M595.4,917.2a3.6,3.6 0 1,0 7.2,0a3.6,3.6 0 1,0 -7.2,0M599,913.7v7M598.4,916.07a3.6,3.6 0 1,0 7.2,0a3.6,3.6 0 1,0 -7.2,0M602,912.57v7M601.4,911.54a3.6,3.6 0 1,0 7.2,0a3.6,3.6 0 1,0 -7.2,0M605,908.04v7M604.4,911.61a3.6,3.6 0 1,0 7.2,0a3.6,3.6 0 1,0 -7.2,0M608,908.11v7M607.4,908.83a3.6,3.6 0 1,0 7.2,0a3.6,3.6 0 1,0 -7.2,0M611,905.33v7M610.4,909.55a3.6,3.6 0 1,0 7.2,0a3.6,3.6 0 1,0 -7.2,0M614,906.05v7M613.4,906.57a3.6,3.6 0 1,0 7.2,0a3.6,3.6 0 1,0 -7.2,0M617,903.07v7" fill="none" stroke="#22e022" stroke-width="0.9"/>
<polyline points="125,919.86 128,927.24 131,932.57 134,938.79 137,941.44 140,946.19 143,952.51 146,957.07 149,959.68 152,964.48 155,967.15 158,971.96 161,973.44 164,977.39 167,983.18 170,985.05 173,988.28 176,991.52 179,992.47 182,992.43 185,995.21 188,996.82 191,996.33 194,998.99 197,997.89 200,994.59 203,989.79 206,982.43 209,972.86 212,956.71 215,931.02 218,889.9 221,860.27 224,826.76 227,798.7 230,794.36 233,808.75 236,837.74 239,874.42 242,926.79 245,961.8 248,981.64 251,986.59 254,991.73 257,995.28 260,1000.35 263,1002.4 266,1004.13 269,1009.75 272,1011.52 275,1016.24 278,1019.53 281,1024.2 284,1024.06 287,1027.25 290,1028.18 293,1033.19 296,1037.62 299,1040.91 302,1043.32 305,1045.68 308,1042.23 311,1039.25 314,1034.07 317,1031.52 320,1026.98 323,1025.22 326,1024.7 329,1021.91 332,1022.16 335,1023.95 338,1022.07 341,1016.31 344,1014.52 347,1010.15 350,1002.94 353,998.06 356,1002.26 359,1006.93 362,1008.04 365,1011.17 368,1013.8 371,1023.01 374,1031.3 377,1033.47 380,1032.77 383,1028.22 386,1025.69 389,1024.42 392,1021.65 395,1019.56 398,1020.53 401,1017.57 404,1016.17 407,1014.46 410,1013.81 413,1010.8 416,1001.78 419,983.1 422,954.13 425,927.07 428,901.38 431,873.81 434,836.48 437,800.33 440,775.62 443,750.31 446,729.08 449,727.47 452,751.48 455,807.19 458,893.68 461,938.63 464,954.54 467,963.3 470,957.2 473,953.15 476,950.41 479,952.33 482,951.36 485,951.69 488,956.89 491,958.4 494,962.38 497,970.35 500,976.86 503,973.43 506,971.26 509,967.37 512,965.74 515,964.33 518,960.91 521,955.91 524,945.58 527,926.01 530,913.89 533,900.03 536,879.08 539,883.2 542,895.31 545,915.41 548,917.64 551,922.9 554,923.64 557,923.25 560,921.52 563,918.92 566,919.26 569,916.86 572,914.88 575,911.23 578,910.38 581,908.45 584,915.14 587,922.65 590,928.46 593,929.37 596,934.32 599,938.1 602,933.58 605,924.11 608,918.53 611,909.78 614,905.6 617,899.83" fill="none" stroke="#ee60ee" stroke-width="1" stroke-linejoin="round"/>
<path d="M121.4,919.86a3.6,3.6 0 1,0 7.2,0a3.6,3.6 0 1,0 -7.2,0M125,916.36v7M124.4,927.24a3.6,3.6 0 1,0 7.2,0a3.6,3.6 0 1,0 -7.2,0M128,923.74v7M127.4,932.57a3.6,3.6 0 1,0 7.2,0a3.6,3.6 0 1,0 -7.2,0M131,929.07v7M130.4,938.79a3.6,3.6 0 1,0 7.2,0a3.6,3.6 0 1,0 -7.2,0M134,935.29v7M133.4,941.44a3.6,3.6 0 1,0 7.2,0a3.6,3.6 0 1,0 -7.2,0M137,937.94v7M136.4,946.19a3.6,3.6 0 1,0 7.2,0a3.6,3.6 0 1,0 -7.2,0M140,942.69v7M139.4,952.51a3.6,3.6 0 1,0 7.2,0a3.6,3.6 0 1,0 -7.2,0M143,949.01v7M142.4,957.07a3.6,3.6 0 1,0 7.2,0a3.6,3.6 0 1,0 -7.2,0M146,953.57v7M145.4,959.68a3.6,3.6 0 1,0 7.2,0a3.6,3.6 0 1,0 -7.2,0M149,956.18v7M148.4,964.48a3.6,3.6 0 1,0 7.2,0a3.6,3.6 0 1,0 -7.2,0M152,960.98v7M151.4,967.15a3.6,3.6 0 1,0 7.2,0a3.6,3.6 0 1,0 -7.2,0M155,963.65v7M154.4,971.96a3.6,3.6 0 1,0 7.2,0a3.6,3.6 0 1,0 -7.2,0M158,968.46v7M157.4,973.44a3.6,3.6 0 1,0 7.2,0a3.6,3.6 0 1,0 -7.2,0M161,969.94v7M160.4,977.39a3.6,3.6 0 1,0 7.2,0a3.6,3.6 0 1,0 -7.2,0M164,973.89v7M163.4,983.18a3.6,3.6 0 1,0 7.2,0a3.6,3.6 0 1,0 -7.2,0M167,979.68v7M166.4,985.05a3.6,3.6 0 1,0 7.2,0a3.6,3.6 0 1,0 -7.2,0M170,981.55v7M169.4,988.28a3.6,3.6 0 1,0 7.2,0a3.6,3.6 0 1,0 -7.2,0M173,984.78v7M172.4,991.52a3.6,3.6 0 1,0 7.2,0a3.6,3.6 0 1,0 -7.2,0M176,988.02v7M175.4,992.47a3.6,3.6 0 1,0 7.2,0a3.6,3.6 0 1,0 -7.2,0M179,988.97v7M178.4,992.43a3.6,3.6 0 1,0 7.2,0a3.6,3.6 0 1,0 -7.2,0M182,988.93v7M181.4,995.21a3.6,3.6 0 1,0 7.2,0a3.6,3.6 0 1,0 -7.2,0M185,991.71v7M184.4,996.82a3.6,3.6 0 1,0 7.2,0a3.6,3.6 0 1,0 -7.2,0M188,993.32v7M187.4,996.33a3.6,3.6 0 1,0 7.2,0a3.6,3.6 0 1,0 -7.2,0M191,992.83v7M190.4,998.99a3.6,3.6 0 1,0 7.2,0a3.6,3.6 0 1,0 -7.2,0M194,995.49v7M193.4,997.89a3.6,3.6 0 1,0 7.2,0a3.6,3.6 0 1,0 -7.2,0M197,994.39v7M196.4,994.59a3.6,3.6 0 1,0 7.2,0a3.6,3.6 0 1,0 -7.2,0M200,991.09v7M199.4,989.79a3.6,3.6 0 1,0 7.2,0a3.6,3.6 0 1,0 -7.2,0M203,986.29v7M202.4,982.43a3.6,3.6 0 1,0 7.2,0a3.6,3.6 0 1,0 -7.2,0M206,978.93v7M205.4,972.86a3.6,3.6 0 1,0 7.2,0a3.6,3.6 0 1,0 -7.2,0M209,969.36v7M208.4,956.71a3.6,3.6 0 1,0 7.2,0a3.6,3.6 0 1,0 -7.2,0M212,953.21v7M211.4,931.02a3.6,3.6 0 1,0 7.2,0a3.6,3.6 0 1,0 -7.2,0M215,927.52v7M214.4,889.9a3.6,3.6 0 1,0 7.2,0a3.6,3.6 0 1,0 -7.2,0M218,886.4v7M217.4,860.27a3.6,3.6 0 1,0 7.2,0a3.6,3.6 0 1,0 -7.2,0M221,856.77v7M220.4,826.76a3.6,3.6 0 1,0 7.2,0a3.6,3.6 0 1,0 -7.2,0M224,823.26v7M223.4,798.7a3.6,3.6 0 1,0 7.2,0a3.6,3.6 0 1,0 -7.2,0M227,795.2v7M226.4,794.36a3.6,3.6 0 1,0 7.2,0a3.6,3.6 0 1,0 -7.2,0M230,790.86v7M229.4,808.75a3.6,3.6 0 1,0 7.2,0a3.6,3.6 0 1,0 -7.2,0M233,805.25v7M232.4,837.74a3.6,3.6 0 1,0 7.2,0a3.6,3.6 0 1,0 -7.2,0M236,834.24v7M235.4,874.42a3.6,3.6 0 1,0 7.2,0a3.6,3.6 0 1,0 -7.2,0M239,870.92v7M238.4,926.79a3.6,3.6 0 1,0 7.2,0a3.6,3.6 0 1,0 -7.2,0M242,923.29v7M241.4,961.8a3.6,3.6 0 1,0 7.2,0a3.6,3.6 0 1,0 -7.2,0M245,958.3v7M244.4,981.64a3.6,3.6 0 1,0 7.2,0a3.6,3.6 0 1,0 -7.2,0M248,978.14v7M247.4,986.59a3.6,3.6 0 1,0 7.2,0a3.6,3.6 0 1,0 -7.2,0M251,983.09v7M250.4,991.73a3.6,3.6 0 1,0 7.2,0a3.6,3.6 0 1,0 -7.2,0M254,988.23v7M253.4,995.28a3.6,3.6 0 1,0 7.2,0a3.6,3.6 0 1,0 -7.2,0M257,991.78v7M256.4,1000.35a3.6,3.6 0 1,0 7.2,0a3.6,3.6 0 1,0 -7.2,0M260,996.85v7M259.4,1002.4a3.6,3.6 0 1,0 7.2,0a3.6,3.6 0 1,0 -7.2,0M263,998.9v7M262.4,1004.13a3.6,3.6 0 1,0 7.2,0a3.6,3.6 0 1,0 -7.2,0M266,1000.63v7M265.4,1009.75a3.6,3.6 0 1,0 7.2,0a3.6,3.6 0 1,0 -7.2,0M269,1006.25v7M268.4,1011.52a3.6,3.6 0 1,0 7.2,0a3.6,3.6 0 1,0 -7.2,0M272,1008.02v7M271.4,1016.24a3.6,3.6 0 1,0 7.2,0a3.6,3.6 0 1,0 -7.2,0M275,1012.74v7M274.4,1019.53a3.6,3.6 0 1,0 7.2,0a3.6,3.6 0 1,0 -7.2,0M278,1016.03v7M277.4,1024.2a3.6,3.6 0 1,0 7.2,0a3.6,3.6 0 1,0 -7.2,0M281,1020.7v7M280.4,1024.06a3.6,3.6 0 1,0 7.2,0a3.6,3.6 0 1,0 -7.2,0M284,1020.56v7M283.4,1027.25a3.6,3.6 0 1,0 7.2,0a3.6,3.6 0 1,0 -7.2,0M287,1023.75v7M286.4,1028.18a3.6,3.6 0 1,0 7.2,0a3.6,3.6 0 1,0 -7.2,0M290,1024.68v7M289.4,1033.19a3.6,3.6 0 1,0 7.2,0a3.6,3.6 0 1,0 -7.2,0M293,1029.69v7M292.4,1037.62a3.6,3.6 0 1,0 7.2,0a3.6,3.6 0 1,0 -7.2,0M296,1034.12v7M295.4,1040.91a3.6,3.6 0 1,0 7.2,0a3.6,3.6 0 1,0 -7.2,0M299,1037.41v7M298.4,1043.32a3.6,3.6 0 1,0 7.2,0a3.6,3.6 0 1,0 -7.2,0M302,1039.82v7M301.4,1045.68a3.6,3.6 0 1,0 7.2,0a3.6,3.6 0 1,0 -7.2,0M305,1042.18v7M304.4,1042.23a3.6,3.6 0 1,0 7.2,0a3.6,3.6 0 1,0 -7.2,0M308,1038.73v7M307.4,1039.25a3.6,3.6 0 1,0 7.2,0a3.6,3.6 0 1,0 -7.2,0M311,1035.75v7M310.4,1034.07a3.6,3.6 0 1,0 7.2,0a3.6,3.6 0 1,0 -7.2,0M314,1030.57v7M313.4,1031.52a3.6,3.6 0 1,0 7.2,0a3.6,3.6 0 1,0 -7.2,0M317,1028.02v7M316.4,1026.98a3.6,3.6 0 1,0 7.2,0a3.6,3.6 0 1,0 -7.2,0M320,1023.48v7M319.4,1025.22a3.6,3.6 0 1,0 7.2,0a3.6,3.6 0 1,0 -7.2,0M323,1021.72v7M322.4,1024.7a3.6,3.6 0 1,0 7.2,0a3.6,3.6 0 1,0 -7.2,0M326,1021.2v7M325.4,1021.91a3.6,3.6 0 1,0 7.2,0a3.6,3.6 0 1,0 -7.2,0M329,1018.41v7M328.4,1022.16a3.6,3.6 0 1,0 7.2,0a3.6,3.6 0 1,0 -7.2,0M332,1018.66v7M331.4,1023.95a3.6,3.6 0 1,0 7.2,0a3.6,3.6 0 1,0 -7.2,0M335,1020.45v7M334.4,1022.07a3.6,3.6 0 1,0 7.2,0a3.6,3.6 0 1,0 -7.2,0M338,1018.57v7M337.4,1016.31a3.6,3.6 0 1,0 7.2,0a3.6,3.6 0 1,0 -7.2,0M341,1012.81v7M340.4,1014.52a3.6,3.6 0 1,0 7.2,0a3.6,3.6 0 1,0 -7.2,0M344,1011.02v7M343.4,1010.15a3.6,3.6 0 1,0 7.2,0a3.6,3.6 0 1,0 -7.2,0M347,1006.65v7M346.4,1002.94a3.6,3.6 0 1,0 7.2,0a3.6,3.6 0 1,0 -7.2,0M350,999.44v7M349.4,998.06a3.6,3.6 0 1,0 7.2,0a3.6,3.6 0 1,0 -7.2,0M353,994.56v7M352.4,1002.26a3.6,3.6 0 1,0 7.2,0a3.6,3.6 0 1,0 -7.2,0M356,998.76v7M355.4,1006.93a3.6,3.6 0 1,0 7.2,0a3.6,3.6 0 1,0 -7.2,0M359,1003.43v7M358.4,1008.04a3.6,3.6 0 1,0 7.2,0a3.6,3.6 0 1,0 -7.2,0M362,1004.54v7M361.4,1011.17a3.6,3.6 0 1,0 7.2,0a3.6,3.6 0 1,0 -7.2,0M365,1007.67v7M364.4,1013.8a3.6,3.6 0 1,0 7.2,0a3.6,3.6 0 1,0 -7.2,0M368,1010.3v7M367.4,1023.01a3.6,3.6 0 1,0 7.2,0a3.6,3.6 0 1,0 -7.2,0M371,1019.51v7M370.4,1031.3a3.6,3.6 0 1,0 7.2,0a3.6,3.6 0 1,0 -7.2,0M374,1027.8v7M373.4,1033.47a3.6,3.6 0 1,0 7.2,0a3.6,3.6 0 1,0 -7.2,0M377,1029.97v7M376.4,1032.77a3.6,3.6 0 1,0 7.2,0a3.6,3.6 0 1,0 -7.2,0M380,1029.27v7M379.4,1028.22a3.6,3.6 0 1,0 7.2,0a3.6,3.6 0 1,0 -7.2,0M383,1024.72v7M382.4,1025.69a3.6,3.6 0 1,0 7.2,0a3.6,3.6 0 1,0 -7.2,0M386,1022.19v7M385.4,1024.42a3.6,3.6 0 1,0 7.2,0a3.6,3.6 0 1,0 -7.2,0M389,1020.92v7M388.4,1021.65a3.6,3.6 0 1,0 7.2,0a3.6,3.6 0 1,0 -7.2,0M392,1018.15v7M391.4,1019.56a3.6,3.6 0 1,0 7.2,0a3.6,3.6 0 1,0 -7.2,0M395,1016.06v7M394.4,1020.53a3.6,3.6 0 1,0 7.2,0a3.6,3.6 0 1,0 -7.2,0M398,1017.03v7M397.4,1017.57a3.6,3.6 0 1,0 7.2,0a3.6,3.6 0 1,0 -7.2,0M401,1014.07v7M400.4,1016.17a3.6,3.6 0 1,0 7.2,0a3.6,3.6 0 1,0 -7.2,0M404,1012.67v7M403.4,1014.46a3.6,3.6 0 1,0 7.2,0a3.6,3.6 0 1,0 -7.2,0M407,1010.96v7M406.4,1013.81a3.6,3.6 0 1,0 7.2,0a3.6,3.6 0 1,0 -7.2,0M410,1010.31v7M409.4,1010.8a3.6,3.6 0 1,0 7.2,0a3.6,3.6 0 1,0 -7.2,0M413,1007.3v7M412.4,1001.78a3.6,3.6 0 1,0 7.2,0a3.6,3.6 0 1,0 -7.2,0M416,998.28v7M415.4,983.1a3.6,3.6 0 1,0 7.2,0a3.6,3.6 0 1,0 -7.2,0M419,979.6v7M418.4,954.13a3.6,3.6 0 1,0 7.2,0a3.6,3.6 0 1,0 -7.2,0M422,950.63v7M421.4,927.07a3.6,3.6 0 1,0 7.2,0a3.6,3.6 0 1,0 -7.2,0M425,923.57v7M424.4,901.38a3.6,3.6 0 1,0 7.2,0a3.6,3.6 0 1,0 -7.2,0M428,897.88v7M427.4,873.81a3.6,3.6 0 1,0 7.2,0a3.6,3.6 0 1,0 -7.2,0M431,870.31v7M430.4,836.48a3.6,3.6 0 1,0 7.2,0a3.6,3.6 0 1,0 -7.2,0M434,832.98v7M433.4,800.33a3.6,3.6 0 1,0 7.2,0a3.6,3.6 0 1,0 -7.2,0M437,796.83v7M436.4,775.62a3.6,3.6 0 1,0 7.2,0a3.6,3.6 0 1,0 -7.2,0M440,772.12v7M439.4,750.31a3.6,3.6 0 1,0 7.2,0a3.6,3.6 0 1,0 -7.2,0M443,746.81v7M442.4,729.08a3.6,3.6 0 1,0 7.2,0a3.6,3.6 0 1,0 -7.2,0M446,725.58v7M445.4,727.47a3.6,3.6 0 1,0 7.2,0a3.6,3.6 0 1,0 -7.2,0M449,723.97v7M448.4,751.48a3.6,3.6 0 1,0 7.2,0a3.6,3.6 0 1,0 -7.2,0M452,747.98v7M451.4,807.19a3.6,3.6 0 1,0 7.2,0a3.6,3.6 0 1,0 -7.2,0M455,803.69v7M454.4,893.68a3.6,3.6 0 1,0 7.2,0a3.6,3.6 0 1,0 -7.2,0M458,890.18v7M457.4,938.63a3.6,3.6 0 1,0 7.2,0a3.6,3.6 0 1,0 -7.2,0M461,935.13v7M460.4,954.54a3.6,3.6 0 1,0 7.2,0a3.6,3.6 0 1,0 -7.2,0M464,951.04v7M463.4,963.3a3.6,3.6 0 1,0 7.2,0a3.6,3.6 0 1,0 -7.2,0M467,959.8v7M466.4,957.2a3.6,3.6 0 1,0 7.2,0a3.6,3.6 0 1,0 -7.2,0M470,953.7v7M469.4,953.15a3.6,3.6 0 1,0 7.2,0a3.6,3.6 0 1,0 -7.2,0M473,949.65v7M472.4,950.41a3.6,3.6 0 1,0 7.2,0a3.6,3.6 0 1,0 -7.2,0M476,946.91v7M475.4,952.33a3.6,3.6 0 1,0 7.2,0a3.6,3.6 0 1,0 -7.2,0M479,948.83v7M478.4,951.36a3.6,3.6 0 1,0 7.2,0a3.6,3.6 0 1,0 -7.2,0M482,947.86v7M481.4,951.69a3.6,3.6 0 1,0 7.2,0a3.6,3.6 0 1,0 -7.2,0M485,948.19v7M484.4,956.89a3.6,3.6 0 1,0 7.2,0a3.6,3.6 0 1,0 -7.2,0M488,953.39v7M487.4,958.4a3.6,3.6 0 1,0 7.2,0a3.6,3.6 0 1,0 -7.2,0M491,954.9v7M490.4,962.38a3.6,3.6 0 1,0 7.2,0a3.6,3.6 0 1,0 -7.2,0M494,958.88v7M493.4,970.35a3.6,3.6 0 1,0 7.2,0a3.6,3.6 0 1,0 -7.2,0M497,966.85v7M496.4,976.86a3.6,3.6 0 1,0 7.2,0a3.6,3.6 0 1,0 -7.2,0M500,973.36v7M499.4,973.43a3.6,3.6 0 1,0 7.2,0a3.6,3.6 0 1,0 -7.2,0M503,969.93v7M502.4,971.26a3.6,3.6 0 1,0 7.2,0a3.6,3.6 0 1,0 -7.2,0M506,967.76v7M505.4,967.37a3.6,3.6 0 1,0 7.2,0a3.6,3.6 0 1,0 -7.2,0M509,963.87v7M508.4,965.74a3.6,3.6 0 1,0 7.2,0a3.6,3.6 0 1,0 -7.2,0M512,962.24v7M511.4,964.33a3.6,3.6 0 1,0 7.2,0a3.6,3.6 0 1,0 -7.2,0M515,960.83v7M514.4,960.91a3.6,3.6 0 1,0 7.2,0a3.6,3.6 0 1,0 -7.2,0M518,957.41v7M517.4,955.91a3.6,3.6 0 1,0 7.2,0a3.6,3.6 0 1,0 -7.2,0M521,952.41v7M520.4,945.58a3.6,3.6 0 1,0 7.2,0a3.6,3.6 0 1,0 -7.2,0M524,942.08v7M523.4,926.01a3.6,3.6 0 1,0 7.2,0a3.6,3.6 0 1,0 -7.2,0M527,922.51v7M526.4,913.89a3.6,3.6 0 1,0 7.2,0a3.6,3.6 0 1,0 -7.2,0M530,910.39v7M529.4,900.03a3.6,3.6 0 1,0 7.2,0a3.6,3.6 0 1,0 -7.2,0M533,896.53v7M532.4,879.08a3.6,3.6 0 1,0 7.2,0a3.6,3.6 0 1,0 -7.2,0M536,875.58v7M535.4,883.2a3.6,3.6 0 1,0 7.2,0a3.6,3.6 0 1,0 -7.2,0M539,879.7v7M538.4,895.31a3.6,3.6 0 1,0 7.2,0a3.6,3.6 0 1,0 -7.2,0M542,891.81v7M541.4,915.41a3.6,3.6 0 1,0 7.2,0a3.6,3.6 0 1,0 -7.2,0M545,911.91v7M544.4,917.64a3.6,3.6 0 1,0 7.2,0a3.6,3.6 0 1,0 -7.2,0M548,914.14v7M547.4,922.9a3.6,3.6 0 1,0 7.2,0a3.6,3.6 0 1,0 -7.2,0M551,919.4v7M550.4,923.64a3.6,3.6 0 1,0 7.2,0a3.6,3.6 0 1,0 -7.2,0M554,920.14v7M553.4,923.25a3.6,3.6 0 1,0 7.2,0a3.6,3.6 0 1,0 -7.2,0M557,919.75v7M556.4,921.52a3.6,3.6 0 1,0 7.2,0a3.6,3.6 0 1,0 -7.2,0M560,918.02v7M559.4,918.92a3.6,3.6 0 1,0 7.2,0a3.6,3.6 0 1,0 -7.2,0M563,915.42v7M562.4,919.26a3.6,3.6 0 1,0 7.2,0a3.6,3.6 0 1,0 -7.2,0M566,915.76v7M565.4,916.86a3.6,3.6 0 1,0 7.2,0a3.6,3.6 0 1,0 -7.2,0M569,913.36v7M568.4,914.88a3.6,3.6 0 1,0 7.2,0a3.6,3.6 0 1,0 -7.2,0M572,911.38v7M571.4,911.23a3.6,3.6 0 1,0 7.2,0a3.6,3.6 0 1,0 -7.2,0M575,907.73v7M574.4,910.38a3.6,3.6 0 1,0 7.2,0a3.6,3.6 0 1,0 -7.2,0M578,906.88v7M577.4,908.45a3.6,3.6 0 1,0 7.2,0a3.6,3.6 0 1,0 -7.2,0M581,904.95v7M580.4,915.14a3.6,3.6 0 1,0 7.2,0a3.6,3.6 0 1,0 -7.2,0M584,911.64v7M583.4,922.65a3.6,3.6 0 1,0 7.2,0a3.6,3.6 0 1,0 -7.2,0M587,919.15v7M586.4,928.46a3.6,3.6 0 1,0 7.2,0a3.6,3.6 0 1,0 -7.2,0M590,924.96v7M589.4,929.37a3.6,3.6 0 1,0 7.2,0a3.6,3.6 0 1,0 -7.2,0M593,925.87v7M592.4,934.32a3.6,3.6 0 1,0 7.2,0a3.6,3.6 0 1,0 -7.2,0M596,930.82v7M595.4,938.1a3.6,3.6 0 1,0 7.2,0a3.6,3.6 0 1,0 -7.2,0M599,934.6v7M598.4,933.58a3.6,3.6 0 1,0 7.2,0a3.6,3.6 0 1,0 -7.2,0M602,930.08v7M601.4,924.11a3.6,3.6 0 1,0 7.2,0a3.6,3.6 0 1,0 -7.2,0M605,920.61v7M604.4,918.53a3.6,3.6 0 1,0 7.2,0a3.6,3.6 0 1,0 -7.2,0M608,915.03v7M607.4,909.78a3.6,3.6 0 1,0 7.2,0a3.6,3.6 0 1,0 -7.2,0M611,906.28v7M610.4,905.6a3.6,3.6 0 1,0 7.2,0a3.6,3.6 0 1,0 -7.2,0M614,902.1v7M613.4,899.83a3.6,3.6 0 1,0 7.2,0a3.6,3.6 0 1,0 -7.2,0M617,896.33v7" fill="none" stroke="#ee30ee" stroke-width="0.9"/>
<polyline points="125,921.1 128,923.53 131,931.33 134,934.78 137,942.23 140,943.92 143,951.48 146,955.64 149,959.95 152,963.99 155,965.15 158,969.05 161,973.83 164,976.08 167,979.64 170,983.14 173,988.7 176,990.25 179,991.5 182,991.16 185,994.91 188,994.84 191,995.04 194,996.86 197,997.34 200,992.27 203,989.83 206,981.43 209,970.06 212,956.9 215,928.42 218,888.13 221,854.52 224,817.15 227,788.07 230,787.02 233,802.44 236,834.66 239,872.9 242,927.99 245,959.71 248,980.8 251,985.39 254,990.36 257,995.92 260,996.62 263,999.67 266,1002.45 269,1007.13 272,1012.42 275,1015.61 278,1019.23 281,1021.94 284,1022.77 287,1027.1 290,1027.51 293,1030.9 296,1034.92 299,1040.33 302,1041.38 305,1045.52 308,1040.4 311,1037.25 314,1032.51 317,1031.4 320,1027.27 323,1022.47 326,1020.57 329,1021.78 332,1021.4 335,1022.89 338,1021.71 341,1017.12 344,1011.68 347,1005.77 350,1002.95 353,998.47 356,999.44 359,1004.02 362,1007.24 365,1011.82 368,1011.84 371,1019.7 374,1031 377,1032.98 380,1031.51 383,1029.1 386,1025.09 389,1021.99 392,1019.09 395,1017.43 398,1016.07 401,1015.99 404,1015.94 407,1014.07 410,1012.95 413,1010.65 416,1001.8 419,980.71 422,952.79 425,927.41 428,900.51 431,872.24 434,836.91 437,794.55 440,761.87 443,729.62 446,708.42 449,706.11 452,740.53 455,804.86 458,892.64 461,937.02 464,954.74 467,960.92 470,954.96 473,950.19 476,949.84 479,950.15 482,948.99 485,949.59 488,952.95 491,958.15 494,962.12 497,968.35 500,977.7 503,973.13 506,968.62 509,968.28 512,963.83 515,961.72 518,958.77 521,955.55 524,943.32 527,925.24 530,910.53 533,891.93 536,873.19 539,874.5 542,891.65 545,911.95 548,917.77 551,921.95 554,923.53 557,921.53 560,919.68 563,918.7 566,915.96 569,914.01 572,913.38 575,911.25 578,907.95 581,907.8 584,913.63 587,918.66 590,926.46 593,930.17 596,931.73 599,936.38 602,933.5 605,924.42 608,915.57 611,907.79 614,901.38 617,896.4" fill="none" stroke="#5050f0" stroke-width="1" stroke-linejoin="round"/>
<path d="M121.4,921.1a3.6,3.6 0 1,0 7.2,0a3.6,3.6 0 1,0 -7.2,0M125,917.6v7M124.4,923.53a3.6,3.6 0 1,0 7.2,0a3.6,3.6 0 1,0 -7.2,0M128,920.03v7M127.4,931.33a3.6,3.6 0 1,0 7.2,0a3.6,3.6 0 1,0 -7.2,0M131,927.83v7M130.4,934.78a3.6,3.6 0 1,0 7.2,0a3.6,3.6 0 1,0 -7.2,0M134,931.28v7M133.4,942.23a3.6,3.6 0 1,0 7.2,0a3.6,3.6 0 1,0 -7.2,0M137,938.73v7M136.4,943.92a3.6,3.6 0 1,0 7.2,0a3.6,3.6 0 1,0 -7.2,0M140,940.42v7M139.4,951.48a3.6,3.6 0 1,0 7.2,0a3.6,3.6 0 1,0 -7.2,0M143,947.98v7M142.4,955.64a3.6,3.6 0 1,0 7.2,0a3.6,3.6 0 1,0 -7.2,0M146,952.14v7M145.4,959.95a3.6,3.6 0 1,0 7.2,0a3.6,3.6 0 1,0 -7.2,0M149,956.45v7M148.4,963.99a3.6,3.6 0 1,0 7.2,0a3.6,3.6 0 1,0 -7.2,0M152,960.49v7M151.4,965.15a3.6,3.6 0 1,0 7.2,0a3.6,3.6 0 1,0 -7.2,0M155,961.65v7M154.4,969.05a3.6,3.6 0 1,0 7.2,0a3.6,3.6 0 1,0 -7.2,0M158,965.55v7M157.4,973.83a3.6,3.6 0 1,0 7.2,0a3.6,3.6 0 1,0 -7.2,0M161,970.33v7M160.4,976.08a3.6,3.6 0 1,0 7.2,0a3.6,3.6 0 1,0 -7.2,0M164,972.58v7M163.4,979.64a3.6,3.6 0 1,0 7.2,0a3.6,3.6 0 1,0 -7.2,0M167,976.14v7M166.4,983.14a3.6,3.6 0 1,0 7.2,0a3.6,3.6 0 1,0 -7.2,0M170,979.64v7M169.4,988.7a3.6,3.6 0 1,0 7.2,0a3.6,3.6 0 1,0 -7.2,0M173,985.2v7M172.4,990.25a3.6,3.6 0 1,0 7.2,0a3.6,3.6 0 1,0 -7.2,0M176,986.75v7M175.4,991.5a3.6,3.6 0 1,0 7.2,0a3.6,3.6 0 1,0 -7.2,0M179,988v7M178.4,991.16a3.6,3.6 0 1,0 7.2,0a3.6,3.6 0 1,0 -7.2,0M182,987.66v7M181.4,994.91a3.6,3.6 0 1,0 7.2,0a3.6,3.6 0 1,0 -7.2,0M185,991.41v7M184.4,994.84a3.6,3.6 0 1,0 7.2,0a3.6,3.6 0 1,0 -7.2,0M188,991.34v7M187.4,995.04a3.6,3.6 0 1,0 7.2,0a3.6,3.6 0 1,0 -7.2,0M191,991.54v7M190.4,996.86a3.6,3.6 0 1,0 7.2,0a3.6,3.6 0 1,0 -7.2,0M194,993.36v7M193.4,997.34a3.6,3.6 0 1,0 7.2,0a3.6,3.6 0 1,0 -7.2,0M197,993.84v7M196.4,992.27a3.6,3.6 0 1,0 7.2,0a3.6,3.6 0 1,0 -7.2,0M200,988.77v7M199.4,989.83a3.6,3.6 0 1,0 7.2,0a3.6,3.6 0 1,0 -7.2,0M203,986.33v7M202.4,981.43a3.6,3.6 0 1,0 7.2,0a3.6,3.6 0 1,0 -7.2,0M206,977.93v7M205.4,970.06a3.6,3.6 0 1,0 7.2,0a3.6,3.6 0 1,0 -7.2,0M209,966.56v7M208.4,956.9a3.6,3.6 0 1,0 7.2,0a3.6,3.6 0 1,0 -7.2,0M212,953.4v7M211.4,928.42a3.6,3.6 0 1,0 7.2,0a3.6,3.6 0 1,0 -7.2,0M215,924.92v7M214.4,888.13a3.6,3.6 0 1,0 7.2,0a3.6,3.6 0 1,0 -7.2,0M218,884.63v7M217.4,854.52a3.6,3.6 0 1,0 7.2,0a3.6,3.6 0 1,0 -7.2,0M221,851.02v7M220.4,817.15a3.6,3.6 0 1,0 7.2,0a3.6,3.6 0 1,0 -7.2,0M224,813.65v7M223.4,788.07a3.6,3.6 0 1,0 7.2,0a3.6,3.6 0 1,0 -7.2,0M227,784.57v7M226.4,787.02a3.6,3.6 0 1,0 7.2,0a3.6,3.6 0 1,0 -7.2,0M230,783.52v7M229.4,802.44a3.6,3.6 0 1,0 7.2,0a3.6,3.6 0 1,0 -7.2,0M233,798.94v7M232.4,834.66a3.6,3.6 0 1,0 7.2,0a3.6,3.6 0 1,0 -7.2,0M236,831.16v7M235.4,872.9a3.6,3.6 0 1,0 7.2,0a3.6,3.6 0 1,0 -7.2,0M239,869.4v7M238.4,927.99a3.6,3.6 0 1,0 7.2,0a3.6,3.6 0 1,0 -7.2,0M242,924.49v7M241.4,959.71a3.6,3.6 0 1,0 7.2,0a3.6,3.6 0 1,0 -7.2,0M245,956.21v7M244.4,980.8a3.6,3.6 0 1,0 7.2,0a3.6,3.6 0 1,0 -7.2,0M248,977.3v7M247.4,985.39a3.6,3.6 0 1,0 7.2,0a3.6,3.6 0 1,0 -7.2,0M251,981.89v7M250.4,990.36a3.6,3.6 0 1,0 7.2,0a3.6,3.6 0 1,0 -7.2,0M254,986.86v7M253.4,995.92a3.6,3.6 0 1,0 7.2,0a3.6,3.6 0 1,0 -7.2,0M257,992.42v7M256.4,996.62a3.6,3.6 0 1,0 7.2,0a3.6,3.6 0 1,0 -7.2,0M260,993.12v7M259.4,999.67a3.6,3.6 0 1,0 7.2,0a3.6,3.6 0 1,0 -7.2,0M263,996.17v7M262.4,1002.45a3.6,3.6 0 1,0 7.2,0a3.6,3.6 0 1,0 -7.2,0M266,998.95v7M265.4,1007.13a3.6,3.6 0 1,0 7.2,0a3.6,3.6 0 1,0 -7.2,0M269,1003.63v7M268.4,1012.42a3.6,3.6 0 1,0 7.2,0a3.6,3.6 0 1,0 -7.2,0M272,1008.92v7M271.4,1015.61a3.6,3.6 0 1,0 7.2,0a3.6,3.6 0 1,0 -7.2,0M275,1012.11v7M274.4,1019.23a3.6,3.6 0 1,0 7.2,0a3.6,3.6 0 1,0 -7.2,0M278,1015.73v7M277.4,1021.94a3.6,3.6 0 1,0 7.2,0a3.6,3.6 0 1,0 -7.2,0M281,1018.44v7M280.4,1022.77a3.6,3.6 0 1,0 7.2,0a3.6,3.6 0 1,0 -7.2,0M284,1019.27v7M283.4,1027.1a3.6,3.6 0 1,0 7.2,0a3.6,3.6 0 1,0 -7.2,0M287,1023.6v7M286.4,1027.51a3.6,3.6 0 1,0 7.2,0a3.6,3.6 0 1,0 -7.2,0M290,1024.01v7M289.4,1030.9a3.6,3.6 0 1,0 7.2,0a3.6,3.6 0 1,0 -7.2,0M293,1027.4v7M292.4,1034.92a3.6,3.6 0 1,0 7.2,0a3.6,3.6 0 1,0 -7.2,0M296,1031.42v7M295.4,1040.33a3.6,3.6 0 1,0 7.2,0a3.6,3.6 0 1,0 -7.2,0M299,1036.83v7M298.4,1041.38a3.6,3.6 0 1,0 7.2,0a3.6,3.6 0 1,0 -7.2,0M302,1037.88v7M301.4,1045.52a3.6,3.6 0 1,0 7.2,0a3.6,3.6 0 1,0 -7.2,0M305,1042.02v7M304.4,1040.4a3.6,3.6 0 1,0 7.2,0a3.6,3.6 0 1,0 -7.2,0M308,1036.9v7M307.4,1037.25a3.6,3.6 0 1,0 7.2,0a3.6,3.6 0 1,0 -7.2,0M311,1033.75v7M310.4,1032.51a3.6,3.6 0 1,0 7.2,0a3.6,3.6 0 1,0 -7.2,0M314,1029.01v7M313.4,1031.4a3.6,3.6 0 1,0 7.2,0a3.6,3.6 0 1,0 -7.2,0M317,1027.9v7M316.4,1027.27a3.6,3.6 0 1,0 7.2,0a3.6,3.6 0 1,0 -7.2,0M320,1023.77v7M319.4,1022.47a3.6,3.6 0 1,0 7.2,0a3.6,3.6 0 1,0 -7.2,0M323,1018.97v7M322.4,1020.57a3.6,3.6 0 1,0 7.2,0a3.6,3.6 0 1,0 -7.2,0M326,1017.07v7M325.4,1021.78a3.6,3.6 0 1,0 7.2,0a3.6,3.6 0 1,0 -7.2,0M329,1018.28v7M328.4,1021.4a3.6,3.6 0 1,0 7.2,0a3.6,3.6 0 1,0 -7.2,0M332,1017.9v7M331.4,1022.89a3.6,3.6 0 1,0 7.2,0a3.6,3.6 0 1,0 -7.2,0M335,1019.39v7M334.4,1021.71a3.6,3.6 0 1,0 7.2,0a3.6,3.6 0 1,0 -7.2,0M338,1018.21v7M337.4,1017.12a3.6,3.6 0 1,0 7.2,0a3.6,3.6 0 1,0 -7.2,0M341,1013.62v7M340.4,1011.68a3.6,3.6 0 1,0 7.2,0a3.6,3.6 0 1,0 -7.2,0M344,1008.18v7M343.4,1005.77a3.6,3.6 0 1,0 7.2,0a3.6,3.6 0 1,0 -7.2,0M347,1002.27v7M346.4,1002.95a3.6,3.6 0 1,0 7.2,0a3.6,3.6 0 1,0 -7.2,0M350,999.45v7M349.4,998.47a3.6,3.6 0 1,0 7.2,0a3.6,3.6 0 1,0 -7.2,0M353,994.97v7M352.4,999.44a3.6,3.6 0 1,0 7.2,0a3.6,3.6 0 1,0 -7.2,0M356,995.94v7M355.4,1004.02a3.6,3.6 0 1,0 7.2,0a3.6,3.6 0 1,0 -7.2,0M359,1000.52v7M358.4,1007.24a3.6,3.6 0 1,0 7.2,0a3.6,3.6 0 1,0 -7.2,0M362,1003.74v7M361.4,1011.82a3.6,3.6 0 1,0 7.2,0a3.6,3.6 0 1,0 -7.2,0M365,1008.32v7M364.4,1011.84a3.6,3.6 0 1,0 7.2,0a3.6,3.6 0 1,0 -7.2,0M368,1008.34v7M367.4,1019.7a3.6,3.6 0 1,0 7.2,0a3.6,3.6 0 1,0 -7.2,0M371,1016.2v7M370.4,1031a3.6,3.6 0 1,0 7.2,0a3.6,3.6 0 1,0 -7.2,0M374,1027.5v7M373.4,1032.98a3.6,3.6 0 1,0 7.2,0a3.6,3.6 0 1,0 -7.2,0M377,1029.48v7M376.4,1031.51a3.6,3.6 0 1,0 7.2,0a3.6,3.6 0 1,0 -7.2,0M380,1028.01v7M379.4,1029.1a3.6,3.6 0 1,0 7.2,0a3.6,3.6 0 1,0 -7.2,0M383,1025.6v7M382.4,1025.09a3.6,3.6 0 1,0 7.2,0a3.6,3.6 0 1,0 -7.2,0M386,1021.59v7M385.4,1021.99a3.6,3.6 0 1,0 7.2,0a3.6,3.6 0 1,0 -7.2,0M389,1018.49v7M388.4,1019.09a3.6,3.6 0 1,0 7.2,0a3.6,3.6 0 1,0 -7.2,0M392,1015.59v7M391.4,1017.43a3.6,3.6 0 1,0 7.2,0a3.6,3.6 0 1,0 -7.2,0M395,1013.93v7M394.4,1016.07a3.6,3.6 0 1,0 7.2,0a3.6,3.6 0 1,0 -7.2,0M398,1012.57v7M397.4,1015.99a3.6,3.6 0 1,0 7.2,0a3.6,3.6 0 1,0 -7.2,0M401,1012.49v7M400.4,1015.94a3.6,3.6 0 1,0 7.2,0a3.6,3.6 0 1,0 -7.2,0M404,1012.44v7M403.4,1014.07a3.6,3.6 0 1,0 7.2,0a3.6,3.6 0 1,0 -7.2,0M407,1010.57v7M406.4,1012.95a3.6,3.6 0 1,0 7.2,0a3.6,3.6 0 1,0 -7.2,0M410,1009.45v7M409.4,1010.65a3.6,3.6 0 1,0 7.2,0a3.6,3.6 0 1,0 -7.2,0M413,1007.15v7M412.4,1001.8a3.6,3.6 0 1,0 7.2,0a3.6,3.6 0 1,0 -7.2,0M416,998.3v7M415.4,980.71a3.6,3.6 0 1,0 7.2,0a3.6,3.6 0 1,0 -7.2,0M419,977.21v7M418.4,952.79a3.6,3.6 0 1,0 7.2,0a3.6,3.6 0 1,0 -7.2,0M422,949.29v7M421.4,927.41a3.6,3.6 0 1,0 7.2,0a3.6,3.6 0 1,0 -7.2,0M425,923.91v7M424.4,900.51a3.6,3.6 0 1,0 7.2,0a3.6,3.6 0 1,0 -7.2,0M428,897.01v7M427.4,872.24a3.6,3.6 0 1,0 7.2,0a3.6,3.6 0 1,0 -7.2,0M431,868.74v7M430.4,836.91a3.6,3.6 0 1,0 7.2,0a3.6,3.6 0 1,0 -7.2,0M434,833.41v7M433.4,794.55a3.6,3.6 0 1,0 7.2,0a3.6,3.6 0 1,0 -7.2,0M437,791.05v7M436.4,761.87a3.6,3.6 0 1,0 7.2,0a3.6,3.6 0 1,0 -7.2,0M440,758.37v7M439.4,729.62a3.6,3.6 0 1,0 7.2,0a3.6,3.6 0 1,0 -7.2,0M443,726.12v7M442.4,708.42a3.6,3.6 0 1,0 7.2,0a3.6,3.6 0 1,0 -7.2,0M446,704.92v7M445.4,706.11a3.6,3.6 0 1,0 7.2,0a3.6,3.6 0 1,0 -7.2,0M449,702.61v7M448.4,740.53a3.6,3.6 0 1,0 7.2,0a3.6,3.6 0 1,0 -7.2,0M452,737.03v7M451.4,804.86a3.6,3.6 0 1,0 7.2,0a3.6,3.6 0 1,0 -7.2,0M455,801.36v7M454.4,892.64a3.6,3.6 0 1,0 7.2,0a3.6,3.6 0 1,0 -7.2,0M458,889.14v7M457.4,937.02a3.6,3.6 0 1,0 7.2,0a3.6,3.6 0 1,0 -7.2,0M461,933.52v7M460.4,954.74a3.6,3.6 0 1,0 7.2,0a3.6,3.6 0 1,0 -7.2,0M464,951.24v7M463.4,960.92a3.6,3.6 0 1,0 7.2,0a3.6,3.6 0 1,0 -7.2,0M467,957.42v7M466.4,954.96a3.6,3.6 0 1,0 7.2,0a3.6,3.6 0 1,0 -7.2,0M470,951.46v7M469.4,950.19a3.6,3.6 0 1,0 7.2,0a3.6,3.6 0 1,0 -7.2,0M473,946.69v7M472.4,949.84a3.6,3.6 0 1,0 7.2,0a3.6,3.6 0 1,0 -7.2,0M476,946.34v7M475.4,950.15a3.6,3.6 0 1,0 7.2,0a3.6,3.6 0 1,0 -7.2,0M479,946.65v7M478.4,948.99a3.6,3.6 0 1,0 7.2,0a3.6,3.6 0 1,0 -7.2,0M482,945.49v7M481.4,949.59a3.6,3.6 0 1,0 7.2,0a3.6,3.6 0 1,0 -7.2,0M485,946.09v7M484.4,952.95a3.6,3.6 0 1,0 7.2,0a3.6,3.6 0 1,0 -7.2,0M488,949.45v7M487.4,958.15a3.6,3.6 0 1,0 7.2,0a3.6,3.6 0 1,0 -7.2,0M491,954.65v7M490.4,962.12a3.6,3.6 0 1,0 7.2,0a3.6,3.6 0 1,0 -7.2,0M494,958.62v7M493.4,968.35a3.6,3.6 0 1,0 7.2,0a3.6,3.6 0 1,0 -7.2,0M497,964.85v7M496.4,977.7a3.6,3.6 0 1,0 7.2,0a3.6,3.6 0 1,0 -7.2,0M500,974.2v7M499.4,973.13a3.6,3.6 0 1,0 7.2,0a3.6,3.6 0 1,0 -7.2,0M503,969.63v7M502.4,968.62a3.6,3.6 0 1,0 7.2,0a3.6,3.6 0 1,0 -7.2,0M506,965.12v7M505.4,968.28a3.6,3.6 0 1,0 7.2,0a3.6,3.6 0 1,0 -7.2,0M509,964.78v7M508.4,963.83a3.6,3.6 0 1,0 7.2,0a3.6,3.6 0 1,0 -7.2,0M512,960.33v7M511.4,961.72a3.6,3.6 0 1,0 7.2,0a3.6,3.6 0 1,0 -7.2,0M515,958.22v7M514.4,958.77a3.6,3.6 0 1,0 7.2,0a3.6,3.6 0 1,0 -7.2,0M518,955.27v7M517.4,955.55a3.6,3.6 0 1,0 7.2,0a3.6,3.6 0 1,0 -7.2,0M521,952.05v7M520.4,943.32a3.6,3.6 0 1,0 7.2,0a3.6,3.6 0 1,0 -7.2,0M524,939.82v7M523.4,925.24a3.6,3.6 0 1,0 7.2,0a3.6,3.6 0 1,0 -7.2,0M527,921.74v7M526.4,910.53a3.6,3.6 0 1,0 7.2,0a3.6,3.6 0 1,0 -7.2,0M530,907.03v7M529.4,891.93a3.6,3.6 0 1,0 7.2,0a3.6,3.6 0 1,0 -7.2,0M533,888.43v7M532.4,873.19a3.6,3.6 0 1,0 7.2,0a3.6,3.6 0 1,0 -7.2,0M536,869.69v7M535.4,874.5a3.6,3.6 0 1,0 7.2,0a3.6,3.6 0 1,0 -7.2,0M539,871v7M538.4,891.65a3.6,3.6 0 1,0 7.2,0a3.6,3.6 0 1,0 -7.2,0M542,888.15v7M541.4,911.95a3.6,3.6 0 1,0 7.2,0a3.6,3.6 0 1,0 -7.2,0M545,908.45v7M544.4,917.77a3.6,3.6 0 1,0 7.2,0a3.6,3.6 0 1,0 -7.2,0M548,914.27v7M547.4,921.95a3.6,3.6 0 1,0 7.2,0a3.6,3.6 0 1,0 -7.2,0M551,918.45v7M550.4,923.53a3.6,3.6 0 1,0 7.2,0a3.6,3.6 0 1,0 -7.2,0M554,920.03v7M553.4,921.53a3.6,3.6 0 1,0 7.2,0a3.6,3.6 0 1,0 -7.2,0M557,918.03v7M556.4,919.68a3.6,3.6 0 1,0 7.2,0a3.6,3.6 0 1,0 -7.2,0M560,916.18v7M559.4,918.7a3.6,3.6 0 1,0 7.2,0a3.6,3.6 0 1,0 -7.2,0M563,915.2v7M562.4,915.96a3.6,3.6 0 1,0 7.2,0a3.6,3.6 0 1,0 -7.2,0M566,912.46v7M565.4,914.01a3.6,3.6 0 1,0 7.2,0a3.6,3.6 0 1,0 -7.2,0M569,910.51v7M568.4,913.38a3.6,3.6 0 1,0 7.2,0a3.6,3.6 0 1,0 -7.2,0M572,909.88v7M571.4,911.25a3.6,3.6 0 1,0 7.2,0a3.6,3.6 0 1,0 -7.2,0M575,907.75v7M574.4,907.95a3.6,3.6 0 1,0 7.2,0a3.6,3.6 0 1,0 -7.2,0M578,904.45v7M577.4,907.8a3.6,3.6 0 1,0 7.2,0a3.6,3.6 0 1,0 -7.2,0M581,904.3v7M580.4,913.63a3.6,3.6 0 1,0 7.2,0a3.6,3.6 0 1,0 -7.2,0M584,910.13v7M583.4,918.66a3.6,3.6 0 1,0 7.2,0a3.6,3.6 0 1,0 -7.2,0M587,915.16v7M586.4,926.46a3.6,3.6 0 1,0 7.2,0a3.6,3.6 0 1,0 -7.2,0M590,922.96v7M589.4,930.17a3.6,3.6 0 1,0 7.2,0a3.6,3.6 0 1,0 -7.2,0M593,926.67v7M592.4,931.73a3.6,3.6 0 1,0 7.2,0a3.6,3.6 0 1,0 -7.2,0M596,928.23v7M595.4,936.38a3.6,3.6 0 1,0 7.2,0a3.6,3.6 0 1,0 -7.2,0M599,932.88v7M598.4,933.5a3.6,3.6 0 1,0 7.2,0a3.6,3.6 0 1,0 -7.2,0M602,930v7M601.4,924.42a3.6,3.6 0 1,0 7.2,0a3.6,3.6 0 1,0 -7.2,0M605,920.92v7M604.4,915.57a3.6,3.6 0 1,0 7.2,0a3.6,3.6 0 1,0 -7.2,0M608,912.07v7M607.4,907.79a3.6,3.6 0 1,0 7.2,0a3.6,3.6 0 1,0 -7.2,0M611,904.29v7M610.4,901.38a3.6,3.6 0 1,0 7.2,0a3.6,3.6 0 1,0 -7.2,0M614,897.88v7M613.4,896.4a3.6,3.6 0 1,0 7.2,0a3.6,3.6 0 1,0 -7.2,0M617,892.9v7" fill="none" stroke="#3030e8" stroke-width="0.9"/>
</g>
<text x="171.5" y="727.8" font-family='"Liberation Sans", Arial, sans-serif' font-size="31" font-weight="bold" fill="#000" textLength="149" lengthAdjust="spacingAndGlyphs">E<tspan font-size="17" dy="3">i=</tspan><tspan dy="-3">280 meV</tspan></text>
<text x="153" y="769.5" font-family='"Liberation Sans", Arial, sans-serif' font-size="31.5" font-weight="bold" fill="#000"><tspan textLength="140" lengthAdjust="spacingAndGlyphs">Q=[2,10] Å</tspan><tspan font-size="18" dy="-12">-1</tspan></text>
<rect x="490.5" y="687.2" width="122.9" height="194.6" stroke="#1a1aee" stroke-width="3.2" fill="none"/>
<text x="533.7" y="720.3" font-size="30" font-weight="bold" fill="#000" text-anchor="start" font-family='"Liberation Sans", Arial, sans-serif' textLength="69.2" lengthAdjust="spacingAndGlyphs">200K</text>
<circle cx="507" cy="710.5" r="4" fill="#000"/>
<text x="534" y="758.2" font-size="30" font-weight="bold" fill="#ee1111" text-anchor="start" font-family='"Liberation Sans", Arial, sans-serif' textLength="68.9" lengthAdjust="spacingAndGlyphs">180K</text>
<circle cx="507" cy="748" r="4" fill="#ee1111"/>
<text x="534" y="796.4" font-size="30" font-weight="bold" fill="#11ee11" text-anchor="start" font-family='"Liberation Sans", Arial, sans-serif' textLength="68.9" lengthAdjust="spacingAndGlyphs">100K</text>
<circle cx="507" cy="785.3" r="4" fill="#11ee11"/>
<text x="541.5" y="831.2" font-size="30" font-weight="bold" fill="#ee11ee" text-anchor="start" font-family='"Liberation Sans", Arial, sans-serif' textLength="53.5" lengthAdjust="spacingAndGlyphs">50K</text>
<circle cx="514.7" cy="820.8" r="4" fill="#ee11ee"/>
<text x="549.9" y="869" font-size="30" font-weight="bold" fill="#1111ee" text-anchor="start" font-family='"Liberation Sans", Arial, sans-serif' textLength="37.1" lengthAdjust="spacingAndGlyphs">5K</text>
<circle cx="522.7" cy="858.5" r="4" fill="#1111ee"/>
<text x="410.5" y="701" font-size="13" font-weight="normal" fill="#777" text-anchor="start" font-family='"Liberation Sans", Arial, sans-serif'>1</text>
<line x1="905.3" y1="727" x2="905.3" y2="1069.8" stroke="#c4c4c4" stroke-width="1.3"/>
<line x1="1014.8" y1="673.4" x2="1014.8" y2="1069.8" stroke="#c4c4c4" stroke-width="1.3"/>
<line x1="1124.3" y1="673.4" x2="1124.3" y2="1069.8" stroke="#c4c4c4" stroke-width="1.3"/>
<line x1="1233.8" y1="673.4" x2="1233.8" y2="1069.8" stroke="#c4c4c4" stroke-width="1.3"/>
<line x1="806" y1="1021.4" x2="1287.9" y2="1021.4" stroke="#c4c4c4" stroke-width="1.3"/>
<line x1="806" y1="898" x2="1287.9" y2="898" stroke="#c4c4c4" stroke-width="1.3"/>
<line x1="806" y1="774.6" x2="1287.9" y2="774.6" stroke="#c4c4c4" stroke-width="1.3"/>
<path d="M806.75,1069.8v-5M817.7,1069.8v-5M828.65,1069.8v-5M839.6,1069.8v-5M850.55,1069.8v-5M861.5,1069.8v-5M872.45,1069.8v-5M883.4,1069.8v-5M894.35,1069.8v-5M905.3,1069.8v-5M916.25,1069.8v-5M927.2,1069.8v-5M938.15,1069.8v-5M949.1,1069.8v-5M960.05,1069.8v-5M971,1069.8v-5M981.95,1069.8v-5M992.9,1069.8v-5M1003.85,1069.8v-5M1014.8,1069.8v-5M1025.75,1069.8v-5M1036.7,1069.8v-5M1047.65,1069.8v-5M1058.6,1069.8v-5M1069.55,1069.8v-5M1080.5,1069.8v-5M1091.45,1069.8v-5M1102.4,1069.8v-5M1113.35,1069.8v-5M1124.3,1069.8v-5M1135.25,1069.8v-5M1146.2,1069.8v-5M1157.15,1069.8v-5M1168.1,1069.8v-5M1179.05,1069.8v-5M1190,1069.8v-5M1200.95,1069.8v-5M1211.9,1069.8v-5M1222.85,1069.8v-5M1233.8,1069.8v-5M1244.75,1069.8v-5M1255.7,1069.8v-5M1266.65,1069.8v-5M1277.6,1069.8v-5" stroke="#444" stroke-width="1.3" fill="none"/>
<path d="M806.75,673.4v5M817.7,673.4v5M828.65,673.4v5M839.6,673.4v5M850.55,673.4v5M861.5,673.4v5M872.45,673.4v5M883.4,673.4v5M894.35,673.4v5M905.3,673.4v5M916.25,673.4v5M927.2,673.4v5M938.15,673.4v5M949.1,673.4v5M960.05,673.4v5M971,673.4v5M981.95,673.4v5M992.9,673.4v5M1003.85,673.4v5M1014.8,673.4v5M1025.75,673.4v5M1036.7,673.4v5M1047.65,673.4v5M1058.6,673.4v5M1069.55,673.4v5M1080.5,673.4v5M1091.45,673.4v5M1102.4,673.4v5M1113.35,673.4v5M1124.3,673.4v5M1135.25,673.4v5M1146.2,673.4v5M1157.15,673.4v5M1168.1,673.4v5M1179.05,673.4v5M1190,673.4v5M1200.95,673.4v5M1211.9,673.4v5M1222.85,673.4v5M1233.8,673.4v5M1244.75,673.4v5M1255.7,673.4v5M1266.65,673.4v5M1277.6,673.4v5" stroke="#888" stroke-width="1.3" fill="none"/>
<path d="M806,1058.42h5M806,1033.74h5M806,1009.06h5M806,984.38h5M806,959.7h5M806,935.02h5M806,910.34h5M806,885.66h5M806,860.98h5M806,836.3h5M806,811.62h5M806,786.94h5M806,762.26h5M806,737.58h5M806,712.9h5M806,688.22h5" stroke="#666" stroke-width="1.3" fill="none"/>
<path d="M1287.9,1058.42h-5M1287.9,1033.74h-5M1287.9,1009.06h-5M1287.9,984.38h-5M1287.9,959.7h-5M1287.9,935.02h-5M1287.9,910.34h-5M1287.9,885.66h-5M1287.9,860.98h-5M1287.9,836.3h-5M1287.9,811.62h-5M1287.9,786.94h-5M1287.9,762.26h-5M1287.9,737.58h-5M1287.9,712.9h-5M1287.9,688.22h-5" stroke="#666" stroke-width="1.3" fill="none"/>
<line x1="806" y1="673.4" x2="1287.9" y2="673.4" stroke="#8a8a8a" stroke-width="1.8"/>
<line x1="806" y1="673.4" x2="806" y2="1069.8" stroke="#7a7a7a" stroke-width="1.8"/>
<line x1="1287.9" y1="673.4" x2="1287.9" y2="1069.8" stroke="#555" stroke-width="1.8"/>
<line x1="806" y1="1069.8" x2="1287.9" y2="1069.8" stroke="#333" stroke-width="2"/>
<text x="908.4" y="1101.3" font-size="25" font-weight="normal" fill="#000" text-anchor="middle" font-family='"Liberation Sans", Arial, sans-serif'>200</text>
<text x="1017.6" y="1101.3" font-size="25" font-weight="normal" fill="#000" text-anchor="middle" font-family='"Liberation Sans", Arial, sans-serif'>300</text>
<text x="1129" y="1101.3" font-size="25" font-weight="normal" fill="#000" text-anchor="middle" font-family='"Liberation Sans", Arial, sans-serif'>400</text>
<text x="1235" y="1101.3" font-size="25" font-weight="normal" fill="#000" text-anchor="middle" font-family='"Liberation Sans", Arial, sans-serif'>500</text>
<text x="776" y="788.2" font-size="25" font-weight="normal" fill="#000" text-anchor="end" font-family='"Liberation Sans", Arial, sans-serif'>1.5</text>
<text x="776" y="910.2" font-size="25" font-weight="normal" fill="#000" text-anchor="end" font-family='"Liberation Sans", Arial, sans-serif'>1.0</text>
<text x="776" y="1039.2" font-size="25" font-weight="normal" fill="#000" text-anchor="end" font-family='"Liberation Sans", Arial, sans-serif'>0.5</text>
<text x="794.5" y="669.3" font-family='"Liberation Serif", "Times New Roman", serif' font-size="24" fill="#000" textLength="44.5" lengthAdjust="spacingAndGlyphs">×10</text>
<text x="841" y="660.5" font-family='"Liberation Serif", "Times New Roman", serif' font-size="16.8" fill="#000" textLength="23" lengthAdjust="spacingAndGlyphs">−5</text>
<text transform="translate(690.43,672) scale(0.98,1.02)" x="0" y="0" font-family='"Liberation Sans", Arial, sans-serif' font-size="47" font-weight="bold" fill="#000">e</text>
<text x="956" y="1159" font-size="38" font-weight="normal" fill="#000" text-anchor="start" font-family='"Liberation Sans", Arial, sans-serif' textLength="135.7" lengthAdjust="spacingAndGlyphs">E(meV)</text>
<text x="0" y="0" transform="translate(703,905) rotate(-90)" text-anchor="middle" font-family='"Liberation Sans", Arial, sans-serif' font-size="40" fill="#000">Intensity (arb.units)</text>
<clipPath id="ce"><rect x="807" y="674.3" width="480" height="394.6"/></clipPath>
<g clip-path="url(#ce)">
<polyline points="807,674.99 810.3,687.96 813.6,697.56 816.9,706.85 820.2,717.84 823.5,731.49 826.8,745.16 830.1,760.87 833.4,774.42 836.7,780.21 840,786.11 843.3,796.17 846.6,806.65 849.9,814.93 853.2,825 856.5,829.94 859.8,836.57 863.1,842.63 866.4,852.07 869.7,857.86 873,864.84 876.3,868.1 879.6,865.94 882.9,866.41 886.2,866.51 889.5,864.24 892.8,863.43 896.1,858.35 899.4,854.39 902.7,853.3 906,850 909.3,851.18 912.6,848.53 915.9,847.59 919.2,849.06 922.5,851.69 925.8,852.99 929.1,858.58 932.4,867.64 935.7,872.31 939,880.56 942.3,885.47 945.6,894.37 948.9,900.77 952.2,905.91 955.5,910.87 958.8,915.26 962.1,920.65 965.4,923.77 968.7,929.78 972,935.78 975.3,938.85 978.6,946.26 981.9,951.91 985.2,956.24 988.5,961.86 991.8,967.71 995.1,972.49 998.4,979.29 1001.7,982.44 1005,986.24 1008.3,990.4 1011.6,996.23 1014.9,1001.01 1018.2,1003.47 1021.5,1007.41 1024.8,1010.95 1028.1,1014.84 1031.4,1016.57 1034.7,1021.03 1038,1024.17 1041.3,1027.97 1044.6,1030.34 1047.9,1034 1051.2,1038.24 1054.5,1043.67 1057.8,1045.12 1061.1,1047.19 1064.4,1047.64 1067.7,1048.35 1071,1049.56 1074.3,1053.02 1077.6,1052.58 1080.9,1051.05 1084.2,1051.65 1087.5,1051.3 1090.8,1051.64 1094.1,1048.51 1097.4,1043.15 1100.7,1041.18 1104,1037.38 1107.3,1026.45 1110.6,1015.54 1113.9,1001.56 1117.2,982.66 1120.5,963.71 1123.8,948.56 1127.1,930.5 1130.4,914.31 1133.7,903.28 1137,889.94 1140.3,879.79 1143.6,876.94 1146.9,870.67 1150.2,868.41 1153.5,865.87 1156.8,865.06 1160.1,867.61 1163.4,871 1166.7,877.29 1170,884.45 1173.3,890.18 1176.6,894.97 1179.9,899.67 1183.2,904.49 1186.5,911.6 1189.8,915.27 1193.1,920.86 1196.4,923.73 1199.7,929.92 1203,937.56 1206.3,943.18 1209.6,949.2 1212.9,952.98 1216.2,956.58 1219.5,961.17 1222.8,966.1 1226.1,968.6 1229.4,973.39 1232.7,976.74 1236,982.33 1239.3,983.48 1242.6,987.98 1245.9,991.26 1249.2,990.95 1252.5,994.63 1255.8,995.6 1259.1,997.04 1262.4,997.06 1265.7,996.77 1269,997.22 1272.3,998.88 1275.6,998.72 1278.9,996.36 1282.2,994.94 1285.5,993.63" fill="none" stroke="#333" stroke-width="1" stroke-linejoin="round"/>
<path d="M802.9,674.99a4.1,4.1 0 1,0 8.2,0a4.1,4.1 0 1,0 -8.2,0M806.2,687.96a4.1,4.1 0 1,0 8.2,0a4.1,4.1 0 1,0 -8.2,0M809.5,697.56a4.1,4.1 0 1,0 8.2,0a4.1,4.1 0 1,0 -8.2,0M812.8,706.85a4.1,4.1 0 1,0 8.2,0a4.1,4.1 0 1,0 -8.2,0M816.1,717.84a4.1,4.1 0 1,0 8.2,0a4.1,4.1 0 1,0 -8.2,0M819.4,731.49a4.1,4.1 0 1,0 8.2,0a4.1,4.1 0 1,0 -8.2,0M822.7,745.16a4.1,4.1 0 1,0 8.2,0a4.1,4.1 0 1,0 -8.2,0M826,760.87a4.1,4.1 0 1,0 8.2,0a4.1,4.1 0 1,0 -8.2,0M829.3,774.42a4.1,4.1 0 1,0 8.2,0a4.1,4.1 0 1,0 -8.2,0M832.6,780.21a4.1,4.1 0 1,0 8.2,0a4.1,4.1 0 1,0 -8.2,0M835.9,786.11a4.1,4.1 0 1,0 8.2,0a4.1,4.1 0 1,0 -8.2,0M839.2,796.17a4.1,4.1 0 1,0 8.2,0a4.1,4.1 0 1,0 -8.2,0M842.5,806.65a4.1,4.1 0 1,0 8.2,0a4.1,4.1 0 1,0 -8.2,0M845.8,814.93a4.1,4.1 0 1,0 8.2,0a4.1,4.1 0 1,0 -8.2,0M849.1,825a4.1,4.1 0 1,0 8.2,0a4.1,4.1 0 1,0 -8.2,0M852.4,829.94a4.1,4.1 0 1,0 8.2,0a4.1,4.1 0 1,0 -8.2,0M855.7,836.57a4.1,4.1 0 1,0 8.2,0a4.1,4.1 0 1,0 -8.2,0M859,842.63a4.1,4.1 0 1,0 8.2,0a4.1,4.1 0 1,0 -8.2,0M862.3,852.07a4.1,4.1 0 1,0 8.2,0a4.1,4.1 0 1,0 -8.2,0M865.6,857.86a4.1,4.1 0 1,0 8.2,0a4.1,4.1 0 1,0 -8.2,0M868.9,864.84a4.1,4.1 0 1,0 8.2,0a4.1,4.1 0 1,0 -8.2,0M872.2,868.1a4.1,4.1 0 1,0 8.2,0a4.1,4.1 0 1,0 -8.2,0M875.5,865.94a4.1,4.1 0 1,0 8.2,0a4.1,4.1 0 1,0 -8.2,0M878.8,866.41a4.1,4.1 0 1,0 8.2,0a4.1,4.1 0 1,0 -8.2,0M882.1,866.51a4.1,4.1 0 1,0 8.2,0a4.1,4.1 0 1,0 -8.2,0M885.4,864.24a4.1,4.1 0 1,0 8.2,0a4.1,4.1 0 1,0 -8.2,0M888.7,863.43a4.1,4.1 0 1,0 8.2,0a4.1,4.1 0 1,0 -8.2,0M892,858.35a4.1,4.1 0 1,0 8.2,0a4.1,4.1 0 1,0 -8.2,0M895.3,854.39a4.1,4.1 0 1,0 8.2,0a4.1,4.1 0 1,0 -8.2,0M898.6,853.3a4.1,4.1 0 1,0 8.2,0a4.1,4.1 0 1,0 -8.2,0M901.9,850a4.1,4.1 0 1,0 8.2,0a4.1,4.1 0 1,0 -8.2,0M905.2,851.18a4.1,4.1 0 1,0 8.2,0a4.1,4.1 0 1,0 -8.2,0M908.5,848.53a4.1,4.1 0 1,0 8.2,0a4.1,4.1 0 1,0 -8.2,0M911.8,847.59a4.1,4.1 0 1,0 8.2,0a4.1,4.1 0 1,0 -8.2,0M915.1,849.06a4.1,4.1 0 1,0 8.2,0a4.1,4.1 0 1,0 -8.2,0M918.4,851.69a4.1,4.1 0 1,0 8.2,0a4.1,4.1 0 1,0 -8.2,0M921.7,852.99a4.1,4.1 0 1,0 8.2,0a4.1,4.1 0 1,0 -8.2,0M925,858.58a4.1,4.1 0 1,0 8.2,0a4.1,4.1 0 1,0 -8.2,0M928.3,867.64a4.1,4.1 0 1,0 8.2,0a4.1,4.1 0 1,0 -8.2,0M931.6,872.31a4.1,4.1 0 1,0 8.2,0a4.1,4.1 0 1,0 -8.2,0M934.9,880.56a4.1,4.1 0 1,0 8.2,0a4.1,4.1 0 1,0 -8.2,0M938.2,885.47a4.1,4.1 0 1,0 8.2,0a4.1,4.1 0 1,0 -8.2,0M941.5,894.37a4.1,4.1 0 1,0 8.2,0a4.1,4.1 0 1,0 -8.2,0M944.8,900.77a4.1,4.1 0 1,0 8.2,0a4.1,4.1 0 1,0 -8.2,0M948.1,905.91a4.1,4.1 0 1,0 8.2,0a4.1,4.1 0 1,0 -8.2,0M951.4,910.87a4.1,4.1 0 1,0 8.2,0a4.1,4.1 0 1,0 -8.2,0M954.7,915.26a4.1,4.1 0 1,0 8.2,0a4.1,4.1 0 1,0 -8.2,0M958,920.65a4.1,4.1 0 1,0 8.2,0a4.1,4.1 0 1,0 -8.2,0M961.3,923.77a4.1,4.1 0 1,0 8.2,0a4.1,4.1 0 1,0 -8.2,0M964.6,929.78a4.1,4.1 0 1,0 8.2,0a4.1,4.1 0 1,0 -8.2,0M967.9,935.78a4.1,4.1 0 1,0 8.2,0a4.1,4.1 0 1,0 -8.2,0M971.2,938.85a4.1,4.1 0 1,0 8.2,0a4.1,4.1 0 1,0 -8.2,0M974.5,946.26a4.1,4.1 0 1,0 8.2,0a4.1,4.1 0 1,0 -8.2,0M977.8,951.91a4.1,4.1 0 1,0 8.2,0a4.1,4.1 0 1,0 -8.2,0M981.1,956.24a4.1,4.1 0 1,0 8.2,0a4.1,4.1 0 1,0 -8.2,0M984.4,961.86a4.1,4.1 0 1,0 8.2,0a4.1,4.1 0 1,0 -8.2,0M987.7,967.71a4.1,4.1 0 1,0 8.2,0a4.1,4.1 0 1,0 -8.2,0M991,972.49a4.1,4.1 0 1,0 8.2,0a4.1,4.1 0 1,0 -8.2,0M994.3,979.29a4.1,4.1 0 1,0 8.2,0a4.1,4.1 0 1,0 -8.2,0M997.6,982.44a4.1,4.1 0 1,0 8.2,0a4.1,4.1 0 1,0 -8.2,0M1000.9,986.24a4.1,4.1 0 1,0 8.2,0a4.1,4.1 0 1,0 -8.2,0M1004.2,990.4a4.1,4.1 0 1,0 8.2,0a4.1,4.1 0 1,0 -8.2,0M1007.5,996.23a4.1,4.1 0 1,0 8.2,0a4.1,4.1 0 1,0 -8.2,0M1010.8,1001.01a4.1,4.1 0 1,0 8.2,0a4.1,4.1 0 1,0 -8.2,0M1014.1,1003.47a4.1,4.1 0 1,0 8.2,0a4.1,4.1 0 1,0 -8.2,0M1017.4,1007.41a4.1,4.1 0 1,0 8.2,0a4.1,4.1 0 1,0 -8.2,0M1020.7,1010.95a4.1,4.1 0 1,0 8.2,0a4.1,4.1 0 1,0 -8.2,0M1024,1014.84a4.1,4.1 0 1,0 8.2,0a4.1,4.1 0 1,0 -8.2,0M1027.3,1016.57a4.1,4.1 0 1,0 8.2,0a4.1,4.1 0 1,0 -8.2,0M1030.6,1021.03a4.1,4.1 0 1,0 8.2,0a4.1,4.1 0 1,0 -8.2,0M1033.9,1024.17a4.1,4.1 0 1,0 8.2,0a4.1,4.1 0 1,0 -8.2,0M1037.2,1027.97a4.1,4.1 0 1,0 8.2,0a4.1,4.1 0 1,0 -8.2,0M1040.5,1030.34a4.1,4.1 0 1,0 8.2,0a4.1,4.1 0 1,0 -8.2,0M1043.8,1034a4.1,4.1 0 1,0 8.2,0a4.1,4.1 0 1,0 -8.2,0M1047.1,1038.24a4.1,4.1 0 1,0 8.2,0a4.1,4.1 0 1,0 -8.2,0M1050.4,1043.67a4.1,4.1 0 1,0 8.2,0a4.1,4.1 0 1,0 -8.2,0M1053.7,1045.12a4.1,4.1 0 1,0 8.2,0a4.1,4.1 0 1,0 -8.2,0M1057,1047.19a4.1,4.1 0 1,0 8.2,0a4.1,4.1 0 1,0 -8.2,0M1060.3,1047.64a4.1,4.1 0 1,0 8.2,0a4.1,4.1 0 1,0 -8.2,0M1063.6,1048.35a4.1,4.1 0 1,0 8.2,0a4.1,4.1 0 1,0 -8.2,0M1066.9,1049.56a4.1,4.1 0 1,0 8.2,0a4.1,4.1 0 1,0 -8.2,0M1070.2,1053.02a4.1,4.1 0 1,0 8.2,0a4.1,4.1 0 1,0 -8.2,0M1073.5,1052.58a4.1,4.1 0 1,0 8.2,0a4.1,4.1 0 1,0 -8.2,0M1076.8,1051.05a4.1,4.1 0 1,0 8.2,0a4.1,4.1 0 1,0 -8.2,0M1080.1,1051.65a4.1,4.1 0 1,0 8.2,0a4.1,4.1 0 1,0 -8.2,0M1083.4,1051.3a4.1,4.1 0 1,0 8.2,0a4.1,4.1 0 1,0 -8.2,0M1086.7,1051.64a4.1,4.1 0 1,0 8.2,0a4.1,4.1 0 1,0 -8.2,0M1090,1048.51a4.1,4.1 0 1,0 8.2,0a4.1,4.1 0 1,0 -8.2,0M1093.3,1043.15a4.1,4.1 0 1,0 8.2,0a4.1,4.1 0 1,0 -8.2,0M1096.6,1041.18a4.1,4.1 0 1,0 8.2,0a4.1,4.1 0 1,0 -8.2,0M1099.9,1037.38a4.1,4.1 0 1,0 8.2,0a4.1,4.1 0 1,0 -8.2,0M1103.2,1026.45a4.1,4.1 0 1,0 8.2,0a4.1,4.1 0 1,0 -8.2,0M1106.5,1015.54a4.1,4.1 0 1,0 8.2,0a4.1,4.1 0 1,0 -8.2,0M1109.8,1001.56a4.1,4.1 0 1,0 8.2,0a4.1,4.1 0 1,0 -8.2,0M1113.1,982.66a4.1,4.1 0 1,0 8.2,0a4.1,4.1 0 1,0 -8.2,0M1116.4,963.71a4.1,4.1 0 1,0 8.2,0a4.1,4.1 0 1,0 -8.2,0M1119.7,948.56a4.1,4.1 0 1,0 8.2,0a4.1,4.1 0 1,0 -8.2,0M1123,930.5a4.1,4.1 0 1,0 8.2,0a4.1,4.1 0 1,0 -8.2,0M1126.3,914.31a4.1,4.1 0 1,0 8.2,0a4.1,4.1 0 1,0 -8.2,0M1129.6,903.28a4.1,4.1 0 1,0 8.2,0a4.1,4.1 0 1,0 -8.2,0M1132.9,889.94a4.1,4.1 0 1,0 8.2,0a4.1,4.1 0 1,0 -8.2,0M1136.2,879.79a4.1,4.1 0 1,0 8.2,0a4.1,4.1 0 1,0 -8.2,0M1139.5,876.94a4.1,4.1 0 1,0 8.2,0a4.1,4.1 0 1,0 -8.2,0M1142.8,870.67a4.1,4.1 0 1,0 8.2,0a4.1,4.1 0 1,0 -8.2,0M1146.1,868.41a4.1,4.1 0 1,0 8.2,0a4.1,4.1 0 1,0 -8.2,0M1149.4,865.87a4.1,4.1 0 1,0 8.2,0a4.1,4.1 0 1,0 -8.2,0M1152.7,865.06a4.1,4.1 0 1,0 8.2,0a4.1,4.1 0 1,0 -8.2,0M1156,867.61a4.1,4.1 0 1,0 8.2,0a4.1,4.1 0 1,0 -8.2,0M1159.3,871a4.1,4.1 0 1,0 8.2,0a4.1,4.1 0 1,0 -8.2,0M1162.6,877.29a4.1,4.1 0 1,0 8.2,0a4.1,4.1 0 1,0 -8.2,0M1165.9,884.45a4.1,4.1 0 1,0 8.2,0a4.1,4.1 0 1,0 -8.2,0M1169.2,890.18a4.1,4.1 0 1,0 8.2,0a4.1,4.1 0 1,0 -8.2,0M1172.5,894.97a4.1,4.1 0 1,0 8.2,0a4.1,4.1 0 1,0 -8.2,0M1175.8,899.67a4.1,4.1 0 1,0 8.2,0a4.1,4.1 0 1,0 -8.2,0M1179.1,904.49a4.1,4.1 0 1,0 8.2,0a4.1,4.1 0 1,0 -8.2,0M1182.4,911.6a4.1,4.1 0 1,0 8.2,0a4.1,4.1 0 1,0 -8.2,0M1185.7,915.27a4.1,4.1 0 1,0 8.2,0a4.1,4.1 0 1,0 -8.2,0M1189,920.86a4.1,4.1 0 1,0 8.2,0a4.1,4.1 0 1,0 -8.2,0M1192.3,923.73a4.1,4.1 0 1,0 8.2,0a4.1,4.1 0 1,0 -8.2,0M1195.6,929.92a4.1,4.1 0 1,0 8.2,0a4.1,4.1 0 1,0 -8.2,0M1198.9,937.56a4.1,4.1 0 1,0 8.2,0a4.1,4.1 0 1,0 -8.2,0M1202.2,943.18a4.1,4.1 0 1,0 8.2,0a4.1,4.1 0 1,0 -8.2,0M1205.5,949.2a4.1,4.1 0 1,0 8.2,0a4.1,4.1 0 1,0 -8.2,0M1208.8,952.98a4.1,4.1 0 1,0 8.2,0a4.1,4.1 0 1,0 -8.2,0M1212.1,956.58a4.1,4.1 0 1,0 8.2,0a4.1,4.1 0 1,0 -8.2,0M1215.4,961.17a4.1,4.1 0 1,0 8.2,0a4.1,4.1 0 1,0 -8.2,0M1218.7,966.1a4.1,4.1 0 1,0 8.2,0a4.1,4.1 0 1,0 -8.2,0M1222,968.6a4.1,4.1 0 1,0 8.2,0a4.1,4.1 0 1,0 -8.2,0M1225.3,973.39a4.1,4.1 0 1,0 8.2,0a4.1,4.1 0 1,0 -8.2,0M1228.6,976.74a4.1,4.1 0 1,0 8.2,0a4.1,4.1 0 1,0 -8.2,0M1231.9,982.33a4.1,4.1 0 1,0 8.2,0a4.1,4.1 0 1,0 -8.2,0M1235.2,983.48a4.1,4.1 0 1,0 8.2,0a4.1,4.1 0 1,0 -8.2,0M1238.5,987.98a4.1,4.1 0 1,0 8.2,0a4.1,4.1 0 1,0 -8.2,0M1241.8,991.26a4.1,4.1 0 1,0 8.2,0a4.1,4.1 0 1,0 -8.2,0M1245.1,990.95a4.1,4.1 0 1,0 8.2,0a4.1,4.1 0 1,0 -8.2,0M1248.4,994.63a4.1,4.1 0 1,0 8.2,0a4.1,4.1 0 1,0 -8.2,0M1251.7,995.6a4.1,4.1 0 1,0 8.2,0a4.1,4.1 0 1,0 -8.2,0M1255,997.04a4.1,4.1 0 1,0 8.2,0a4.1,4.1 0 1,0 -8.2,0M1258.3,997.06a4.1,4.1 0 1,0 8.2,0a4.1,4.1 0 1,0 -8.2,0M1261.6,996.77a4.1,4.1 0 1,0 8.2,0a4.1,4.1 0 1,0 -8.2,0M1264.9,997.22a4.1,4.1 0 1,0 8.2,0a4.1,4.1 0 1,0 -8.2,0M1268.2,998.88a4.1,4.1 0 1,0 8.2,0a4.1,4.1 0 1,0 -8.2,0M1271.5,998.72a4.1,4.1 0 1,0 8.2,0a4.1,4.1 0 1,0 -8.2,0M1274.8,996.36a4.1,4.1 0 1,0 8.2,0a4.1,4.1 0 1,0 -8.2,0M1278.1,994.94a4.1,4.1 0 1,0 8.2,0a4.1,4.1 0 1,0 -8.2,0M1281.4,993.63a4.1,4.1 0 1,0 8.2,0a4.1,4.1 0 1,0 -8.2,0" fill="#7a7a7a" stroke="#333" stroke-width="1.1"/>
<polyline points="807,677.37 810.3,677.85 813.6,681.89 816.9,689.21 820.2,691.15 823.5,697.36 826.8,705.55 830.1,711.24 833.4,722.74 836.7,730.5 840,741.09 843.3,751.5 846.6,766.16 849.9,781.1 853.2,795.24 856.5,812.05 859.8,828.39 863.1,837.62 866.4,845.89 869.7,850.59 873,855.09 876.3,852.91 879.6,852.1 882.9,848.54 886.2,846.92 889.5,843.75 892.8,837.09 896.1,826.98 899.4,817.48 902.7,806.84 906,802.59 909.3,806.68 912.6,802.62 915.9,801.91 919.2,810.95 922.5,818.89 925.8,824.54 929.1,831.19 932.4,835.33 935.7,841.81 939,850.24 942.3,860.52 945.6,866.3 948.9,875.58 952.2,880.52 955.5,883.85 958.8,886.83 962.1,890.88 965.4,899.57 968.7,905.66 972,914.17 975.3,923.63 978.6,931.6 981.9,940.94 985.2,948.44 988.5,955.77 991.8,963.69 995.1,968.79 998.4,973 1001.7,981.39 1005,986.07 1008.3,992.9 1011.6,999.34 1014.9,1005.31 1018.2,1009.77 1021.5,1012.84 1024.8,1015.15 1028.1,1016.71 1031.4,1021.59 1034.7,1021.89 1038,1026.42 1041.3,1028.87 1044.6,1030.89 1047.9,1033.07 1051.2,1034.66 1054.5,1036.16 1057.8,1039.29 1061.1,1041.71 1064.4,1042.9 1067.7,1043.2 1071,1046.33 1074.3,1046.06 1077.6,1048.78 1080.9,1051.68 1084.2,1051.96 1087.5,1050.58 1090.8,1051.74 1094.1,1050.7 1097.4,1048.53 1100.7,1046.07 1104,1042.66 1107.3,1031.97 1110.6,1019.51 1113.9,1002.34 1117.2,983.11 1120.5,955.72 1123.8,926.7 1127.1,900.56 1130.4,874.94 1133.7,849.99 1137,826.52 1140.3,812.89 1143.6,814.6 1146.9,817.23 1150.2,821.34 1153.5,829.53 1156.8,835.66 1160.1,841.22 1163.4,851.87 1166.7,867.02 1170,870.57 1173.3,875.19 1176.6,880.77 1179.9,886.16 1183.2,893.53 1186.5,897.01 1189.8,902.83 1193.1,907.77 1196.4,914.37 1199.7,919.06 1203,924.97 1206.3,931.64 1209.6,937.71 1212.9,942.19 1216.2,944.24 1219.5,949.69 1222.8,955.49 1226.1,957.4 1229.4,962.26 1232.7,966.98 1236,969.98 1239.3,974.41 1242.6,977.64 1245.9,979.29 1249.2,979.46 1252.5,980.23 1255.8,981.15 1259.1,981.02 1262.4,982 1265.7,979.65 1269,981.02 1272.3,979.23 1275.6,974.14 1278.9,972.13 1282.2,969.11 1285.5,973.96" fill="none" stroke="#e83030" stroke-width="1" stroke-linejoin="round"/>
<path d="M802.9,677.37a4.1,4.1 0 1,0 8.2,0a4.1,4.1 0 1,0 -8.2,0M806.2,677.85a4.1,4.1 0 1,0 8.2,0a4.1,4.1 0 1,0 -8.2,0M809.5,681.89a4.1,4.1 0 1,0 8.2,0a4.1,4.1 0 1,0 -8.2,0M812.8,689.21a4.1,4.1 0 1,0 8.2,0a4.1,4.1 0 1,0 -8.2,0M816.1,691.15a4.1,4.1 0 1,0 8.2,0a4.1,4.1 0 1,0 -8.2,0M819.4,697.36a4.1,4.1 0 1,0 8.2,0a4.1,4.1 0 1,0 -8.2,0M822.7,705.55a4.1,4.1 0 1,0 8.2,0a4.1,4.1 0 1,0 -8.2,0M826,711.24a4.1,4.1 0 1,0 8.2,0a4.1,4.1 0 1,0 -8.2,0M829.3,722.74a4.1,4.1 0 1,0 8.2,0a4.1,4.1 0 1,0 -8.2,0M832.6,730.5a4.1,4.1 0 1,0 8.2,0a4.1,4.1 0 1,0 -8.2,0M835.9,741.09a4.1,4.1 0 1,0 8.2,0a4.1,4.1 0 1,0 -8.2,0M839.2,751.5a4.1,4.1 0 1,0 8.2,0a4.1,4.1 0 1,0 -8.2,0M842.5,766.16a4.1,4.1 0 1,0 8.2,0a4.1,4.1 0 1,0 -8.2,0M845.8,781.1a4.1,4.1 0 1,0 8.2,0a4.1,4.1 0 1,0 -8.2,0M849.1,795.24a4.1,4.1 0 1,0 8.2,0a4.1,4.1 0 1,0 -8.2,0M852.4,812.05a4.1,4.1 0 1,0 8.2,0a4.1,4.1 0 1,0 -8.2,0M855.7,828.39a4.1,4.1 0 1,0 8.2,0a4.1,4.1 0 1,0 -8.2,0M859,837.62a4.1,4.1 0 1,0 8.2,0a4.1,4.1 0 1,0 -8.2,0M862.3,845.89a4.1,4.1 0 1,0 8.2,0a4.1,4.1 0 1,0 -8.2,0M865.6,850.59a4.1,4.1 0 1,0 8.2,0a4.1,4.1 0 1,0 -8.2,0M868.9,855.09a4.1,4.1 0 1,0 8.2,0a4.1,4.1 0 1,0 -8.2,0M872.2,852.91a4.1,4.1 0 1,0 8.2,0a4.1,4.1 0 1,0 -8.2,0M875.5,852.1a4.1,4.1 0 1,0 8.2,0a4.1,4.1 0 1,0 -8.2,0M878.8,848.54a4.1,4.1 0 1,0 8.2,0a4.1,4.1 0 1,0 -8.2,0M882.1,846.92a4.1,4.1 0 1,0 8.2,0a4.1,4.1 0 1,0 -8.2,0M885.4,843.75a4.1,4.1 0 1,0 8.2,0a4.1,4.1 0 1,0 -8.2,0M888.7,837.09a4.1,4.1 0 1,0 8.2,0a4.1,4.1 0 1,0 -8.2,0M892,826.98a4.1,4.1 0 1,0 8.2,0a4.1,4.1 0 1,0 -8.2,0M895.3,817.48a4.1,4.1 0 1,0 8.2,0a4.1,4.1 0 1,0 -8.2,0M898.6,806.84a4.1,4.1 0 1,0 8.2,0a4.1,4.1 0 1,0 -8.2,0M901.9,802.59a4.1,4.1 0 1,0 8.2,0a4.1,4.1 0 1,0 -8.2,0M905.2,806.68a4.1,4.1 0 1,0 8.2,0a4.1,4.1 0 1,0 -8.2,0M908.5,802.62a4.1,4.1 0 1,0 8.2,0a4.1,4.1 0 1,0 -8.2,0M911.8,801.91a4.1,4.1 0 1,0 8.2,0a4.1,4.1 0 1,0 -8.2,0M915.1,810.95a4.1,4.1 0 1,0 8.2,0a4.1,4.1 0 1,0 -8.2,0M918.4,818.89a4.1,4.1 0 1,0 8.2,0a4.1,4.1 0 1,0 -8.2,0M921.7,824.54a4.1,4.1 0 1,0 8.2,0a4.1,4.1 0 1,0 -8.2,0M925,831.19a4.1,4.1 0 1,0 8.2,0a4.1,4.1 0 1,0 -8.2,0M928.3,835.33a4.1,4.1 0 1,0 8.2,0a4.1,4.1 0 1,0 -8.2,0M931.6,841.81a4.1,4.1 0 1,0 8.2,0a4.1,4.1 0 1,0 -8.2,0M934.9,850.24a4.1,4.1 0 1,0 8.2,0a4.1,4.1 0 1,0 -8.2,0M938.2,860.52a4.1,4.1 0 1,0 8.2,0a4.1,4.1 0 1,0 -8.2,0M941.5,866.3a4.1,4.1 0 1,0 8.2,0a4.1,4.1 0 1,0 -8.2,0M944.8,875.58a4.1,4.1 0 1,0 8.2,0a4.1,4.1 0 1,0 -8.2,0M948.1,880.52a4.1,4.1 0 1,0 8.2,0a4.1,4.1 0 1,0 -8.2,0M951.4,883.85a4.1,4.1 0 1,0 8.2,0a4.1,4.1 0 1,0 -8.2,0M954.7,886.83a4.1,4.1 0 1,0 8.2,0a4.1,4.1 0 1,0 -8.2,0M958,890.88a4.1,4.1 0 1,0 8.2,0a4.1,4.1 0 1,0 -8.2,0M961.3,899.57a4.1,4.1 0 1,0 8.2,0a4.1,4.1 0 1,0 -8.2,0M964.6,905.66a4.1,4.1 0 1,0 8.2,0a4.1,4.1 0 1,0 -8.2,0M967.9,914.17a4.1,4.1 0 1,0 8.2,0a4.1,4.1 0 1,0 -8.2,0M971.2,923.63a4.1,4.1 0 1,0 8.2,0a4.1,4.1 0 1,0 -8.2,0M974.5,931.6a4.1,4.1 0 1,0 8.2,0a4.1,4.1 0 1,0 -8.2,0M977.8,940.94a4.1,4.1 0 1,0 8.2,0a4.1,4.1 0 1,0 -8.2,0M981.1,948.44a4.1,4.1 0 1,0 8.2,0a4.1,4.1 0 1,0 -8.2,0M984.4,955.77a4.1,4.1 0 1,0 8.2,0a4.1,4.1 0 1,0 -8.2,0M987.7,963.69a4.1,4.1 0 1,0 8.2,0a4.1,4.1 0 1,0 -8.2,0M991,968.79a4.1,4.1 0 1,0 8.2,0a4.1,4.1 0 1,0 -8.2,0M994.3,973a4.1,4.1 0 1,0 8.2,0a4.1,4.1 0 1,0 -8.2,0M997.6,981.39a4.1,4.1 0 1,0 8.2,0a4.1,4.1 0 1,0 -8.2,0M1000.9,986.07a4.1,4.1 0 1,0 8.2,0a4.1,4.1 0 1,0 -8.2,0M1004.2,992.9a4.1,4.1 0 1,0 8.2,0a4.1,4.1 0 1,0 -8.2,0M1007.5,999.34a4.1,4.1 0 1,0 8.2,0a4.1,4.1 0 1,0 -8.2,0M1010.8,1005.31a4.1,4.1 0 1,0 8.2,0a4.1,4.1 0 1,0 -8.2,0M1014.1,1009.77a4.1,4.1 0 1,0 8.2,0a4.1,4.1 0 1,0 -8.2,0M1017.4,1012.84a4.1,4.1 0 1,0 8.2,0a4.1,4.1 0 1,0 -8.2,0M1020.7,1015.15a4.1,4.1 0 1,0 8.2,0a4.1,4.1 0 1,0 -8.2,0M1024,1016.71a4.1,4.1 0 1,0 8.2,0a4.1,4.1 0 1,0 -8.2,0M1027.3,1021.59a4.1,4.1 0 1,0 8.2,0a4.1,4.1 0 1,0 -8.2,0M1030.6,1021.89a4.1,4.1 0 1,0 8.2,0a4.1,4.1 0 1,0 -8.2,0M1033.9,1026.42a4.1,4.1 0 1,0 8.2,0a4.1,4.1 0 1,0 -8.2,0M1037.2,1028.87a4.1,4.1 0 1,0 8.2,0a4.1,4.1 0 1,0 -8.2,0M1040.5,1030.89a4.1,4.1 0 1,0 8.2,0a4.1,4.1 0 1,0 -8.2,0M1043.8,1033.07a4.1,4.1 0 1,0 8.2,0a4.1,4.1 0 1,0 -8.2,0M1047.1,1034.66a4.1,4.1 0 1,0 8.2,0a4.1,4.1 0 1,0 -8.2,0M1050.4,1036.16a4.1,4.1 0 1,0 8.2,0a4.1,4.1 0 1,0 -8.2,0M1053.7,1039.29a4.1,4.1 0 1,0 8.2,0a4.1,4.1 0 1,0 -8.2,0M1057,1041.71a4.1,4.1 0 1,0 8.2,0a4.1,4.1 0 1,0 -8.2,0M1060.3,1042.9a4.1,4.1 0 1,0 8.2,0a4.1,4.1 0 1,0 -8.2,0M1063.6,1043.2a4.1,4.1 0 1,0 8.2,0a4.1,4.1 0 1,0 -8.2,0M1066.9,1046.33a4.1,4.1 0 1,0 8.2,0a4.1,4.1 0 1,0 -8.2,0M1070.2,1046.06a4.1,4.1 0 1,0 8.2,0a4.1,4.1 0 1,0 -8.2,0M1073.5,1048.78a4.1,4.1 0 1,0 8.2,0a4.1,4.1 0 1,0 -8.2,0M1076.8,1051.68a4.1,4.1 0 1,0 8.2,0a4.1,4.1 0 1,0 -8.2,0M1080.1,1051.96a4.1,4.1 0 1,0 8.2,0a4.1,4.1 0 1,0 -8.2,0M1083.4,1050.58a4.1,4.1 0 1,0 8.2,0a4.1,4.1 0 1,0 -8.2,0M1086.7,1051.74a4.1,4.1 0 1,0 8.2,0a4.1,4.1 0 1,0 -8.2,0M1090,1050.7a4.1,4.1 0 1,0 8.2,0a4.1,4.1 0 1,0 -8.2,0M1093.3,1048.53a4.1,4.1 0 1,0 8.2,0a4.1,4.1 0 1,0 -8.2,0M1096.6,1046.07a4.1,4.1 0 1,0 8.2,0a4.1,4.1 0 1,0 -8.2,0M1099.9,1042.66a4.1,4.1 0 1,0 8.2,0a4.1,4.1 0 1,0 -8.2,0M1103.2,1031.97a4.1,4.1 0 1,0 8.2,0a4.1,4.1 0 1,0 -8.2,0M1106.5,1019.51a4.1,4.1 0 1,0 8.2,0a4.1,4.1 0 1,0 -8.2,0M1109.8,1002.34a4.1,4.1 0 1,0 8.2,0a4.1,4.1 0 1,0 -8.2,0M1113.1,983.11a4.1,4.1 0 1,0 8.2,0a4.1,4.1 0 1,0 -8.2,0M1116.4,955.72a4.1,4.1 0 1,0 8.2,0a4.1,4.1 0 1,0 -8.2,0M1119.7,926.7a4.1,4.1 0 1,0 8.2,0a4.1,4.1 0 1,0 -8.2,0M1123,900.56a4.1,4.1 0 1,0 8.2,0a4.1,4.1 0 1,0 -8.2,0M1126.3,874.94a4.1,4.1 0 1,0 8.2,0a4.1,4.1 0 1,0 -8.2,0M1129.6,849.99a4.1,4.1 0 1,0 8.2,0a4.1,4.1 0 1,0 -8.2,0M1132.9,826.52a4.1,4.1 0 1,0 8.2,0a4.1,4.1 0 1,0 -8.2,0M1136.2,812.89a4.1,4.1 0 1,0 8.2,0a4.1,4.1 0 1,0 -8.2,0M1139.5,814.6a4.1,4.1 0 1,0 8.2,0a4.1,4.1 0 1,0 -8.2,0M1142.8,817.23a4.1,4.1 0 1,0 8.2,0a4.1,4.1 0 1,0 -8.2,0M1146.1,821.34a4.1,4.1 0 1,0 8.2,0a4.1,4.1 0 1,0 -8.2,0M1149.4,829.53a4.1,4.1 0 1,0 8.2,0a4.1,4.1 0 1,0 -8.2,0M1152.7,835.66a4.1,4.1 0 1,0 8.2,0a4.1,4.1 0 1,0 -8.2,0M1156,841.22a4.1,4.1 0 1,0 8.2,0a4.1,4.1 0 1,0 -8.2,0M1159.3,851.87a4.1,4.1 0 1,0 8.2,0a4.1,4.1 0 1,0 -8.2,0M1162.6,867.02a4.1,4.1 0 1,0 8.2,0a4.1,4.1 0 1,0 -8.2,0M1165.9,870.57a4.1,4.1 0 1,0 8.2,0a4.1,4.1 0 1,0 -8.2,0M1169.2,875.19a4.1,4.1 0 1,0 8.2,0a4.1,4.1 0 1,0 -8.2,0M1172.5,880.77a4.1,4.1 0 1,0 8.2,0a4.1,4.1 0 1,0 -8.2,0M1175.8,886.16a4.1,4.1 0 1,0 8.2,0a4.1,4.1 0 1,0 -8.2,0M1179.1,893.53a4.1,4.1 0 1,0 8.2,0a4.1,4.1 0 1,0 -8.2,0M1182.4,897.01a4.1,4.1 0 1,0 8.2,0a4.1,4.1 0 1,0 -8.2,0M1185.7,902.83a4.1,4.1 0 1,0 8.2,0a4.1,4.1 0 1,0 -8.2,0M1189,907.77a4.1,4.1 0 1,0 8.2,0a4.1,4.1 0 1,0 -8.2,0M1192.3,914.37a4.1,4.1 0 1,0 8.2,0a4.1,4.1 0 1,0 -8.2,0M1195.6,919.06a4.1,4.1 0 1,0 8.2,0a4.1,4.1 0 1,0 -8.2,0M1198.9,924.97a4.1,4.1 0 1,0 8.2,0a4.1,4.1 0 1,0 -8.2,0M1202.2,931.64a4.1,4.1 0 1,0 8.2,0a4.1,4.1 0 1,0 -8.2,0M1205.5,937.71a4.1,4.1 0 1,0 8.2,0a4.1,4.1 0 1,0 -8.2,0M1208.8,942.19a4.1,4.1 0 1,0 8.2,0a4.1,4.1 0 1,0 -8.2,0M1212.1,944.24a4.1,4.1 0 1,0 8.2,0a4.1,4.1 0 1,0 -8.2,0M1215.4,949.69a4.1,4.1 0 1,0 8.2,0a4.1,4.1 0 1,0 -8.2,0M1218.7,955.49a4.1,4.1 0 1,0 8.2,0a4.1,4.1 0 1,0 -8.2,0M1222,957.4a4.1,4.1 0 1,0 8.2,0a4.1,4.1 0 1,0 -8.2,0M1225.3,962.26a4.1,4.1 0 1,0 8.2,0a4.1,4.1 0 1,0 -8.2,0M1228.6,966.98a4.1,4.1 0 1,0 8.2,0a4.1,4.1 0 1,0 -8.2,0M1231.9,969.98a4.1,4.1 0 1,0 8.2,0a4.1,4.1 0 1,0 -8.2,0M1235.2,974.41a4.1,4.1 0 1,0 8.2,0a4.1,4.1 0 1,0 -8.2,0M1238.5,977.64a4.1,4.1 0 1,0 8.2,0a4.1,4.1 0 1,0 -8.2,0M1241.8,979.29a4.1,4.1 0 1,0 8.2,0a4.1,4.1 0 1,0 -8.2,0M1245.1,979.46a4.1,4.1 0 1,0 8.2,0a4.1,4.1 0 1,0 -8.2,0M1248.4,980.23a4.1,4.1 0 1,0 8.2,0a4.1,4.1 0 1,0 -8.2,0M1251.7,981.15a4.1,4.1 0 1,0 8.2,0a4.1,4.1 0 1,0 -8.2,0M1255,981.02a4.1,4.1 0 1,0 8.2,0a4.1,4.1 0 1,0 -8.2,0M1258.3,982a4.1,4.1 0 1,0 8.2,0a4.1,4.1 0 1,0 -8.2,0M1261.6,979.65a4.1,4.1 0 1,0 8.2,0a4.1,4.1 0 1,0 -8.2,0M1264.9,981.02a4.1,4.1 0 1,0 8.2,0a4.1,4.1 0 1,0 -8.2,0M1268.2,979.23a4.1,4.1 0 1,0 8.2,0a4.1,4.1 0 1,0 -8.2,0M1271.5,974.14a4.1,4.1 0 1,0 8.2,0a4.1,4.1 0 1,0 -8.2,0M1274.8,972.13a4.1,4.1 0 1,0 8.2,0a4.1,4.1 0 1,0 -8.2,0M1278.1,969.11a4.1,4.1 0 1,0 8.2,0a4.1,4.1 0 1,0 -8.2,0M1281.4,973.96a4.1,4.1 0 1,0 8.2,0a4.1,4.1 0 1,0 -8.2,0" fill="#f08080" stroke="#e83030" stroke-width="1.1"/>
<polyline points="807,676.27 810.3,679.28 813.6,683.5 816.9,685.46 820.2,691.38 823.5,697.27 826.8,704.19 830.1,709.59 833.4,719.65 836.7,730.14 840,737.87 843.3,750.91 846.6,763.43 849.9,777.56 853.2,794.32 856.5,809.54 859.8,826.8 863.1,841.03 866.4,850.24 869.7,858.35 873,867.96 876.3,865.54 879.6,862.63 882.9,858.9 886.2,855.17 889.5,848.56 892.8,839.04 896.1,824.92 899.4,813.53 902.7,802.27 906,796.56 909.3,796.24 912.6,797.17 915.9,797.66 919.2,806.31 922.5,815.2 925.8,823.51 929.1,827.43 932.4,832.71 935.7,841.23 939,851.54 942.3,858.51 945.6,865.54 948.9,872.1 952.2,878.12 955.5,882.13 958.8,886.32 962.1,890.36 965.4,896.81 968.7,904.85 972,912.91 975.3,921.79 978.6,932.04 981.9,939.8 985.2,946.58 988.5,953.79 991.8,963.02 995.1,968.33 998.4,974.22 1001.7,978.11 1005,985.64 1008.3,993.36 1011.6,998.91 1014.9,1004.36 1018.2,1006.41 1021.5,1013.23 1024.8,1013.12 1028.1,1016.67 1031.4,1017.97 1034.7,1022.8 1038,1025.84 1041.3,1029.74 1044.6,1031.32 1047.9,1033.84 1051.2,1034.7 1054.5,1038.01 1057.8,1038.93 1061.1,1039.36 1064.4,1042.88 1067.7,1042.73 1071,1043.83 1074.3,1045.13 1077.6,1047.95 1080.9,1048.79 1084.2,1051 1087.5,1051.05 1090.8,1048.85 1094.1,1048.51 1097.4,1047.55 1100.7,1043.83 1104,1040.32 1107.3,1031.18 1110.6,1017.85 1113.9,1000.43 1117.2,982.89 1120.5,954.99 1123.8,924.37 1127.1,895.22 1130.4,862.46 1133.7,830.01 1137,801.94 1140.3,779.29 1143.6,774.69 1146.9,776.18 1150.2,786.45 1153.5,798.51 1156.8,812.33 1160.1,825.49 1163.4,842.25 1166.7,857.56 1170,868.01 1173.3,876.32 1176.6,879.45 1179.9,886.29 1183.2,890.93 1186.5,897.14 1189.8,903.5 1193.1,907.23 1196.4,914.81 1199.7,917.67 1203,924.62 1206.3,930.06 1209.6,934.64 1212.9,940.37 1216.2,944.53 1219.5,948.9 1222.8,954.1 1226.1,956.31 1229.4,961.79 1232.7,966.87 1236,968.26 1239.3,973.76 1242.6,975.1 1245.9,978.94 1249.2,978.24 1252.5,979.88 1255.8,980.62 1259.1,980.07 1262.4,981.1 1265.7,979.62 1269,979.42 1272.3,977.91 1275.6,974.63 1278.9,971.21 1282.2,967.19 1285.5,975.53" fill="none" stroke="#20d020" stroke-width="1" stroke-linejoin="round"/>
<path d="M802.9,676.27a4.1,4.1 0 1,0 8.2,0a4.1,4.1 0 1,0 -8.2,0M806.2,679.28a4.1,4.1 0 1,0 8.2,0a4.1,4.1 0 1,0 -8.2,0M809.5,683.5a4.1,4.1 0 1,0 8.2,0a4.1,4.1 0 1,0 -8.2,0M812.8,685.46a4.1,4.1 0 1,0 8.2,0a4.1,4.1 0 1,0 -8.2,0M816.1,691.38a4.1,4.1 0 1,0 8.2,0a4.1,4.1 0 1,0 -8.2,0M819.4,697.27a4.1,4.1 0 1,0 8.2,0a4.1,4.1 0 1,0 -8.2,0M822.7,704.19a4.1,4.1 0 1,0 8.2,0a4.1,4.1 0 1,0 -8.2,0M826,709.59a4.1,4.1 0 1,0 8.2,0a4.1,4.1 0 1,0 -8.2,0M829.3,719.65a4.1,4.1 0 1,0 8.2,0a4.1,4.1 0 1,0 -8.2,0M832.6,730.14a4.1,4.1 0 1,0 8.2,0a4.1,4.1 0 1,0 -8.2,0M835.9,737.87a4.1,4.1 0 1,0 8.2,0a4.1,4.1 0 1,0 -8.2,0M839.2,750.91a4.1,4.1 0 1,0 8.2,0a4.1,4.1 0 1,0 -8.2,0M842.5,763.43a4.1,4.1 0 1,0 8.2,0a4.1,4.1 0 1,0 -8.2,0M845.8,777.56a4.1,4.1 0 1,0 8.2,0a4.1,4.1 0 1,0 -8.2,0M849.1,794.32a4.1,4.1 0 1,0 8.2,0a4.1,4.1 0 1,0 -8.2,0M852.4,809.54a4.1,4.1 0 1,0 8.2,0a4.1,4.1 0 1,0 -8.2,0M855.7,826.8a4.1,4.1 0 1,0 8.2,0a4.1,4.1 0 1,0 -8.2,0M859,841.03a4.1,4.1 0 1,0 8.2,0a4.1,4.1 0 1,0 -8.2,0M862.3,850.24a4.1,4.1 0 1,0 8.2,0a4.1,4.1 0 1,0 -8.2,0M865.6,858.35a4.1,4.1 0 1,0 8.2,0a4.1,4.1 0 1,0 -8.2,0M868.9,867.96a4.1,4.1 0 1,0 8.2,0a4.1,4.1 0 1,0 -8.2,0M872.2,865.54a4.1,4.1 0 1,0 8.2,0a4.1,4.1 0 1,0 -8.2,0M875.5,862.63a4.1,4.1 0 1,0 8.2,0a4.1,4.1 0 1,0 -8.2,0M878.8,858.9a4.1,4.1 0 1,0 8.2,0a4.1,4.1 0 1,0 -8.2,0M882.1,855.17a4.1,4.1 0 1,0 8.2,0a4.1,4.1 0 1,0 -8.2,0M885.4,848.56a4.1,4.1 0 1,0 8.2,0a4.1,4.1 0 1,0 -8.2,0M888.7,839.04a4.1,4.1 0 1,0 8.2,0a4.1,4.1 0 1,0 -8.2,0M892,824.92a4.1,4.1 0 1,0 8.2,0a4.1,4.1 0 1,0 -8.2,0M895.3,813.53a4.1,4.1 0 1,0 8.2,0a4.1,4.1 0 1,0 -8.2,0M898.6,802.27a4.1,4.1 0 1,0 8.2,0a4.1,4.1 0 1,0 -8.2,0M901.9,796.56a4.1,4.1 0 1,0 8.2,0a4.1,4.1 0 1,0 -8.2,0M905.2,796.24a4.1,4.1 0 1,0 8.2,0a4.1,4.1 0 1,0 -8.2,0M908.5,797.17a4.1,4.1 0 1,0 8.2,0a4.1,4.1 0 1,0 -8.2,0M911.8,797.66a4.1,4.1 0 1,0 8.2,0a4.1,4.1 0 1,0 -8.2,0M915.1,806.31a4.1,4.1 0 1,0 8.2,0a4.1,4.1 0 1,0 -8.2,0M918.4,815.2a4.1,4.1 0 1,0 8.2,0a4.1,4.1 0 1,0 -8.2,0M921.7,823.51a4.1,4.1 0 1,0 8.2,0a4.1,4.1 0 1,0 -8.2,0M925,827.43a4.1,4.1 0 1,0 8.2,0a4.1,4.1 0 1,0 -8.2,0M928.3,832.71a4.1,4.1 0 1,0 8.2,0a4.1,4.1 0 1,0 -8.2,0M931.6,841.23a4.1,4.1 0 1,0 8.2,0a4.1,4.1 0 1,0 -8.2,0M934.9,851.54a4.1,4.1 0 1,0 8.2,0a4.1,4.1 0 1,0 -8.2,0M938.2,858.51a4.1,4.1 0 1,0 8.2,0a4.1,4.1 0 1,0 -8.2,0M941.5,865.54a4.1,4.1 0 1,0 8.2,0a4.1,4.1 0 1,0 -8.2,0M944.8,872.1a4.1,4.1 0 1,0 8.2,0a4.1,4.1 0 1,0 -8.2,0M948.1,878.12a4.1,4.1 0 1,0 8.2,0a4.1,4.1 0 1,0 -8.2,0M951.4,882.13a4.1,4.1 0 1,0 8.2,0a4.1,4.1 0 1,0 -8.2,0M954.7,886.32a4.1,4.1 0 1,0 8.2,0a4.1,4.1 0 1,0 -8.2,0M958,890.36a4.1,4.1 0 1,0 8.2,0a4.1,4.1 0 1,0 -8.2,0M961.3,896.81a4.1,4.1 0 1,0 8.2,0a4.1,4.1 0 1,0 -8.2,0M964.6,904.85a4.1,4.1 0 1,0 8.2,0a4.1,4.1 0 1,0 -8.2,0M967.9,912.91a4.1,4.1 0 1,0 8.2,0a4.1,4.1 0 1,0 -8.2,0M971.2,921.79a4.1,4.1 0 1,0 8.2,0a4.1,4.1 0 1,0 -8.2,0M974.5,932.04a4.1,4.1 0 1,0 8.2,0a4.1,4.1 0 1,0 -8.2,0M977.8,939.8a4.1,4.1 0 1,0 8.2,0a4.1,4.1 0 1,0 -8.2,0M981.1,946.58a4.1,4.1 0 1,0 8.2,0a4.1,4.1 0 1,0 -8.2,0M984.4,953.79a4.1,4.1 0 1,0 8.2,0a4.1,4.1 0 1,0 -8.2,0M987.7,963.02a4.1,4.1 0 1,0 8.2,0a4.1,4.1 0 1,0 -8.2,0M991,968.33a4.1,4.1 0 1,0 8.2,0a4.1,4.1 0 1,0 -8.2,0M994.3,974.22a4.1,4.1 0 1,0 8.2,0a4.1,4.1 0 1,0 -8.2,0M997.6,978.11a4.1,4.1 0 1,0 8.2,0a4.1,4.1 0 1,0 -8.2,0M1000.9,985.64a4.1,4.1 0 1,0 8.2,0a4.1,4.1 0 1,0 -8.2,0M1004.2,993.36a4.1,4.1 0 1,0 8.2,0a4.1,4.1 0 1,0 -8.2,0M1007.5,998.91a4.1,4.1 0 1,0 8.2,0a4.1,4.1 0 1,0 -8.2,0M1010.8,1004.36a4.1,4.1 0 1,0 8.2,0a4.1,4.1 0 1,0 -8.2,0M1014.1,1006.41a4.1,4.1 0 1,0 8.2,0a4.1,4.1 0 1,0 -8.2,0M1017.4,1013.23a4.1,4.1 0 1,0 8.2,0a4.1,4.1 0 1,0 -8.2,0M1020.7,1013.12a4.1,4.1 0 1,0 8.2,0a4.1,4.1 0 1,0 -8.2,0M1024,1016.67a4.1,4.1 0 1,0 8.2,0a4.1,4.1 0 1,0 -8.2,0M1027.3,1017.97a4.1,4.1 0 1,0 8.2,0a4.1,4.1 0 1,0 -8.2,0M1030.6,1022.8a4.1,4.1 0 1,0 8.2,0a4.1,4.1 0 1,0 -8.2,0M1033.9,1025.84a4.1,4.1 0 1,0 8.2,0a4.1,4.1 0 1,0 -8.2,0M1037.2,1029.74a4.1,4.1 0 1,0 8.2,0a4.1,4.1 0 1,0 -8.2,0M1040.5,1031.32a4.1,4.1 0 1,0 8.2,0a4.1,4.1 0 1,0 -8.2,0M1043.8,1033.84a4.1,4.1 0 1,0 8.2,0a4.1,4.1 0 1,0 -8.2,0M1047.1,1034.7a4.1,4.1 0 1,0 8.2,0a4.1,4.1 0 1,0 -8.2,0M1050.4,1038.01a4.1,4.1 0 1,0 8.2,0a4.1,4.1 0 1,0 -8.2,0M1053.7,1038.93a4.1,4.1 0 1,0 8.2,0a4.1,4.1 0 1,0 -8.2,0M1057,1039.36a4.1,4.1 0 1,0 8.2,0a4.1,4.1 0 1,0 -8.2,0M1060.3,1042.88a4.1,4.1 0 1,0 8.2,0a4.1,4.1 0 1,0 -8.2,0M1063.6,1042.73a4.1,4.1 0 1,0 8.2,0a4.1,4.1 0 1,0 -8.2,0M1066.9,1043.83a4.1,4.1 0 1,0 8.2,0a4.1,4.1 0 1,0 -8.2,0M1070.2,1045.13a4.1,4.1 0 1,0 8.2,0a4.1,4.1 0 1,0 -8.2,0M1073.5,1047.95a4.1,4.1 0 1,0 8.2,0a4.1,4.1 0 1,0 -8.2,0M1076.8,1048.79a4.1,4.1 0 1,0 8.2,0a4.1,4.1 0 1,0 -8.2,0M1080.1,1051a4.1,4.1 0 1,0 8.2,0a4.1,4.1 0 1,0 -8.2,0M1083.4,1051.05a4.1,4.1 0 1,0 8.2,0a4.1,4.1 0 1,0 -8.2,0M1086.7,1048.85a4.1,4.1 0 1,0 8.2,0a4.1,4.1 0 1,0 -8.2,0M1090,1048.51a4.1,4.1 0 1,0 8.2,0a4.1,4.1 0 1,0 -8.2,0M1093.3,1047.55a4.1,4.1 0 1,0 8.2,0a4.1,4.1 0 1,0 -8.2,0M1096.6,1043.83a4.1,4.1 0 1,0 8.2,0a4.1,4.1 0 1,0 -8.2,0M1099.9,1040.32a4.1,4.1 0 1,0 8.2,0a4.1,4.1 0 1,0 -8.2,0M1103.2,1031.18a4.1,4.1 0 1,0 8.2,0a4.1,4.1 0 1,0 -8.2,0M1106.5,1017.85a4.1,4.1 0 1,0 8.2,0a4.1,4.1 0 1,0 -8.2,0M1109.8,1000.43a4.1,4.1 0 1,0 8.2,0a4.1,4.1 0 1,0 -8.2,0M1113.1,982.89a4.1,4.1 0 1,0 8.2,0a4.1,4.1 0 1,0 -8.2,0M1116.4,954.99a4.1,4.1 0 1,0 8.2,0a4.1,4.1 0 1,0 -8.2,0M1119.7,924.37a4.1,4.1 0 1,0 8.2,0a4.1,4.1 0 1,0 -8.2,0M1123,895.22a4.1,4.1 0 1,0 8.2,0a4.1,4.1 0 1,0 -8.2,0M1126.3,862.46a4.1,4.1 0 1,0 8.2,0a4.1,4.1 0 1,0 -8.2,0M1129.6,830.01a4.1,4.1 0 1,0 8.2,0a4.1,4.1 0 1,0 -8.2,0M1132.9,801.94a4.1,4.1 0 1,0 8.2,0a4.1,4.1 0 1,0 -8.2,0M1136.2,779.29a4.1,4.1 0 1,0 8.2,0a4.1,4.1 0 1,0 -8.2,0M1139.5,774.69a4.1,4.1 0 1,0 8.2,0a4.1,4.1 0 1,0 -8.2,0M1142.8,776.18a4.1,4.1 0 1,0 8.2,0a4.1,4.1 0 1,0 -8.2,0M1146.1,786.45a4.1,4.1 0 1,0 8.2,0a4.1,4.1 0 1,0 -8.2,0M1149.4,798.51a4.1,4.1 0 1,0 8.2,0a4.1,4.1 0 1,0 -8.2,0M1152.7,812.33a4.1,4.1 0 1,0 8.2,0a4.1,4.1 0 1,0 -8.2,0M1156,825.49a4.1,4.1 0 1,0 8.2,0a4.1,4.1 0 1,0 -8.2,0M1159.3,842.25a4.1,4.1 0 1,0 8.2,0a4.1,4.1 0 1,0 -8.2,0M1162.6,857.56a4.1,4.1 0 1,0 8.2,0a4.1,4.1 0 1,0 -8.2,0M1165.9,868.01a4.1,4.1 0 1,0 8.2,0a4.1,4.1 0 1,0 -8.2,0M1169.2,876.32a4.1,4.1 0 1,0 8.2,0a4.1,4.1 0 1,0 -8.2,0M1172.5,879.45a4.1,4.1 0 1,0 8.2,0a4.1,4.1 0 1,0 -8.2,0M1175.8,886.29a4.1,4.1 0 1,0 8.2,0a4.1,4.1 0 1,0 -8.2,0M1179.1,890.93a4.1,4.1 0 1,0 8.2,0a4.1,4.1 0 1,0 -8.2,0M1182.4,897.14a4.1,4.1 0 1,0 8.2,0a4.1,4.1 0 1,0 -8.2,0M1185.7,903.5a4.1,4.1 0 1,0 8.2,0a4.1,4.1 0 1,0 -8.2,0M1189,907.23a4.1,4.1 0 1,0 8.2,0a4.1,4.1 0 1,0 -8.2,0M1192.3,914.81a4.1,4.1 0 1,0 8.2,0a4.1,4.1 0 1,0 -8.2,0M1195.6,917.67a4.1,4.1 0 1,0 8.2,0a4.1,4.1 0 1,0 -8.2,0M1198.9,924.62a4.1,4.1 0 1,0 8.2,0a4.1,4.1 0 1,0 -8.2,0M1202.2,930.06a4.1,4.1 0 1,0 8.2,0a4.1,4.1 0 1,0 -8.2,0M1205.5,934.64a4.1,4.1 0 1,0 8.2,0a4.1,4.1 0 1,0 -8.2,0M1208.8,940.37a4.1,4.1 0 1,0 8.2,0a4.1,4.1 0 1,0 -8.2,0M1212.1,944.53a4.1,4.1 0 1,0 8.2,0a4.1,4.1 0 1,0 -8.2,0M1215.4,948.9a4.1,4.1 0 1,0 8.2,0a4.1,4.1 0 1,0 -8.2,0M1218.7,954.1a4.1,4.1 0 1,0 8.2,0a4.1,4.1 0 1,0 -8.2,0M1222,956.31a4.1,4.1 0 1,0 8.2,0a4.1,4.1 0 1,0 -8.2,0M1225.3,961.79a4.1,4.1 0 1,0 8.2,0a4.1,4.1 0 1,0 -8.2,0M1228.6,966.87a4.1,4.1 0 1,0 8.2,0a4.1,4.1 0 1,0 -8.2,0M1231.9,968.26a4.1,4.1 0 1,0 8.2,0a4.1,4.1 0 1,0 -8.2,0M1235.2,973.76a4.1,4.1 0 1,0 8.2,0a4.1,4.1 0 1,0 -8.2,0M1238.5,975.1a4.1,4.1 0 1,0 8.2,0a4.1,4.1 0 1,0 -8.2,0M1241.8,978.94a4.1,4.1 0 1,0 8.2,0a4.1,4.1 0 1,0 -8.2,0M1245.1,978.24a4.1,4.1 0 1,0 8.2,0a4.1,4.1 0 1,0 -8.2,0M1248.4,979.88a4.1,4.1 0 1,0 8.2,0a4.1,4.1 0 1,0 -8.2,0M1251.7,980.62a4.1,4.1 0 1,0 8.2,0a4.1,4.1 0 1,0 -8.2,0M1255,980.07a4.1,4.1 0 1,0 8.2,0a4.1,4.1 0 1,0 -8.2,0M1258.3,981.1a4.1,4.1 0 1,0 8.2,0a4.1,4.1 0 1,0 -8.2,0M1261.6,979.62a4.1,4.1 0 1,0 8.2,0a4.1,4.1 0 1,0 -8.2,0M1264.9,979.42a4.1,4.1 0 1,0 8.2,0a4.1,4.1 0 1,0 -8.2,0M1268.2,977.91a4.1,4.1 0 1,0 8.2,0a4.1,4.1 0 1,0 -8.2,0M1271.5,974.63a4.1,4.1 0 1,0 8.2,0a4.1,4.1 0 1,0 -8.2,0M1274.8,971.21a4.1,4.1 0 1,0 8.2,0a4.1,4.1 0 1,0 -8.2,0M1278.1,967.19a4.1,4.1 0 1,0 8.2,0a4.1,4.1 0 1,0 -8.2,0M1281.4,975.53a4.1,4.1 0 1,0 8.2,0a4.1,4.1 0 1,0 -8.2,0" fill="#80e080" stroke="#20d020" stroke-width="1.1"/>
<polyline points="807,673.63 810.3,678.21 813.6,682.35 816.9,684.85 820.2,691.22 823.5,696.91 826.8,701.73 830.1,711.06 833.4,718.84 836.7,728.73 840,737.48 843.3,750.31 846.6,762.73 849.9,778.36 853.2,793.68 856.5,808.82 859.8,826.65 863.1,841.15 866.4,854.9 869.7,864.07 873,873.23 876.3,871.71 879.6,867.31 882.9,865.81 886.2,858.82 889.5,851.23 892.8,837.81 896.1,819.11 899.4,802.58 902.7,787.81 906,779.95 909.3,774.66 912.6,781.09 915.9,785.89 919.2,795.16 922.5,808 925.8,815.02 929.1,823.28 932.4,833.08 935.7,839.92 939,849.36 942.3,858.6 945.6,865.51 948.9,872.28 952.2,878.51 955.5,881.75 958.8,883.77 962.1,889.35 965.4,895.67 968.7,902.88 972,912.27 975.3,922.32 978.6,930.6 981.9,938.52 985.2,946.24 988.5,953.13 991.8,961.53 995.1,966.26 998.4,970.93 1001.7,976.79 1005,983.28 1008.3,991.65 1011.6,998.78 1014.9,1002.79 1018.2,1005.57 1021.5,1009.74 1024.8,1014.8 1028.1,1015.55 1031.4,1017.4 1034.7,1021.09 1038,1024.64 1041.3,1027.44 1044.6,1029.26 1047.9,1030.91 1051.2,1033.57 1054.5,1035.42 1057.8,1037.73 1061.1,1038.67 1064.4,1040.03 1067.7,1043.56 1071,1042.58 1074.3,1046.17 1077.6,1046.8 1080.9,1049.62 1084.2,1049.32 1087.5,1048.9 1090.8,1049.03 1094.1,1047.89 1097.4,1045.01 1100.7,1044.56 1104,1038.46 1107.3,1028.07 1110.6,1018.53 1113.9,999.93 1117.2,979.28 1120.5,954.21 1123.8,922.83 1127.1,891.84 1130.4,853.56 1133.7,819.12 1137,786.94 1140.3,759.76 1143.6,751.56 1146.9,752.97 1150.2,766.47 1153.5,781.78 1156.8,799.82 1160.1,816.1 1163.4,833.66 1166.7,853.05 1170,866.37 1173.3,873.49 1176.6,879.78 1179.9,885.98 1183.2,891.61 1186.5,894.98 1189.8,900.22 1193.1,908.22 1196.4,911.94 1199.7,916.94 1203,924.33 1206.3,928.23 1209.6,935.09 1212.9,939.76 1216.2,943 1219.5,947.94 1222.8,951.81 1226.1,957.72 1229.4,960.51 1232.7,964.33 1236,969.41 1239.3,970.99 1242.6,974.79 1245.9,977.45 1249.2,976.72 1252.5,978.4 1255.8,980.59 1259.1,981.77 1262.4,979.03 1265.7,978.61 1269,976.52 1272.3,976.76 1275.6,973.04 1278.9,970.14 1282.2,966.2 1285.5,972.78" fill="none" stroke="#2a2ae0" stroke-width="1" stroke-linejoin="round"/>
<path d="M802.9,673.63a4.1,4.1 0 1,0 8.2,0a4.1,4.1 0 1,0 -8.2,0M806.2,678.21a4.1,4.1 0 1,0 8.2,0a4.1,4.1 0 1,0 -8.2,0M809.5,682.35a4.1,4.1 0 1,0 8.2,0a4.1,4.1 0 1,0 -8.2,0M812.8,684.85a4.1,4.1 0 1,0 8.2,0a4.1,4.1 0 1,0 -8.2,0M816.1,691.22a4.1,4.1 0 1,0 8.2,0a4.1,4.1 0 1,0 -8.2,0M819.4,696.91a4.1,4.1 0 1,0 8.2,0a4.1,4.1 0 1,0 -8.2,0M822.7,701.73a4.1,4.1 0 1,0 8.2,0a4.1,4.1 0 1,0 -8.2,0M826,711.06a4.1,4.1 0 1,0 8.2,0a4.1,4.1 0 1,0 -8.2,0M829.3,718.84a4.1,4.1 0 1,0 8.2,0a4.1,4.1 0 1,0 -8.2,0M832.6,728.73a4.1,4.1 0 1,0 8.2,0a4.1,4.1 0 1,0 -8.2,0M835.9,737.48a4.1,4.1 0 1,0 8.2,0a4.1,4.1 0 1,0 -8.2,0M839.2,750.31a4.1,4.1 0 1,0 8.2,0a4.1,4.1 0 1,0 -8.2,0M842.5,762.73a4.1,4.1 0 1,0 8.2,0a4.1,4.1 0 1,0 -8.2,0M845.8,778.36a4.1,4.1 0 1,0 8.2,0a4.1,4.1 0 1,0 -8.2,0M849.1,793.68a4.1,4.1 0 1,0 8.2,0a4.1,4.1 0 1,0 -8.2,0M852.4,808.82a4.1,4.1 0 1,0 8.2,0a4.1,4.1 0 1,0 -8.2,0M855.7,826.65a4.1,4.1 0 1,0 8.2,0a4.1,4.1 0 1,0 -8.2,0M859,841.15a4.1,4.1 0 1,0 8.2,0a4.1,4.1 0 1,0 -8.2,0M862.3,854.9a4.1,4.1 0 1,0 8.2,0a4.1,4.1 0 1,0 -8.2,0M865.6,864.07a4.1,4.1 0 1,0 8.2,0a4.1,4.1 0 1,0 -8.2,0M868.9,873.23a4.1,4.1 0 1,0 8.2,0a4.1,4.1 0 1,0 -8.2,0M872.2,871.71a4.1,4.1 0 1,0 8.2,0a4.1,4.1 0 1,0 -8.2,0M875.5,867.31a4.1,4.1 0 1,0 8.2,0a4.1,4.1 0 1,0 -8.2,0M878.8,865.81a4.1,4.1 0 1,0 8.2,0a4.1,4.1 0 1,0 -8.2,0M882.1,858.82a4.1,4.1 0 1,0 8.2,0a4.1,4.1 0 1,0 -8.2,0M885.4,851.23a4.1,4.1 0 1,0 8.2,0a4.1,4.1 0 1,0 -8.2,0M888.7,837.81a4.1,4.1 0 1,0 8.2,0a4.1,4.1 0 1,0 -8.2,0M892,819.11a4.1,4.1 0 1,0 8.2,0a4.1,4.1 0 1,0 -8.2,0M895.3,802.58a4.1,4.1 0 1,0 8.2,0a4.1,4.1 0 1,0 -8.2,0M898.6,787.81a4.1,4.1 0 1,0 8.2,0a4.1,4.1 0 1,0 -8.2,0M901.9,779.95a4.1,4.1 0 1,0 8.2,0a4.1,4.1 0 1,0 -8.2,0M905.2,774.66a4.1,4.1 0 1,0 8.2,0a4.1,4.1 0 1,0 -8.2,0M908.5,781.09a4.1,4.1 0 1,0 8.2,0a4.1,4.1 0 1,0 -8.2,0M911.8,785.89a4.1,4.1 0 1,0 8.2,0a4.1,4.1 0 1,0 -8.2,0M915.1,795.16a4.1,4.1 0 1,0 8.2,0a4.1,4.1 0 1,0 -8.2,0M918.4,808a4.1,4.1 0 1,0 8.2,0a4.1,4.1 0 1,0 -8.2,0M921.7,815.02a4.1,4.1 0 1,0 8.2,0a4.1,4.1 0 1,0 -8.2,0M925,823.28a4.1,4.1 0 1,0 8.2,0a4.1,4.1 0 1,0 -8.2,0M928.3,833.08a4.1,4.1 0 1,0 8.2,0a4.1,4.1 0 1,0 -8.2,0M931.6,839.92a4.1,4.1 0 1,0 8.2,0a4.1,4.1 0 1,0 -8.2,0M934.9,849.36a4.1,4.1 0 1,0 8.2,0a4.1,4.1 0 1,0 -8.2,0M938.2,858.6a4.1,4.1 0 1,0 8.2,0a4.1,4.1 0 1,0 -8.2,0M941.5,865.51a4.1,4.1 0 1,0 8.2,0a4.1,4.1 0 1,0 -8.2,0M944.8,872.28a4.1,4.1 0 1,0 8.2,0a4.1,4.1 0 1,0 -8.2,0M948.1,878.51a4.1,4.1 0 1,0 8.2,0a4.1,4.1 0 1,0 -8.2,0M951.4,881.75a4.1,4.1 0 1,0 8.2,0a4.1,4.1 0 1,0 -8.2,0M954.7,883.77a4.1,4.1 0 1,0 8.2,0a4.1,4.1 0 1,0 -8.2,0M958,889.35a4.1,4.1 0 1,0 8.2,0a4.1,4.1 0 1,0 -8.2,0M961.3,895.67a4.1,4.1 0 1,0 8.2,0a4.1,4.1 0 1,0 -8.2,0M964.6,902.88a4.1,4.1 0 1,0 8.2,0a4.1,4.1 0 1,0 -8.2,0M967.9,912.27a4.1,4.1 0 1,0 8.2,0a4.1,4.1 0 1,0 -8.2,0M971.2,922.32a4.1,4.1 0 1,0 8.2,0a4.1,4.1 0 1,0 -8.2,0M974.5,930.6a4.1,4.1 0 1,0 8.2,0a4.1,4.1 0 1,0 -8.2,0M977.8,938.52a4.1,4.1 0 1,0 8.2,0a4.1,4.1 0 1,0 -8.2,0M981.1,946.24a4.1,4.1 0 1,0 8.2,0a4.1,4.1 0 1,0 -8.2,0M984.4,953.13a4.1,4.1 0 1,0 8.2,0a4.1,4.1 0 1,0 -8.2,0M987.7,961.53a4.1,4.1 0 1,0 8.2,0a4.1,4.1 0 1,0 -8.2,0M991,966.26a4.1,4.1 0 1,0 8.2,0a4.1,4.1 0 1,0 -8.2,0M994.3,970.93a4.1,4.1 0 1,0 8.2,0a4.1,4.1 0 1,0 -8.2,0M997.6,976.79a4.1,4.1 0 1,0 8.2,0a4.1,4.1 0 1,0 -8.2,0M1000.9,983.28a4.1,4.1 0 1,0 8.2,0a4.1,4.1 0 1,0 -8.2,0M1004.2,991.65a4.1,4.1 0 1,0 8.2,0a4.1,4.1 0 1,0 -8.2,0M1007.5,998.78a4.1,4.1 0 1,0 8.2,0a4.1,4.1 0 1,0 -8.2,0M1010.8,1002.79a4.1,4.1 0 1,0 8.2,0a4.1,4.1 0 1,0 -8.2,0M1014.1,1005.57a4.1,4.1 0 1,0 8.2,0a4.1,4.1 0 1,0 -8.2,0M1017.4,1009.74a4.1,4.1 0 1,0 8.2,0a4.1,4.1 0 1,0 -8.2,0M1020.7,1014.8a4.1,4.1 0 1,0 8.2,0a4.1,4.1 0 1,0 -8.2,0M1024,1015.55a4.1,4.1 0 1,0 8.2,0a4.1,4.1 0 1,0 -8.2,0M1027.3,1017.4a4.1,4.1 0 1,0 8.2,0a4.1,4.1 0 1,0 -8.2,0M1030.6,1021.09a4.1,4.1 0 1,0 8.2,0a4.1,4.1 0 1,0 -8.2,0M1033.9,1024.64a4.1,4.1 0 1,0 8.2,0a4.1,4.1 0 1,0 -8.2,0M1037.2,1027.44a4.1,4.1 0 1,0 8.2,0a4.1,4.1 0 1,0 -8.2,0M1040.5,1029.26a4.1,4.1 0 1,0 8.2,0a4.1,4.1 0 1,0 -8.2,0M1043.8,1030.91a4.1,4.1 0 1,0 8.2,0a4.1,4.1 0 1,0 -8.2,0M1047.1,1033.57a4.1,4.1 0 1,0 8.2,0a4.1,4.1 0 1,0 -8.2,0M1050.4,1035.42a4.1,4.1 0 1,0 8.2,0a4.1,4.1 0 1,0 -8.2,0M1053.7,1037.73a4.1,4.1 0 1,0 8.2,0a4.1,4.1 0 1,0 -8.2,0M1057,1038.67a4.1,4.1 0 1,0 8.2,0a4.1,4.1 0 1,0 -8.2,0M1060.3,1040.03a4.1,4.1 0 1,0 8.2,0a4.1,4.1 0 1,0 -8.2,0M1063.6,1043.56a4.1,4.1 0 1,0 8.2,0a4.1,4.1 0 1,0 -8.2,0M1066.9,1042.58a4.1,4.1 0 1,0 8.2,0a4.1,4.1 0 1,0 -8.2,0M1070.2,1046.17a4.1,4.1 0 1,0 8.2,0a4.1,4.1 0 1,0 -8.2,0M1073.5,1046.8a4.1,4.1 0 1,0 8.2,0a4.1,4.1 0 1,0 -8.2,0M1076.8,1049.62a4.1,4.1 0 1,0 8.2,0a4.1,4.1 0 1,0 -8.2,0M1080.1,1049.32a4.1,4.1 0 1,0 8.2,0a4.1,4.1 0 1,0 -8.2,0M1083.4,1048.9a4.1,4.1 0 1,0 8.2,0a4.1,4.1 0 1,0 -8.2,0M1086.7,1049.03a4.1,4.1 0 1,0 8.2,0a4.1,4.1 0 1,0 -8.2,0M1090,1047.89a4.1,4.1 0 1,0 8.2,0a4.1,4.1 0 1,0 -8.2,0M1093.3,1045.01a4.1,4.1 0 1,0 8.2,0a4.1,4.1 0 1,0 -8.2,0M1096.6,1044.56a4.1,4.1 0 1,0 8.2,0a4.1,4.1 0 1,0 -8.2,0M1099.9,1038.46a4.1,4.1 0 1,0 8.2,0a4.1,4.1 0 1,0 -8.2,0M1103.2,1028.07a4.1,4.1 0 1,0 8.2,0a4.1,4.1 0 1,0 -8.2,0M1106.5,1018.53a4.1,4.1 0 1,0 8.2,0a4.1,4.1 0 1,0 -8.2,0M1109.8,999.93a4.1,4.1 0 1,0 8.2,0a4.1,4.1 0 1,0 -8.2,0M1113.1,979.28a4.1,4.1 0 1,0 8.2,0a4.1,4.1 0 1,0 -8.2,0M1116.4,954.21a4.1,4.1 0 1,0 8.2,0a4.1,4.1 0 1,0 -8.2,0M1119.7,922.83a4.1,4.1 0 1,0 8.2,0a4.1,4.1 0 1,0 -8.2,0M1123,891.84a4.1,4.1 0 1,0 8.2,0a4.1,4.1 0 1,0 -8.2,0M1126.3,853.56a4.1,4.1 0 1,0 8.2,0a4.1,4.1 0 1,0 -8.2,0M1129.6,819.12a4.1,4.1 0 1,0 8.2,0a4.1,4.1 0 1,0 -8.2,0M1132.9,786.94a4.1,4.1 0 1,0 8.2,0a4.1,4.1 0 1,0 -8.2,0M1136.2,759.76a4.1,4.1 0 1,0 8.2,0a4.1,4.1 0 1,0 -8.2,0M1139.5,751.56a4.1,4.1 0 1,0 8.2,0a4.1,4.1 0 1,0 -8.2,0M1142.8,752.97a4.1,4.1 0 1,0 8.2,0a4.1,4.1 0 1,0 -8.2,0M1146.1,766.47a4.1,4.1 0 1,0 8.2,0a4.1,4.1 0 1,0 -8.2,0M1149.4,781.78a4.1,4.1 0 1,0 8.2,0a4.1,4.1 0 1,0 -8.2,0M1152.7,799.82a4.1,4.1 0 1,0 8.2,0a4.1,4.1 0 1,0 -8.2,0M1156,816.1a4.1,4.1 0 1,0 8.2,0a4.1,4.1 0 1,0 -8.2,0M1159.3,833.66a4.1,4.1 0 1,0 8.2,0a4.1,4.1 0 1,0 -8.2,0M1162.6,853.05a4.1,4.1 0 1,0 8.2,0a4.1,4.1 0 1,0 -8.2,0M1165.9,866.37a4.1,4.1 0 1,0 8.2,0a4.1,4.1 0 1,0 -8.2,0M1169.2,873.49a4.1,4.1 0 1,0 8.2,0a4.1,4.1 0 1,0 -8.2,0M1172.5,879.78a4.1,4.1 0 1,0 8.2,0a4.1,4.1 0 1,0 -8.2,0M1175.8,885.98a4.1,4.1 0 1,0 8.2,0a4.1,4.1 0 1,0 -8.2,0M1179.1,891.61a4.1,4.1 0 1,0 8.2,0a4.1,4.1 0 1,0 -8.2,0M1182.4,894.98a4.1,4.1 0 1,0 8.2,0a4.1,4.1 0 1,0 -8.2,0M1185.7,900.22a4.1,4.1 0 1,0 8.2,0a4.1,4.1 0 1,0 -8.2,0M1189,908.22a4.1,4.1 0 1,0 8.2,0a4.1,4.1 0 1,0 -8.2,0M1192.3,911.94a4.1,4.1 0 1,0 8.2,0a4.1,4.1 0 1,0 -8.2,0M1195.6,916.94a4.1,4.1 0 1,0 8.2,0a4.1,4.1 0 1,0 -8.2,0M1198.9,924.33a4.1,4.1 0 1,0 8.2,0a4.1,4.1 0 1,0 -8.2,0M1202.2,928.23a4.1,4.1 0 1,0 8.2,0a4.1,4.1 0 1,0 -8.2,0M1205.5,935.09a4.1,4.1 0 1,0 8.2,0a4.1,4.1 0 1,0 -8.2,0M1208.8,939.76a4.1,4.1 0 1,0 8.2,0a4.1,4.1 0 1,0 -8.2,0M1212.1,943a4.1,4.1 0 1,0 8.2,0a4.1,4.1 0 1,0 -8.2,0M1215.4,947.94a4.1,4.1 0 1,0 8.2,0a4.1,4.1 0 1,0 -8.2,0M1218.7,951.81a4.1,4.1 0 1,0 8.2,0a4.1,4.1 0 1,0 -8.2,0M1222,957.72a4.1,4.1 0 1,0 8.2,0a4.1,4.1 0 1,0 -8.2,0M1225.3,960.51a4.1,4.1 0 1,0 8.2,0a4.1,4.1 0 1,0 -8.2,0M1228.6,964.33a4.1,4.1 0 1,0 8.2,0a4.1,4.1 0 1,0 -8.2,0M1231.9,969.41a4.1,4.1 0 1,0 8.2,0a4.1,4.1 0 1,0 -8.2,0M1235.2,970.99a4.1,4.1 0 1,0 8.2,0a4.1,4.1 0 1,0 -8.2,0M1238.5,974.79a4.1,4.1 0 1,0 8.2,0a4.1,4.1 0 1,0 -8.2,0M1241.8,977.45a4.1,4.1 0 1,0 8.2,0a4.1,4.1 0 1,0 -8.2,0M1245.1,976.72a4.1,4.1 0 1,0 8.2,0a4.1,4.1 0 1,0 -8.2,0M1248.4,978.4a4.1,4.1 0 1,0 8.2,0a4.1,4.1 0 1,0 -8.2,0M1251.7,980.59a4.1,4.1 0 1,0 8.2,0a4.1,4.1 0 1,0 -8.2,0M1255,981.77a4.1,4.1 0 1,0 8.2,0a4.1,4.1 0 1,0 -8.2,0M1258.3,979.03a4.1,4.1 0 1,0 8.2,0a4.1,4.1 0 1,0 -8.2,0M1261.6,978.61a4.1,4.1 0 1,0 8.2,0a4.1,4.1 0 1,0 -8.2,0M1264.9,976.52a4.1,4.1 0 1,0 8.2,0a4.1,4.1 0 1,0 -8.2,0M1268.2,976.76a4.1,4.1 0 1,0 8.2,0a4.1,4.1 0 1,0 -8.2,0M1271.5,973.04a4.1,4.1 0 1,0 8.2,0a4.1,4.1 0 1,0 -8.2,0M1274.8,970.14a4.1,4.1 0 1,0 8.2,0a4.1,4.1 0 1,0 -8.2,0M1278.1,966.2a4.1,4.1 0 1,0 8.2,0a4.1,4.1 0 1,0 -8.2,0M1281.4,972.78a4.1,4.1 0 1,0 8.2,0a4.1,4.1 0 1,0 -8.2,0" fill="#6f6fee" stroke="#2a2ae0" stroke-width="1.1"/>
<g opacity="0.4">
<polyline points="807,675.14 810.3,678.45 813.6,680.87 816.9,687.71 820.2,689.68 823.5,697.51 826.8,702.38 830.1,710.97 833.4,719.03 836.7,730.43 840,738.88 843.3,751.34 846.6,764.18 849.9,779.4 853.2,794.65 856.5,808.13 859.8,826.32 863.1,842.82 866.4,855.66 869.7,866.19 873,874.7 876.3,874.79 879.6,868.84 882.9,866.63 886.2,860.6 889.5,852.27 892.8,838.17 896.1,820.38 899.4,805.87 902.7,791.38 906,785.12 909.3,782.12 912.6,784.06 915.9,789.57 919.2,797.2 922.5,807.59 925.8,818.46 929.1,826.24 932.4,833.69 935.7,842.73 939,851.17 942.3,858.22 945.6,866.93 948.9,874.07 952.2,877.78 955.5,882.28 958.8,884.56 962.1,887.83 965.4,896.76 968.7,905.25 972,914.47 975.3,920.77 978.6,930.73 981.9,940.64 985.2,947.6 988.5,954.56 991.8,960.9 995.1,967.6 998.4,972.02 1001.7,978.83 1005,985.45 1008.3,991.27 1011.6,999.02 1014.9,1002.23 1018.2,1006.82 1021.5,1012.3 1024.8,1013.2 1028.1,1015.48 1031.4,1019.12 1034.7,1021.18 1038,1025.91 1041.3,1027.07 1044.6,1029.52 1047.9,1030.67 1051.2,1033.93 1054.5,1035.48 1057.8,1037.53 1061.1,1040.11 1064.4,1039.57 1067.7,1044.07 1071,1044.88 1074.3,1046.83 1077.6,1047.67 1080.9,1049.43 1084.2,1048.93 1087.5,1048.89 1090.8,1048.36 1094.1,1048.61 1097.4,1046.34 1100.7,1043.83 1104,1040.91 1107.3,1030.63 1110.6,1018.52 1113.9,998.71 1117.2,980.47 1120.5,954.78 1123.8,924.92 1127.1,891.42 1130.4,856.39 1133.7,821.66 1137,789.45 1140.3,765.12 1143.6,757.96 1146.9,756.69 1150.2,771.37 1153.5,786.46 1156.8,801.83 1160.1,818.82 1163.4,835.16 1166.7,854.76 1170,867.5 1173.3,874.93 1176.6,881.32 1179.9,884.54 1183.2,890.77 1186.5,895.49 1189.8,900.64 1193.1,908.45 1196.4,911.62 1199.7,919.74 1203,924.1 1206.3,930.04 1209.6,933.58 1212.9,940.91 1216.2,945 1219.5,947.37 1222.8,951.99 1226.1,956.22 1229.4,961.67 1232.7,964.25 1236,969.73 1239.3,972.15 1242.6,976.1 1245.9,977.16 1249.2,979.18 1252.5,979.4 1255.8,980.8 1259.1,980.56 1262.4,981.47 1265.7,980.21 1269,979.35 1272.3,976.82 1275.6,973.04 1278.9,969.59 1282.2,966.19 1285.5,975.24" fill="none" stroke="#d030e0" stroke-width="1" stroke-linejoin="round"/>
<path d="M803.2,675.14a3.8,3.8 0 1,0 7.6,0a3.8,3.8 0 1,0 -7.6,0M806.5,678.45a3.8,3.8 0 1,0 7.6,0a3.8,3.8 0 1,0 -7.6,0M809.8,680.87a3.8,3.8 0 1,0 7.6,0a3.8,3.8 0 1,0 -7.6,0M813.1,687.71a3.8,3.8 0 1,0 7.6,0a3.8,3.8 0 1,0 -7.6,0M816.4,689.68a3.8,3.8 0 1,0 7.6,0a3.8,3.8 0 1,0 -7.6,0M819.7,697.51a3.8,3.8 0 1,0 7.6,0a3.8,3.8 0 1,0 -7.6,0M823,702.38a3.8,3.8 0 1,0 7.6,0a3.8,3.8 0 1,0 -7.6,0M826.3,710.97a3.8,3.8 0 1,0 7.6,0a3.8,3.8 0 1,0 -7.6,0M829.6,719.03a3.8,3.8 0 1,0 7.6,0a3.8,3.8 0 1,0 -7.6,0M832.9,730.43a3.8,3.8 0 1,0 7.6,0a3.8,3.8 0 1,0 -7.6,0M836.2,738.88a3.8,3.8 0 1,0 7.6,0a3.8,3.8 0 1,0 -7.6,0M839.5,751.34a3.8,3.8 0 1,0 7.6,0a3.8,3.8 0 1,0 -7.6,0M842.8,764.18a3.8,3.8 0 1,0 7.6,0a3.8,3.8 0 1,0 -7.6,0M846.1,779.4a3.8,3.8 0 1,0 7.6,0a3.8,3.8 0 1,0 -7.6,0M849.4,794.65a3.8,3.8 0 1,0 7.6,0a3.8,3.8 0 1,0 -7.6,0M852.7,808.13a3.8,3.8 0 1,0 7.6,0a3.8,3.8 0 1,0 -7.6,0M856,826.32a3.8,3.8 0 1,0 7.6,0a3.8,3.8 0 1,0 -7.6,0M859.3,842.82a3.8,3.8 0 1,0 7.6,0a3.8,3.8 0 1,0 -7.6,0M862.6,855.66a3.8,3.8 0 1,0 7.6,0a3.8,3.8 0 1,0 -7.6,0M865.9,866.19a3.8,3.8 0 1,0 7.6,0a3.8,3.8 0 1,0 -7.6,0M869.2,874.7a3.8,3.8 0 1,0 7.6,0a3.8,3.8 0 1,0 -7.6,0M872.5,874.79a3.8,3.8 0 1,0 7.6,0a3.8,3.8 0 1,0 -7.6,0M875.8,868.84a3.8,3.8 0 1,0 7.6,0a3.8,3.8 0 1,0 -7.6,0M879.1,866.63a3.8,3.8 0 1,0 7.6,0a3.8,3.8 0 1,0 -7.6,0M882.4,860.6a3.8,3.8 0 1,0 7.6,0a3.8,3.8 0 1,0 -7.6,0M885.7,852.27a3.8,3.8 0 1,0 7.6,0a3.8,3.8 0 1,0 -7.6,0M889,838.17a3.8,3.8 0 1,0 7.6,0a3.8,3.8 0 1,0 -7.6,0M892.3,820.38a3.8,3.8 0 1,0 7.6,0a3.8,3.8 0 1,0 -7.6,0M895.6,805.87a3.8,3.8 0 1,0 7.6,0a3.8,3.8 0 1,0 -7.6,0M898.9,791.38a3.8,3.8 0 1,0 7.6,0a3.8,3.8 0 1,0 -7.6,0M902.2,785.12a3.8,3.8 0 1,0 7.6,0a3.8,3.8 0 1,0 -7.6,0M905.5,782.12a3.8,3.8 0 1,0 7.6,0a3.8,3.8 0 1,0 -7.6,0M908.8,784.06a3.8,3.8 0 1,0 7.6,0a3.8,3.8 0 1,0 -7.6,0M912.1,789.57a3.8,3.8 0 1,0 7.6,0a3.8,3.8 0 1,0 -7.6,0M915.4,797.2a3.8,3.8 0 1,0 7.6,0a3.8,3.8 0 1,0 -7.6,0M918.7,807.59a3.8,3.8 0 1,0 7.6,0a3.8,3.8 0 1,0 -7.6,0M922,818.46a3.8,3.8 0 1,0 7.6,0a3.8,3.8 0 1,0 -7.6,0M925.3,826.24a3.8,3.8 0 1,0 7.6,0a3.8,3.8 0 1,0 -7.6,0M928.6,833.69a3.8,3.8 0 1,0 7.6,0a3.8,3.8 0 1,0 -7.6,0M931.9,842.73a3.8,3.8 0 1,0 7.6,0a3.8,3.8 0 1,0 -7.6,0M935.2,851.17a3.8,3.8 0 1,0 7.6,0a3.8,3.8 0 1,0 -7.6,0M938.5,858.22a3.8,3.8 0 1,0 7.6,0a3.8,3.8 0 1,0 -7.6,0M941.8,866.93a3.8,3.8 0 1,0 7.6,0a3.8,3.8 0 1,0 -7.6,0M945.1,874.07a3.8,3.8 0 1,0 7.6,0a3.8,3.8 0 1,0 -7.6,0M948.4,877.78a3.8,3.8 0 1,0 7.6,0a3.8,3.8 0 1,0 -7.6,0M951.7,882.28a3.8,3.8 0 1,0 7.6,0a3.8,3.8 0 1,0 -7.6,0M955,884.56a3.8,3.8 0 1,0 7.6,0a3.8,3.8 0 1,0 -7.6,0M958.3,887.83a3.8,3.8 0 1,0 7.6,0a3.8,3.8 0 1,0 -7.6,0M961.6,896.76a3.8,3.8 0 1,0 7.6,0a3.8,3.8 0 1,0 -7.6,0M964.9,905.25a3.8,3.8 0 1,0 7.6,0a3.8,3.8 0 1,0 -7.6,0M968.2,914.47a3.8,3.8 0 1,0 7.6,0a3.8,3.8 0 1,0 -7.6,0M971.5,920.77a3.8,3.8 0 1,0 7.6,0a3.8,3.8 0 1,0 -7.6,0M974.8,930.73a3.8,3.8 0 1,0 7.6,0a3.8,3.8 0 1,0 -7.6,0M978.1,940.64a3.8,3.8 0 1,0 7.6,0a3.8,3.8 0 1,0 -7.6,0M981.4,947.6a3.8,3.8 0 1,0 7.6,0a3.8,3.8 0 1,0 -7.6,0M984.7,954.56a3.8,3.8 0 1,0 7.6,0a3.8,3.8 0 1,0 -7.6,0M988,960.9a3.8,3.8 0 1,0 7.6,0a3.8,3.8 0 1,0 -7.6,0M991.3,967.6a3.8,3.8 0 1,0 7.6,0a3.8,3.8 0 1,0 -7.6,0M994.6,972.02a3.8,3.8 0 1,0 7.6,0a3.8,3.8 0 1,0 -7.6,0M997.9,978.83a3.8,3.8 0 1,0 7.6,0a3.8,3.8 0 1,0 -7.6,0M1001.2,985.45a3.8,3.8 0 1,0 7.6,0a3.8,3.8 0 1,0 -7.6,0M1004.5,991.27a3.8,3.8 0 1,0 7.6,0a3.8,3.8 0 1,0 -7.6,0M1007.8,999.02a3.8,3.8 0 1,0 7.6,0a3.8,3.8 0 1,0 -7.6,0M1011.1,1002.23a3.8,3.8 0 1,0 7.6,0a3.8,3.8 0 1,0 -7.6,0M1014.4,1006.82a3.8,3.8 0 1,0 7.6,0a3.8,3.8 0 1,0 -7.6,0M1017.7,1012.3a3.8,3.8 0 1,0 7.6,0a3.8,3.8 0 1,0 -7.6,0M1021,1013.2a3.8,3.8 0 1,0 7.6,0a3.8,3.8 0 1,0 -7.6,0M1024.3,1015.48a3.8,3.8 0 1,0 7.6,0a3.8,3.8 0 1,0 -7.6,0M1027.6,1019.12a3.8,3.8 0 1,0 7.6,0a3.8,3.8 0 1,0 -7.6,0M1030.9,1021.18a3.8,3.8 0 1,0 7.6,0a3.8,3.8 0 1,0 -7.6,0M1034.2,1025.91a3.8,3.8 0 1,0 7.6,0a3.8,3.8 0 1,0 -7.6,0M1037.5,1027.07a3.8,3.8 0 1,0 7.6,0a3.8,3.8 0 1,0 -7.6,0M1040.8,1029.52a3.8,3.8 0 1,0 7.6,0a3.8,3.8 0 1,0 -7.6,0M1044.1,1030.67a3.8,3.8 0 1,0 7.6,0a3.8,3.8 0 1,0 -7.6,0M1047.4,1033.93a3.8,3.8 0 1,0 7.6,0a3.8,3.8 0 1,0 -7.6,0M1050.7,1035.48a3.8,3.8 0 1,0 7.6,0a3.8,3.8 0 1,0 -7.6,0M1054,1037.53a3.8,3.8 0 1,0 7.6,0a3.8,3.8 0 1,0 -7.6,0M1057.3,1040.11a3.8,3.8 0 1,0 7.6,0a3.8,3.8 0 1,0 -7.6,0M1060.6,1039.57a3.8,3.8 0 1,0 7.6,0a3.8,3.8 0 1,0 -7.6,0M1063.9,1044.07a3.8,3.8 0 1,0 7.6,0a3.8,3.8 0 1,0 -7.6,0M1067.2,1044.88a3.8,3.8 0 1,0 7.6,0a3.8,3.8 0 1,0 -7.6,0M1070.5,1046.83a3.8,3.8 0 1,0 7.6,0a3.8,3.8 0 1,0 -7.6,0M1073.8,1047.67a3.8,3.8 0 1,0 7.6,0a3.8,3.8 0 1,0 -7.6,0M1077.1,1049.43a3.8,3.8 0 1,0 7.6,0a3.8,3.8 0 1,0 -7.6,0M1080.4,1048.93a3.8,3.8 0 1,0 7.6,0a3.8,3.8 0 1,0 -7.6,0M1083.7,1048.89a3.8,3.8 0 1,0 7.6,0a3.8,3.8 0 1,0 -7.6,0M1087,1048.36a3.8,3.8 0 1,0 7.6,0a3.8,3.8 0 1,0 -7.6,0M1090.3,1048.61a3.8,3.8 0 1,0 7.6,0a3.8,3.8 0 1,0 -7.6,0M1093.6,1046.34a3.8,3.8 0 1,0 7.6,0a3.8,3.8 0 1,0 -7.6,0M1096.9,1043.83a3.8,3.8 0 1,0 7.6,0a3.8,3.8 0 1,0 -7.6,0M1100.2,1040.91a3.8,3.8 0 1,0 7.6,0a3.8,3.8 0 1,0 -7.6,0M1103.5,1030.63a3.8,3.8 0 1,0 7.6,0a3.8,3.8 0 1,0 -7.6,0M1106.8,1018.52a3.8,3.8 0 1,0 7.6,0a3.8,3.8 0 1,0 -7.6,0M1110.1,998.71a3.8,3.8 0 1,0 7.6,0a3.8,3.8 0 1,0 -7.6,0M1113.4,980.47a3.8,3.8 0 1,0 7.6,0a3.8,3.8 0 1,0 -7.6,0M1116.7,954.78a3.8,3.8 0 1,0 7.6,0a3.8,3.8 0 1,0 -7.6,0M1120,924.92a3.8,3.8 0 1,0 7.6,0a3.8,3.8 0 1,0 -7.6,0M1123.3,891.42a3.8,3.8 0 1,0 7.6,0a3.8,3.8 0 1,0 -7.6,0M1126.6,856.39a3.8,3.8 0 1,0 7.6,0a3.8,3.8 0 1,0 -7.6,0M1129.9,821.66a3.8,3.8 0 1,0 7.6,0a3.8,3.8 0 1,0 -7.6,0M1133.2,789.45a3.8,3.8 0 1,0 7.6,0a3.8,3.8 0 1,0 -7.6,0M1136.5,765.12a3.8,3.8 0 1,0 7.6,0a3.8,3.8 0 1,0 -7.6,0M1139.8,757.96a3.8,3.8 0 1,0 7.6,0a3.8,3.8 0 1,0 -7.6,0M1143.1,756.69a3.8,3.8 0 1,0 7.6,0a3.8,3.8 0 1,0 -7.6,0M1146.4,771.37a3.8,3.8 0 1,0 7.6,0a3.8,3.8 0 1,0 -7.6,0M1149.7,786.46a3.8,3.8 0 1,0 7.6,0a3.8,3.8 0 1,0 -7.6,0M1153,801.83a3.8,3.8 0 1,0 7.6,0a3.8,3.8 0 1,0 -7.6,0M1156.3,818.82a3.8,3.8 0 1,0 7.6,0a3.8,3.8 0 1,0 -7.6,0M1159.6,835.16a3.8,3.8 0 1,0 7.6,0a3.8,3.8 0 1,0 -7.6,0M1162.9,854.76a3.8,3.8 0 1,0 7.6,0a3.8,3.8 0 1,0 -7.6,0M1166.2,867.5a3.8,3.8 0 1,0 7.6,0a3.8,3.8 0 1,0 -7.6,0M1169.5,874.93a3.8,3.8 0 1,0 7.6,0a3.8,3.8 0 1,0 -7.6,0M1172.8,881.32a3.8,3.8 0 1,0 7.6,0a3.8,3.8 0 1,0 -7.6,0M1176.1,884.54a3.8,3.8 0 1,0 7.6,0a3.8,3.8 0 1,0 -7.6,0M1179.4,890.77a3.8,3.8 0 1,0 7.6,0a3.8,3.8 0 1,0 -7.6,0M1182.7,895.49a3.8,3.8 0 1,0 7.6,0a3.8,3.8 0 1,0 -7.6,0M1186,900.64a3.8,3.8 0 1,0 7.6,0a3.8,3.8 0 1,0 -7.6,0M1189.3,908.45a3.8,3.8 0 1,0 7.6,0a3.8,3.8 0 1,0 -7.6,0M1192.6,911.62a3.8,3.8 0 1,0 7.6,0a3.8,3.8 0 1,0 -7.6,0M1195.9,919.74a3.8,3.8 0 1,0 7.6,0a3.8,3.8 0 1,0 -7.6,0M1199.2,924.1a3.8,3.8 0 1,0 7.6,0a3.8,3.8 0 1,0 -7.6,0M1202.5,930.04a3.8,3.8 0 1,0 7.6,0a3.8,3.8 0 1,0 -7.6,0M1205.8,933.58a3.8,3.8 0 1,0 7.6,0a3.8,3.8 0 1,0 -7.6,0M1209.1,940.91a3.8,3.8 0 1,0 7.6,0a3.8,3.8 0 1,0 -7.6,0M1212.4,945a3.8,3.8 0 1,0 7.6,0a3.8,3.8 0 1,0 -7.6,0M1215.7,947.37a3.8,3.8 0 1,0 7.6,0a3.8,3.8 0 1,0 -7.6,0M1219,951.99a3.8,3.8 0 1,0 7.6,0a3.8,3.8 0 1,0 -7.6,0M1222.3,956.22a3.8,3.8 0 1,0 7.6,0a3.8,3.8 0 1,0 -7.6,0M1225.6,961.67a3.8,3.8 0 1,0 7.6,0a3.8,3.8 0 1,0 -7.6,0M1228.9,964.25a3.8,3.8 0 1,0 7.6,0a3.8,3.8 0 1,0 -7.6,0M1232.2,969.73a3.8,3.8 0 1,0 7.6,0a3.8,3.8 0 1,0 -7.6,0M1235.5,972.15a3.8,3.8 0 1,0 7.6,0a3.8,3.8 0 1,0 -7.6,0M1238.8,976.1a3.8,3.8 0 1,0 7.6,0a3.8,3.8 0 1,0 -7.6,0M1242.1,977.16a3.8,3.8 0 1,0 7.6,0a3.8,3.8 0 1,0 -7.6,0M1245.4,979.18a3.8,3.8 0 1,0 7.6,0a3.8,3.8 0 1,0 -7.6,0M1248.7,979.4a3.8,3.8 0 1,0 7.6,0a3.8,3.8 0 1,0 -7.6,0M1252,980.8a3.8,3.8 0 1,0 7.6,0a3.8,3.8 0 1,0 -7.6,0M1255.3,980.56a3.8,3.8 0 1,0 7.6,0a3.8,3.8 0 1,0 -7.6,0M1258.6,981.47a3.8,3.8 0 1,0 7.6,0a3.8,3.8 0 1,0 -7.6,0M1261.9,980.21a3.8,3.8 0 1,0 7.6,0a3.8,3.8 0 1,0 -7.6,0M1265.2,979.35a3.8,3.8 0 1,0 7.6,0a3.8,3.8 0 1,0 -7.6,0M1268.5,976.82a3.8,3.8 0 1,0 7.6,0a3.8,3.8 0 1,0 -7.6,0M1271.8,973.04a3.8,3.8 0 1,0 7.6,0a3.8,3.8 0 1,0 -7.6,0M1275.1,969.59a3.8,3.8 0 1,0 7.6,0a3.8,3.8 0 1,0 -7.6,0M1278.4,966.19a3.8,3.8 0 1,0 7.6,0a3.8,3.8 0 1,0 -7.6,0M1281.7,975.24a3.8,3.8 0 1,0 7.6,0a3.8,3.8 0 1,0 -7.6,0" fill="#c070ee" stroke="#d030e0" stroke-width="1.1"/>
</g>
</g>
<text x="903.5" y="713" font-family='"Liberation Sans", Arial, sans-serif' font-size="31" font-weight="bold" fill="#000" textLength="144" lengthAdjust="spacingAndGlyphs">E<tspan font-size="17" dy="3">i=</tspan><tspan dy="-3">700 meV</tspan></text>
<text x="896.5" y="756.7" font-family='"Liberation Sans", Arial, sans-serif' font-size="31.5" font-weight="bold" fill="#000"><tspan textLength="136" lengthAdjust="spacingAndGlyphs">Q=[2,10] Å</tspan><tspan font-size="18" dy="-12">-1</tspan></text>
<rect x="1169.6" y="675.1" width="121.2" height="203" stroke="#1a1aee" stroke-width="3.2" fill="#fff"/>
<text x="1211.8" y="708.2" font-size="29.5" font-weight="bold" fill="#000" text-anchor="start" font-family='"Liberation Sans", Arial, sans-serif' textLength="68" lengthAdjust="spacingAndGlyphs">200K</text>
<circle cx="1186.7" cy="697.3" r="3.8" fill="#000"/>
<text x="1213.5" y="746.8" font-size="29.5" font-weight="bold" fill="#ee1111" text-anchor="start" font-family='"Liberation Sans", Arial, sans-serif' textLength="66.3" lengthAdjust="spacingAndGlyphs">180K</text>
<circle cx="1186.7" cy="735.5" r="3.8" fill="#ee1111"/>
<text x="1213.5" y="787.7" font-size="29.5" font-weight="bold" fill="#11ee11" text-anchor="start" font-family='"Liberation Sans", Arial, sans-serif' textLength="66.3" lengthAdjust="spacingAndGlyphs">100K</text>
<circle cx="1186.7" cy="776.4" r="3.8" fill="#11ee11"/>
<text x="1220.3" y="824.2" font-size="29.5" font-weight="bold" fill="#ee11ee" text-anchor="start" font-family='"Liberation Sans", Arial, sans-serif' textLength="52.7" lengthAdjust="spacingAndGlyphs">50K</text>
<circle cx="1194.2" cy="813.3" r="3.8" fill="#ee11ee"/>
<text x="1228.9" y="864.5" font-size="29.5" font-weight="bold" fill="#1111ee" text-anchor="start" font-family='"Liberation Sans", Arial, sans-serif' textLength="35.6" lengthAdjust="spacingAndGlyphs">5K</text>
<circle cx="1203.1" cy="854.2" r="3.8" fill="#1111ee"/>
<text x="1114" y="688" font-size="13" font-weight="normal" fill="#777" text-anchor="start" font-family='"Liberation Sans", Arial, sans-serif'>1</text>
<path d="M1443.2,1067.1v-3M1459.6,1067.1v-3M1476,1067.1v-3M1492.4,1067.1v-3M1508.8,1067.1v-3M1525.2,1067.1v-3M1541.6,1067.1v-3M1558,1067.1v-3M1574.4,1067.1v-3M1590.8,1067.1v-3M1607.2,1067.1v-3M1623.6,1067.1v-3M1640,1067.1v-3M1656.4,1067.1v-3M1672.8,1067.1v-3M1689.2,1067.1v-3M1705.6,1067.1v-3M1722,1067.1v-3M1738.4,1067.1v-3M1754.8,1067.1v-3M1771.2,1067.1v-3M1787.6,1067.1v-3M1804,1067.1v-3M1820.4,1067.1v-3M1836.8,1067.1v-3M1853.2,1067.1v-3M1869.6,1067.1v-3M1886,1067.1v-3M1902.4,1067.1v-3M1918.8,1067.1v-3M1935.2,1067.1v-3M1951.6,1067.1v-3M1968,1067.1v-3M1984.4,1067.1v-3" stroke="#000" stroke-width="2" fill="none"/>
<path d="M1443.2,660.5v3M1459.6,660.5v3M1476,660.5v3M1492.4,660.5v3M1508.8,660.5v3M1525.2,660.5v3M1541.6,660.5v3M1558,660.5v3M1574.4,660.5v3M1590.8,660.5v3M1607.2,660.5v3M1623.6,660.5v3M1640,660.5v3M1656.4,660.5v3M1672.8,660.5v3M1689.2,660.5v3M1705.6,660.5v3M1722,660.5v3M1738.4,660.5v3M1754.8,660.5v3M1771.2,660.5v3M1787.6,660.5v3M1804,660.5v3M1820.4,660.5v3M1836.8,660.5v3M1853.2,660.5v3M1869.6,660.5v3M1886,660.5v3M1902.4,660.5v3M1918.8,660.5v3M1935.2,660.5v3M1951.6,660.5v3M1968,660.5v3M1984.4,660.5v3" stroke="#000" stroke-width="2" fill="none"/>
<path d="M1435.7,1053h3M1435.7,1022.4h3M1435.7,991.8h3M1435.7,961.2h3M1435.7,930.6h3M1435.7,900h3M1435.7,869.4h3M1435.7,838.8h3M1435.7,808.2h3M1435.7,777.6h3M1435.7,747h3M1435.7,716.4h3M1435.7,685.8h3" stroke="#000" stroke-width="2" fill="none"/>
<path d="M1990,1053h-3M1990,1022.4h-3M1990,991.8h-3M1990,961.2h-3M1990,930.6h-3M1990,900h-3M1990,869.4h-3M1990,838.8h-3M1990,808.2h-3M1990,777.6h-3M1990,747h-3M1990,716.4h-3M1990,685.8h-3" stroke="#000" stroke-width="2" fill="none"/>
<line x1="1435.7" y1="660.5" x2="1990" y2="660.5" stroke="#555" stroke-width="1.8"/>
<line x1="1435.7" y1="660.5" x2="1435.7" y2="1067.1" stroke="#000" stroke-width="2.4"/>
<line x1="1990" y1="660.5" x2="1990" y2="1067.1" stroke="#000" stroke-width="2.4"/>
<line x1="1435.7" y1="1067.1" x2="1990" y2="1067.1" stroke="#000" stroke-width="2.4"/>
<text x="1461" y="1098.3" font-size="25" font-weight="normal" fill="#000" text-anchor="middle" font-family='"Liberation Sans", Arial, sans-serif'>375</text>
<text x="1542.6" y="1098.3" font-size="25" font-weight="normal" fill="#000" text-anchor="middle" font-family='"Liberation Sans", Arial, sans-serif'>400</text>
<text x="1626" y="1098.3" font-size="25" font-weight="normal" fill="#000" text-anchor="middle" font-family='"Liberation Sans", Arial, sans-serif'>425</text>
<text x="1709" y="1098.3" font-size="25" font-weight="normal" fill="#000" text-anchor="middle" font-family='"Liberation Sans", Arial, sans-serif'>450</text>
<text x="1792" y="1098.3" font-size="25" font-weight="normal" fill="#000" text-anchor="middle" font-family='"Liberation Sans", Arial, sans-serif'>475</text>
<text x="1874.4" y="1098.3" font-size="25" font-weight="normal" fill="#000" text-anchor="middle" font-family='"Liberation Sans", Arial, sans-serif'>500</text>
<text x="1957.5" y="1098.3" font-size="25" font-weight="normal" fill="#000" text-anchor="middle" font-family='"Liberation Sans", Arial, sans-serif'>525</text>
<text x="1404" y="729.5" font-size="25" font-weight="normal" fill="#000" text-anchor="end" font-family='"Liberation Sans", Arial, sans-serif'>1.5</text>
<text x="1404" y="877.9" font-size="25" font-weight="normal" fill="#000" text-anchor="end" font-family='"Liberation Sans", Arial, sans-serif'>1.0</text>
<text x="1404" y="1039.1" font-size="25" font-weight="normal" fill="#000" text-anchor="end" font-family='"Liberation Sans", Arial, sans-serif'>0.5</text>
<text x="1430" y="657.8" font-family='"Liberation Serif", "Times New Roman", serif' font-size="24" fill="#000" textLength="44.5" lengthAdjust="spacingAndGlyphs">×10</text>
<text x="1476.5" y="649" font-family='"Liberation Serif", "Times New Roman", serif' font-size="16.8" fill="#000" textLength="23" lengthAdjust="spacingAndGlyphs">−5</text>
<text transform="translate(1364.88,664) scale(1.12,1.03)" x="0" y="0" font-family='"Liberation Sans", Arial, sans-serif' font-size="47" font-weight="bold" fill="#000">f</text>
<text x="1651.5" y="1163.8" font-size="38.6" font-weight="normal" fill="#000" text-anchor="start" font-family='"Liberation Sans", Arial, sans-serif' textLength="135.7" lengthAdjust="spacingAndGlyphs">E(meV)</text>
<text x="0" y="0" transform="translate(1338.5,877) rotate(-90)" text-anchor="middle" font-family='"Liberation Sans", Arial, sans-serif' font-size="40" fill="#000">Intensity (arb.units)</text>
<clipPath id="cf"><rect x="1437" y="661.5" width="552" height="404.5"/></clipPath>
<g clip-path="url(#cf)">
<polyline points="1436,1051.12 1439.3,1049.56 1442.6,1048.33 1445.9,1047.11 1449.2,1044.39 1452.5,1042.6 1455.8,1040.88 1459.1,1039.9 1462.4,1036.87 1465.7,1036 1469,1033.93 1472.3,1031.05 1475.6,1028.96 1478.9,1025.51 1482.2,1022.14 1485.5,1019.89 1488.8,1014.97 1492.1,1011.54 1495.4,1009.53 1498.7,1003.95 1502,998.96 1505.3,994.57 1508.6,990.02 1511.9,986.46 1515.2,979.11 1518.5,973.07 1521.8,967.69 1525.1,961.57 1528.4,956.25 1531.7,949.99 1535,943.41 1538.3,937.63 1541.6,933.27 1544.9,928.05 1548.2,920.82 1551.5,916.59 1554.8,911.2 1558.1,904.76 1561.4,897.93 1564.7,892.92 1568,886.75 1571.3,879.73 1574.6,874.49 1577.9,868.64 1581.2,863.37 1584.5,858.95 1587.8,854 1591.1,850.21 1594.4,847.36 1597.7,844.41 1601,841.33 1604.3,838.71 1607.6,837.1 1610.9,835.09 1614.2,832.58 1617.5,830.71 1620.8,829.86 1624.1,827.88 1627.4,826.27 1630.7,823.39 1634,821.73 1637.3,822.48 1640.6,824.28 1643.9,826.83 1647.2,828.13 1650.5,830.02 1653.8,831.6 1657.1,831.79 1660.4,833.06 1663.7,832.29 1667,833.84 1670.3,836.51 1673.6,837.92 1676.9,840.59 1680.2,842.23 1683.5,843.41 1686.8,845.36 1690.1,848.93 1693.4,849.35 1696.7,851.47 1700,854.83 1703.3,858.97 1706.6,862.69 1709.9,865.48 1713.2,868.98 1716.5,872.97 1719.8,874.48 1723.1,876.63 1726.4,879.04 1729.7,881.07 1733,881.97 1736.3,884.08 1739.6,886.11 1742.9,889.15 1746.2,891.07 1749.5,893.55 1752.8,895.16 1756.1,896.22 1759.4,899.12 1762.7,901.49 1766,902.33 1769.3,903.7 1772.6,906.34 1775.9,908.15 1779.2,909.94 1782.5,911.68 1785.8,913.8 1789.1,916.95 1792.4,917.13 1795.7,919.78 1799,920.69 1802.3,922.31 1805.6,925.14 1808.9,926.18 1812.2,927.95 1815.5,930.42 1818.8,932.83 1822.1,934.5 1825.4,937.09 1828.7,938.24 1832,940.44 1835.3,942.77 1838.6,944.29 1841.9,946.35 1845.2,947.22 1848.5,947.94 1851.8,949.24 1855.1,951.75 1858.4,953.27 1861.7,955.95 1865,957.81 1868.3,959.93 1871.6,961.51 1874.9,965.07 1878.2,965.09 1881.5,966.96 1884.8,967.77 1888.1,969.53 1891.4,970.71 1894.7,972.02 1898,973.51 1901.3,974.19 1904.6,974.63 1907.9,976.58 1911.2,977.49 1914.5,978.65 1917.8,978.22 1921.1,980.27 1924.4,981.77 1927.7,981.63 1931,982.5 1934.3,984.59 1937.6,984.76 1940.9,985.8 1944.2,987.53 1947.5,987.49 1950.8,987.82 1954.1,988.51 1957.4,989.4 1960.7,990.7 1964,990.37 1967.3,990.89 1970.6,989.41 1973.9,989.53 1977.2,990 1980.5,989.53 1983.8,989.35 1987.1,989.91" fill="none" stroke="#000" stroke-width="3.8" stroke-linejoin="round"/>
<polyline points="1436,1039.04 1439.3,1037.52 1442.6,1035.93 1445.9,1035.24 1449.2,1032.75 1452.5,1031.4 1455.8,1028.3 1459.1,1027.06 1462.4,1025.68 1465.7,1023.12 1469,1021.9 1472.3,1018.89 1475.6,1014.67 1478.9,1010.7 1482.2,1008.76 1485.5,1004.33 1488.8,1000.3 1492.1,996.98 1495.4,992.56 1498.7,987.93 1502,983.52 1505.3,977.42 1508.6,971.27 1511.9,965.4 1515.2,961 1518.5,953.5 1521.8,947.65 1525.1,939.38 1528.4,930.85 1531.7,922.25 1535,914.24 1538.3,905.31 1541.6,897 1544.9,889.53 1548.2,879.58 1551.5,872.17 1554.8,863.45 1558.1,854.68 1561.4,846.78 1564.7,839.21 1568,830.96 1571.3,822.39 1574.6,814.65 1577.9,806.66 1581.2,799.12 1584.5,792.35 1587.8,783.51 1591.1,779.23 1594.4,778.71 1597.7,778.07 1601,776.16 1604.3,774.94 1607.6,771.51 1610.9,769.12 1614.2,767.87 1617.5,766.62 1620.8,768.02 1624.1,769.12 1627.4,769.72 1630.7,772.12 1634,774.8 1637.3,779.23 1640.6,782.81 1643.9,787.68 1647.2,791.25 1650.5,795.32 1653.8,797.63 1657.1,799.66 1660.4,801.97 1663.7,804.48 1667,806.61 1670.3,809.52 1673.6,812.78 1676.9,814.47 1680.2,818.33 1683.5,821.02 1686.8,824.49 1690.1,828.18 1693.4,831.16 1696.7,833.26 1700,836.41 1703.3,838.91 1706.6,841.91 1709.9,846.52 1713.2,848.82 1716.5,852.45 1719.8,854.15 1723.1,854.95 1726.4,857.77 1729.7,859.33 1733,860.13 1736.3,861.23 1739.6,863.63 1742.9,865.34 1746.2,867.68 1749.5,869.15 1752.8,872.29 1756.1,875.09 1759.4,876.03 1762.7,879.37 1766,881.34 1769.3,883.48 1772.6,886.29 1775.9,887.32 1779.2,890.1 1782.5,890.66 1785.8,894.32 1789.1,895.21 1792.4,897.53 1795.7,901.75 1799,904.1 1802.3,906.65 1805.6,909.4 1808.9,911 1812.2,912.83 1815.5,915.49 1818.8,918.94 1822.1,921.29 1825.4,921.37 1828.7,923.08 1832,924.41 1835.3,926.55 1838.6,926.25 1841.9,929.01 1845.2,929.22 1848.5,931.01 1851.8,931.5 1855.1,933.53 1858.4,938.8 1861.7,941.95 1865,946.2 1868.3,947.01 1871.6,947.8 1874.9,947.58 1878.2,949.51 1881.5,951.23 1884.8,951.63 1888.1,952.16 1891.4,953.69 1894.7,956.46 1898,957.76 1901.3,957.58 1904.6,958.69 1907.9,960.38 1911.2,960.99 1914.5,961.39 1917.8,963.71 1921.1,963.6 1924.4,963.69 1927.7,963.62 1931,965.05 1934.3,966.04 1937.6,965.55 1940.9,965.46 1944.2,966.6 1947.5,966.96 1950.8,965.98 1954.1,965.53 1957.4,964.84 1960.7,963.65 1964,961.97 1967.3,961.25 1970.6,960.84 1973.9,961.92 1977.2,962.83 1980.5,964.5 1983.8,965.47 1987.1,967.89" fill="none" stroke="#ee1111" stroke-width="3.8" stroke-linejoin="round"/>
<polyline points="1436,1066.13 1439.3,1064.03 1442.6,1062.15 1445.9,1058.97 1449.2,1057.49 1452.5,1056.54 1455.8,1055.19 1459.1,1052.5 1462.4,1051.96 1465.7,1050.51 1469,1048.93 1472.3,1047.04 1475.6,1042.95 1478.9,1039.5 1482.2,1037.1 1485.5,1033.24 1488.8,1029.34 1492.1,1025.18 1495.4,1019.57 1498.7,1012.83 1502,1007.89 1505.3,1002.18 1508.6,995.63 1511.9,988.46 1515.2,980.69 1518.5,972.1 1521.8,964.41 1525.1,955.47 1528.4,944.8 1531.7,934.91 1535,922.11 1538.3,910.43 1541.6,898.91 1544.9,884.62 1548.2,869.47 1551.5,855.8 1554.8,841.24 1558.1,825.62 1561.4,809.46 1564.7,794.72 1568,778.65 1571.3,763.41 1574.6,747.63 1577.9,732.1 1581.2,720.16 1584.5,710.67 1587.8,699.45 1591.1,692.67 1594.4,688.05 1597.7,684.26 1601,681.92 1604.3,681.85 1607.6,680.96 1610.9,680.93 1614.2,682.1 1617.5,689.78 1620.8,698.31 1624.1,705.72 1627.4,715.65 1630.7,725.34 1634,735.57 1637.3,745.91 1640.6,754.09 1643.9,762.46 1647.2,772 1650.5,781.95 1653.8,793.67 1657.1,803.47 1660.4,813.27 1663.7,816.68 1667,822.58 1670.3,827.35 1673.6,831.62 1676.9,835.13 1680.2,837.26 1683.5,838.77 1686.8,841.84 1690.1,844.15 1693.4,845.18 1696.7,847.35 1700,850.35 1703.3,852.43 1706.6,853.69 1709.9,855.35 1713.2,857.25 1716.5,858.54 1719.8,861.32 1723.1,863.12 1726.4,863.89 1729.7,864.7 1733,867.02 1736.3,869.53 1739.6,870.64 1742.9,872.23 1746.2,874.35 1749.5,877.28 1752.8,879.16 1756.1,881.2 1759.4,884.44 1762.7,887.33 1766,890.34 1769.3,892.74 1772.6,894.41 1775.9,897.4 1779.2,899.93 1782.5,902.15 1785.8,904.26 1789.1,906.27 1792.4,908.44 1795.7,911.35 1799,913.24 1802.3,915.72 1805.6,917.01 1808.9,918.43 1812.2,920.41 1815.5,922.63 1818.8,924.27 1822.1,925.26 1825.4,927.18 1828.7,930.53 1832,930.93 1835.3,934.45 1838.6,936.15 1841.9,937.58 1845.2,939.98 1848.5,941.05 1851.8,941.48 1855.1,944.8 1858.4,945.4 1861.7,947.63 1865,948.76 1868.3,948.87 1871.6,950.01 1874.9,951.3 1878.2,953.77 1881.5,954.89 1884.8,954.98 1888.1,955.87 1891.4,957.43 1894.7,959.31 1898,960.47 1901.3,962.08 1904.6,963.65 1907.9,964.65 1911.2,966.17 1914.5,966.08 1917.8,967.31 1921.1,969.67 1924.4,970.05 1927.7,970.34 1931,970.8 1934.3,971.98 1937.6,972.81 1940.9,973.19 1944.2,973.11 1947.5,972.66 1950.8,972.45 1954.1,972.67 1957.4,972.53 1960.7,972.34 1964,972.64 1967.3,971.86 1970.6,972.8 1973.9,972.07 1977.2,971.65 1980.5,971.84 1983.8,971.74 1987.1,971.98" fill="none" stroke="#1a1aee" stroke-width="3.8" stroke-linejoin="round"/>
<polyline points="1436,1062.55 1439.3,1061.33 1442.6,1060.48 1445.9,1059.26 1449.2,1057.97 1452.5,1056.7 1455.8,1057.41 1459.1,1056.12 1462.4,1055.57 1465.7,1054.85 1469,1053.02 1472.3,1049.08 1475.6,1045.99 1478.9,1043.3 1482.2,1040.3 1485.5,1036.95 1488.8,1031.42 1492.1,1025.43 1495.4,1019.84 1498.7,1014.43 1502,1009.01 1505.3,1002.82 1508.6,995.14 1511.9,986.6 1515.2,978.77 1518.5,970.23 1521.8,962.34 1525.1,952.67 1528.4,943.36 1531.7,933.59 1535,923.63 1538.3,910.71 1541.6,895.91 1544.9,880.75 1548.2,866.92 1551.5,851.65 1554.8,837.1 1558.1,822.36 1561.4,806.56 1564.7,791.51 1568,778.61 1571.3,766.53 1574.6,753.12 1577.9,739.23 1581.2,730.75 1584.5,721.72 1587.8,714.41 1591.1,704.76 1594.4,700.55 1597.7,697.71 1601,693.43 1604.3,690.23 1607.6,688.01 1610.9,686.94 1614.2,687.1 1617.5,693.25 1620.8,698.87 1624.1,705.39 1627.4,713.29 1630.7,722.29 1634,730.33 1637.3,738.26 1640.6,748.45 1643.9,756.38 1647.2,765.86 1650.5,775.59 1653.8,784.87 1657.1,795.14 1660.4,804.4 1663.7,813.27 1667,817.59 1670.3,824.57 1673.6,829.63 1676.9,834.92 1680.2,837.71 1683.5,839.64 1686.8,840.9 1690.1,842.91 1693.4,844.74 1696.7,849.44 1700,852.74 1703.3,855.96 1706.6,858.54 1709.9,858.75 1713.2,860.2 1716.5,861.68 1719.8,863.9 1723.1,865.2 1726.4,866.15 1729.7,868.05 1733,868.64 1736.3,871.26 1739.6,874.11 1742.9,874.91 1746.2,878.62 1749.5,881.02 1752.8,882.22 1756.1,885.34 1759.4,887.96 1762.7,888.76 1766,891.64 1769.3,894.18 1772.6,896.59 1775.9,897.62 1779.2,900.47 1782.5,902.37 1785.8,904.62 1789.1,906.38 1792.4,908.59 1795.7,910.11 1799,911.98 1802.3,913.81 1805.6,915.72 1808.9,917.96 1812.2,920.16 1815.5,922.12 1818.8,923.81 1822.1,926.41 1825.4,929.53 1828.7,930.52 1832,933.88 1835.3,935.75 1838.6,937.21 1841.9,938.55 1845.2,941.23 1848.5,942.86 1851.8,943.19 1855.1,945.32 1858.4,946.96 1861.7,948.21 1865,948.8 1868.3,950.5 1871.6,952.86 1874.9,954.2 1878.2,955.42 1881.5,955.87 1884.8,958.1 1888.1,959.06 1891.4,959.69 1894.7,961.51 1898,961.66 1901.3,963.23 1904.6,964.35 1907.9,966.31 1911.2,967.49 1914.5,967.8 1917.8,969.97 1921.1,970.49 1924.4,972.92 1927.7,974.32 1931,975.33 1934.3,974.32 1937.6,974.97 1940.9,974.89 1944.2,975.65 1947.5,974.97 1950.8,975.17 1954.1,975.4 1957.4,976.94 1960.7,976.63 1964,977.26 1967.3,977.3 1970.6,976.12 1973.9,976.12 1977.2,974.88 1980.5,974.69 1983.8,973.39 1987.1,973.39" fill="none" stroke="#ee1aee" stroke-width="3.8" stroke-linejoin="round"/>
<polyline points="1436,1059.09 1439.3,1058.3 1442.6,1057.14 1445.9,1056.19 1449.2,1053.99 1452.5,1054.06 1455.8,1052.19 1459.1,1050.9 1462.4,1049.26 1465.7,1047.92 1469,1045.09 1472.3,1043.61 1475.6,1042.59 1478.9,1039.44 1482.2,1035.88 1485.5,1031.34 1488.8,1028.55 1492.1,1023 1495.4,1020.43 1498.7,1015.37 1502,1008.15 1505.3,1002.72 1508.6,994.99 1511.9,988.72 1515.2,982.28 1518.5,972.98 1521.8,963.76 1525.1,954.35 1528.4,946.5 1531.7,935.89 1535,924.39 1538.3,911.04 1541.6,899.34 1544.9,885.48 1548.2,871.88 1551.5,856.48 1554.8,839.94 1558.1,824.09 1561.4,808.9 1564.7,797.13 1568,786.17 1571.3,775.29 1574.6,762.91 1577.9,754.71 1581.2,746.7 1584.5,738.34 1587.8,729.81 1591.1,724.76 1594.4,721.07 1597.7,718.7 1601,716.68 1604.3,714.63 1607.6,716.16 1610.9,716.5 1614.2,718.91 1617.5,722.78 1620.8,728.33 1624.1,732.9 1627.4,736 1630.7,742.9 1634,747.65 1637.3,754.96 1640.6,759.34 1643.9,764.03 1647.2,769.81 1650.5,773.71 1653.8,778.67 1657.1,786.91 1660.4,794.99 1663.7,801.22 1667,808.65 1670.3,811.79 1673.6,816.02 1676.9,819.89 1680.2,823.24 1683.5,827.8 1686.8,830.68 1690.1,833.49 1693.4,835.99 1696.7,837.97 1700,841.39 1703.3,843.57 1706.6,847.47 1709.9,848.83 1713.2,852.85 1716.5,854.41 1719.8,856.3 1723.1,856.19 1726.4,856.65 1729.7,857.32 1733,857.79 1736.3,856.63 1739.6,859.91 1742.9,864.04 1746.2,867.6 1749.5,873.22 1752.8,877.77 1756.1,879.28 1759.4,882.49 1762.7,883.5 1766,886.33 1769.3,888.25 1772.6,890.43 1775.9,890.32 1779.2,891.05 1782.5,893.22 1785.8,894.57 1789.1,898.39 1792.4,902.54 1795.7,905.33 1799,909.86 1802.3,912.28 1805.6,914.57 1808.9,917.76 1812.2,920.54 1815.5,921.78 1818.8,925.69 1822.1,927.25 1825.4,930.08 1828.7,932.25 1832,935.12 1835.3,937.12 1838.6,938.54 1841.9,939.99 1845.2,941.55 1848.5,942.4 1851.8,943.45 1855.1,945.11 1858.4,946.14 1861.7,946.95 1865,948.21 1868.3,947.72 1871.6,948.86 1874.9,949.48 1878.2,950.39 1881.5,951.47 1884.8,951.58 1888.1,951.14 1891.4,953.38 1894.7,954.33 1898,955.83 1901.3,957.48 1904.6,958.23 1907.9,960.65 1911.2,961.51 1914.5,963.55 1917.8,965.93 1921.1,967.09 1924.4,969.06 1927.7,967.61 1931,963.38 1934.3,963.41 1937.6,965.97 1940.9,967.32 1944.2,969.46 1947.5,970.96 1950.8,971.78 1954.1,971.87 1957.4,972.56 1960.7,972.78 1964,974.93 1967.3,973.23 1970.6,970.98 1973.9,967.52 1977.2,965.81 1980.5,967.02 1983.8,970.13 1987.1,974.71" fill="none" stroke="#11e011" stroke-width="3.8" stroke-linejoin="round"/>
</g>
<text x="1752.4" y="749.2" font-size="22" font-weight="bold" fill="#000" text-anchor="start" font-family='"Liberation Sans", Arial, sans-serif' textLength="86" lengthAdjust="spacingAndGlyphs">200K Fit</text>
<text x="1864.4" y="749.2" font-size="22" font-weight="bold" fill="#ee1111" text-anchor="start" font-family='"Liberation Sans", Arial, sans-serif' textLength="86" lengthAdjust="spacingAndGlyphs">180K Fit</text>
<text x="1735.9" y="789.5" font-size="22" font-weight="bold" fill="#88cc55" text-anchor="start" font-family='"Liberation Sans", Arial, sans-serif' textLength="86" lengthAdjust="spacingAndGlyphs">100K Fit</text>
<text x="1863.7" y="789.5" font-size="22" font-weight="bold" fill="#ee22ee" text-anchor="start" font-family='"Liberation Sans", Arial, sans-serif' textLength="73.7" lengthAdjust="spacingAndGlyphs">50K Fit</text>
<text x="1802.4" y="826.2" font-size="22" font-weight="bold" fill="#1a55ee" text-anchor="start" font-family='"Liberation Sans", Arial, sans-serif' textLength="60.5" lengthAdjust="spacingAndGlyphs">5K Fit</text>
</svg></body></html>
